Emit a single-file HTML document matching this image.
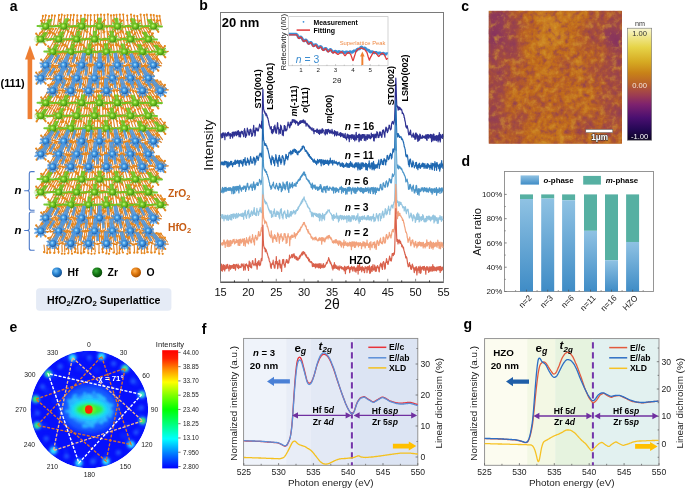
<!DOCTYPE html>
<html><head><meta charset="utf-8"><style>
html,body{margin:0;padding:0;background:#fff;width:685px;height:488px;overflow:hidden}
svg{display:block;font-family:"Liberation Sans", sans-serif;will-change:transform}
</style></head><body>
<svg width="685" height="488" viewBox="0 0 685 488">
<text x="9.80" y="10.60" font-size="14.00" font-weight="bold">a</text>
<defs>
<radialGradient id="gG" cx="0.4" cy="0.4" r="0.6"><stop offset="0" stop-color="#d8ff9a"/><stop offset="0.35" stop-color="#7fd12a"/><stop offset="1" stop-color="#3f8f10"/></radialGradient>
<radialGradient id="gB" cx="0.4" cy="0.4" r="0.6"><stop offset="0" stop-color="#c8f0ff"/><stop offset="0.35" stop-color="#4aa3ea"/><stop offset="1" stop-color="#1d5fae"/></radialGradient>
<radialGradient id="gO" cx="0.4" cy="0.4" r="0.6"><stop offset="0" stop-color="#ffc070"/><stop offset="0.5" stop-color="#e88a20"/><stop offset="1" stop-color="#b85c08"/></radialGradient>
<radialGradient id="gLB" cx="0.38" cy="0.35" r="0.65"><stop offset="0" stop-color="#7cc4f5"/><stop offset="0.5" stop-color="#2a86d4"/><stop offset="1" stop-color="#15508f"/></radialGradient>
<radialGradient id="gLG" cx="0.38" cy="0.35" r="0.65"><stop offset="0" stop-color="#3cae3c"/><stop offset="0.5" stop-color="#167a16"/><stop offset="1" stop-color="#0a4a0a"/></radialGradient>
<radialGradient id="gLO" cx="0.38" cy="0.35" r="0.65"><stop offset="0" stop-color="#ffb050"/><stop offset="0.5" stop-color="#e07a10"/><stop offset="1" stop-color="#a85000"/></radialGradient>
</defs>
<rect x="27.6" y="58.5" width="4.6" height="60.6" fill="#ee7e33"/>
<polygon points="25,59.5 30,45.3 35.1,59.5" fill="#ee7e33"/>
<text x="0.50" y="87.40" font-size="10.90" font-weight="bold">(111)</text>
<path d="M41.3 24.8l1.6 -8.9M44.2 24.8l1.6 -9.5M47.7 24.8l1.4 -8.8M50.6 24.8l1.4 -9.4M53.6 24.8l1.3 -9.1M57.7 24.8l1.2 -9.7M60.6 24.8l1.2 -10.1M63.6 24.8l1.0 -9.3M66.6 24.8l1.0 -9.7M69.9 24.8l0.9 -9.7M73.0 24.8l0.8 -9.9M76.6 24.8l0.7 -9.5M80.4 24.8l0.5 -9.2M84.4 24.8l0.5 -10.0M87.4 24.8l0.4 -9.5M90.4 24.8l0.3 -9.6M94.3 24.8l0.2 -9.7M97.5 24.8l0.1 -9.9M101.0 24.8l-0.0 -10.2M104.4 24.8l-0.1 -9.9M108.1 24.8l-0.3 -10.4M111.3 24.8l-0.3 -9.4M114.2 24.8l-0.4 -9.6M117.0 24.8l-0.5 -10.0M120.4 24.8l-0.6 -10.2M124.0 24.8l-0.7 -10.2M128.0 24.8l-0.8 -9.2M132.0 24.8l-1.0 -10.3M135.1 24.8l-1.0 -9.1M138.3 24.8l-1.0 -8.8M141.9 24.8l-1.3 -10.2M145.4 24.8l-1.3 -9.7M148.3 24.8l-1.5 -10.1M152.3 24.8l-1.6 -9.9M155.3 24.8l-1.6 -9.7M158.4 24.8l-1.6 -8.9M161.2 24.8l-1.6 -8.9M37.1 37.7l6.6 -8.8M39.8 37.7l6.1 -8.7M43.2 37.7l5.9 -9.1M45.6 37.7l5.6 -9.1M48.1 37.7l5.1 -8.7M51.0 37.7l4.9 -9.1M53.8 37.7l5.3 -10.6M56.9 37.7l4.5 -9.6M60.1 37.7l4.4 -10.3M62.7 37.7l3.9 -9.9M66.1 37.7l3.9 -11.1M69.3 37.7l3.5 -11.1M72.0 37.7l2.9 -9.9M74.6 37.7l2.9 -11.2M77.4 37.7l2.7 -11.7M80.7 37.7l2.1 -10.8M83.2 37.7l1.8 -10.5M86.5 37.7l1.6 -11.8M89.7 37.7l1.1 -10.4M93.0 37.7l0.8 -11.8M95.8 37.7l0.4 -10.7M98.5 37.7l0.2 -11.8M101.2 37.7l-0.1 -11.1M104.3 37.7l-0.5 -10.7M107.6 37.7l-0.9 -11.8M111.0 37.7l-1.3 -11.5M113.4 37.7l-1.4 -10.3M116.5 37.7l-1.8 -11.1M119.2 37.7l-2.3 -11.7M121.8 37.7l-2.3 -10.5M124.7 37.7l-2.6 -10.4M128.0 37.7l-3.0 -10.5M131.3 37.7l-3.4 -10.5M134.2 37.7l-3.8 -10.5M136.9 37.7l-3.8 -9.8M139.4 37.7l-4.3 -10.2M142.3 37.7l-4.5 -9.8M145.5 37.7l-4.6 -9.2M148.1 37.7l-5.4 -10.2M151.3 37.7l-5.8 -10.2M154.1 37.7l-5.7 -9.3M48.6 50.3l5.3 -9.2M51.7 50.3l5.3 -10.0M54.3 50.3l4.8 -9.7M57.5 50.3l4.2 -9.2M59.9 50.3l4.1 -9.5M63.0 50.3l4.2 -10.7M66.0 50.3l3.4 -9.6M69.4 50.3l3.1 -9.9M72.1 50.3l3.0 -10.4M75.4 50.3l2.5 -10.0M78.0 50.3l2.3 -10.1M80.4 50.3l2.1 -10.8M83.0 50.3l1.9 -11.0M86.4 50.3l1.5 -11.4M88.8 50.3l1.2 -10.5M91.4 50.3l0.9 -10.3M94.6 50.3l0.6 -10.5M97.5 50.3l0.3 -11.3M100.6 50.3l-0.1 -10.8M103.6 50.3l-0.4 -11.5M106.0 50.3l-0.7 -11.6M108.9 50.3l-1.0 -11.7M111.8 50.3l-1.2 -10.4M114.1 50.3l-1.5 -10.3M117.3 50.3l-1.8 -10.4M119.9 50.3l-2.0 -9.9M123.0 50.3l-2.5 -10.7M126.4 50.3l-2.7 -9.8M129.1 50.3l-3.1 -10.4M131.9 50.3l-3.4 -10.3M135.3 50.3l-3.7 -9.9M138.3 50.3l-4.2 -10.2M140.7 50.3l-4.0 -9.3M143.3 50.3l-4.3 -9.2M146.5 50.3l-5.0 -9.8M149.2 50.3l-5.1 -9.3M151.7 50.3l-5.8 -9.9M154.7 50.3l-5.4 -8.7M157.3 50.3l-5.7 -8.6M160.1 50.3l-6.1 -8.6M162.4 50.3l-6.0 -8.1M164.8 50.3l-6.0 -7.6M41.6 63.7l6.7 -9.8M43.9 63.7l6.6 -10.2M46.5 63.7l5.6 -9.2M48.8 63.7l5.3 -9.2M51.3 63.7l5.6 -10.3M53.7 63.7l4.9 -9.7M56.2 63.7l5.2 -11.0M58.4 63.7l5.0 -11.3M60.7 63.7l4.3 -10.2M62.8 63.7l4.0 -10.1M65.0 63.7l4.1 -11.2M67.3 63.7l3.8 -11.0M69.7 63.7l3.5 -11.1M71.4 63.7l3.4 -11.7M73.3 63.7l3.2 -11.7M75.9 63.7l2.8 -11.4M78.2 63.7l2.6 -12.0M80.5 63.7l2.1 -10.7M82.9 63.7l1.9 -11.2M84.6 63.7l1.7 -11.2M87.0 63.7l1.6 -12.0M89.1 63.7l1.3 -11.6M91.0 63.7l1.1 -12.7M92.7 63.7l0.9 -11.7M95.3 63.7l0.6 -11.7M97.8 63.7l0.2 -11.2M100.0 63.7l0.0 -12.7M102.1 63.7l-0.3 -12.5M104.0 63.7l-0.5 -12.6M105.7 63.7l-0.7 -11.8M107.6 63.7l-0.9 -11.5M109.3 63.7l-1.1 -12.2M111.1 63.7l-1.4 -12.5M113.6 63.7l-1.5 -11.3M116.2 63.7l-1.9 -11.8M118.1 63.7l-2.0 -10.7M120.1 63.7l-2.5 -12.3M122.3 63.7l-2.5 -10.9M124.8 63.7l-3.0 -11.9M127.3 63.7l-3.4 -12.1M129.0 63.7l-3.5 -11.6M131.3 63.7l-3.5 -10.7M133.1 63.7l-3.8 -11.0M135.5 63.7l-4.4 -11.8M137.4 63.7l-4.3 -10.9M139.3 63.7l-4.3 -10.2M141.4 63.7l-4.5 -10.1M144.0 63.7l-4.9 -10.3M145.8 63.7l-5.0 -10.0M147.8 63.7l-5.4 -10.3M150.1 63.7l-5.5 -9.9M152.2 63.7l-5.6 -9.6M154.7 63.7l-5.7 -9.1M157.2 63.7l-6.0 -9.1M159.3 63.7l-6.4 -9.3M161.7 63.7l-7.1 -9.7M37.1 76.6l6.5 -8.6M39.2 76.6l6.8 -9.4M41.7 76.6l6.6 -9.7M43.5 76.6l6.0 -9.2M46.1 76.6l5.9 -9.7M48.4 76.6l5.4 -9.4M50.8 76.6l5.0 -9.2M53.1 76.6l4.9 -9.5M55.4 76.6l5.0 -10.3M57.6 76.6l4.7 -10.2M59.8 76.6l4.0 -9.4M62.4 76.6l4.2 -10.6M64.5 76.6l3.7 -10.0M66.8 76.6l3.5 -10.2M69.1 76.6l3.4 -10.5M71.7 76.6l3.0 -10.3M73.8 76.6l3.0 -11.1M76.1 76.6l2.7 -10.9M78.1 76.6l2.6 -11.5M80.5 76.6l2.1 -10.6M82.6 76.6l1.8 -10.5M84.9 76.6l1.8 -11.9M86.8 76.6l1.6 -12.0M88.6 76.6l1.3 -11.0M91.1 76.6l1.0 -11.7M93.6 76.6l0.7 -10.9M96.0 76.6l0.4 -10.4M98.0 76.6l0.2 -11.0M99.7 76.6l0.0 -10.9M101.5 76.6l-0.2 -12.1M104.0 76.6l-0.5 -11.9M106.1 76.6l-0.7 -11.0M108.0 76.6l-0.9 -11.0M109.7 76.6l-1.1 -11.1M112.1 76.6l-1.3 -10.3M114.6 76.6l-1.6 -10.7M117.1 76.6l-1.9 -10.8M119.4 76.6l-2.1 -10.6M121.4 76.6l-2.3 -10.6M123.9 76.6l-2.7 -11.1M125.6 76.6l-2.7 -10.4M128.2 76.6l-3.1 -10.5M130.3 76.6l-3.6 -11.4M132.7 76.6l-3.8 -11.1M134.9 76.6l-3.7 -10.2M137.3 76.6l-3.8 -9.6M139.3 76.6l-4.0 -9.5M141.2 76.6l-4.8 -10.9M143.8 76.6l-4.5 -9.6M146.0 76.6l-5.1 -10.2M148.1 76.6l-5.2 -9.9M150.4 76.6l-5.7 -10.1M152.2 76.6l-5.9 -10.0M154.3 76.6l-6.0 -9.7M48.0 89.2l5.7 -9.8M50.1 89.2l5.6 -10.1M52.5 89.2l5.1 -9.7M54.3 89.2l4.8 -9.6M56.8 89.2l4.9 -10.4M58.6 89.2l4.1 -9.3M60.8 89.2l4.4 -10.7M62.9 89.2l3.8 -9.7M65.5 89.2l3.4 -9.5M67.3 89.2l3.4 -10.0M69.3 89.2l3.3 -10.5M71.2 89.2l2.8 -9.6M73.0 89.2l2.8 -10.2M75.2 89.2l2.5 -9.8M77.4 89.2l2.5 -10.9M79.7 89.2l2.2 -10.5M82.3 89.2l1.9 -10.4M84.4 89.2l1.8 -11.5M86.4 89.2l1.4 -10.3M88.3 89.2l1.2 -10.0M90.4 89.2l1.1 -11.5M92.5 89.2l0.8 -10.3M94.8 89.2l0.6 -11.7M96.8 89.2l0.4 -11.0M99.0 89.2l0.1 -11.7M101.4 89.2l-0.2 -11.8M103.9 89.2l-0.5 -11.8M106.5 89.2l-0.7 -10.7M108.7 89.2l-1.0 -11.5M110.6 89.2l-1.1 -10.7M113.1 89.2l-1.3 -10.3M115.2 89.2l-1.6 -10.6M117.6 89.2l-2.0 -11.5M120.0 89.2l-2.0 -9.9M121.8 89.2l-2.4 -10.8M123.8 89.2l-2.5 -10.5M126.0 89.2l-2.8 -10.4M128.3 89.2l-3.0 -10.4M130.7 89.2l-3.3 -10.3M132.5 89.2l-3.3 -9.6M134.6 89.2l-3.7 -10.2M136.4 89.2l-4.0 -10.5M138.5 89.2l-3.8 -9.3M141.1 89.2l-4.1 -9.3M143.7 89.2l-4.8 -10.1M145.6 89.2l-5.1 -10.4M148.1 89.2l-4.7 -8.9M150.6 89.2l-4.9 -8.6M152.5 89.2l-5.8 -9.8M154.3 89.2l-5.6 -9.1M156.2 89.2l-5.5 -8.6M157.9 89.2l-5.6 -8.3M160.2 89.2l-6.5 -9.2M162.0 89.2l-6.3 -8.5M164.1 89.2l-6.8 -8.8M166.5 89.2l-6.2 -7.6M41.4 101.4l6.0 -8.8M44.3 101.4l5.4 -8.4M47.1 101.4l5.0 -8.3M49.5 101.4l5.3 -9.4M52.8 101.4l4.8 -9.3M55.5 101.4l4.1 -8.5M58.5 101.4l4.2 -9.4M60.9 101.4l3.8 -9.2M63.2 101.4l3.4 -8.9M65.9 101.4l3.3 -9.4M68.5 101.4l3.3 -10.1M71.8 101.4l2.8 -9.6M74.8 101.4l2.8 -10.8M77.5 101.4l2.2 -9.8M80.5 101.4l2.0 -10.1M83.2 101.4l1.9 -11.1M85.8 101.4l1.6 -11.1M88.6 101.4l1.1 -10.0M90.9 101.4l1.0 -10.6M93.3 101.4l0.7 -10.0M96.2 101.4l0.4 -10.8M98.7 101.4l0.1 -10.2M102.0 101.4l-0.2 -11.0M104.3 101.4l-0.5 -11.1M107.1 101.4l-0.8 -10.9M109.5 101.4l-1.0 -10.0M112.6 101.4l-1.4 -10.8M115.7 101.4l-1.6 -10.0M118.9 101.4l-2.0 -10.4M122.2 101.4l-2.2 -9.8M124.5 101.4l-2.4 -9.8M127.9 101.4l-3.0 -10.5M130.5 101.4l-3.0 -9.5M133.5 101.4l-3.6 -10.2M136.9 101.4l-3.8 -9.6M140.0 101.4l-4.3 -10.1M142.9 101.4l-4.2 -9.1M145.3 101.4l-4.9 -9.9M147.7 101.4l-5.1 -9.8M150.0 101.4l-4.6 -8.3M153.0 101.4l-5.4 -9.1M155.4 101.4l-5.5 -8.8M158.6 101.4l-6.1 -9.0M161.9 101.4l-6.4 -8.8M35.9 114.3l7.0 -9.1M38.8 114.3l6.7 -9.3M41.5 114.3l5.7 -8.4M44.0 114.3l5.7 -8.9M46.6 114.3l5.5 -9.0M49.3 114.3l5.2 -9.3M52.1 114.3l5.4 -10.3M54.5 114.3l4.8 -9.7M57.1 114.3l4.8 -10.4M60.4 114.3l4.0 -9.5M62.9 114.3l3.7 -9.5M66.3 114.3l3.4 -9.7M69.4 114.3l3.2 -10.1M72.7 114.3l2.9 -10.3M75.3 114.3l2.6 -10.4M78.1 114.3l2.3 -10.3M80.5 114.3l2.3 -11.5M83.7 114.3l1.9 -11.3M86.4 114.3l1.6 -11.9M88.7 114.3l1.2 -10.7M91.6 114.3l0.9 -11.0M94.1 114.3l0.7 -11.2M97.3 114.3l0.3 -11.5M99.7 114.3l0.0 -11.9M102.9 114.3l-0.3 -10.7M105.8 114.3l-0.6 -10.6M108.3 114.3l-0.9 -10.7M111.6 114.3l-1.2 -10.6M114.2 114.3l-1.6 -11.2M116.7 114.3l-2.0 -12.0M119.2 114.3l-2.3 -11.9M122.5 114.3l-2.6 -11.5M125.3 114.3l-2.7 -10.3M127.7 114.3l-2.9 -10.2M130.5 114.3l-3.5 -11.2M133.3 114.3l-3.7 -10.8M136.3 114.3l-3.9 -10.2M139.6 114.3l-4.3 -10.1M142.4 114.3l-4.4 -9.6M145.6 114.3l-5.1 -10.3M148.9 114.3l-5.4 -10.0M151.7 114.3l-5.3 -9.2M154.1 114.3l-5.6 -9.2M48.7 126.9l5.1 -8.9M51.7 126.9l4.9 -9.3M55.1 126.9l4.5 -9.1M58.2 126.9l4.3 -9.6M60.5 126.9l4.2 -10.0M63.9 126.9l3.9 -10.1M66.8 126.9l3.7 -10.6M70.0 126.9l3.2 -10.4M72.5 126.9l3.0 -10.8M75.0 126.9l2.9 -11.4M77.6 126.9l2.4 -10.5M80.3 126.9l2.2 -11.1M82.9 126.9l1.9 -11.2M85.7 126.9l1.5 -10.3M88.5 126.9l1.2 -10.4M91.7 126.9l0.9 -11.2M94.2 126.9l0.7 -11.8M97.4 126.9l0.3 -11.5M100.3 126.9l-0.0 -10.3M103.0 126.9l-0.3 -11.6M105.6 126.9l-0.6 -10.8M108.7 126.9l-0.9 -10.5M111.5 126.9l-1.2 -10.8M114.5 126.9l-1.5 -10.6M117.8 126.9l-1.8 -10.0M121.1 126.9l-2.4 -11.2M124.1 126.9l-2.4 -9.7M127.1 126.9l-2.8 -10.1M129.6 126.9l-3.3 -10.9M132.9 126.9l-3.7 -10.7M135.9 126.9l-4.0 -10.6M139.2 126.9l-4.3 -10.4M141.7 126.9l-4.5 -10.1M144.5 126.9l-5.0 -10.3M147.1 126.9l-4.6 -9.0M149.9 126.9l-4.9 -8.8M152.8 126.9l-5.8 -9.7M155.6 126.9l-5.7 -9.1M158.8 126.9l-5.9 -8.6M161.2 126.9l-6.3 -8.7M163.5 126.9l-6.5 -8.5M166.8 126.9l-6.4 -7.9M41.5 139.7l6.5 -9.5M43.8 139.7l5.7 -8.8M45.8 139.7l5.6 -9.2M47.7 139.7l5.4 -9.3M50.2 139.7l5.1 -9.2M52.2 139.7l5.1 -9.7M54.8 139.7l4.9 -10.1M56.8 139.7l4.5 -9.6M59.1 139.7l4.6 -10.5M61.6 139.7l4.2 -10.3M63.3 139.7l3.8 -9.7M65.5 139.7l3.8 -10.6M68.0 139.7l3.5 -10.7M70.3 139.7l3.3 -10.9M72.2 139.7l3.1 -10.9M74.0 139.7l2.7 -10.2M76.5 139.7l2.6 -11.1M78.9 139.7l2.3 -11.0M81.0 139.7l2.0 -10.6M83.5 139.7l1.7 -10.2M85.3 139.7l1.7 -11.6M87.4 139.7l1.3 -10.2M90.0 139.7l1.2 -12.0M91.8 139.7l0.9 -11.4M93.5 139.7l0.7 -10.2M95.3 139.7l0.6 -12.0M97.1 139.7l0.3 -10.3M99.0 139.7l0.1 -11.6M101.4 139.7l-0.2 -11.6M103.8 139.7l-0.4 -10.4M106.1 139.7l-0.7 -11.1M108.1 139.7l-1.0 -12.0M109.8 139.7l-1.0 -10.2M112.2 139.7l-1.3 -10.3M114.0 139.7l-1.6 -11.7M116.1 139.7l-1.8 -11.1M117.9 139.7l-2.1 -11.5M120.2 139.7l-2.2 -10.8M122.7 139.7l-2.6 -11.3M124.5 139.7l-2.9 -11.6M126.9 139.7l-2.9 -10.4M129.5 139.7l-3.4 -11.2M131.5 139.7l-3.4 -10.4M133.5 139.7l-3.8 -10.7M136.0 139.7l-4.1 -10.8M138.0 139.7l-4.0 -10.1M140.5 139.7l-4.0 -9.3M142.9 139.7l-4.9 -10.5M145.4 139.7l-5.1 -10.3M147.9 139.7l-5.0 -9.4M150.3 139.7l-5.0 -9.0M152.8 139.7l-5.3 -8.9M155.1 139.7l-5.7 -9.1M157.5 139.7l-6.3 -9.4M160.0 139.7l-6.5 -9.2M162.5 139.7l-6.8 -9.2M36.1 152.6l6.3 -8.1M38.1 152.6l6.5 -8.8M39.9 152.6l5.8 -8.2M42.0 152.6l5.7 -8.5M44.4 152.6l5.5 -8.7M46.6 152.6l5.2 -8.6M49.0 152.6l5.4 -9.5M51.4 152.6l5.1 -9.6M53.8 152.6l5.2 -10.4M55.8 152.6l4.4 -9.2M57.5 152.6l4.3 -9.3M59.6 152.6l4.7 -10.9M61.4 152.6l4.3 -10.4M64.0 152.6l3.8 -10.0M66.5 152.6l3.8 -10.8M68.4 152.6l3.7 -11.4M70.3 152.6l3.0 -9.9M72.8 152.6l3.2 -11.5M74.5 152.6l3.0 -11.3M76.8 152.6l2.8 -11.8M79.2 152.6l2.5 -11.8M81.2 152.6l2.1 -11.2M83.0 152.6l1.8 -10.8M85.1 152.6l1.6 -10.5M87.4 152.6l1.3 -10.3M89.3 152.6l1.1 -10.3M91.2 152.6l1.1 -12.0M93.7 152.6l0.7 -10.6M96.2 152.6l0.4 -11.9M98.3 152.6l0.2 -11.0M100.4 152.6l-0.1 -11.5M102.2 152.6l-0.3 -11.7M104.7 152.6l-0.5 -10.8M106.6 152.6l-0.8 -11.9M108.8 152.6l-1.0 -10.9M110.6 152.6l-1.3 -12.1M112.9 152.6l-1.4 -10.6M114.8 152.6l-1.6 -10.6M117.4 152.6l-2.1 -11.8M119.9 152.6l-2.1 -10.2M121.9 152.6l-2.6 -11.8M123.9 152.6l-2.5 -10.2M126.0 152.6l-2.7 -10.3M127.9 152.6l-3.1 -10.9M130.3 152.6l-3.5 -11.0M132.1 152.6l-3.6 -10.8M134.0 152.6l-3.8 -10.7M136.4 152.6l-4.0 -10.5M138.8 152.6l-4.2 -10.1M140.5 152.6l-4.6 -10.7M143.0 152.6l-4.6 -10.0M145.1 152.6l-5.2 -10.5M147.6 152.6l-5.0 -9.5M149.8 152.6l-4.9 -8.8M152.0 152.6l-5.2 -8.9M154.4 152.6l-6.1 -9.9M48.9 165.2l4.9 -8.6M51.5 165.2l5.0 -9.4M53.7 165.2l4.5 -8.8M55.6 165.2l4.4 -9.2M58.0 165.2l4.1 -9.1M59.9 165.2l3.9 -9.1M62.1 165.2l4.2 -10.4M64.4 165.2l3.5 -9.4M66.5 165.2l3.4 -9.9M68.4 165.2l3.4 -10.5M70.2 165.2l3.2 -10.5M72.1 165.2l3.2 -11.0M74.1 165.2l2.8 -10.4M76.3 165.2l2.5 -10.4M78.7 165.2l2.2 -10.4M80.8 165.2l2.2 -11.6M83.3 165.2l1.9 -11.3M85.0 165.2l1.6 -10.9M87.6 165.2l1.3 -10.4M89.6 165.2l1.1 -11.0M91.8 165.2l0.8 -10.1M94.2 165.2l0.7 -11.7M96.6 165.2l0.4 -11.7M98.3 165.2l0.2 -11.2M100.3 165.2l-0.0 -11.0M102.5 165.2l-0.3 -10.5M105.1 165.2l-0.5 -10.6M106.9 165.2l-0.8 -11.1M109.0 165.2l-0.9 -10.5M110.9 165.2l-1.1 -10.2M112.9 165.2l-1.4 -10.5M115.1 165.2l-1.7 -11.4M117.4 165.2l-1.9 -11.0M119.5 165.2l-2.1 -10.8M121.6 165.2l-2.3 -10.3M123.8 165.2l-2.5 -10.4M125.8 165.2l-2.9 -11.2M127.9 165.2l-2.9 -10.1M129.9 165.2l-3.3 -10.8M132.4 165.2l-3.4 -10.2M134.5 165.2l-3.8 -10.6M137.0 165.2l-4.1 -10.5M139.0 165.2l-4.2 -10.3M141.5 165.2l-4.6 -10.4M143.9 165.2l-4.8 -10.1M146.2 165.2l-5.2 -10.2M147.9 165.2l-5.2 -9.9M150.5 165.2l-5.3 -9.4M153.0 165.2l-5.6 -9.3M155.1 165.2l-5.9 -9.3M157.3 165.2l-5.7 -8.7M159.7 165.2l-6.1 -8.7M161.7 165.2l-5.9 -8.0M163.5 165.2l-6.8 -9.0M165.9 165.2l-7.1 -8.8M40.8 177.8l5.6 -8.1M44.1 177.8l6.0 -9.3M47.0 177.8l5.5 -9.2M49.7 177.8l5.1 -9.1M53.1 177.8l5.0 -9.8M55.8 177.8l4.6 -9.5M59.0 177.8l4.6 -10.6M62.0 177.8l4.4 -10.8M65.2 177.8l3.5 -9.6M68.4 177.8l3.4 -10.3M71.5 177.8l3.2 -11.0M74.8 177.8l2.7 -10.4M77.6 177.8l2.4 -10.6M80.6 177.8l2.1 -10.9M83.6 177.8l1.6 -10.0M86.3 177.8l1.5 -11.2M89.5 177.8l1.2 -11.1M92.0 177.8l0.9 -10.9M95.0 177.8l0.5 -11.0M98.0 177.8l0.2 -10.8M101.1 177.8l-0.1 -10.3M104.0 177.8l-0.5 -11.5M107.2 177.8l-0.7 -10.2M109.8 177.8l-1.1 -11.3M112.4 177.8l-1.3 -10.2M115.3 177.8l-1.6 -10.5M117.7 177.8l-2.0 -11.5M120.5 177.8l-2.3 -10.9M123.8 177.8l-2.7 -11.2M127.0 177.8l-2.8 -10.1M130.4 177.8l-3.2 -10.4M132.9 177.8l-3.5 -10.1M135.5 177.8l-3.7 -9.8M138.3 177.8l-4.3 -10.5M141.0 177.8l-4.1 -9.4M143.6 177.8l-4.6 -9.8M146.3 177.8l-4.8 -9.4M149.6 177.8l-5.0 -9.1M152.2 177.8l-5.2 -8.8M154.8 177.8l-5.3 -8.5M157.2 177.8l-5.6 -8.5M159.7 177.8l-6.0 -8.6M36.0 190.7l6.4 -8.4M38.8 190.7l6.8 -9.5M41.6 190.7l5.8 -8.6M44.7 190.7l5.6 -8.9M47.6 190.7l5.4 -9.2M50.2 190.7l5.6 -10.2M53.1 190.7l4.8 -9.4M55.8 190.7l4.9 -10.2M58.5 190.7l4.2 -9.4M61.2 190.7l4.3 -10.5M63.9 190.7l3.9 -10.4M66.5 190.7l3.5 -10.0M69.1 190.7l3.3 -10.5M72.3 190.7l3.3 -11.4M74.7 190.7l2.7 -10.4M77.7 190.7l2.4 -10.7M80.8 190.7l2.0 -10.6M83.5 190.7l1.9 -11.3M86.8 190.7l1.5 -11.6M89.2 190.7l1.1 -10.4M91.8 190.7l0.9 -11.0M94.8 190.7l0.6 -10.7M97.7 190.7l0.3 -11.7M100.8 190.7l-0.1 -11.0M103.9 190.7l-0.4 -10.9M106.9 190.7l-0.7 -10.4M110.1 190.7l-1.1 -10.7M113.2 190.7l-1.4 -10.4M115.9 190.7l-1.8 -11.6M118.5 190.7l-1.9 -10.3M121.3 190.7l-2.5 -11.7M124.4 190.7l-2.9 -11.5M127.2 190.7l-2.8 -10.0M130.0 190.7l-3.3 -10.7M132.4 190.7l-3.7 -11.0M135.6 190.7l-3.7 -10.0M138.6 190.7l-4.2 -10.3M141.3 190.7l-4.4 -10.0M143.7 190.7l-4.9 -10.3M146.3 190.7l-4.8 -9.4M149.6 190.7l-5.2 -9.4M152.1 190.7l-5.6 -9.6M48.9 203.3l5.0 -8.8M51.9 203.3l5.0 -9.4M55.1 203.3l4.4 -9.0M57.6 203.3l4.1 -9.1M60.7 203.3l4.1 -9.9M63.5 203.3l3.8 -9.9M65.8 203.3l3.9 -11.0M68.2 203.3l3.5 -10.7M71.2 203.3l2.9 -9.7M73.7 203.3l2.9 -10.6M76.7 203.3l2.6 -10.8M79.7 203.3l2.1 -10.3M82.0 203.3l2.0 -11.2M84.6 203.3l1.6 -10.3M87.9 203.3l1.4 -11.6M91.1 203.3l1.0 -11.4M94.3 203.3l0.6 -10.6M97.0 203.3l0.3 -11.6M99.9 203.3l0.0 -11.2M103.0 203.3l-0.3 -11.7M105.8 203.3l-0.6 -10.9M108.8 203.3l-0.9 -10.2M111.3 203.3l-1.2 -10.8M113.7 203.3l-1.4 -10.0M116.8 203.3l-1.7 -9.9M120.0 203.3l-2.3 -11.2M123.0 203.3l-2.5 -10.6M125.8 203.3l-2.9 -10.8M129.1 203.3l-2.9 -9.8M132.0 203.3l-3.3 -10.0M134.7 203.3l-3.7 -10.1M138.0 203.3l-4.3 -10.6M141.3 203.3l-4.4 -10.0M143.7 203.3l-4.7 -10.0M146.3 203.3l-4.9 -9.7M149.2 203.3l-5.2 -9.6M152.4 203.3l-5.0 -8.5M155.2 203.3l-5.3 -8.4M157.9 203.3l-6.0 -8.9M160.9 203.3l-6.0 -8.4M164.1 203.3l-6.5 -8.4M166.7 203.3l-6.2 -7.6M41.6 216.5l6.0 -8.8M43.8 216.5l6.2 -9.6M45.6 216.5l5.8 -9.5M47.8 216.5l5.9 -10.1M49.6 216.5l6.0 -10.6M51.3 216.5l5.6 -10.5M53.9 216.5l5.1 -10.2M55.7 216.5l5.1 -10.7M57.8 216.5l4.3 -9.5M59.7 216.5l4.6 -10.8M62.0 216.5l4.5 -11.2M64.5 216.5l3.8 -10.1M66.5 216.5l3.9 -11.3M68.9 216.5l3.3 -10.2M71.5 216.5l3.4 -11.4M73.3 216.5l3.1 -11.2M75.1 216.5l3.0 -11.9M77.0 216.5l2.5 -10.7M79.2 216.5l2.2 -10.6M81.7 216.5l2.0 -10.8M84.0 216.5l1.8 -11.2M86.2 216.5l1.6 -11.8M88.7 216.5l1.2 -10.6M90.9 216.5l1.1 -12.2M92.6 216.5l0.8 -11.0M94.9 216.5l0.6 -11.4M97.4 216.5l0.3 -11.4M99.6 216.5l0.0 -10.8M102.1 216.5l-0.2 -11.8M104.1 216.5l-0.5 -11.5M106.2 216.5l-0.7 -10.6M107.9 216.5l-0.9 -11.5M109.6 216.5l-1.0 -10.9M111.6 216.5l-1.3 -11.1M113.8 216.5l-1.6 -11.5M116.4 216.5l-1.7 -10.5M118.9 216.5l-2.3 -11.9M121.1 216.5l-2.4 -11.0M123.6 216.5l-2.9 -12.0M125.6 216.5l-3.0 -11.6M127.7 216.5l-3.2 -11.3M129.8 216.5l-3.1 -10.2M132.4 216.5l-3.6 -10.8M134.3 216.5l-3.8 -10.5M136.8 216.5l-4.1 -10.6M138.8 216.5l-4.1 -10.0M140.7 216.5l-4.7 -10.8M142.8 216.5l-5.1 -11.0M144.6 216.5l-5.0 -10.3M146.6 216.5l-5.4 -10.5M148.4 216.5l-5.3 -9.9M150.3 216.5l-5.3 -9.5M152.3 216.5l-5.9 -10.0M154.2 216.5l-6.0 -9.7M156.4 216.5l-5.8 -8.9M159.0 216.5l-6.4 -9.4M161.5 216.5l-6.4 -8.8M37.1 229.4l6.7 -8.9M39.0 229.4l6.2 -8.6M41.3 229.4l6.0 -8.8M43.3 229.4l5.5 -8.5M45.6 229.4l5.6 -9.0M47.5 229.4l5.5 -9.4M49.7 229.4l5.8 -10.3M52.0 229.4l5.0 -9.5M53.9 229.4l5.2 -10.3M56.0 229.4l4.8 -10.0M58.2 229.4l4.6 -10.3M60.2 229.4l4.5 -10.6M62.6 229.4l4.0 -10.0M65.2 229.4l3.8 -10.4M67.7 229.4l3.3 -9.9M70.0 229.4l3.5 -11.1M71.9 229.4l3.2 -11.2M73.7 229.4l2.7 -10.0M75.6 229.4l2.9 -11.7M77.4 229.4l2.6 -11.4M79.3 229.4l2.1 -10.1M81.2 229.4l2.3 -11.9M83.2 229.4l2.0 -11.6M85.7 229.4l1.5 -10.4M87.5 229.4l1.4 -11.4M89.2 229.4l1.2 -11.3M91.8 229.4l0.9 -11.5M93.7 229.4l0.7 -11.1M96.1 229.4l0.4 -11.5M98.0 229.4l0.2 -11.4M100.5 229.4l-0.1 -10.9M102.9 229.4l-0.3 -10.9M105.4 229.4l-0.6 -10.6M107.7 229.4l-0.9 -11.2M109.6 229.4l-1.1 -11.9M112.0 229.4l-1.3 -10.6M114.6 229.4l-1.6 -10.8M117.2 229.4l-1.8 -10.2M119.0 229.4l-2.2 -11.5M121.4 229.4l-2.2 -10.2M123.7 229.4l-2.8 -11.6M125.4 229.4l-2.7 -10.4M127.8 229.4l-2.8 -9.9M129.8 229.4l-3.1 -10.0M131.8 229.4l-3.7 -11.2M133.6 229.4l-3.6 -10.4M135.5 229.4l-4.0 -10.8M137.5 229.4l-4.1 -10.3M139.5 229.4l-4.1 -9.7M142.0 229.4l-4.7 -10.5M143.9 229.4l-4.4 -9.3M146.0 229.4l-5.0 -9.9M148.3 229.4l-5.3 -10.0M150.7 229.4l-5.8 -10.3M153.0 229.4l-5.5 -9.2M48.4 242.0l5.2 -9.1M51.0 242.0l4.7 -8.6M53.5 242.0l4.7 -9.2M55.6 242.0l4.5 -9.3M58.0 242.0l4.6 -10.3M59.8 242.0l4.4 -10.2M61.9 242.0l3.9 -9.7M63.7 242.0l4.0 -10.5M65.8 242.0l3.7 -10.4M67.7 242.0l3.5 -10.5M69.8 242.0l3.4 -10.7M72.0 242.0l3.1 -10.8M74.2 242.0l2.7 -10.0M76.1 242.0l2.7 -11.3M78.3 242.0l2.3 -10.6M80.8 242.0l2.1 -10.8M83.3 242.0l1.7 -10.3M85.4 242.0l1.6 -11.1M87.9 242.0l1.4 -11.5M90.3 242.0l1.1 -11.5M92.3 242.0l0.8 -10.2M94.4 242.0l0.6 -10.9M97.0 242.0l0.3 -11.3M99.5 242.0l0.1 -11.4M101.5 242.0l-0.2 -11.0M103.5 242.0l-0.4 -10.7M105.7 242.0l-0.6 -10.2M107.7 242.0l-0.8 -10.6M109.4 242.0l-1.1 -11.2M111.3 242.0l-1.2 -10.7M113.6 242.0l-1.4 -10.6M115.6 242.0l-1.8 -11.2M117.9 242.0l-2.0 -11.3M120.1 242.0l-2.3 -11.4M122.4 242.0l-2.4 -10.4M124.4 242.0l-2.4 -9.8M126.5 242.0l-2.9 -10.5M128.9 242.0l-2.9 -9.6M131.0 242.0l-3.5 -10.9M133.5 242.0l-3.5 -10.1M135.9 242.0l-3.9 -10.4M138.0 242.0l-3.7 -9.3M140.2 242.0l-4.4 -10.3M142.0 242.0l-4.2 -9.4M143.8 242.0l-4.3 -9.1M146.0 242.0l-4.5 -8.9M148.3 242.0l-5.0 -9.4M150.4 242.0l-5.3 -9.4M152.8 242.0l-5.8 -9.7M155.0 242.0l-5.2 -8.3M157.0 242.0l-5.6 -8.5M159.4 242.0l-6.1 -8.8M161.2 242.0l-6.0 -8.3M163.6 242.0l-6.8 -8.9M165.3 242.0l-6.6 -8.3M167.5 242.0l-6.7 -8.3M44.0 245.0l0.8 7.6M47.1 245.0l0.1 7.3M50.3 245.0l-0.5 8.1M54.2 245.0l0.6 7.7M58.6 245.0l-0.1 8.3M61.9 245.0l0.3 6.6M64.6 245.0l0.2 6.9M68.2 245.0l0.6 7.5M72.0 245.0l-0.4 6.9M74.8 245.0l0.8 6.9M77.5 245.0l0.6 8.4M81.3 245.0l-0.5 8.3M84.2 245.0l-0.9 7.9M88.3 245.0l-0.4 7.0M91.5 245.0l0.1 6.8M94.6 245.0l0.7 6.8M99.1 245.0l-0.2 6.6M102.9 245.0l-0.6 7.6M106.3 245.0l0.5 7.4M109.0 245.0l0.7 6.7M113.5 245.0l0.9 7.6M116.7 245.0l0.5 7.5M119.4 245.0l-0.0 8.2M123.0 245.0l-0.8 6.8M127.3 245.0l0.7 7.0M129.8 245.0l0.2 8.4M134.2 245.0l0.3 6.6M137.6 245.0l-0.5 8.0M141.7 245.0l-0.4 6.6M144.4 245.0l0.1 8.1M147.8 245.0l-0.9 7.5M151.6 245.0l-0.7 7.7M154.8 245.0l0.3 6.8M159.2 245.0l-0.3 8.2M162.7 245.0l-0.7 6.7" stroke="#e0852a" stroke-width="1.15" fill="none" stroke-linecap="round"/>
<path d="M45.8 26.3l-4.6 -5.5M45.8 26.3l4.4 -5.8M45.8 26.3l-4.2 5.6M45.8 26.3l4.8 5.5M63.8 26.3l-4.6 -5.5M63.8 26.3l4.4 -5.8M63.8 26.3l-4.2 5.6M63.8 26.3l4.8 5.5M81.7 26.3l-4.6 -5.5M81.7 26.3l4.4 -5.8M81.7 26.3l-4.2 5.6M81.7 26.3l4.8 5.5M99.6 26.3l-4.6 -5.5M99.6 26.3l4.4 -5.8M99.6 26.3l-4.2 5.6M99.6 26.3l4.8 5.5M117.6 26.3l-4.6 -5.5M117.6 26.3l4.4 -5.8M117.6 26.3l-4.2 5.6M117.6 26.3l4.8 5.5M135.6 26.3l-4.6 -5.5M135.6 26.3l4.4 -5.8M135.6 26.3l-4.2 5.6M135.6 26.3l4.8 5.5M153.5 26.3l-4.6 -5.5M153.5 26.3l4.4 -5.8M153.5 26.3l-4.2 5.6M153.5 26.3l4.8 5.5M40.8 39.2l-4.6 -5.5M40.8 39.2l4.4 -5.8M40.8 39.2l-4.2 5.6M40.8 39.2l4.8 5.5M58.8 39.2l-4.6 -5.5M58.8 39.2l4.4 -5.8M58.8 39.2l-4.2 5.6M58.8 39.2l4.8 5.5M76.7 39.2l-4.6 -5.5M76.7 39.2l4.4 -5.8M76.7 39.2l-4.2 5.6M76.7 39.2l4.8 5.5M94.6 39.2l-4.6 -5.5M94.6 39.2l4.4 -5.8M94.6 39.2l-4.2 5.6M94.6 39.2l4.8 5.5M112.6 39.2l-4.6 -5.5M112.6 39.2l4.4 -5.8M112.6 39.2l-4.2 5.6M112.6 39.2l4.8 5.5M130.6 39.2l-4.6 -5.5M130.6 39.2l4.4 -5.8M130.6 39.2l-4.2 5.6M130.6 39.2l4.8 5.5M148.5 39.2l-4.6 -5.5M148.5 39.2l4.4 -5.8M148.5 39.2l-4.2 5.6M148.5 39.2l4.8 5.5M52.8 51.8l-4.6 -5.5M52.8 51.8l4.4 -5.8M52.8 51.8l-4.2 5.6M52.8 51.8l4.8 5.5M70.8 51.8l-4.6 -5.5M70.8 51.8l4.4 -5.8M70.8 51.8l-4.2 5.6M70.8 51.8l4.8 5.5M88.7 51.8l-4.6 -5.5M88.7 51.8l4.4 -5.8M88.7 51.8l-4.2 5.6M88.7 51.8l4.8 5.5M106.6 51.8l-4.6 -5.5M106.6 51.8l4.4 -5.8M106.6 51.8l-4.2 5.6M106.6 51.8l4.8 5.5M124.6 51.8l-4.6 -5.5M124.6 51.8l4.4 -5.8M124.6 51.8l-4.2 5.6M124.6 51.8l4.8 5.5M142.6 51.8l-4.6 -5.5M142.6 51.8l4.4 -5.8M142.6 51.8l-4.2 5.6M142.6 51.8l4.8 5.5M160.5 51.8l-4.6 -5.5M160.5 51.8l4.4 -5.8M160.5 51.8l-4.2 5.6M160.5 51.8l4.8 5.5M45.8 65.2l-4.6 -5.5M45.8 65.2l4.4 -5.8M45.8 65.2l-4.2 5.6M45.8 65.2l4.8 5.5M63.8 65.2l-4.6 -5.5M63.8 65.2l4.4 -5.8M63.8 65.2l-4.2 5.6M63.8 65.2l4.8 5.5M81.7 65.2l-4.6 -5.5M81.7 65.2l4.4 -5.8M81.7 65.2l-4.2 5.6M81.7 65.2l4.8 5.5M99.6 65.2l-4.6 -5.5M99.6 65.2l4.4 -5.8M99.6 65.2l-4.2 5.6M99.6 65.2l4.8 5.5M117.6 65.2l-4.6 -5.5M117.6 65.2l4.4 -5.8M117.6 65.2l-4.2 5.6M117.6 65.2l4.8 5.5M135.6 65.2l-4.6 -5.5M135.6 65.2l4.4 -5.8M135.6 65.2l-4.2 5.6M135.6 65.2l4.8 5.5M153.5 65.2l-4.6 -5.5M153.5 65.2l4.4 -5.8M153.5 65.2l-4.2 5.6M153.5 65.2l4.8 5.5M40.8 78.1l-4.6 -5.5M40.8 78.1l4.4 -5.8M40.8 78.1l-4.2 5.6M40.8 78.1l4.8 5.5M58.8 78.1l-4.6 -5.5M58.8 78.1l4.4 -5.8M58.8 78.1l-4.2 5.6M58.8 78.1l4.8 5.5M76.7 78.1l-4.6 -5.5M76.7 78.1l4.4 -5.8M76.7 78.1l-4.2 5.6M76.7 78.1l4.8 5.5M94.6 78.1l-4.6 -5.5M94.6 78.1l4.4 -5.8M94.6 78.1l-4.2 5.6M94.6 78.1l4.8 5.5M112.6 78.1l-4.6 -5.5M112.6 78.1l4.4 -5.8M112.6 78.1l-4.2 5.6M112.6 78.1l4.8 5.5M130.6 78.1l-4.6 -5.5M130.6 78.1l4.4 -5.8M130.6 78.1l-4.2 5.6M130.6 78.1l4.8 5.5M148.5 78.1l-4.6 -5.5M148.5 78.1l4.4 -5.8M148.5 78.1l-4.2 5.6M148.5 78.1l4.8 5.5M52.8 90.7l-4.6 -5.5M52.8 90.7l4.4 -5.8M52.8 90.7l-4.2 5.6M52.8 90.7l4.8 5.5M70.8 90.7l-4.6 -5.5M70.8 90.7l4.4 -5.8M70.8 90.7l-4.2 5.6M70.8 90.7l4.8 5.5M88.7 90.7l-4.6 -5.5M88.7 90.7l4.4 -5.8M88.7 90.7l-4.2 5.6M88.7 90.7l4.8 5.5M106.6 90.7l-4.6 -5.5M106.6 90.7l4.4 -5.8M106.6 90.7l-4.2 5.6M106.6 90.7l4.8 5.5M124.6 90.7l-4.6 -5.5M124.6 90.7l4.4 -5.8M124.6 90.7l-4.2 5.6M124.6 90.7l4.8 5.5M142.6 90.7l-4.6 -5.5M142.6 90.7l4.4 -5.8M142.6 90.7l-4.2 5.6M142.6 90.7l4.8 5.5M160.5 90.7l-4.6 -5.5M160.5 90.7l4.4 -5.8M160.5 90.7l-4.2 5.6M160.5 90.7l4.8 5.5M45.8 102.9l-4.6 -5.5M45.8 102.9l4.4 -5.8M45.8 102.9l-4.2 5.6M45.8 102.9l4.8 5.5M63.8 102.9l-4.6 -5.5M63.8 102.9l4.4 -5.8M63.8 102.9l-4.2 5.6M63.8 102.9l4.8 5.5M81.7 102.9l-4.6 -5.5M81.7 102.9l4.4 -5.8M81.7 102.9l-4.2 5.6M81.7 102.9l4.8 5.5M99.6 102.9l-4.6 -5.5M99.6 102.9l4.4 -5.8M99.6 102.9l-4.2 5.6M99.6 102.9l4.8 5.5M117.6 102.9l-4.6 -5.5M117.6 102.9l4.4 -5.8M117.6 102.9l-4.2 5.6M117.6 102.9l4.8 5.5M135.6 102.9l-4.6 -5.5M135.6 102.9l4.4 -5.8M135.6 102.9l-4.2 5.6M135.6 102.9l4.8 5.5M153.5 102.9l-4.6 -5.5M153.5 102.9l4.4 -5.8M153.5 102.9l-4.2 5.6M153.5 102.9l4.8 5.5M40.8 115.8l-4.6 -5.5M40.8 115.8l4.4 -5.8M40.8 115.8l-4.2 5.6M40.8 115.8l4.8 5.5M58.8 115.8l-4.6 -5.5M58.8 115.8l4.4 -5.8M58.8 115.8l-4.2 5.6M58.8 115.8l4.8 5.5M76.7 115.8l-4.6 -5.5M76.7 115.8l4.4 -5.8M76.7 115.8l-4.2 5.6M76.7 115.8l4.8 5.5M94.6 115.8l-4.6 -5.5M94.6 115.8l4.4 -5.8M94.6 115.8l-4.2 5.6M94.6 115.8l4.8 5.5M112.6 115.8l-4.6 -5.5M112.6 115.8l4.4 -5.8M112.6 115.8l-4.2 5.6M112.6 115.8l4.8 5.5M130.6 115.8l-4.6 -5.5M130.6 115.8l4.4 -5.8M130.6 115.8l-4.2 5.6M130.6 115.8l4.8 5.5M148.5 115.8l-4.6 -5.5M148.5 115.8l4.4 -5.8M148.5 115.8l-4.2 5.6M148.5 115.8l4.8 5.5M52.8 128.4l-4.6 -5.5M52.8 128.4l4.4 -5.8M52.8 128.4l-4.2 5.6M52.8 128.4l4.8 5.5M70.8 128.4l-4.6 -5.5M70.8 128.4l4.4 -5.8M70.8 128.4l-4.2 5.6M70.8 128.4l4.8 5.5M88.7 128.4l-4.6 -5.5M88.7 128.4l4.4 -5.8M88.7 128.4l-4.2 5.6M88.7 128.4l4.8 5.5M106.6 128.4l-4.6 -5.5M106.6 128.4l4.4 -5.8M106.6 128.4l-4.2 5.6M106.6 128.4l4.8 5.5M124.6 128.4l-4.6 -5.5M124.6 128.4l4.4 -5.8M124.6 128.4l-4.2 5.6M124.6 128.4l4.8 5.5M142.6 128.4l-4.6 -5.5M142.6 128.4l4.4 -5.8M142.6 128.4l-4.2 5.6M142.6 128.4l4.8 5.5M160.5 128.4l-4.6 -5.5M160.5 128.4l4.4 -5.8M160.5 128.4l-4.2 5.6M160.5 128.4l4.8 5.5M45.8 141.2l-4.6 -5.5M45.8 141.2l4.4 -5.8M45.8 141.2l-4.2 5.6M45.8 141.2l4.8 5.5M63.8 141.2l-4.6 -5.5M63.8 141.2l4.4 -5.8M63.8 141.2l-4.2 5.6M63.8 141.2l4.8 5.5M81.7 141.2l-4.6 -5.5M81.7 141.2l4.4 -5.8M81.7 141.2l-4.2 5.6M81.7 141.2l4.8 5.5M99.6 141.2l-4.6 -5.5M99.6 141.2l4.4 -5.8M99.6 141.2l-4.2 5.6M99.6 141.2l4.8 5.5M117.6 141.2l-4.6 -5.5M117.6 141.2l4.4 -5.8M117.6 141.2l-4.2 5.6M117.6 141.2l4.8 5.5M135.6 141.2l-4.6 -5.5M135.6 141.2l4.4 -5.8M135.6 141.2l-4.2 5.6M135.6 141.2l4.8 5.5M153.5 141.2l-4.6 -5.5M153.5 141.2l4.4 -5.8M153.5 141.2l-4.2 5.6M153.5 141.2l4.8 5.5M40.8 154.1l-4.6 -5.5M40.8 154.1l4.4 -5.8M40.8 154.1l-4.2 5.6M40.8 154.1l4.8 5.5M58.8 154.1l-4.6 -5.5M58.8 154.1l4.4 -5.8M58.8 154.1l-4.2 5.6M58.8 154.1l4.8 5.5M76.7 154.1l-4.6 -5.5M76.7 154.1l4.4 -5.8M76.7 154.1l-4.2 5.6M76.7 154.1l4.8 5.5M94.6 154.1l-4.6 -5.5M94.6 154.1l4.4 -5.8M94.6 154.1l-4.2 5.6M94.6 154.1l4.8 5.5M112.6 154.1l-4.6 -5.5M112.6 154.1l4.4 -5.8M112.6 154.1l-4.2 5.6M112.6 154.1l4.8 5.5M130.6 154.1l-4.6 -5.5M130.6 154.1l4.4 -5.8M130.6 154.1l-4.2 5.6M130.6 154.1l4.8 5.5M148.5 154.1l-4.6 -5.5M148.5 154.1l4.4 -5.8M148.5 154.1l-4.2 5.6M148.5 154.1l4.8 5.5M52.8 166.7l-4.6 -5.5M52.8 166.7l4.4 -5.8M52.8 166.7l-4.2 5.6M52.8 166.7l4.8 5.5M70.8 166.7l-4.6 -5.5M70.8 166.7l4.4 -5.8M70.8 166.7l-4.2 5.6M70.8 166.7l4.8 5.5M88.7 166.7l-4.6 -5.5M88.7 166.7l4.4 -5.8M88.7 166.7l-4.2 5.6M88.7 166.7l4.8 5.5M106.6 166.7l-4.6 -5.5M106.6 166.7l4.4 -5.8M106.6 166.7l-4.2 5.6M106.6 166.7l4.8 5.5M124.6 166.7l-4.6 -5.5M124.6 166.7l4.4 -5.8M124.6 166.7l-4.2 5.6M124.6 166.7l4.8 5.5M142.6 166.7l-4.6 -5.5M142.6 166.7l4.4 -5.8M142.6 166.7l-4.2 5.6M142.6 166.7l4.8 5.5M160.5 166.7l-4.6 -5.5M160.5 166.7l4.4 -5.8M160.5 166.7l-4.2 5.6M160.5 166.7l4.8 5.5M45.8 179.3l-4.6 -5.5M45.8 179.3l4.4 -5.8M45.8 179.3l-4.2 5.6M45.8 179.3l4.8 5.5M63.8 179.3l-4.6 -5.5M63.8 179.3l4.4 -5.8M63.8 179.3l-4.2 5.6M63.8 179.3l4.8 5.5M81.7 179.3l-4.6 -5.5M81.7 179.3l4.4 -5.8M81.7 179.3l-4.2 5.6M81.7 179.3l4.8 5.5M99.6 179.3l-4.6 -5.5M99.6 179.3l4.4 -5.8M99.6 179.3l-4.2 5.6M99.6 179.3l4.8 5.5M117.6 179.3l-4.6 -5.5M117.6 179.3l4.4 -5.8M117.6 179.3l-4.2 5.6M117.6 179.3l4.8 5.5M135.6 179.3l-4.6 -5.5M135.6 179.3l4.4 -5.8M135.6 179.3l-4.2 5.6M135.6 179.3l4.8 5.5M153.5 179.3l-4.6 -5.5M153.5 179.3l4.4 -5.8M153.5 179.3l-4.2 5.6M153.5 179.3l4.8 5.5M40.8 192.2l-4.6 -5.5M40.8 192.2l4.4 -5.8M40.8 192.2l-4.2 5.6M40.8 192.2l4.8 5.5M58.8 192.2l-4.6 -5.5M58.8 192.2l4.4 -5.8M58.8 192.2l-4.2 5.6M58.8 192.2l4.8 5.5M76.7 192.2l-4.6 -5.5M76.7 192.2l4.4 -5.8M76.7 192.2l-4.2 5.6M76.7 192.2l4.8 5.5M94.6 192.2l-4.6 -5.5M94.6 192.2l4.4 -5.8M94.6 192.2l-4.2 5.6M94.6 192.2l4.8 5.5M112.6 192.2l-4.6 -5.5M112.6 192.2l4.4 -5.8M112.6 192.2l-4.2 5.6M112.6 192.2l4.8 5.5M130.6 192.2l-4.6 -5.5M130.6 192.2l4.4 -5.8M130.6 192.2l-4.2 5.6M130.6 192.2l4.8 5.5M148.5 192.2l-4.6 -5.5M148.5 192.2l4.4 -5.8M148.5 192.2l-4.2 5.6M148.5 192.2l4.8 5.5M52.8 204.8l-4.6 -5.5M52.8 204.8l4.4 -5.8M52.8 204.8l-4.2 5.6M52.8 204.8l4.8 5.5M70.8 204.8l-4.6 -5.5M70.8 204.8l4.4 -5.8M70.8 204.8l-4.2 5.6M70.8 204.8l4.8 5.5M88.7 204.8l-4.6 -5.5M88.7 204.8l4.4 -5.8M88.7 204.8l-4.2 5.6M88.7 204.8l4.8 5.5M106.6 204.8l-4.6 -5.5M106.6 204.8l4.4 -5.8M106.6 204.8l-4.2 5.6M106.6 204.8l4.8 5.5M124.6 204.8l-4.6 -5.5M124.6 204.8l4.4 -5.8M124.6 204.8l-4.2 5.6M124.6 204.8l4.8 5.5M142.6 204.8l-4.6 -5.5M142.6 204.8l4.4 -5.8M142.6 204.8l-4.2 5.6M142.6 204.8l4.8 5.5M160.5 204.8l-4.6 -5.5M160.5 204.8l4.4 -5.8M160.5 204.8l-4.2 5.6M160.5 204.8l4.8 5.5M45.8 218.0l-4.6 -5.5M45.8 218.0l4.4 -5.8M45.8 218.0l-4.2 5.6M45.8 218.0l4.8 5.5M63.8 218.0l-4.6 -5.5M63.8 218.0l4.4 -5.8M63.8 218.0l-4.2 5.6M63.8 218.0l4.8 5.5M81.7 218.0l-4.6 -5.5M81.7 218.0l4.4 -5.8M81.7 218.0l-4.2 5.6M81.7 218.0l4.8 5.5M99.6 218.0l-4.6 -5.5M99.6 218.0l4.4 -5.8M99.6 218.0l-4.2 5.6M99.6 218.0l4.8 5.5M117.6 218.0l-4.6 -5.5M117.6 218.0l4.4 -5.8M117.6 218.0l-4.2 5.6M117.6 218.0l4.8 5.5M135.6 218.0l-4.6 -5.5M135.6 218.0l4.4 -5.8M135.6 218.0l-4.2 5.6M135.6 218.0l4.8 5.5M153.5 218.0l-4.6 -5.5M153.5 218.0l4.4 -5.8M153.5 218.0l-4.2 5.6M153.5 218.0l4.8 5.5M40.8 230.9l-4.6 -5.5M40.8 230.9l4.4 -5.8M40.8 230.9l-4.2 5.6M40.8 230.9l4.8 5.5M58.8 230.9l-4.6 -5.5M58.8 230.9l4.4 -5.8M58.8 230.9l-4.2 5.6M58.8 230.9l4.8 5.5M76.7 230.9l-4.6 -5.5M76.7 230.9l4.4 -5.8M76.7 230.9l-4.2 5.6M76.7 230.9l4.8 5.5M94.6 230.9l-4.6 -5.5M94.6 230.9l4.4 -5.8M94.6 230.9l-4.2 5.6M94.6 230.9l4.8 5.5M112.6 230.9l-4.6 -5.5M112.6 230.9l4.4 -5.8M112.6 230.9l-4.2 5.6M112.6 230.9l4.8 5.5M130.6 230.9l-4.6 -5.5M130.6 230.9l4.4 -5.8M130.6 230.9l-4.2 5.6M130.6 230.9l4.8 5.5M148.5 230.9l-4.6 -5.5M148.5 230.9l4.4 -5.8M148.5 230.9l-4.2 5.6M148.5 230.9l4.8 5.5M52.8 243.5l-4.6 -5.5M52.8 243.5l4.4 -5.8M52.8 243.5l-4.2 5.6M52.8 243.5l4.8 5.5M70.8 243.5l-4.6 -5.5M70.8 243.5l4.4 -5.8M70.8 243.5l-4.2 5.6M70.8 243.5l4.8 5.5M88.7 243.5l-4.6 -5.5M88.7 243.5l4.4 -5.8M88.7 243.5l-4.2 5.6M88.7 243.5l4.8 5.5M106.6 243.5l-4.6 -5.5M106.6 243.5l4.4 -5.8M106.6 243.5l-4.2 5.6M106.6 243.5l4.8 5.5M124.6 243.5l-4.6 -5.5M124.6 243.5l4.4 -5.8M124.6 243.5l-4.2 5.6M124.6 243.5l4.8 5.5M142.6 243.5l-4.6 -5.5M142.6 243.5l4.4 -5.8M142.6 243.5l-4.2 5.6M142.6 243.5l4.8 5.5M160.5 243.5l-4.6 -5.5M160.5 243.5l4.4 -5.8M160.5 243.5l-4.2 5.6M160.5 243.5l4.8 5.5M42.8 26.3l3.2 0.1M46.0 25.4l3.2 0.8M49.2 25.5l3.2 0.9M52.4 26.3l3.2 -0.3M55.6 25.6l3.2 0.5M58.8 25.6l3.2 -0.2M62.0 25.7l3.2 1.5M65.2 26.3l3.2 0.9M68.4 25.1l3.2 2.2M71.6 26.3l3.2 0.7M74.8 26.5l3.2 0.3M78.0 25.7l3.2 1.2M81.2 25.5l3.2 0.3M84.4 25.2l3.2 0.9M87.6 26.3l3.2 -0.5M90.8 27.2l3.2 -1.9M94.0 26.5l3.2 -0.8M97.2 26.5l3.2 0.5M100.4 26.8l3.2 -1.6M103.6 25.7l3.2 0.8M106.8 27.5l3.2 -2.3M110.0 26.6l3.2 0.2M113.2 27.1l3.2 -1.1M116.4 27.0l3.2 -0.8M119.6 27.3l3.2 -2.2M122.8 27.4l3.2 -1.3M126.0 26.1l3.2 -0.8M129.2 25.7l3.2 1.2M132.4 26.7l3.2 -1.3M135.6 25.9l3.2 -0.5M138.8 25.6l3.2 0.1M142.0 25.9l3.2 1.5M145.2 27.5l3.2 -0.5M148.4 26.3l3.2 0.0M151.6 27.0l3.2 0.3M154.8 26.9l3.2 -0.3M158.0 25.6l3.2 1.0M37.8 40.0l3.2 -0.1M41.0 38.2l3.2 1.5M44.2 38.8l3.2 -0.4M47.4 40.3l3.2 -0.7M50.6 39.8l3.2 -1.5M53.8 40.0l3.2 0.3M57.0 40.2l3.2 -0.4M60.2 40.0l3.2 -0.1M63.4 39.4l3.2 -0.4M66.6 40.0l3.2 -0.1M69.8 40.1l3.2 -1.4M73.0 40.3l3.2 -1.0M76.2 40.3l3.2 -2.0M79.4 40.3l3.2 -0.4M82.6 38.6l3.2 1.4M85.8 38.6l3.2 -0.1M89.0 39.1l3.2 -0.5M92.2 39.2l3.2 1.0M95.4 39.6l3.2 0.1M98.6 38.9l3.2 0.9M101.8 39.9l3.2 -0.3M105.0 40.3l3.2 -0.3M108.2 39.0l3.2 -0.8M111.4 39.6l3.2 0.4M114.6 38.8l3.2 0.6M117.8 40.0l3.2 -0.1M121.0 38.0l3.2 1.2M124.2 38.0l3.2 0.2M127.4 39.9l3.2 -0.9M130.6 39.5l3.2 -0.4M133.8 38.8l3.2 -0.3M137.0 38.8l3.2 1.2M140.2 39.5l3.2 -0.8M143.4 38.2l3.2 0.4M146.6 39.7l3.2 -0.6M149.8 39.6l3.2 0.4M49.8 50.9l3.2 1.3M53.0 50.7l3.2 1.9M56.2 51.0l3.2 0.2M59.4 52.9l3.2 -1.4M62.6 51.1l3.2 1.6M65.8 52.1l3.2 0.7M69.0 51.5l3.2 0.3M72.2 52.9l3.2 -1.1M75.4 53.0l3.2 -1.9M78.6 52.6l3.2 -1.6M81.8 51.9l3.2 -1.3M85.0 51.0l3.2 1.8M88.2 51.7l3.2 0.9M91.4 51.2l3.2 0.2M94.6 50.8l3.2 1.1M97.8 52.7l3.2 -0.8M101.0 51.5l3.2 1.3M104.2 52.7l3.2 -0.5M107.4 50.8l3.2 1.3M110.6 51.7l3.2 1.2M113.8 51.5l3.2 0.7M117.0 52.1l3.2 -0.6M120.2 51.9l3.2 0.4M123.4 52.8l3.2 -1.0M126.6 51.5l3.2 1.5M129.8 50.7l3.2 1.9M133.0 52.2l3.2 -0.3M136.2 51.7l3.2 0.7M139.4 52.7l3.2 -0.4M142.6 52.4l3.2 -1.7M145.8 51.4l3.2 -0.5M149.0 52.9l3.2 -0.1M152.2 50.9l3.2 1.1M155.4 52.0l3.2 -1.3M158.6 51.5l3.2 0.9M161.8 52.1l3.2 -0.9M165.0 52.4l3.2 -1.1M42.8 65.3l3.2 -0.3M46.0 66.3l3.2 -0.8M49.2 65.9l3.2 -0.3M52.4 64.9l3.2 1.4M55.6 65.7l3.2 -0.0M58.8 64.7l3.2 -0.3M62.0 65.4l3.2 0.6M65.2 65.9l3.2 -1.1M68.4 64.3l3.2 0.9M71.6 66.1l3.2 -1.7M74.8 65.8l3.2 -1.4M78.0 64.7l3.2 -0.6M81.2 64.7l3.2 0.2M84.4 66.3l3.2 -0.0M87.6 64.4l3.2 0.3M90.8 66.3l3.2 -1.8M94.0 64.8l3.2 0.3M97.2 64.3l3.2 0.4M100.4 64.9l3.2 -0.0M103.6 66.3l3.2 -1.7M106.8 64.5l3.2 1.7M110.0 65.1l3.2 0.9M113.2 65.5l3.2 0.3M116.4 64.8l3.2 -0.4M119.6 65.8l3.2 -0.7M122.8 65.3l3.2 0.3M126.0 65.8l3.2 -1.1M129.2 64.9l3.2 1.3M132.4 65.3l3.2 -0.6M135.6 65.5l3.2 -0.9M138.8 65.9l3.2 -1.8M142.0 66.0l3.2 -0.6M145.2 64.8l3.2 1.4M148.4 64.6l3.2 -0.1M151.6 64.2l3.2 1.1M154.8 65.8l3.2 -0.2M158.0 65.0l3.2 0.9M37.8 77.2l3.2 0.5M41.0 78.4l3.2 0.8M44.2 78.4l3.2 0.1M47.4 78.8l3.2 -0.9M50.6 79.2l3.2 -0.5M53.8 77.7l3.2 0.1M57.0 78.8l3.2 -1.1M60.2 77.3l3.2 1.6M63.4 78.2l3.2 -0.0M66.6 78.5l3.2 0.6M69.8 77.2l3.2 0.5M73.0 77.1l3.2 0.8M76.2 78.1l3.2 0.8M79.4 78.5l3.2 -0.2M82.6 77.9l3.2 0.4M85.8 77.6l3.2 1.4M89.0 78.8l3.2 0.1M92.2 77.3l3.2 1.2M95.4 78.7l3.2 -0.6M98.6 79.1l3.2 0.0M101.8 78.7l3.2 0.2M105.0 78.5l3.2 0.6M108.2 77.2l3.2 1.4M111.4 78.6l3.2 -0.2M114.6 77.6l3.2 -0.5M117.8 78.3l3.2 0.5M121.0 77.6l3.2 -0.1M124.2 77.4l3.2 -0.3M127.4 78.5l3.2 0.7M130.6 78.8l3.2 -1.1M133.8 78.6l3.2 -1.5M137.0 78.9l3.2 -1.2M140.2 76.9l3.2 1.5M143.4 77.2l3.2 0.3M146.6 77.0l3.2 0.9M149.8 78.2l3.2 0.6M49.8 89.6l3.2 1.9M53.0 89.8l3.2 0.3M56.2 91.0l3.2 -0.7M59.4 90.3l3.2 0.6M62.6 90.0l3.2 1.4M65.8 90.0l3.2 1.5M69.0 91.4l3.2 -0.7M72.2 89.6l3.2 1.8M75.4 89.6l3.2 1.1M78.6 90.5l3.2 -0.9M81.8 91.0l3.2 0.2M85.0 90.9l3.2 -0.4M88.2 90.7l3.2 0.2M91.4 90.0l3.2 1.5M94.6 91.9l3.2 -0.5M97.8 91.8l3.2 -1.5M101.0 91.9l3.2 -2.2M104.2 90.6l3.2 -0.8M107.4 90.6l3.2 0.5M110.6 91.2l3.2 -0.6M113.8 90.3l3.2 -0.4M117.0 90.5l3.2 -0.3M120.2 90.0l3.2 1.3M123.4 90.7l3.2 -0.2M126.6 90.0l3.2 1.2M129.8 90.0l3.2 0.2M133.0 90.8l3.2 0.3M136.2 91.8l3.2 -0.5M139.4 91.8l3.2 -0.1M142.6 91.2l3.2 -0.0M145.8 89.7l3.2 0.3M149.0 89.5l3.2 2.0M152.2 91.2l3.2 -0.2M155.4 90.1l3.2 0.2M158.6 89.9l3.2 1.1M161.8 91.9l3.2 -1.6M165.0 89.6l3.2 0.3M42.8 102.6l3.2 1.3M46.0 103.6l3.2 -0.8M49.2 101.9l3.2 0.0M52.4 102.1l3.2 1.5M55.6 102.8l3.2 1.2M58.8 103.9l3.2 -0.3M62.0 102.8l3.2 0.8M65.2 102.0l3.2 -0.0M68.4 103.1l3.2 -0.1M71.6 102.2l3.2 0.1M74.8 101.8l3.2 2.1M78.0 103.4l3.2 0.6M81.2 104.1l3.2 -1.3M84.4 103.5l3.2 -0.8M87.6 103.6l3.2 0.1M90.8 102.0l3.2 -0.3M94.0 102.2l3.2 0.9M97.2 102.6l3.2 -0.9M100.4 103.7l3.2 -0.1M103.6 102.8l3.2 -1.0M106.8 103.8l3.2 -0.9M110.0 101.9l3.2 0.6M113.2 103.2l3.2 0.6M116.4 102.9l3.2 0.4M119.6 102.2l3.2 0.1M122.8 103.9l3.2 -1.3M126.0 101.9l3.2 1.2M129.2 102.0l3.2 0.2M132.4 102.8l3.2 0.3M135.6 103.2l3.2 0.2M138.8 102.8l3.2 -0.9M142.0 103.4l3.2 -1.6M145.2 102.8l3.2 -0.2M148.4 103.3l3.2 0.1M151.6 102.3l3.2 1.0M154.8 103.4l3.2 -0.5M158.0 102.0l3.2 1.8M37.8 116.0l3.2 -1.3M41.0 115.2l3.2 1.8M44.2 115.1l3.2 0.4M47.4 116.5l3.2 0.1M50.6 116.1l3.2 0.3M53.8 114.7l3.2 0.1M57.0 116.9l3.2 -0.4M60.2 114.7l3.2 0.0M63.4 115.2l3.2 1.7M66.6 115.1l3.2 1.1M69.8 116.8l3.2 -0.7M73.0 116.8l3.2 -1.6M76.2 115.0l3.2 -0.3M79.4 116.4l3.2 -1.6M82.6 116.9l3.2 -0.6M85.8 115.0l3.2 1.5M89.0 115.0l3.2 0.8M92.2 114.9l3.2 1.6M95.4 116.7l3.2 0.1M98.6 114.6l3.2 2.0M101.8 115.9l3.2 0.6M105.0 115.8l3.2 0.3M108.2 116.0l3.2 0.5M111.4 114.8l3.2 -0.1M114.6 115.9l3.2 -0.6M117.8 115.6l3.2 -0.9M121.0 116.4l3.2 -1.7M124.2 116.6l3.2 -0.0M127.4 115.7l3.2 -0.8M130.6 116.2l3.2 -1.1M133.8 115.6l3.2 -0.8M137.0 116.9l3.2 -1.0M140.2 115.4l3.2 -0.6M143.4 116.4l3.2 0.3M146.6 116.6l3.2 -1.8M149.8 115.5l3.2 -0.2M49.8 129.0l3.2 -1.5M53.0 128.7l3.2 0.9M56.2 129.0l3.2 -1.8M59.4 127.4l3.2 0.1M62.6 128.9l3.2 -0.2M65.8 128.4l3.2 -0.2M69.0 128.2l3.2 0.5M72.2 128.8l3.2 0.6M75.4 129.0l3.2 0.2M78.6 129.4l3.2 -0.2M81.8 128.9l3.2 -1.6M85.0 128.8l3.2 0.4M88.2 128.2l3.2 1.1M91.4 127.6l3.2 1.8M94.6 128.3l3.2 0.6M97.8 127.8l3.2 0.1M101.0 128.0l3.2 -0.1M104.2 127.4l3.2 0.8M107.4 129.6l3.2 -0.8M110.6 129.4l3.2 -0.4M113.8 129.2l3.2 0.4M117.0 129.0l3.2 -1.1M120.2 127.8l3.2 0.4M123.4 127.3l3.2 0.5M126.6 129.3l3.2 0.1M129.8 128.0l3.2 1.1M133.0 129.1l3.2 0.3M136.2 129.1l3.2 -0.6M139.4 127.5l3.2 1.7M142.6 128.0l3.2 0.8M145.8 128.1l3.2 0.4M149.0 129.5l3.2 -1.9M152.2 128.5l3.2 0.3M155.4 128.5l3.2 1.0M158.6 128.2l3.2 1.2M161.8 128.9l3.2 0.7M165.0 127.4l3.2 0.3M42.8 140.7l3.2 1.5M46.0 140.0l3.2 0.6M49.2 141.7l3.2 0.7M52.4 140.4l3.2 0.6M55.6 141.6l3.2 0.0M58.8 141.8l3.2 0.0M62.0 140.6l3.2 0.0M65.2 140.1l3.2 1.6M68.4 140.5l3.2 0.1M71.6 142.3l3.2 -0.8M74.8 141.4l3.2 0.2M78.0 141.4l3.2 0.2M81.2 140.7l3.2 -0.6M84.4 140.2l3.2 -0.1M87.6 140.9l3.2 -0.5M90.8 140.3l3.2 0.9M94.0 142.3l3.2 -0.7M97.2 140.7l3.2 1.2M100.4 140.4l3.2 -0.2M103.6 140.7l3.2 0.3M106.8 141.7l3.2 -0.6M110.0 141.7l3.2 -1.5M113.2 142.2l3.2 -1.4M116.4 142.0l3.2 -1.9M119.6 142.0l3.2 -1.4M122.8 142.1l3.2 -0.1M126.0 141.6l3.2 -0.9M129.2 140.0l3.2 0.4M132.4 142.2l3.2 -1.8M135.6 141.6l3.2 -0.2M138.8 141.6l3.2 -1.2M142.0 140.3l3.2 -0.1M145.2 142.4l3.2 -1.4M148.4 141.6l3.2 -0.2M151.6 140.5l3.2 -0.4M154.8 140.0l3.2 2.0M158.0 140.3l3.2 2.0M37.8 153.8l3.2 0.9M41.0 153.2l3.2 1.6M44.2 153.5l3.2 0.3M47.4 154.2l3.2 -1.0M50.6 153.5l3.2 1.3M53.8 153.6l3.2 0.2M57.0 154.7l3.2 -1.3M60.2 153.4l3.2 0.1M63.4 153.8l3.2 -0.0M66.6 154.4l3.2 -0.4M69.8 155.0l3.2 -2.0M73.0 154.5l3.2 0.4M76.2 153.5l3.2 -0.5M79.4 154.0l3.2 -0.8M82.6 154.0l3.2 0.6M85.8 153.1l3.2 0.1M89.0 154.1l3.2 -0.7M92.2 153.5l3.2 0.5M95.4 153.2l3.2 -0.1M98.6 153.8l3.2 0.3M101.8 155.1l3.2 -0.9M105.0 153.1l3.2 0.4M108.2 154.7l3.2 -0.4M111.4 155.0l3.2 0.2M114.6 155.0l3.2 -1.8M117.8 155.2l3.2 -1.0M121.0 153.5l3.2 -0.2M124.2 155.0l3.2 -1.6M127.4 153.1l3.2 0.4M130.6 155.1l3.2 -1.1M133.8 154.7l3.2 -1.6M137.0 154.0l3.2 -0.3M140.2 153.4l3.2 1.1M143.4 153.8l3.2 -0.6M146.6 155.3l3.2 -1.2M149.8 153.3l3.2 -0.4M49.8 167.1l3.2 -0.3M53.0 165.6l3.2 1.1M56.2 167.3l3.2 -0.5M59.4 166.1l3.2 0.6M62.6 167.0l3.2 0.1M65.8 165.8l3.2 1.6M69.0 167.8l3.2 -0.5M72.2 167.6l3.2 -1.2M75.4 167.7l3.2 -1.7M78.6 166.0l3.2 0.9M81.8 167.7l3.2 -2.0M85.0 166.0l3.2 -0.4M88.2 166.6l3.2 -0.7M91.4 166.0l3.2 1.3M94.6 166.9l3.2 0.9M97.8 166.5l3.2 0.7M101.0 165.5l3.2 2.2M104.2 166.1l3.2 0.6M107.4 166.7l3.2 1.0M110.6 166.7l3.2 1.2M113.8 167.0l3.2 -1.0M117.0 167.5l3.2 -1.5M120.2 167.9l3.2 -1.3M123.4 166.0l3.2 1.8M126.6 166.3l3.2 0.2M129.8 166.3l3.2 0.8M133.0 165.6l3.2 0.8M136.2 165.9l3.2 1.6M139.4 165.5l3.2 1.5M142.6 166.1l3.2 0.5M145.8 166.8l3.2 0.4M149.0 165.8l3.2 0.2M152.2 165.8l3.2 2.0M155.4 165.9l3.2 -0.0M158.6 166.8l3.2 0.1M161.8 167.6l3.2 -2.0M165.0 166.1l3.2 -0.2M42.8 179.5l3.2 -0.3M46.0 179.1l3.2 1.2M49.2 179.7l3.2 0.5M52.4 180.4l3.2 -1.7M55.6 180.4l3.2 -1.3M58.8 178.2l3.2 2.1M62.0 178.3l3.2 -0.2M65.2 178.8l3.2 -0.0M68.4 180.4l3.2 -0.2M71.6 179.1l3.2 0.3M74.8 180.1l3.2 -0.1M78.0 179.7l3.2 -0.3M81.2 178.4l3.2 0.3M84.4 179.7l3.2 -0.2M87.6 180.0l3.2 0.2M90.8 180.4l3.2 -1.8M94.0 178.3l3.2 2.0M97.2 179.5l3.2 -0.9M100.4 179.8l3.2 -1.0M103.6 178.7l3.2 0.3M106.8 179.4l3.2 0.4M110.0 178.3l3.2 1.6M113.2 179.6l3.2 -0.4M116.4 179.7l3.2 0.3M119.6 178.1l3.2 1.1M122.8 179.7l3.2 0.1M126.0 179.7l3.2 -1.1M129.2 180.4l3.2 -0.4M132.4 178.7l3.2 0.5M135.6 180.4l3.2 -1.8M138.8 179.1l3.2 1.3M142.0 180.3l3.2 -1.6M145.2 179.9l3.2 -0.9M148.4 179.7l3.2 0.2M151.6 178.4l3.2 0.2M154.8 178.6l3.2 0.1M158.0 178.2l3.2 0.2M37.8 192.0l3.2 0.0M41.0 191.2l3.2 1.2M44.2 193.3l3.2 -0.9M47.4 191.9l3.2 0.8M50.6 192.0l3.2 -0.6M53.8 192.2l3.2 -1.1M57.0 192.6l3.2 -1.2M60.2 191.9l3.2 1.4M63.4 192.8l3.2 0.2M66.6 192.5l3.2 -0.0M69.8 192.7l3.2 0.6M73.0 191.5l3.2 1.4M76.2 191.7l3.2 -0.1M79.4 193.0l3.2 -0.5M82.6 193.0l3.2 0.1M85.8 192.4l3.2 -0.9M89.0 191.0l3.2 1.2M92.2 192.7l3.2 -1.1M95.4 191.2l3.2 -0.2M98.6 191.4l3.2 1.3M101.8 191.0l3.2 0.5M105.0 191.6l3.2 1.1M108.2 193.4l3.2 -2.3M111.4 191.3l3.2 2.0M114.6 193.3l3.2 -2.0M117.8 191.8l3.2 0.4M121.0 191.8l3.2 0.2M124.2 192.1l3.2 -0.5M127.4 191.1l3.2 0.1M130.6 191.4l3.2 -0.2M133.8 192.5l3.2 0.2M137.0 191.6l3.2 1.3M140.2 192.7l3.2 -0.9M143.4 192.2l3.2 -0.7M146.6 193.2l3.2 -0.9M149.8 191.1l3.2 0.2M49.8 205.3l3.2 -0.7M53.0 205.3l3.2 -1.2M56.2 205.5l3.2 0.0M59.4 203.8l3.2 1.2M62.6 204.1l3.2 1.2M65.8 205.5l3.2 -0.0M69.0 204.2l3.2 -0.3M72.2 205.2l3.2 -0.2M75.4 203.9l3.2 0.1M78.6 205.0l3.2 -1.1M81.8 205.1l3.2 -0.9M85.0 204.2l3.2 0.4M88.2 204.9l3.2 0.5M91.4 203.7l3.2 1.7M94.6 204.1l3.2 0.2M97.8 205.1l3.2 0.1M101.0 205.1l3.2 0.7M104.2 204.1l3.2 0.3M107.4 205.2l3.2 -1.0M110.6 204.0l3.2 0.2M113.8 205.5l3.2 0.1M117.0 205.3l3.2 0.6M120.2 205.5l3.2 -1.2M123.4 204.4l3.2 1.0M126.6 203.7l3.2 1.3M129.8 203.8l3.2 -0.1M133.0 204.8l3.2 -0.9M136.2 205.8l3.2 -0.1M139.4 204.7l3.2 -0.6M142.6 203.9l3.2 0.9M145.8 204.9l3.2 -0.4M149.0 205.3l3.2 -0.4M152.2 205.5l3.2 -1.6M155.4 203.8l3.2 0.8M158.6 204.8l3.2 -0.6M161.8 205.2l3.2 -1.1M165.0 204.4l3.2 0.4M42.8 218.5l3.2 0.1M46.0 217.7l3.2 0.2M49.2 219.0l3.2 0.0M52.4 218.3l3.2 -1.2M55.6 217.9l3.2 0.4M58.8 217.5l3.2 -0.6M62.0 219.2l3.2 -0.2M65.2 217.1l3.2 0.8M68.4 218.3l3.2 -0.8M71.6 217.0l3.2 1.6M74.8 218.6l3.2 -0.8M78.0 217.0l3.2 0.7M81.2 217.0l3.2 2.1M84.4 216.9l3.2 0.6M87.6 218.6l3.2 -1.5M90.8 217.1l3.2 -0.1M94.0 217.2l3.2 0.9M97.2 218.8l3.2 -1.6M100.4 217.2l3.2 1.4M103.6 217.8l3.2 -0.2M106.8 217.1l3.2 0.3M110.0 219.1l3.2 -2.1M113.2 217.4l3.2 1.2M116.4 218.9l3.2 0.0M119.6 217.9l3.2 1.2M122.8 218.2l3.2 -0.8M126.0 217.9l3.2 0.6M129.2 218.6l3.2 -1.5M132.4 217.3l3.2 1.8M135.6 217.1l3.2 1.7M138.8 217.6l3.2 -0.2M142.0 217.4l3.2 0.5M145.2 219.2l3.2 -2.0M148.4 218.9l3.2 -1.3M151.6 217.2l3.2 1.4M154.8 217.6l3.2 -0.4M158.0 217.8l3.2 1.0M37.8 231.8l3.2 -0.7M41.0 229.7l3.2 1.8M44.2 231.2l3.2 0.7M47.4 232.0l3.2 -1.5M50.6 231.7l3.2 -0.1M53.8 230.3l3.2 0.2M57.0 230.6l3.2 -0.1M60.2 230.6l3.2 -0.6M63.4 230.2l3.2 1.6M66.6 230.7l3.2 0.5M69.8 231.8l3.2 -0.3M73.0 230.3l3.2 1.6M76.2 231.6l3.2 0.4M79.4 231.4l3.2 0.1M82.6 231.7l3.2 -1.3M85.8 231.3l3.2 -0.7M89.0 231.7l3.2 -1.7M92.2 231.0l3.2 -0.5M95.4 231.7l3.2 -1.1M98.6 231.7l3.2 0.0M101.8 231.8l3.2 -1.8M105.0 232.0l3.2 -0.5M108.2 231.3l3.2 -0.1M111.4 229.8l3.2 2.0M114.6 231.0l3.2 -0.2M117.8 230.5l3.2 1.1M121.0 231.6l3.2 0.2M124.2 230.2l3.2 0.3M127.4 230.3l3.2 -0.4M130.6 230.5l3.2 -0.7M133.8 231.6l3.2 -1.4M137.0 229.9l3.2 -0.0M140.2 231.5l3.2 -1.3M143.4 230.8l3.2 -0.1M146.6 231.6l3.2 0.4M149.8 230.4l3.2 0.8M49.8 244.4l3.2 -1.0M53.0 244.5l3.2 -0.4M56.2 243.0l3.2 1.3M59.4 243.7l3.2 -1.1M62.6 243.7l3.2 0.6M65.8 243.5l3.2 -0.1M69.0 243.3l3.2 1.1M72.2 243.9l3.2 -1.1M75.4 243.2l3.2 0.0M78.6 244.6l3.2 -0.6M81.8 242.6l3.2 1.9M85.0 242.4l3.2 1.3M88.2 243.3l3.2 0.7M91.4 243.3l3.2 -0.8M94.6 243.6l3.2 0.7M97.8 244.2l3.2 -1.0M101.0 242.8l3.2 1.3M104.2 244.2l3.2 -1.4M107.4 244.4l3.2 0.3M110.6 243.3l3.2 -0.1M113.8 244.0l3.2 0.5M117.0 242.8l3.2 0.2M120.2 243.1l3.2 1.0M123.4 242.7l3.2 0.9M126.6 243.5l3.2 0.4M129.8 242.6l3.2 2.0M133.0 244.7l3.2 -1.1M136.2 244.2l3.2 -1.5M139.4 244.5l3.2 -0.9M142.6 244.1l3.2 0.3M145.8 243.2l3.2 1.3M149.0 242.8l3.2 -0.4M152.2 243.5l3.2 1.0M155.4 244.5l3.2 0.1M158.6 243.5l3.2 1.0M161.8 243.6l3.2 -1.0M165.0 243.8l3.2 0.4" stroke="#d87a1e" stroke-width="1.3" fill="none" stroke-linecap="round"/>
<path d="M42.9 15.9h0M45.8 15.3h0M44.1 20.0h0M49.1 16.0h0M47.5 20.4h0M52.0 15.4h0M54.9 15.7h0M59.0 15.1h0M59.3 20.0h0M61.8 14.7h0M60.5 19.7h0M64.6 15.5h0M67.6 15.1h0M70.8 15.1h0M69.5 20.0h0M73.8 14.9h0M73.0 19.9h0M77.3 15.3h0M77.6 20.0h0M81.0 15.6h0M80.7 20.2h0M84.9 14.8h0M85.6 19.8h0M87.8 15.3h0M90.7 15.2h0M90.9 20.0h0M94.5 15.1h0M97.6 14.9h0M97.7 19.8h0M100.9 14.6h0M104.3 14.9h0M104.8 19.9h0M107.9 14.4h0M111.0 15.4h0M113.8 15.2h0M113.2 20.0h0M116.5 14.8h0M116.3 19.8h0M119.8 14.6h0M120.0 19.7h0M123.2 14.6h0M127.2 15.6h0M127.3 20.2h0M131.0 14.5h0M130.9 19.7h0M134.2 15.7h0M134.8 20.2h0M137.3 16.0h0M137.5 20.4h0M140.6 14.6h0M144.1 15.1h0M146.8 14.7h0M150.8 14.9h0M151.3 19.8h0M153.7 15.1h0M153.6 20.0h0M156.8 15.9h0M156.7 20.3h0M159.5 15.9h0M160.1 20.4h0M43.7 28.9h0M39.9 33.3h0M45.9 29.0h0M43.6 33.4h0M49.1 28.6h0M45.3 33.2h0M51.2 28.6h0M49.1 33.2h0M53.2 29.0h0M55.9 28.6h0M52.5 33.1h0M59.2 27.1h0M61.4 28.1h0M58.5 32.9h0M64.4 27.4h0M66.6 27.8h0M70.0 26.6h0M72.8 26.6h0M71.1 32.2h0M74.8 27.8h0M73.0 32.7h0M77.5 26.5h0M80.1 26.0h0M82.8 26.9h0M81.2 32.3h0M85.0 27.2h0M88.1 25.9h0M87.6 31.8h0M90.8 27.3h0M93.8 25.9h0M96.3 27.0h0M98.7 25.9h0M101.1 26.6h0M103.9 27.0h0M103.4 32.4h0M106.7 25.9h0M107.8 31.8h0M109.7 26.2h0M110.5 32.0h0M112.1 27.4h0M114.6 26.6h0M117.0 26.0h0M119.4 27.2h0M120.1 32.4h0M122.1 27.3h0M122.7 32.5h0M125.0 27.2h0M126.7 32.5h0M127.9 27.2h0M130.4 27.2h0M131.3 32.4h0M133.1 27.9h0M135.6 32.8h0M135.2 27.5h0M137.9 27.9h0M140.2 32.8h0M140.9 28.5h0M142.7 33.1h0M142.7 27.5h0M145.6 32.6h0M145.4 27.5h0M148.6 32.6h0M148.4 28.4h0M53.9 41.1h0M57.0 40.3h0M59.1 40.6h0M61.7 41.1h0M59.5 45.7h0M63.9 40.8h0M62.2 45.6h0M67.2 39.6h0M65.5 44.9h0M69.5 40.7h0M72.5 40.4h0M75.1 39.9h0M77.9 40.3h0M76.7 45.3h0M80.3 40.2h0M79.6 45.2h0M82.5 39.5h0M80.5 44.9h0M84.9 39.3h0M83.1 44.8h0M88.0 38.9h0M90.0 39.8h0M90.0 45.1h0M92.3 40.0h0M92.7 45.2h0M95.2 39.8h0M95.7 45.0h0M97.8 39.0h0M96.8 44.6h0M100.5 39.5h0M101.5 44.9h0M103.2 38.8h0M104.1 44.5h0M105.3 38.7h0M105.3 44.5h0M107.8 38.6h0M107.6 44.5h0M110.5 39.9h0M110.5 45.1h0M112.7 40.0h0M113.0 45.1h0M115.4 39.9h0M115.7 45.1h0M118.0 40.4h0M118.0 45.4h0M120.5 39.6h0M121.7 44.9h0M123.7 40.5h0M126.0 39.9h0M128.5 40.0h0M131.6 40.4h0M134.2 40.1h0M136.0 45.2h0M136.7 41.0h0M139.2 45.7h0M139.0 41.1h0M141.8 45.7h0M141.5 40.5h0M143.5 45.4h0M144.1 41.0h0M146.5 45.6h0M146.0 40.4h0M149.3 41.6h0M151.6 41.7h0M154.2 46.0h0M154.0 41.7h0M157.1 46.0h0M156.4 42.2h0M159.2 46.2h0M158.8 42.7h0M161.2 46.5h0M48.2 53.9h0M50.5 53.5h0M46.9 58.6h0M52.1 54.5h0M54.1 54.5h0M56.9 53.4h0M58.6 54.0h0M56.2 58.9h0M61.4 52.7h0M63.4 52.4h0M65.0 53.5h0M62.1 58.6h0M66.7 53.6h0M69.1 52.5h0M71.0 52.7h0M69.7 58.2h0M73.1 52.6h0M71.7 58.1h0M74.8 52.0h0M72.3 57.9h0M76.5 52.0h0M75.4 57.8h0M78.7 52.3h0M77.3 58.0h0M80.9 51.7h0M82.6 53.0h0M81.1 58.3h0M84.8 52.5h0M82.9 58.1h0M86.4 52.5h0M88.5 51.7h0M87.8 57.7h0M90.4 52.1h0M90.5 57.9h0M92.1 51.0h0M93.5 52.0h0M95.8 52.0h0M94.9 57.9h0M98.0 52.5h0M97.2 58.1h0M100.0 51.0h0M100.6 57.4h0M101.9 51.2h0M103.5 51.1h0M102.8 57.4h0M105.1 51.9h0M105.0 57.8h0M106.7 52.2h0M107.8 58.0h0M108.1 51.5h0M109.7 51.2h0M112.1 52.4h0M112.6 58.1h0M114.3 51.9h0M115.1 57.8h0M116.2 53.0h0M117.8 58.3h0M117.6 51.4h0M118.4 57.5h0M119.8 52.8h0M121.9 58.3h0M121.7 51.8h0M123.9 51.6h0M126.0 57.7h0M125.5 52.1h0M127.8 57.9h0M127.8 53.0h0M130.4 58.3h0M129.3 52.7h0M130.8 58.2h0M131.1 51.9h0M133.6 57.8h0M133.1 52.8h0M134.6 58.2h0M135.0 53.5h0M137.0 53.6h0M139.1 53.4h0M141.0 58.5h0M140.8 53.7h0M142.8 58.7h0M142.3 53.4h0M144.6 53.8h0M147.4 58.8h0M146.5 54.1h0M148.9 58.9h0M149.1 54.6h0M152.2 59.1h0M151.2 54.6h0M153.7 59.2h0M152.9 54.4h0M154.6 54.0h0M157.2 58.8h0M43.6 68.0h0M39.4 72.3h0M46.0 67.2h0M48.2 66.9h0M44.2 71.7h0M49.5 67.4h0M52.0 66.9h0M53.9 67.2h0M50.2 71.9h0M55.9 67.4h0M58.0 67.1h0M55.1 71.9h0M60.4 66.3h0M57.0 71.5h0M62.2 66.4h0M59.3 71.5h0M63.8 67.2h0M61.7 71.9h0M66.6 66.0h0M68.2 66.6h0M67.3 71.6h0M70.4 66.4h0M68.6 71.5h0M72.5 66.1h0M71.2 71.4h0M74.7 66.3h0M72.8 71.5h0M76.7 65.5h0M75.8 71.0h0M78.8 65.7h0M78.4 71.2h0M80.7 65.1h0M78.8 70.8h0M82.6 66.0h0M84.5 66.1h0M83.4 71.3h0M86.7 64.7h0M85.6 70.6h0M88.4 64.6h0M86.7 70.6h0M89.8 65.6h0M92.1 64.9h0M94.3 65.7h0M94.8 71.1h0M96.4 66.2h0M98.2 65.6h0M97.5 71.1h0M99.8 65.7h0M100.6 71.2h0M101.3 64.5h0M101.2 70.5h0M103.5 64.7h0M102.8 70.7h0M105.4 65.6h0M107.1 65.6h0M108.6 65.5h0M110.8 66.3h0M110.6 71.4h0M113.1 65.9h0M115.3 65.8h0M117.1 71.2h0M117.3 66.0h0M119.1 66.0h0M120.7 71.3h0M121.2 65.5h0M122.9 66.2h0M125.2 71.4h0M125.1 66.1h0M126.5 71.3h0M126.7 65.2h0M129.1 70.9h0M128.9 65.5h0M131.2 66.4h0M132.8 71.5h0M133.5 67.0h0M135.9 71.8h0M135.3 67.1h0M137.4 71.8h0M136.4 65.7h0M139.3 67.0h0M140.8 71.8h0M140.9 66.4h0M142.9 71.5h0M142.8 66.7h0M144.8 66.5h0M146.4 66.6h0M149.5 71.6h0M148.3 66.9h0M150.8 71.8h0M53.7 79.4h0M50.5 84.3h0M55.7 79.1h0M52.3 84.2h0M57.6 79.5h0M59.1 79.6h0M61.6 78.8h0M58.8 84.0h0M62.7 79.9h0M65.2 78.5h0M63.7 83.9h0M66.7 79.5h0M68.9 79.7h0M67.4 84.4h0M70.8 79.2h0M68.5 84.2h0M72.6 78.7h0M74.0 79.6h0M72.9 84.4h0M75.8 79.0h0M75.0 84.1h0M77.7 79.4h0M76.2 84.3h0M79.9 78.3h0M78.0 83.8h0M81.9 78.7h0M80.4 83.9h0M84.2 78.8h0M82.9 84.0h0M86.2 77.7h0M87.8 78.9h0M89.5 79.2h0M91.5 77.7h0M91.7 83.5h0M93.3 78.9h0M93.0 84.0h0M95.4 77.5h0M95.3 83.4h0M97.1 78.2h0M96.5 83.7h0M99.1 77.5h0M99.0 83.3h0M101.2 77.4h0M100.6 83.3h0M103.5 77.4h0M102.8 83.3h0M105.8 78.5h0M107.7 77.7h0M108.8 83.4h0M109.5 78.5h0M111.7 78.9h0M112.2 84.1h0M113.6 78.6h0M113.9 83.9h0M115.6 77.7h0M116.7 83.5h0M118.0 79.3h0M119.4 78.4h0M120.8 83.8h0M121.2 78.7h0M122.3 84.0h0M123.3 78.8h0M123.7 84.0h0M125.3 78.8h0M127.3 84.0h0M127.4 78.9h0M129.0 84.1h0M129.2 79.6h0M130.1 84.4h0M130.9 79.0h0M133.0 84.1h0M132.4 78.7h0M134.8 79.9h0M136.4 84.6h0M137.0 79.9h0M138.9 79.1h0M140.4 78.8h0M143.9 84.0h0M143.4 80.3h0M145.8 80.6h0M148.7 84.9h0M146.7 79.4h0M150.2 84.3h0M148.7 80.1h0M150.7 80.6h0M153.1 84.9h0M152.3 80.9h0M156.0 85.0h0M153.7 80.0h0M157.5 84.6h0M155.7 80.7h0M157.2 80.4h0M160.8 84.8h0M160.4 81.6h0M47.4 92.6h0M45.4 97.0h0M49.7 93.0h0M52.1 93.1h0M54.8 92.0h0M52.4 96.7h0M57.6 92.1h0M59.6 92.9h0M56.9 97.1h0M62.6 92.0h0M61.3 96.7h0M64.7 92.2h0M66.7 92.5h0M64.2 96.9h0M69.3 92.0h0M67.8 96.7h0M71.8 91.3h0M69.4 96.3h0M74.6 91.8h0M72.4 96.6h0M77.6 90.6h0M79.8 91.6h0M78.9 96.5h0M82.4 91.3h0M85.1 90.3h0M87.4 90.3h0M86.7 95.8h0M89.7 91.4h0M89.7 96.4h0M91.8 90.8h0M94.0 91.4h0M96.6 90.6h0M98.8 91.2h0M97.8 96.3h0M101.7 90.4h0M103.8 90.3h0M106.3 90.5h0M106.1 95.9h0M108.5 91.4h0M108.7 96.4h0M111.3 90.6h0M114.1 91.4h0M114.8 96.4h0M116.9 91.0h0M118.2 96.2h0M120.0 91.6h0M122.1 91.6h0M123.8 96.5h0M124.9 90.9h0M127.1 96.2h0M127.5 91.9h0M130.0 91.2h0M133.2 91.8h0M135.7 91.3h0M138.3 96.3h0M138.7 92.3h0M141.1 96.9h0M140.4 91.5h0M141.9 96.5h0M142.6 91.6h0M144.4 96.5h0M145.4 93.1h0M147.6 92.3h0M149.9 92.6h0M153.3 97.0h0M152.5 92.4h0M156.3 96.9h0M155.5 92.6h0M158.1 97.0h0M42.8 105.2h0M45.5 105.0h0M47.2 105.9h0M44.8 110.1h0M49.7 105.4h0M45.9 109.8h0M52.0 105.3h0M54.5 105.0h0M57.6 104.0h0M59.3 104.6h0M57.4 109.4h0M61.9 103.9h0M59.0 109.1h0M64.4 104.8h0M66.6 104.8h0M65.3 109.6h0M69.7 104.6h0M67.9 109.5h0M72.6 104.2h0M70.7 109.3h0M75.6 104.0h0M77.9 103.9h0M80.4 104.0h0M82.8 102.8h0M85.5 103.0h0M84.4 108.6h0M88.0 102.4h0M88.0 108.4h0M89.9 103.6h0M90.1 109.0h0M92.5 103.3h0M94.8 103.1h0M95.0 108.7h0M97.6 102.8h0M97.1 108.5h0M99.8 102.4h0M102.5 103.6h0M103.2 109.0h0M105.2 103.7h0M106.3 109.0h0M107.5 103.6h0M108.3 109.0h0M110.4 103.7h0M110.5 109.0h0M112.6 103.1h0M113.1 108.7h0M114.7 102.3h0M116.9 102.4h0M117.8 108.4h0M119.9 102.8h0M122.7 104.0h0M124.8 104.1h0M125.3 109.2h0M127.0 103.1h0M129.6 103.5h0M130.7 108.9h0M132.4 104.1h0M135.3 104.2h0M138.0 109.2h0M138.0 104.7h0M140.5 104.0h0M143.5 104.3h0M146.3 105.1h0M148.4 105.1h0M53.8 118.0h0M51.2 122.5h0M56.7 117.6h0M59.5 117.8h0M62.5 117.3h0M61.3 122.1h0M64.7 116.9h0M63.2 121.9h0M67.7 116.8h0M66.0 121.8h0M70.5 116.3h0M68.9 121.6h0M73.2 116.5h0M72.5 121.7h0M75.6 116.1h0M74.6 121.5h0M77.9 115.5h0M75.5 121.2h0M79.9 116.4h0M78.6 121.7h0M82.5 115.8h0M81.0 121.4h0M84.8 115.7h0M87.2 116.6h0M89.7 116.5h0M89.6 121.7h0M92.6 115.7h0M92.3 121.3h0M94.9 115.1h0M94.8 121.0h0M97.7 115.4h0M97.2 121.1h0M100.3 116.6h0M102.7 115.3h0M102.6 121.1h0M105.0 116.1h0M104.3 121.5h0M107.8 116.4h0M107.8 121.6h0M110.3 116.1h0M113.0 116.3h0M116.0 116.9h0M118.7 115.7h0M120.5 121.3h0M121.7 117.2h0M123.8 122.0h0M124.3 116.8h0M125.0 121.9h0M126.3 116.0h0M127.3 121.5h0M129.3 116.2h0M131.9 121.5h0M131.9 116.3h0M134.9 116.5h0M137.2 116.8h0M139.9 121.8h0M139.5 116.6h0M141.5 121.8h0M142.4 117.9h0M143.9 122.4h0M145.0 118.1h0M147.4 122.5h0M147.0 117.2h0M150.6 122.0h0M149.8 117.8h0M152.9 118.3h0M156.8 122.6h0M154.9 118.2h0M157.0 118.4h0M160.4 119.0h0M48.0 130.2h0M45.2 134.9h0M49.5 130.9h0M51.5 130.5h0M49.2 135.1h0M53.1 130.4h0M50.5 135.1h0M55.2 130.5h0M57.3 130.0h0M54.8 134.9h0M59.7 129.6h0M61.3 130.1h0M59.2 134.9h0M63.7 129.2h0M61.8 134.4h0M65.7 129.4h0M63.2 134.6h0M67.0 130.0h0M69.4 129.1h0M71.6 129.0h0M73.6 128.8h0M72.3 134.2h0M75.3 128.8h0M74.3 134.2h0M76.7 129.5h0M75.9 134.6h0M79.2 128.6h0M78.5 134.2h0M81.3 128.7h0M79.7 134.2h0M83.0 129.1h0M82.3 134.4h0M85.2 129.5h0M83.5 134.6h0M87.0 128.1h0M87.0 133.9h0M88.7 129.5h0M88.3 134.6h0M91.2 127.7h0M90.4 133.7h0M92.7 128.3h0M91.5 134.0h0M94.2 129.5h0M95.9 127.7h0M96.3 133.7h0M97.4 129.4h0M99.1 128.1h0M98.2 133.9h0M101.3 128.1h0M103.4 129.3h0M105.4 128.6h0M107.1 127.7h0M108.8 129.5h0M110.9 129.4h0M112.0 134.5h0M112.4 128.0h0M112.3 133.9h0M114.3 128.6h0M115.5 134.1h0M115.8 128.2h0M117.2 134.0h0M118.0 128.9h0M119.7 134.3h0M120.1 128.4h0M121.0 134.0h0M121.6 128.1h0M124.1 129.3h0M126.1 128.5h0M128.1 129.3h0M129.8 129.0h0M131.9 128.9h0M133.0 134.3h0M133.9 129.6h0M136.6 134.7h0M136.4 130.4h0M138.0 129.2h0M140.0 134.4h0M140.3 129.4h0M142.9 130.3h0M145.5 135.0h0M145.3 130.7h0M147.5 130.8h0M149.4 130.6h0M151.8 135.1h0M151.3 130.3h0M153.6 135.0h0M153.5 130.5h0M156.9 135.1h0M155.6 130.5h0M159.0 135.1h0M42.3 144.5h0M39.6 148.5h0M44.6 143.8h0M41.4 148.2h0M45.7 144.4h0M47.7 144.1h0M49.9 143.9h0M46.8 148.3h0M51.8 144.0h0M50.1 148.3h0M54.4 143.1h0M51.3 147.8h0M56.6 143.0h0M59.0 142.2h0M60.2 143.4h0M57.3 148.0h0M61.8 143.3h0M60.4 147.9h0M64.3 141.7h0M65.7 142.2h0M62.8 147.4h0M67.7 142.6h0M66.1 147.6h0M70.3 141.8h0M68.3 147.2h0M72.1 141.2h0M73.3 142.7h0M71.5 147.7h0M76.0 141.1h0M77.5 141.3h0M79.6 140.8h0M77.5 146.7h0M81.7 140.8h0M83.3 141.4h0M84.8 141.8h0M83.1 147.2h0M86.7 142.1h0M85.2 147.3h0M88.7 142.3h0M90.4 142.3h0M92.2 140.6h0M94.3 142.0h0M93.2 147.3h0M96.7 140.7h0M98.5 141.6h0M100.4 141.1h0M99.9 146.8h0M101.9 140.9h0M101.4 146.8h0M104.2 141.8h0M103.7 147.2h0M105.8 140.7h0M105.6 146.7h0M107.8 141.7h0M109.3 140.5h0M110.7 146.6h0M111.5 142.0h0M111.8 147.3h0M113.2 142.0h0M115.0 147.3h0M115.3 140.8h0M115.9 146.7h0M117.8 142.4h0M119.2 140.8h0M121.2 146.7h0M121.4 142.4h0M123.3 147.5h0M123.3 142.3h0M125.5 147.5h0M124.8 141.7h0M125.7 147.2h0M126.9 141.6h0M127.8 147.1h0M128.5 141.8h0M129.9 147.2h0M130.2 141.9h0M132.4 142.1h0M133.5 147.3h0M134.6 142.5h0M135.9 141.9h0M138.9 147.3h0M138.4 142.6h0M141.5 147.6h0M140.0 142.1h0M141.9 147.3h0M142.6 143.1h0M144.8 147.8h0M144.9 143.8h0M147.3 148.2h0M146.8 143.7h0M148.3 142.7h0M151.8 147.7h0M53.8 156.6h0M56.5 155.8h0M54.1 160.5h0M58.1 156.4h0M60.0 156.0h0M57.3 160.6h0M62.1 156.1h0M60.4 160.7h0M63.8 156.1h0M62.0 160.6h0M66.2 154.8h0M64.9 160.0h0M67.9 155.8h0M66.1 160.5h0M70.0 155.3h0M68.1 160.3h0M71.8 154.7h0M73.4 154.7h0M75.2 154.2h0M76.9 154.8h0M78.8 154.8h0M80.9 154.8h0M79.5 160.0h0M83.0 153.6h0M85.2 153.9h0M86.7 154.3h0M88.9 154.8h0M88.5 160.0h0M90.7 154.2h0M90.0 159.7h0M92.6 155.1h0M93.1 160.2h0M94.8 153.5h0M97.0 153.5h0M98.5 154.0h0M98.8 159.6h0M100.2 154.2h0M102.3 154.7h0M102.3 159.9h0M104.5 154.6h0M105.1 159.9h0M106.1 154.1h0M108.1 154.7h0M108.6 159.9h0M109.8 155.0h0M109.9 160.1h0M111.6 154.7h0M111.4 160.0h0M113.4 153.8h0M115.4 154.2h0M116.8 159.7h0M117.3 154.4h0M119.3 154.9h0M119.9 160.0h0M121.2 154.8h0M121.5 160.0h0M122.8 154.0h0M124.4 159.6h0M125.0 155.1h0M126.5 154.4h0M127.3 159.8h0M128.9 155.0h0M130.4 160.1h0M130.6 154.6h0M132.0 159.9h0M132.9 154.7h0M134.7 160.0h0M134.8 154.9h0M136.9 154.8h0M139.7 160.0h0M139.1 155.1h0M142.0 160.1h0M141.1 155.0h0M144.4 160.1h0M142.7 155.3h0M145.3 160.3h0M145.2 155.8h0M148.4 160.5h0M147.4 155.9h0M150.1 160.5h0M149.2 155.9h0M151.9 160.5h0M151.5 156.5h0M155.0 160.9h0M153.7 156.5h0M156.1 160.9h0M155.9 157.2h0M158.9 161.2h0M156.7 156.2h0M160.8 160.7h0M158.9 156.4h0M162.3 160.8h0M46.4 169.7h0M43.6 173.8h0M50.1 168.5h0M48.1 173.1h0M52.5 168.6h0M54.8 168.7h0M52.0 173.2h0M58.1 168.0h0M54.8 172.9h0M60.3 168.3h0M58.2 173.0h0M63.7 167.2h0M61.3 172.5h0M66.4 167.0h0M64.3 172.4h0M68.7 168.2h0M67.9 173.0h0M71.8 167.5h0M70.9 172.6h0M74.7 166.8h0M77.5 167.4h0M75.7 172.6h0M80.1 167.2h0M78.2 172.5h0M82.8 166.9h0M82.7 172.3h0M85.3 167.8h0M85.0 172.8h0M87.8 166.6h0M86.6 172.2h0M90.7 166.7h0M92.9 166.9h0M92.0 172.3h0M95.6 166.8h0M98.2 167.0h0M97.4 172.4h0M101.0 167.5h0M100.4 172.7h0M103.5 166.3h0M106.4 167.6h0M107.3 172.7h0M108.7 166.5h0M108.6 172.2h0M111.1 167.6h0M113.7 167.3h0M114.3 172.5h0M115.7 166.3h0M117.6 172.1h0M118.2 166.9h0M118.4 172.3h0M121.1 166.6h0M123.2 172.2h0M124.2 167.7h0M127.1 167.4h0M129.5 167.7h0M131.8 168.0h0M134.1 167.3h0M135.5 172.6h0M136.9 168.4h0M139.0 168.0h0M141.4 172.9h0M141.6 168.4h0M143.2 173.1h0M144.5 168.7h0M146.4 173.2h0M147.0 169.0h0M149.9 173.4h0M149.5 169.3h0M151.6 169.3h0M153.7 169.2h0M42.5 182.3h0M45.6 181.2h0M43.1 186.0h0M47.4 182.1h0M43.8 186.4h0M50.3 181.8h0M53.1 181.5h0M50.6 186.1h0M55.8 180.5h0M53.0 185.6h0M57.9 181.3h0M60.7 180.5h0M57.9 185.6h0M62.7 181.3h0M61.3 186.0h0M65.5 180.2h0M63.5 185.4h0M67.8 180.3h0M65.0 185.5h0M70.0 180.7h0M68.7 185.7h0M72.5 180.2h0M75.5 179.3h0M77.4 180.3h0M76.4 185.5h0M80.2 180.0h0M79.3 185.4h0M82.9 180.1h0M85.4 179.4h0M83.7 185.0h0M88.3 179.1h0M90.3 180.3h0M89.1 185.5h0M92.7 179.7h0M91.9 185.2h0M95.3 180.0h0M98.0 179.0h0M97.7 184.9h0M100.7 179.7h0M101.4 185.2h0M103.5 179.8h0M104.4 185.3h0M106.2 180.3h0M105.8 185.5h0M109.0 180.0h0M111.8 180.3h0M114.1 179.1h0M116.6 180.4h0M118.8 179.0h0M121.6 179.2h0M124.4 180.7h0M126.7 180.0h0M128.7 179.7h0M131.0 185.2h0M131.9 180.7h0M134.7 185.7h0M134.4 180.4h0M135.6 185.5h0M136.9 180.7h0M138.7 185.7h0M138.9 180.4h0M141.5 181.3h0M143.8 186.0h0M144.5 181.3h0M147.8 186.0h0M146.5 181.1h0M149.9 185.9h0M53.9 194.5h0M56.9 193.9h0M59.5 194.3h0M57.0 198.8h0M61.8 194.2h0M59.1 198.8h0M64.8 193.4h0M62.4 198.4h0M67.3 193.4h0M64.6 198.4h0M69.8 192.3h0M71.7 192.6h0M74.0 193.6h0M72.5 198.4h0M76.5 192.7h0M75.9 198.0h0M79.2 192.5h0M81.8 193.0h0M80.0 198.2h0M84.1 192.1h0M86.2 193.0h0M89.3 191.7h0M89.1 197.5h0M92.1 191.9h0M91.0 197.6h0M94.9 192.7h0M94.7 198.0h0M97.3 191.7h0M96.3 197.5h0M99.9 192.1h0M102.7 191.6h0M105.2 192.4h0M105.1 197.8h0M107.9 193.1h0M110.0 192.5h0M112.3 193.3h0M112.4 198.3h0M115.1 193.4h0M117.7 192.1h0M118.4 197.7h0M120.5 192.7h0M121.5 198.0h0M123.0 192.5h0M126.2 193.5h0M127.5 198.4h0M128.7 193.3h0M129.5 198.3h0M131.0 193.2h0M133.7 192.7h0M136.9 193.3h0M139.0 193.3h0M141.4 193.6h0M143.9 193.7h0M146.2 198.5h0M147.4 194.8h0M150.3 199.1h0M150.0 194.9h0M152.0 194.4h0M155.0 198.8h0M154.8 194.9h0M157.2 199.1h0M157.7 194.9h0M161.6 199.1h0M160.5 195.7h0M163.1 199.5h0M47.6 207.7h0M43.9 212.1h0M50.0 206.9h0M46.7 211.7h0M51.4 207.0h0M53.7 206.4h0M55.5 205.9h0M57.0 206.0h0M53.5 211.3h0M59.1 206.3h0M60.9 205.8h0M57.8 211.2h0M62.1 207.0h0M59.4 211.7h0M64.4 205.7h0M62.8 211.1h0M66.5 205.3h0M65.1 210.9h0M68.3 206.4h0M70.4 205.2h0M72.2 206.3h0M71.1 211.4h0M74.8 205.1h0M73.4 210.8h0M76.3 205.3h0M78.1 204.6h0M79.5 205.8h0M78.9 211.2h0M81.5 205.9h0M79.6 211.2h0M83.6 205.7h0M82.2 211.1h0M85.8 205.3h0M85.6 210.9h0M87.8 204.7h0M89.9 205.9h0M88.6 211.2h0M92.0 204.3h0M93.4 205.5h0M95.5 205.1h0M94.5 210.8h0M97.7 205.1h0M99.7 205.7h0M99.1 211.1h0M101.9 204.7h0M101.3 210.6h0M103.7 205.0h0M103.7 210.7h0M105.5 205.9h0M105.5 211.2h0M107.0 205.0h0M108.6 205.6h0M110.3 205.4h0M110.5 211.0h0M112.2 205.0h0M114.6 206.0h0M116.0 211.2h0M116.6 204.6h0M118.8 205.5h0M120.5 211.0h0M120.7 204.5h0M122.6 204.9h0M124.5 205.2h0M126.2 210.9h0M126.7 206.3h0M127.9 211.4h0M128.8 205.7h0M130.1 211.1h0M130.5 206.0h0M131.4 211.2h0M132.7 205.9h0M134.9 211.2h0M134.7 206.5h0M136.3 211.5h0M136.0 205.7h0M139.3 211.1h0M137.7 205.5h0M139.4 211.0h0M139.6 206.2h0M141.3 206.0h0M144.7 211.2h0M143.1 206.6h0M145.1 207.0h0M147.0 211.8h0M146.4 206.5h0M149.1 211.5h0M148.2 206.8h0M150.7 207.6h0M152.6 207.1h0M156.4 211.8h0M155.1 207.7h0M157.7 212.1h0M43.8 220.5h0M45.2 220.8h0M47.3 220.6h0M48.8 220.9h0M45.1 225.2h0M51.1 220.4h0M48.5 224.9h0M53.0 220.0h0M51.1 224.7h0M55.5 219.1h0M52.8 224.2h0M57.0 219.9h0M53.9 224.7h0M59.0 219.1h0M57.1 224.3h0M60.7 219.4h0M58.5 224.4h0M62.8 219.1h0M61.0 224.3h0M64.7 218.8h0M66.5 219.4h0M68.9 219.0h0M67.1 224.2h0M71.0 219.5h0M69.3 224.4h0M73.4 218.3h0M72.7 223.8h0M75.1 218.2h0M72.6 223.8h0M76.4 219.4h0M75.2 224.4h0M78.5 217.7h0M76.3 223.6h0M80.0 218.0h0M81.4 219.3h0M83.5 217.5h0M82.6 223.4h0M85.2 217.8h0M83.8 223.6h0M87.2 219.0h0M88.9 218.0h0M88.9 223.7h0M90.5 218.1h0M90.7 223.7h0M92.7 217.9h0M91.8 223.7h0M94.4 218.3h0M93.5 223.8h0M96.6 217.9h0M97.3 223.6h0M98.2 218.0h0M98.8 223.7h0M100.4 218.5h0M102.6 218.5h0M102.7 224.0h0M104.9 218.8h0M106.8 218.2h0M108.0 223.8h0M108.4 217.5h0M109.6 223.4h0M110.8 218.8h0M113.1 218.6h0M113.1 224.0h0M115.4 219.2h0M116.8 217.9h0M117.3 223.7h0M119.1 219.2h0M121.1 224.3h0M120.9 217.8h0M122.7 219.0h0M124.9 219.5h0M125.8 224.4h0M126.8 219.4h0M129.3 224.4h0M128.1 218.2h0M129.9 223.8h0M130.0 219.0h0M132.2 224.2h0M131.4 218.6h0M132.7 224.0h0M133.4 219.1h0M135.4 219.7h0M137.3 218.9h0M139.0 224.2h0M139.5 220.1h0M141.8 224.8h0M141.0 219.5h0M142.5 224.4h0M143.0 219.4h0M145.8 224.4h0M144.8 219.1h0M147.5 220.2h0M150.1 224.8h0M53.6 232.9h0M50.3 237.5h0M55.7 233.4h0M58.2 232.8h0M60.0 232.7h0M57.0 237.4h0M62.6 231.7h0M64.1 231.8h0M62.2 236.9h0M65.9 232.3h0M67.7 231.5h0M69.5 231.6h0M71.2 231.5h0M73.1 231.3h0M71.5 236.6h0M75.1 231.2h0M73.8 236.6h0M76.9 232.0h0M78.9 230.7h0M78.0 236.3h0M80.6 231.4h0M78.8 236.7h0M82.9 231.2h0M81.9 236.6h0M85.0 231.7h0M84.8 236.8h0M87.0 230.9h0M89.3 230.5h0M88.4 236.2h0M91.5 230.5h0M90.2 236.3h0M93.1 231.8h0M93.3 236.9h0M95.0 231.1h0M94.5 236.6h0M97.4 230.7h0M97.2 236.3h0M99.5 230.6h0M99.8 236.3h0M101.3 231.0h0M101.1 236.5h0M103.1 231.3h0M102.7 236.6h0M105.1 231.8h0M105.9 236.9h0M106.8 231.4h0M107.9 236.7h0M108.4 230.8h0M110.1 231.3h0M112.1 231.4h0M112.7 236.7h0M113.8 230.8h0M114.5 236.4h0M115.8 230.7h0M116.6 236.3h0M117.8 230.6h0M119.9 236.3h0M120.1 231.6h0M122.0 232.2h0M123.6 231.5h0M125.9 236.7h0M126.0 232.4h0M127.4 237.2h0M127.5 231.1h0M129.2 236.5h0M129.9 231.9h0M131.7 236.9h0M132.0 231.6h0M134.3 232.7h0M135.8 231.7h0M137.8 232.6h0M140.5 237.3h0M139.5 232.9h0M141.5 233.1h0M143.3 232.6h0M146.2 237.3h0M145.1 232.6h0M147.1 232.3h0M149.6 237.1h0M149.8 233.7h0M151.4 233.5h0M153.7 237.7h0M153.3 233.2h0M156.2 237.6h0M155.2 233.7h0M156.8 233.1h0M159.6 237.6h0M158.8 233.7h0M162.0 237.9h0M160.8 233.7h0M164.7 237.9h0M44.0 252.1h0M47.1 253.1h0M50.3 252.6h0M54.2 252.9h0M58.6 252.1h0M61.9 253.7h0M64.6 253.8h0M68.2 253.3h0M72.0 253.7h0M74.8 252.2h0M77.5 252.8h0M81.3 253.4h0M84.2 252.1h0M88.3 253.2h0M91.5 253.8h0M94.6 253.6h0M99.1 252.8h0M102.9 252.2h0M106.3 253.4h0M109.0 253.8h0M113.5 252.6h0M116.7 253.9h0M119.4 253.2h0M123.0 252.5h0M127.3 253.8h0M129.8 252.7h0M134.2 252.7h0M137.6 252.4h0M141.7 253.1h0M144.4 253.2h0M147.8 252.2h0M151.6 252.7h0M154.8 252.3h0M159.2 253.7h0M162.7 253.8h0M41.2 20.8h0M50.2 20.5h0M41.6 31.9h0M50.6 31.8h0M59.1 20.8h0M68.2 20.5h0M59.5 31.9h0M68.5 31.8h0M77.1 20.8h0M86.1 20.5h0M77.5 31.9h0M86.5 31.8h0M95.0 20.8h0M104.0 20.5h0M95.4 31.9h0M104.4 31.8h0M113.0 20.8h0M122.0 20.5h0M113.4 31.9h0M122.4 31.8h0M131.0 20.8h0M140.0 20.5h0M131.4 31.9h0M140.4 31.8h0M148.9 20.8h0M157.9 20.5h0M149.3 31.9h0M158.3 31.8h0M36.2 33.7h0M45.2 33.4h0M36.6 44.8h0M45.6 44.7h0M54.1 33.7h0M63.1 33.4h0M54.5 44.8h0M63.5 44.7h0M72.1 33.7h0M81.1 33.4h0M72.5 44.8h0M81.5 44.7h0M90.0 33.7h0M99.0 33.4h0M90.4 44.8h0M99.4 44.7h0M108.0 33.7h0M117.0 33.4h0M108.4 44.8h0M117.4 44.7h0M126.0 33.7h0M135.0 33.4h0M126.4 44.8h0M135.4 44.7h0M143.9 33.7h0M152.9 33.4h0M144.3 44.8h0M153.3 44.7h0M48.2 46.3h0M57.2 46.0h0M48.6 57.4h0M57.6 57.3h0M66.2 46.3h0M75.2 46.0h0M66.5 57.4h0M75.5 57.3h0M84.1 46.3h0M93.1 46.0h0M84.5 57.4h0M93.5 57.3h0M102.0 46.3h0M111.0 46.0h0M102.4 57.4h0M111.4 57.3h0M120.0 46.3h0M129.0 46.0h0M120.4 57.4h0M129.4 57.3h0M138.0 46.3h0M147.0 46.0h0M138.4 57.4h0M147.4 57.3h0M155.9 46.3h0M164.9 46.0h0M156.3 57.4h0M165.3 57.3h0M41.2 59.7h0M50.2 59.4h0M41.6 70.8h0M50.6 70.7h0M59.1 59.7h0M68.2 59.4h0M59.5 70.8h0M68.5 70.7h0M77.1 59.7h0M86.1 59.4h0M77.5 70.8h0M86.5 70.7h0M95.0 59.7h0M104.0 59.4h0M95.4 70.8h0M104.4 70.7h0M113.0 59.7h0M122.0 59.4h0M113.4 70.8h0M122.4 70.7h0M131.0 59.7h0M140.0 59.4h0M131.4 70.8h0M140.4 70.7h0M148.9 59.7h0M157.9 59.4h0M149.3 70.8h0M158.3 70.7h0M36.2 72.6h0M45.2 72.3h0M36.6 83.7h0M45.6 83.6h0M54.1 72.6h0M63.1 72.3h0M54.5 83.7h0M63.5 83.6h0M72.1 72.6h0M81.1 72.3h0M72.5 83.7h0M81.5 83.6h0M90.0 72.6h0M99.0 72.3h0M90.4 83.7h0M99.4 83.6h0M108.0 72.6h0M117.0 72.3h0M108.4 83.7h0M117.4 83.6h0M126.0 72.6h0M135.0 72.3h0M126.4 83.7h0M135.4 83.6h0M143.9 72.6h0M152.9 72.3h0M144.3 83.7h0M153.3 83.6h0M48.2 85.2h0M57.2 84.9h0M48.6 96.3h0M57.6 96.2h0M66.2 85.2h0M75.2 84.9h0M66.5 96.3h0M75.5 96.2h0M84.1 85.2h0M93.1 84.9h0M84.5 96.3h0M93.5 96.2h0M102.0 85.2h0M111.0 84.9h0M102.4 96.3h0M111.4 96.2h0M120.0 85.2h0M129.0 84.9h0M120.4 96.3h0M129.4 96.2h0M138.0 85.2h0M147.0 84.9h0M138.4 96.3h0M147.4 96.2h0M155.9 85.2h0M164.9 84.9h0M156.3 96.3h0M165.3 96.2h0M41.2 97.4h0M50.2 97.1h0M41.6 108.5h0M50.6 108.4h0M59.1 97.4h0M68.2 97.1h0M59.5 108.5h0M68.5 108.4h0M77.1 97.4h0M86.1 97.1h0M77.5 108.5h0M86.5 108.4h0M95.0 97.4h0M104.0 97.1h0M95.4 108.5h0M104.4 108.4h0M113.0 97.4h0M122.0 97.1h0M113.4 108.5h0M122.4 108.4h0M131.0 97.4h0M140.0 97.1h0M131.4 108.5h0M140.4 108.4h0M148.9 97.4h0M157.9 97.1h0M149.3 108.5h0M158.3 108.4h0M36.2 110.3h0M45.2 110.0h0M36.6 121.4h0M45.6 121.3h0M54.1 110.3h0M63.1 110.0h0M54.5 121.4h0M63.5 121.3h0M72.1 110.3h0M81.1 110.0h0M72.5 121.4h0M81.5 121.3h0M90.0 110.3h0M99.0 110.0h0M90.4 121.4h0M99.4 121.3h0M108.0 110.3h0M117.0 110.0h0M108.4 121.4h0M117.4 121.3h0M126.0 110.3h0M135.0 110.0h0M126.4 121.4h0M135.4 121.3h0M143.9 110.3h0M152.9 110.0h0M144.3 121.4h0M153.3 121.3h0M48.2 122.9h0M57.2 122.6h0M48.6 134.0h0M57.6 133.9h0M66.2 122.9h0M75.2 122.6h0M66.5 134.0h0M75.5 133.9h0M84.1 122.9h0M93.1 122.6h0M84.5 134.0h0M93.5 133.9h0M102.0 122.9h0M111.0 122.6h0M102.4 134.0h0M111.4 133.9h0M120.0 122.9h0M129.0 122.6h0M120.4 134.0h0M129.4 133.9h0M138.0 122.9h0M147.0 122.6h0M138.4 134.0h0M147.4 133.9h0M155.9 122.9h0M164.9 122.6h0M156.3 134.0h0M165.3 133.9h0M41.2 135.7h0M50.2 135.4h0M41.6 146.8h0M50.6 146.7h0M59.1 135.7h0M68.2 135.4h0M59.5 146.8h0M68.5 146.7h0M77.1 135.7h0M86.1 135.4h0M77.5 146.8h0M86.5 146.7h0M95.0 135.7h0M104.0 135.4h0M95.4 146.8h0M104.4 146.7h0M113.0 135.7h0M122.0 135.4h0M113.4 146.8h0M122.4 146.7h0M131.0 135.7h0M140.0 135.4h0M131.4 146.8h0M140.4 146.7h0M148.9 135.7h0M157.9 135.4h0M149.3 146.8h0M158.3 146.7h0M36.2 148.6h0M45.2 148.3h0M36.6 159.7h0M45.6 159.6h0M54.1 148.6h0M63.1 148.3h0M54.5 159.7h0M63.5 159.6h0M72.1 148.6h0M81.1 148.3h0M72.5 159.7h0M81.5 159.6h0M90.0 148.6h0M99.0 148.3h0M90.4 159.7h0M99.4 159.6h0M108.0 148.6h0M117.0 148.3h0M108.4 159.7h0M117.4 159.6h0M126.0 148.6h0M135.0 148.3h0M126.4 159.7h0M135.4 159.6h0M143.9 148.6h0M152.9 148.3h0M144.3 159.7h0M153.3 159.6h0M48.2 161.2h0M57.2 160.9h0M48.6 172.3h0M57.6 172.2h0M66.2 161.2h0M75.2 160.9h0M66.5 172.3h0M75.5 172.2h0M84.1 161.2h0M93.1 160.9h0M84.5 172.3h0M93.5 172.2h0M102.0 161.2h0M111.0 160.9h0M102.4 172.3h0M111.4 172.2h0M120.0 161.2h0M129.0 160.9h0M120.4 172.3h0M129.4 172.2h0M138.0 161.2h0M147.0 160.9h0M138.4 172.3h0M147.4 172.2h0M155.9 161.2h0M164.9 160.9h0M156.3 172.3h0M165.3 172.2h0M41.2 173.8h0M50.2 173.5h0M41.6 184.9h0M50.6 184.8h0M59.1 173.8h0M68.2 173.5h0M59.5 184.9h0M68.5 184.8h0M77.1 173.8h0M86.1 173.5h0M77.5 184.9h0M86.5 184.8h0M95.0 173.8h0M104.0 173.5h0M95.4 184.9h0M104.4 184.8h0M113.0 173.8h0M122.0 173.5h0M113.4 184.9h0M122.4 184.8h0M131.0 173.8h0M140.0 173.5h0M131.4 184.9h0M140.4 184.8h0M148.9 173.8h0M157.9 173.5h0M149.3 184.9h0M158.3 184.8h0M36.2 186.7h0M45.2 186.4h0M36.6 197.8h0M45.6 197.7h0M54.1 186.7h0M63.1 186.4h0M54.5 197.8h0M63.5 197.7h0M72.1 186.7h0M81.1 186.4h0M72.5 197.8h0M81.5 197.7h0M90.0 186.7h0M99.0 186.4h0M90.4 197.8h0M99.4 197.7h0M108.0 186.7h0M117.0 186.4h0M108.4 197.8h0M117.4 197.7h0M126.0 186.7h0M135.0 186.4h0M126.4 197.8h0M135.4 197.7h0M143.9 186.7h0M152.9 186.4h0M144.3 197.8h0M153.3 197.7h0M48.2 199.3h0M57.2 199.0h0M48.6 210.4h0M57.6 210.3h0M66.2 199.3h0M75.2 199.0h0M66.5 210.4h0M75.5 210.3h0M84.1 199.3h0M93.1 199.0h0M84.5 210.4h0M93.5 210.3h0M102.0 199.3h0M111.0 199.0h0M102.4 210.4h0M111.4 210.3h0M120.0 199.3h0M129.0 199.0h0M120.4 210.4h0M129.4 210.3h0M138.0 199.3h0M147.0 199.0h0M138.4 210.4h0M147.4 210.3h0M155.9 199.3h0M164.9 199.0h0M156.3 210.4h0M165.3 210.3h0M41.2 212.5h0M50.2 212.2h0M41.6 223.6h0M50.6 223.5h0M59.1 212.5h0M68.2 212.2h0M59.5 223.6h0M68.5 223.5h0M77.1 212.5h0M86.1 212.2h0M77.5 223.6h0M86.5 223.5h0M95.0 212.5h0M104.0 212.2h0M95.4 223.6h0M104.4 223.5h0M113.0 212.5h0M122.0 212.2h0M113.4 223.6h0M122.4 223.5h0M131.0 212.5h0M140.0 212.2h0M131.4 223.6h0M140.4 223.5h0M148.9 212.5h0M157.9 212.2h0M149.3 223.6h0M158.3 223.5h0M36.2 225.4h0M45.2 225.1h0M36.6 236.5h0M45.6 236.4h0M54.1 225.4h0M63.1 225.1h0M54.5 236.5h0M63.5 236.4h0M72.1 225.4h0M81.1 225.1h0M72.5 236.5h0M81.5 236.4h0M90.0 225.4h0M99.0 225.1h0M90.4 236.5h0M99.4 236.4h0M108.0 225.4h0M117.0 225.1h0M108.4 236.5h0M117.4 236.4h0M126.0 225.4h0M135.0 225.1h0M126.4 236.5h0M135.4 236.4h0M143.9 225.4h0M152.9 225.1h0M144.3 236.5h0M153.3 236.4h0M48.2 238.0h0M57.2 237.7h0M48.6 249.1h0M57.6 249.0h0M66.2 238.0h0M75.2 237.7h0M66.5 249.1h0M75.5 249.0h0M84.1 238.0h0M93.1 237.7h0M84.5 249.1h0M93.5 249.0h0M102.0 238.0h0M111.0 237.7h0M102.4 249.1h0M111.4 249.0h0M120.0 238.0h0M129.0 237.7h0M120.4 249.1h0M129.4 249.0h0M138.0 238.0h0M147.0 237.7h0M138.4 249.1h0M147.4 249.0h0M155.9 238.0h0M164.9 237.7h0M156.3 249.1h0M165.3 249.0h0M42.8 26.3h0M46.0 25.4h0M49.2 25.5h0M52.4 26.3h0M55.6 25.6h0M58.8 25.6h0M62.0 25.7h0M65.2 26.3h0M68.4 25.1h0M71.6 26.3h0M74.8 26.5h0M78.0 25.7h0M81.2 25.5h0M84.4 25.2h0M87.6 26.3h0M90.8 27.2h0M94.0 26.5h0M97.2 26.5h0M100.4 26.8h0M103.6 25.7h0M106.8 27.5h0M110.0 26.6h0M113.2 27.1h0M116.4 27.0h0M119.6 27.3h0M122.8 27.4h0M126.0 26.1h0M129.2 25.7h0M132.4 26.7h0M135.6 25.9h0M138.8 25.6h0M142.0 25.9h0M145.2 27.5h0M148.4 26.3h0M151.6 27.0h0M154.8 26.9h0M158.0 25.6h0M37.8 40.0h0M41.0 38.2h0M44.2 38.8h0M47.4 40.3h0M50.6 39.8h0M53.8 40.0h0M57.0 40.2h0M60.2 40.0h0M63.4 39.4h0M66.6 40.0h0M69.8 40.1h0M73.0 40.3h0M76.2 40.3h0M79.4 40.3h0M82.6 38.6h0M85.8 38.6h0M89.0 39.1h0M92.2 39.2h0M95.4 39.6h0M98.6 38.9h0M101.8 39.9h0M105.0 40.3h0M108.2 39.0h0M111.4 39.6h0M114.6 38.8h0M117.8 40.0h0M121.0 38.0h0M124.2 38.0h0M127.4 39.9h0M130.6 39.5h0M133.8 38.8h0M137.0 38.8h0M140.2 39.5h0M143.4 38.2h0M146.6 39.7h0M149.8 39.6h0M49.8 50.9h0M53.0 50.7h0M56.2 51.0h0M59.4 52.9h0M62.6 51.1h0M65.8 52.1h0M69.0 51.5h0M72.2 52.9h0M75.4 53.0h0M78.6 52.6h0M81.8 51.9h0M85.0 51.0h0M88.2 51.7h0M91.4 51.2h0M94.6 50.8h0M97.8 52.7h0M101.0 51.5h0M104.2 52.7h0M107.4 50.8h0M110.6 51.7h0M113.8 51.5h0M117.0 52.1h0M120.2 51.9h0M123.4 52.8h0M126.6 51.5h0M129.8 50.7h0M133.0 52.2h0M136.2 51.7h0M139.4 52.7h0M142.6 52.4h0M145.8 51.4h0M149.0 52.9h0M152.2 50.9h0M155.4 52.0h0M158.6 51.5h0M161.8 52.1h0M165.0 52.4h0M42.8 65.3h0M46.0 66.3h0M49.2 65.9h0M52.4 64.9h0M55.6 65.7h0M58.8 64.7h0M62.0 65.4h0M65.2 65.9h0M68.4 64.3h0M71.6 66.1h0M74.8 65.8h0M78.0 64.7h0M81.2 64.7h0M84.4 66.3h0M87.6 64.4h0M90.8 66.3h0M94.0 64.8h0M97.2 64.3h0M100.4 64.9h0M103.6 66.3h0M106.8 64.5h0M110.0 65.1h0M113.2 65.5h0M116.4 64.8h0M119.6 65.8h0M122.8 65.3h0M126.0 65.8h0M129.2 64.9h0M132.4 65.3h0M135.6 65.5h0M138.8 65.9h0M142.0 66.0h0M145.2 64.8h0M148.4 64.6h0M151.6 64.2h0M154.8 65.8h0M158.0 65.0h0M37.8 77.2h0M41.0 78.4h0M44.2 78.4h0M47.4 78.8h0M50.6 79.2h0M53.8 77.7h0M57.0 78.8h0M60.2 77.3h0M63.4 78.2h0M66.6 78.5h0M69.8 77.2h0M73.0 77.1h0M76.2 78.1h0M79.4 78.5h0M82.6 77.9h0M85.8 77.6h0M89.0 78.8h0M92.2 77.3h0M95.4 78.7h0M98.6 79.1h0M101.8 78.7h0M105.0 78.5h0M108.2 77.2h0M111.4 78.6h0M114.6 77.6h0M117.8 78.3h0M121.0 77.6h0M124.2 77.4h0M127.4 78.5h0M130.6 78.8h0M133.8 78.6h0M137.0 78.9h0M140.2 76.9h0M143.4 77.2h0M146.6 77.0h0M149.8 78.2h0M49.8 89.6h0M53.0 89.8h0M56.2 91.0h0M59.4 90.3h0M62.6 90.0h0M65.8 90.0h0M69.0 91.4h0M72.2 89.6h0M75.4 89.6h0M78.6 90.5h0M81.8 91.0h0M85.0 90.9h0M88.2 90.7h0M91.4 90.0h0M94.6 91.9h0M97.8 91.8h0M101.0 91.9h0M104.2 90.6h0M107.4 90.6h0M110.6 91.2h0M113.8 90.3h0M117.0 90.5h0M120.2 90.0h0M123.4 90.7h0M126.6 90.0h0M129.8 90.0h0M133.0 90.8h0M136.2 91.8h0M139.4 91.8h0M142.6 91.2h0M145.8 89.7h0M149.0 89.5h0M152.2 91.2h0M155.4 90.1h0M158.6 89.9h0M161.8 91.9h0M165.0 89.6h0M42.8 102.6h0M46.0 103.6h0M49.2 101.9h0M52.4 102.1h0M55.6 102.8h0M58.8 103.9h0M62.0 102.8h0M65.2 102.0h0M68.4 103.1h0M71.6 102.2h0M74.8 101.8h0M78.0 103.4h0M81.2 104.1h0M84.4 103.5h0M87.6 103.6h0M90.8 102.0h0M94.0 102.2h0M97.2 102.6h0M100.4 103.7h0M103.6 102.8h0M106.8 103.8h0M110.0 101.9h0M113.2 103.2h0M116.4 102.9h0M119.6 102.2h0M122.8 103.9h0M126.0 101.9h0M129.2 102.0h0M132.4 102.8h0M135.6 103.2h0M138.8 102.8h0M142.0 103.4h0M145.2 102.8h0M148.4 103.3h0M151.6 102.3h0M154.8 103.4h0M158.0 102.0h0M37.8 116.0h0M41.0 115.2h0M44.2 115.1h0M47.4 116.5h0M50.6 116.1h0M53.8 114.7h0M57.0 116.9h0M60.2 114.7h0M63.4 115.2h0M66.6 115.1h0M69.8 116.8h0M73.0 116.8h0M76.2 115.0h0M79.4 116.4h0M82.6 116.9h0M85.8 115.0h0M89.0 115.0h0M92.2 114.9h0M95.4 116.7h0M98.6 114.6h0M101.8 115.9h0M105.0 115.8h0M108.2 116.0h0M111.4 114.8h0M114.6 115.9h0M117.8 115.6h0M121.0 116.4h0M124.2 116.6h0M127.4 115.7h0M130.6 116.2h0M133.8 115.6h0M137.0 116.9h0M140.2 115.4h0M143.4 116.4h0M146.6 116.6h0M149.8 115.5h0M49.8 129.0h0M53.0 128.7h0M56.2 129.0h0M59.4 127.4h0M62.6 128.9h0M65.8 128.4h0M69.0 128.2h0M72.2 128.8h0M75.4 129.0h0M78.6 129.4h0M81.8 128.9h0M85.0 128.8h0M88.2 128.2h0M91.4 127.6h0M94.6 128.3h0M97.8 127.8h0M101.0 128.0h0M104.2 127.4h0M107.4 129.6h0M110.6 129.4h0M113.8 129.2h0M117.0 129.0h0M120.2 127.8h0M123.4 127.3h0M126.6 129.3h0M129.8 128.0h0M133.0 129.1h0M136.2 129.1h0M139.4 127.5h0M142.6 128.0h0M145.8 128.1h0M149.0 129.5h0M152.2 128.5h0M155.4 128.5h0M158.6 128.2h0M161.8 128.9h0M165.0 127.4h0M42.8 140.7h0M46.0 140.0h0M49.2 141.7h0M52.4 140.4h0M55.6 141.6h0M58.8 141.8h0M62.0 140.6h0M65.2 140.1h0M68.4 140.5h0M71.6 142.3h0M74.8 141.4h0M78.0 141.4h0M81.2 140.7h0M84.4 140.2h0M87.6 140.9h0M90.8 140.3h0M94.0 142.3h0M97.2 140.7h0M100.4 140.4h0M103.6 140.7h0M106.8 141.7h0M110.0 141.7h0M113.2 142.2h0M116.4 142.0h0M119.6 142.0h0M122.8 142.1h0M126.0 141.6h0M129.2 140.0h0M132.4 142.2h0M135.6 141.6h0M138.8 141.6h0M142.0 140.3h0M145.2 142.4h0M148.4 141.6h0M151.6 140.5h0M154.8 140.0h0M158.0 140.3h0M37.8 153.8h0M41.0 153.2h0M44.2 153.5h0M47.4 154.2h0M50.6 153.5h0M53.8 153.6h0M57.0 154.7h0M60.2 153.4h0M63.4 153.8h0M66.6 154.4h0M69.8 155.0h0M73.0 154.5h0M76.2 153.5h0M79.4 154.0h0M82.6 154.0h0M85.8 153.1h0M89.0 154.1h0M92.2 153.5h0M95.4 153.2h0M98.6 153.8h0M101.8 155.1h0M105.0 153.1h0M108.2 154.7h0M111.4 155.0h0M114.6 155.0h0M117.8 155.2h0M121.0 153.5h0M124.2 155.0h0M127.4 153.1h0M130.6 155.1h0M133.8 154.7h0M137.0 154.0h0M140.2 153.4h0M143.4 153.8h0M146.6 155.3h0M149.8 153.3h0M49.8 167.1h0M53.0 165.6h0M56.2 167.3h0M59.4 166.1h0M62.6 167.0h0M65.8 165.8h0M69.0 167.8h0M72.2 167.6h0M75.4 167.7h0M78.6 166.0h0M81.8 167.7h0M85.0 166.0h0M88.2 166.6h0M91.4 166.0h0M94.6 166.9h0M97.8 166.5h0M101.0 165.5h0M104.2 166.1h0M107.4 166.7h0M110.6 166.7h0M113.8 167.0h0M117.0 167.5h0M120.2 167.9h0M123.4 166.0h0M126.6 166.3h0M129.8 166.3h0M133.0 165.6h0M136.2 165.9h0M139.4 165.5h0M142.6 166.1h0M145.8 166.8h0M149.0 165.8h0M152.2 165.8h0M155.4 165.9h0M158.6 166.8h0M161.8 167.6h0M165.0 166.1h0M42.8 179.5h0M46.0 179.1h0M49.2 179.7h0M52.4 180.4h0M55.6 180.4h0M58.8 178.2h0M62.0 178.3h0M65.2 178.8h0M68.4 180.4h0M71.6 179.1h0M74.8 180.1h0M78.0 179.7h0M81.2 178.4h0M84.4 179.7h0M87.6 180.0h0M90.8 180.4h0M94.0 178.3h0M97.2 179.5h0M100.4 179.8h0M103.6 178.7h0M106.8 179.4h0M110.0 178.3h0M113.2 179.6h0M116.4 179.7h0M119.6 178.1h0M122.8 179.7h0M126.0 179.7h0M129.2 180.4h0M132.4 178.7h0M135.6 180.4h0M138.8 179.1h0M142.0 180.3h0M145.2 179.9h0M148.4 179.7h0M151.6 178.4h0M154.8 178.6h0M158.0 178.2h0M37.8 192.0h0M41.0 191.2h0M44.2 193.3h0M47.4 191.9h0M50.6 192.0h0M53.8 192.2h0M57.0 192.6h0M60.2 191.9h0M63.4 192.8h0M66.6 192.5h0M69.8 192.7h0M73.0 191.5h0M76.2 191.7h0M79.4 193.0h0M82.6 193.0h0M85.8 192.4h0M89.0 191.0h0M92.2 192.7h0M95.4 191.2h0M98.6 191.4h0M101.8 191.0h0M105.0 191.6h0M108.2 193.4h0M111.4 191.3h0M114.6 193.3h0M117.8 191.8h0M121.0 191.8h0M124.2 192.1h0M127.4 191.1h0M130.6 191.4h0M133.8 192.5h0M137.0 191.6h0M140.2 192.7h0M143.4 192.2h0M146.6 193.2h0M149.8 191.1h0M49.8 205.3h0M53.0 205.3h0M56.2 205.5h0M59.4 203.8h0M62.6 204.1h0M65.8 205.5h0M69.0 204.2h0M72.2 205.2h0M75.4 203.9h0M78.6 205.0h0M81.8 205.1h0M85.0 204.2h0M88.2 204.9h0M91.4 203.7h0M94.6 204.1h0M97.8 205.1h0M101.0 205.1h0M104.2 204.1h0M107.4 205.2h0M110.6 204.0h0M113.8 205.5h0M117.0 205.3h0M120.2 205.5h0M123.4 204.4h0M126.6 203.7h0M129.8 203.8h0M133.0 204.8h0M136.2 205.8h0M139.4 204.7h0M142.6 203.9h0M145.8 204.9h0M149.0 205.3h0M152.2 205.5h0M155.4 203.8h0M158.6 204.8h0M161.8 205.2h0M165.0 204.4h0M42.8 218.5h0M46.0 217.7h0M49.2 219.0h0M52.4 218.3h0M55.6 217.9h0M58.8 217.5h0M62.0 219.2h0M65.2 217.1h0M68.4 218.3h0M71.6 217.0h0M74.8 218.6h0M78.0 217.0h0M81.2 217.0h0M84.4 216.9h0M87.6 218.6h0M90.8 217.1h0M94.0 217.2h0M97.2 218.8h0M100.4 217.2h0M103.6 217.8h0M106.8 217.1h0M110.0 219.1h0M113.2 217.4h0M116.4 218.9h0M119.6 217.9h0M122.8 218.2h0M126.0 217.9h0M129.2 218.6h0M132.4 217.3h0M135.6 217.1h0M138.8 217.6h0M142.0 217.4h0M145.2 219.2h0M148.4 218.9h0M151.6 217.2h0M154.8 217.6h0M158.0 217.8h0M37.8 231.8h0M41.0 229.7h0M44.2 231.2h0M47.4 232.0h0M50.6 231.7h0M53.8 230.3h0M57.0 230.6h0M60.2 230.6h0M63.4 230.2h0M66.6 230.7h0M69.8 231.8h0M73.0 230.3h0M76.2 231.6h0M79.4 231.4h0M82.6 231.7h0M85.8 231.3h0M89.0 231.7h0M92.2 231.0h0M95.4 231.7h0M98.6 231.7h0M101.8 231.8h0M105.0 232.0h0M108.2 231.3h0M111.4 229.8h0M114.6 231.0h0M117.8 230.5h0M121.0 231.6h0M124.2 230.2h0M127.4 230.3h0M130.6 230.5h0M133.8 231.6h0M137.0 229.9h0M140.2 231.5h0M143.4 230.8h0M146.6 231.6h0M149.8 230.4h0M49.8 244.4h0M53.0 244.5h0M56.2 243.0h0M59.4 243.7h0M62.6 243.7h0M65.8 243.5h0M69.0 243.3h0M72.2 243.9h0M75.4 243.2h0M78.6 244.6h0M81.8 242.6h0M85.0 242.4h0M88.2 243.3h0M91.4 243.3h0M94.6 243.6h0M97.8 244.2h0M101.0 242.8h0M104.2 244.2h0M107.4 244.4h0M110.6 243.3h0M113.8 244.0h0M117.0 242.8h0M120.2 243.1h0M123.4 242.7h0M126.6 243.5h0M129.8 242.6h0M133.0 244.7h0M136.2 244.2h0M139.4 244.5h0M142.6 244.1h0M145.8 243.2h0M149.0 242.8h0M152.2 243.5h0M155.4 244.5h0M158.6 243.5h0M161.8 243.6h0M165.0 243.8h0" stroke="#e8881c" stroke-width="2.2" stroke-linecap="round" fill="none"/>
<path d="M37.5 26.1l16.8 0.4M55.2 26.1l17.0 0.4M73.2 26.1l17.0 0.4M91.1 26.1l17.0 0.4M109.1 26.1l17.0 0.4M127.1 26.1l17.0 0.4M145.0 26.1l17.0 0.4" stroke="#66c520" stroke-width="2.0" fill="none" opacity="0.9" stroke-linecap="round"/>
<path d="M45.8 26.3l4.2 -2.9M45.8 26.3l-4.4 -3.1M45.8 26.3l4.0 2.8M45.8 26.3l-4.0 2.8M45.2 26.3l3.6 -6.6M45.8 26.3l4.5 -6.6M46.4 26.3l5.4 -6.6M63.8 26.3l4.2 -2.9M63.8 26.3l-4.3 -3.0M63.8 26.3l4.3 3.0M63.8 26.3l-3.8 2.7M63.1 26.3l2.2 -7.4M63.8 26.3l3.1 -7.4M64.3 26.3l4.0 -7.4M81.7 26.3l3.7 -2.6M81.7 26.3l-4.1 -2.9M81.7 26.3l4.6 3.2M81.7 26.3l-4.6 3.2M81.1 26.3l0.7 -7.8M81.7 26.3l1.6 -7.8M82.3 26.3l2.5 -7.8M99.6 26.3l4.0 -2.8M99.6 26.3l-4.0 -2.8M99.6 26.3l4.3 3.0M99.6 26.3l-3.9 2.7M99.0 26.3l-0.9 -8.0M99.6 26.3l0.0 -8.0M100.2 26.3l0.9 -8.0M117.6 26.3l4.4 -3.1M117.6 26.3l-4.8 -3.4M117.6 26.3l3.9 2.8M117.6 26.3l-4.4 3.1M117.0 26.3l-2.4 -7.8M117.6 26.3l-1.5 -7.8M118.2 26.3l-0.6 -7.8M135.6 26.3l4.6 -3.2M135.6 26.3l-4.6 -3.2M135.6 26.3l4.6 3.2M135.6 26.3l-4.6 3.2M135.0 26.3l-4.0 -7.4M135.6 26.3l-3.1 -7.4M136.2 26.3l-2.2 -7.4M153.5 26.3l4.0 -2.8M153.5 26.3l-4.7 -3.3M153.5 26.3l4.8 3.4M153.5 26.3l-3.8 2.6M152.9 26.3l-5.4 -6.6M153.5 26.3l-4.5 -6.6M154.1 26.3l-3.6 -6.6" stroke="#66c520" stroke-width="1.5" fill="none" opacity="0.85" stroke-linecap="round"/>
<g fill="#70c830" opacity="0.22"><ellipse cx="45.8" cy="26.3" rx="7" ry="4.5"/><ellipse cx="63.8" cy="26.3" rx="7" ry="4.5"/><ellipse cx="81.7" cy="26.3" rx="7" ry="4.5"/><ellipse cx="99.6" cy="26.3" rx="7" ry="4.5"/><ellipse cx="117.6" cy="26.3" rx="7" ry="4.5"/><ellipse cx="135.6" cy="26.3" rx="7" ry="4.5"/><ellipse cx="153.5" cy="26.3" rx="7" ry="4.5"/></g>
<g fill="url(#gG)"><circle cx="45.8" cy="26.3" r="3.4"/><circle cx="63.8" cy="26.3" r="3.4"/><circle cx="81.7" cy="26.3" r="3.4"/><circle cx="99.6" cy="26.3" r="3.4"/><circle cx="117.6" cy="26.3" r="3.4"/><circle cx="135.6" cy="26.3" r="3.4"/><circle cx="153.5" cy="26.3" r="3.4"/></g>
<path d="M37.5 39.0l11.8 0.4M50.2 39.0l17.0 0.4M68.2 39.0l17.0 0.4M86.1 39.0l17.0 0.4M104.1 39.0l17.0 0.4M122.1 39.0l17.0 0.4M140.0 39.0l17.0 0.4" stroke="#66c520" stroke-width="2.0" fill="none" opacity="0.9" stroke-linecap="round"/>
<path d="M40.8 39.2l4.8 -3.4M40.8 39.2l-4.2 -3.0M40.8 39.2l3.8 2.7M40.8 39.2l-3.8 2.6M40.2 39.2l4.0 -6.3M40.8 39.2l4.9 -6.3M41.4 39.2l5.8 -6.3M58.8 39.2l4.7 -3.3M58.8 39.2l-4.5 -3.2M58.8 39.2l3.9 2.7M58.8 39.2l-4.3 3.0M58.1 39.2l2.6 -7.2M58.8 39.2l3.5 -7.2M59.4 39.2l4.4 -7.2M76.7 39.2l4.5 -3.1M76.7 39.2l-4.9 -3.4M76.7 39.2l4.1 2.9M76.7 39.2l-4.6 3.2M76.1 39.2l1.1 -7.7M76.7 39.2l2.0 -7.7M77.3 39.2l2.9 -7.7M94.6 39.2l4.0 -2.8M94.6 39.2l-3.9 -2.8M94.6 39.2l3.9 2.7M94.6 39.2l-4.2 2.9M94.0 39.2l-0.4 -8.0M94.6 39.2l0.5 -8.0M95.2 39.2l1.4 -8.0M112.6 39.2l4.4 -3.1M112.6 39.2l-4.1 -2.8M112.6 39.2l3.9 2.7M112.6 39.2l-4.0 2.8M112.0 39.2l-2.0 -7.9M112.6 39.2l-1.1 -7.9M113.2 39.2l-0.2 -7.9M130.6 39.2l3.8 -2.7M130.6 39.2l-3.9 -2.7M130.6 39.2l4.1 2.9M130.6 39.2l-4.3 3.0M130.0 39.2l-3.6 -7.5M130.6 39.2l-2.7 -7.5M131.2 39.2l-1.8 -7.5M148.5 39.2l3.9 -2.7M148.5 39.2l-4.3 -3.0M148.5 39.2l4.2 3.0M148.5 39.2l-4.9 3.4M147.9 39.2l-5.0 -6.9M148.5 39.2l-4.1 -6.9M149.1 39.2l-3.2 -6.9" stroke="#66c520" stroke-width="1.5" fill="none" opacity="0.85" stroke-linecap="round"/>
<g fill="#70c830" opacity="0.22"><ellipse cx="40.8" cy="39.2" rx="7" ry="4.5"/><ellipse cx="58.8" cy="39.2" rx="7" ry="4.5"/><ellipse cx="76.7" cy="39.2" rx="7" ry="4.5"/><ellipse cx="94.6" cy="39.2" rx="7" ry="4.5"/><ellipse cx="112.6" cy="39.2" rx="7" ry="4.5"/><ellipse cx="130.6" cy="39.2" rx="7" ry="4.5"/><ellipse cx="148.5" cy="39.2" rx="7" ry="4.5"/></g>
<g fill="url(#gG)"><circle cx="40.8" cy="39.2" r="3.4"/><circle cx="58.8" cy="39.2" r="3.4"/><circle cx="76.7" cy="39.2" r="3.4"/><circle cx="94.6" cy="39.2" r="3.4"/><circle cx="112.6" cy="39.2" r="3.4"/><circle cx="130.6" cy="39.2" r="3.4"/><circle cx="148.5" cy="39.2" r="3.4"/></g>
<path d="M44.3 51.6l17.0 0.4M62.2 51.6l17.0 0.4M80.2 51.6l17.0 0.4M98.1 51.6l17.0 0.4M116.1 51.6l17.0 0.4M134.1 51.6l17.0 0.4M152.0 51.6l13.5 0.4" stroke="#66c520" stroke-width="2.0" fill="none" opacity="0.9" stroke-linecap="round"/>
<path d="M52.8 51.8l4.3 -3.0M52.8 51.8l-4.8 -3.4M52.8 51.8l4.3 3.0M52.8 51.8l-3.9 2.8M52.2 51.8l3.1 -6.9M52.8 51.8l4.0 -6.9M53.4 51.8l4.9 -6.9M70.8 51.8l4.4 -3.1M70.8 51.8l-3.9 -2.7M70.8 51.8l3.9 2.7M70.8 51.8l-3.8 2.6M70.2 51.8l1.6 -7.6M70.8 51.8l2.5 -7.6M71.3 51.8l3.4 -7.6M88.7 51.8l4.5 -3.2M88.7 51.8l-4.9 -3.4M88.7 51.8l4.2 2.9M88.7 51.8l-4.1 2.9M88.1 51.8l0.1 -7.9M88.7 51.8l1.0 -7.9M89.3 51.8l1.9 -7.9M106.6 51.8l4.2 -2.9M106.6 51.8l-4.1 -2.9M106.6 51.8l4.5 3.2M106.6 51.8l-4.2 2.9M106.0 51.8l-1.5 -8.0M106.6 51.8l-0.6 -8.0M107.2 51.8l0.3 -8.0M124.6 51.8l3.9 -2.7M124.6 51.8l-4.7 -3.3M124.6 51.8l4.4 3.1M124.6 51.8l-3.7 2.6M124.0 51.8l-3.0 -7.7M124.6 51.8l-2.1 -7.7M125.2 51.8l-1.2 -7.7M142.6 51.8l4.7 -3.3M142.6 51.8l-4.6 -3.2M142.6 51.8l4.1 2.9M142.6 51.8l-4.5 3.1M142.0 51.8l-4.5 -7.1M142.6 51.8l-3.6 -7.1M143.2 51.8l-2.7 -7.1M160.5 51.8l4.8 -3.4M160.5 51.8l-4.2 -2.9M160.5 51.8l4.2 3.0M160.5 51.8l-4.1 2.8M159.9 51.8l-5.9 -6.3M160.5 51.8l-5.0 -6.3M161.1 51.8l-4.1 -6.3" stroke="#66c520" stroke-width="1.5" fill="none" opacity="0.85" stroke-linecap="round"/>
<g fill="#70c830" opacity="0.22"><ellipse cx="52.8" cy="51.8" rx="7" ry="4.5"/><ellipse cx="70.8" cy="51.8" rx="7" ry="4.5"/><ellipse cx="88.7" cy="51.8" rx="7" ry="4.5"/><ellipse cx="106.6" cy="51.8" rx="7" ry="4.5"/><ellipse cx="124.6" cy="51.8" rx="7" ry="4.5"/><ellipse cx="142.6" cy="51.8" rx="7" ry="4.5"/><ellipse cx="160.5" cy="51.8" rx="7" ry="4.5"/></g>
<g fill="url(#gG)"><circle cx="52.8" cy="51.8" r="3.4"/><circle cx="70.8" cy="51.8" r="3.4"/><circle cx="88.7" cy="51.8" r="3.4"/><circle cx="106.6" cy="51.8" r="3.4"/><circle cx="124.6" cy="51.8" r="3.4"/><circle cx="142.6" cy="51.8" r="3.4"/><circle cx="160.5" cy="51.8" r="3.4"/></g>
<path d="M47.9 66.7L54.3 55.9L51.4 53.9L43.7 63.7zM55.8 63.3L60.2 55.4L57.9 54.2L53.6 62.1zM66.1 66.2L70.3 54.4L67.0 53.0L61.4 64.2zM73.9 63.1L76.6 54.5L74.1 53.7L71.4 62.3zM84.2 65.7L86.0 53.3L82.4 52.6L79.2 64.7zM91.9 62.8L92.8 53.9L90.2 53.6L89.3 62.6zM102.2 65.2L101.5 52.7L97.9 52.7L97.1 65.2zM109.8 62.6L109.0 53.6L106.4 53.9L107.3 62.8zM120.2 64.7L116.9 52.6L113.4 53.3L115.0 65.7zM127.7 62.3L125.1 53.7L122.7 54.5L125.3 63.1zM138.0 64.2L132.4 53.0L129.1 54.3L133.1 66.2zM145.6 62.1L141.3 54.2L139.1 55.4L143.3 63.3zM155.7 63.8L148.0 53.8L145.0 55.8L151.3 66.6z" fill="#4a98e4" opacity="0.85"/>
<path d="M45.8 65.2l5.3 -1.9M45.8 65.2l-5.5 -2.0M45.8 65.2l3.0 5.2M45.8 65.2l-3.2 5.5M45.8 65.2l4.5 1.6M45.8 65.2l-4.9 1.8M45.8 65.2l0.0 6.2M45.8 65.2l-5.7 -2.1M63.8 65.2l5.3 -1.9M63.8 65.2l-5.5 -2.0M63.8 65.2l2.6 4.5M63.8 65.2l-3.2 5.5M63.8 65.2l5.3 1.9M63.8 65.2l-5.0 1.8M63.8 65.2l0.0 4.9M63.8 65.2l-4.4 -1.6M81.7 65.2l5.9 -2.2M81.7 65.2l-5.7 -2.1M81.7 65.2l2.3 3.9M81.7 65.2l-2.6 4.5M81.7 65.2l5.1 1.9M81.7 65.2l-5.2 1.9M81.7 65.2l0.0 5.2M81.7 65.2l-5.9 -2.2M99.6 65.2l4.9 -1.8M99.6 65.2l-5.2 -1.9M99.6 65.2l3.2 5.5M99.6 65.2l-2.9 5.0M99.6 65.2l5.1 1.9M99.6 65.2l-4.9 1.8M99.6 65.2l0.0 5.3M99.6 65.2l-5.4 -2.0M117.6 65.2l5.7 -2.1M117.6 65.2l-4.7 -1.7M117.6 65.2l2.6 4.5M117.6 65.2l-2.6 4.6M117.6 65.2l4.9 1.8M117.6 65.2l-5.9 2.2M117.6 65.2l0.0 5.6M117.6 65.2l-4.7 -1.7M135.6 65.2l4.9 -1.8M135.6 65.2l-5.8 -2.1M135.6 65.2l2.4 4.2M135.6 65.2l-2.9 5.1M135.6 65.2l4.3 1.6M135.6 65.2l-4.6 1.7M135.6 65.2l0.0 4.6M135.6 65.2l-5.7 -2.1M153.5 65.2l4.5 -1.6M153.5 65.2l-4.7 -1.7M153.5 65.2l2.3 4.0M153.5 65.2l-2.5 4.4M153.5 65.2l5.6 2.0M153.5 65.2l-5.6 2.0M153.5 65.2l0.0 6.3M153.5 65.2l-6.0 -2.2" stroke="#3d8fe2" stroke-width="1.5" fill="none" opacity="0.85" stroke-linecap="round"/>
<g fill="#4a9ae8" opacity="0.45"><circle cx="45.8" cy="65.2" r="5.6"/><circle cx="63.8" cy="65.2" r="5.6"/><circle cx="81.7" cy="65.2" r="5.6"/><circle cx="99.6" cy="65.2" r="5.6"/><circle cx="117.6" cy="65.2" r="5.6"/><circle cx="135.6" cy="65.2" r="5.6"/><circle cx="153.5" cy="65.2" r="5.6"/></g>
<g fill="url(#gB)"><circle cx="45.8" cy="65.2" r="3.4"/><circle cx="63.8" cy="65.2" r="3.4"/><circle cx="81.7" cy="65.2" r="3.4"/><circle cx="99.6" cy="65.2" r="3.4"/><circle cx="117.6" cy="65.2" r="3.4"/><circle cx="135.6" cy="65.2" r="3.4"/><circle cx="153.5" cy="65.2" r="3.4"/></g>
<path d="M42.9 79.7L49.8 69.3L47.0 67.1L38.7 76.5zM50.8 76.3L55.6 68.6L53.3 67.3L48.6 74.9zM61.1 79.2L65.9 67.7L62.6 66.1L56.4 77.0zM68.9 76.1L72.0 67.6L69.6 66.7L66.4 75.1zM79.2 78.8L81.6 66.5L78.1 65.6L74.2 77.4zM86.9 75.8L88.3 66.9L85.7 66.5L84.3 75.4zM97.2 78.3L97.2 65.7L93.6 65.5L92.1 77.9zM104.8 75.5L104.5 66.6L101.9 66.7L102.3 75.7zM115.2 77.7L112.6 65.5L109.1 66.0L110.0 78.5zM122.8 75.3L120.6 66.5L118.1 67.2L120.2 75.9zM133.0 77.2L128.1 65.7L124.7 66.9L128.1 79.0zM140.6 75.1L136.8 66.9L134.5 68.0L138.3 76.1zM150.7 76.8L143.7 66.4L140.6 68.3L146.3 79.4z" fill="#4a98e4" opacity="0.85"/>
<path d="M40.8 78.1l5.3 -1.9M40.8 78.1l-6.0 -2.2M40.8 78.1l2.3 4.1M40.8 78.1l-3.2 5.5M40.8 78.1l5.0 1.8M40.8 78.1l-4.6 1.7M40.8 78.1l0.0 6.0M40.8 78.1l-5.8 -2.1M58.8 78.1l5.0 -1.8M58.8 78.1l-4.4 -1.6M58.8 78.1l3.1 5.4M58.8 78.1l-3.0 5.2M58.8 78.1l5.4 1.9M58.8 78.1l-6.1 2.2M58.8 78.1l0.0 4.6M58.8 78.1l-4.3 -1.6M76.7 78.1l4.5 -1.6M76.7 78.1l-4.3 -1.6M76.7 78.1l3.0 5.1M76.7 78.1l-2.9 5.0M76.7 78.1l4.4 1.6M76.7 78.1l-4.5 1.6M76.7 78.1l0.0 4.9M76.7 78.1l-5.4 -2.0M94.6 78.1l5.5 -2.0M94.6 78.1l-6.1 -2.2M94.6 78.1l2.6 4.5M94.6 78.1l-3.2 5.6M94.6 78.1l5.0 1.8M94.6 78.1l-5.0 1.8M94.6 78.1l0.0 5.0M94.6 78.1l-4.7 -1.7M112.6 78.1l6.1 -2.2M112.6 78.1l-6.1 -2.2M112.6 78.1l3.0 5.1M112.6 78.1l-2.4 4.2M112.6 78.1l4.6 1.7M112.6 78.1l-4.5 1.6M112.6 78.1l0.0 5.2M112.6 78.1l-5.6 -2.0M130.6 78.1l4.3 -1.6M130.6 78.1l-5.2 -1.9M130.6 78.1l2.9 5.1M130.6 78.1l-2.3 4.0M130.6 78.1l5.1 1.8M130.6 78.1l-5.7 2.1M130.6 78.1l0.0 5.7M130.6 78.1l-5.1 -1.8M148.5 78.1l5.9 -2.1M148.5 78.1l-5.4 -2.0M148.5 78.1l2.6 4.5M148.5 78.1l-2.6 4.6M148.5 78.1l6.0 2.2M148.5 78.1l-5.8 2.1M148.5 78.1l0.0 6.3M148.5 78.1l-5.3 -1.9" stroke="#3d8fe2" stroke-width="1.5" fill="none" opacity="0.85" stroke-linecap="round"/>
<g fill="#4a9ae8" opacity="0.45"><circle cx="40.8" cy="78.1" r="5.6"/><circle cx="58.8" cy="78.1" r="5.6"/><circle cx="76.7" cy="78.1" r="5.6"/><circle cx="94.6" cy="78.1" r="5.6"/><circle cx="112.6" cy="78.1" r="5.6"/><circle cx="130.6" cy="78.1" r="5.6"/><circle cx="148.5" cy="78.1" r="5.6"/></g>
<g fill="url(#gB)"><circle cx="40.8" cy="78.1" r="3.4"/><circle cx="58.8" cy="78.1" r="3.4"/><circle cx="76.7" cy="78.1" r="3.4"/><circle cx="94.6" cy="78.1" r="3.4"/><circle cx="112.6" cy="78.1" r="3.4"/><circle cx="130.6" cy="78.1" r="3.4"/><circle cx="148.5" cy="78.1" r="3.4"/></g>
<path d="M55.1 92.0L60.6 80.8L57.5 79.0L50.5 89.4zM62.9 88.7L66.6 80.5L64.2 79.5L60.5 87.7zM73.2 91.5L76.4 79.4L73.0 78.3L68.3 89.9zM80.9 88.5L82.9 79.7L80.4 79.1L78.4 87.9zM91.3 91.0L92.0 78.5L88.5 78.1L86.1 90.4zM98.9 88.2L99.1 79.2L96.5 79.2L96.3 88.2zM109.2 90.5L107.5 78.1L103.9 78.4L104.1 90.9zM116.8 88.0L115.3 79.1L112.7 79.6L114.3 88.4zM127.1 90.0L123.0 78.2L119.5 79.1L122.1 91.4zM134.7 87.7L131.5 79.3L129.0 80.3L132.3 88.7zM144.9 89.5L138.5 78.7L135.3 80.4L140.2 91.9zM152.5 87.5L147.7 79.9L145.5 81.3L150.4 88.9zM162.5 89.1L154.2 79.8L151.3 82.0L158.5 92.3z" fill="#4a98e4" opacity="0.85"/>
<path d="M52.8 90.7l4.5 -1.6M52.8 90.7l-4.6 -1.7M52.8 90.7l2.6 4.6M52.8 90.7l-2.9 5.1M52.8 90.7l4.2 1.5M52.8 90.7l-5.7 2.1M52.8 90.7l0.0 6.1M52.8 90.7l-5.2 -1.9M70.8 90.7l4.2 -1.5M70.8 90.7l-5.7 -2.1M70.8 90.7l2.7 4.6M70.8 90.7l-2.9 5.1M70.8 90.7l5.3 1.9M70.8 90.7l-5.6 2.0M70.8 90.7l0.0 5.3M70.8 90.7l-6.0 -2.2M88.7 90.7l6.0 -2.2M88.7 90.7l-6.0 -2.2M88.7 90.7l2.9 5.0M88.7 90.7l-2.6 4.4M88.7 90.7l4.9 1.8M88.7 90.7l-4.7 1.7M88.7 90.7l0.0 6.3M88.7 90.7l-5.7 -2.1M106.6 90.7l5.7 -2.1M106.6 90.7l-5.8 -2.1M106.6 90.7l3.2 5.6M106.6 90.7l-2.9 5.1M106.6 90.7l4.8 1.8M106.6 90.7l-5.7 2.1M106.6 90.7l0.0 5.0M106.6 90.7l-5.4 -2.0M124.6 90.7l4.5 -1.6M124.6 90.7l-5.8 -2.1M124.6 90.7l2.7 4.7M124.6 90.7l-2.5 4.4M124.6 90.7l6.0 2.2M124.6 90.7l-4.4 1.6M124.6 90.7l0.0 6.4M124.6 90.7l-5.7 -2.1M142.6 90.7l4.5 -1.6M142.6 90.7l-5.7 -2.1M142.6 90.7l2.8 4.9M142.6 90.7l-3.2 5.5M142.6 90.7l5.3 1.9M142.6 90.7l-5.0 1.8M142.6 90.7l0.0 6.4M142.6 90.7l-4.4 -1.6M160.5 90.7l5.7 -2.1M160.5 90.7l-4.4 -1.6M160.5 90.7l2.5 4.4M160.5 90.7l-2.4 4.1M160.5 90.7l5.9 2.1M160.5 90.7l-5.1 1.8M160.5 90.7l0.0 6.0M160.5 90.7l-4.7 -1.7" stroke="#3d8fe2" stroke-width="1.5" fill="none" opacity="0.85" stroke-linecap="round"/>
<g fill="#4a9ae8" opacity="0.45"><circle cx="52.8" cy="90.7" r="5.6"/><circle cx="70.8" cy="90.7" r="5.6"/><circle cx="88.7" cy="90.7" r="5.6"/><circle cx="106.6" cy="90.7" r="5.6"/><circle cx="124.6" cy="90.7" r="5.6"/><circle cx="142.6" cy="90.7" r="5.6"/><circle cx="160.5" cy="90.7" r="5.6"/></g>
<g fill="url(#gB)"><circle cx="52.8" cy="90.7" r="3.4"/><circle cx="70.8" cy="90.7" r="3.4"/><circle cx="88.7" cy="90.7" r="3.4"/><circle cx="106.6" cy="90.7" r="3.4"/><circle cx="124.6" cy="90.7" r="3.4"/><circle cx="142.6" cy="90.7" r="3.4"/><circle cx="160.5" cy="90.7" r="3.4"/></g>
<path d="M37.5 102.7l16.8 0.4M55.2 102.7l17.0 0.4M73.2 102.7l17.0 0.4M91.1 102.7l17.0 0.4M109.1 102.7l17.0 0.4M127.1 102.7l17.0 0.4M145.0 102.7l17.0 0.4" stroke="#66c520" stroke-width="2.0" fill="none" opacity="0.9" stroke-linecap="round"/>
<path d="M45.8 102.9l4.6 -3.2M45.8 102.9l-4.5 -3.1M45.8 102.9l3.8 2.7M45.8 102.9l-4.3 3.0M45.2 102.9l3.6 -6.6M45.8 102.9l4.5 -6.6M46.4 102.9l5.4 -6.6M63.8 102.9l4.6 -3.2M63.8 102.9l-3.9 -2.8M63.8 102.9l4.5 3.1M63.8 102.9l-4.0 2.8M63.1 102.9l2.2 -7.4M63.8 102.9l3.1 -7.4M64.3 102.9l4.0 -7.4M81.7 102.9l4.1 -2.9M81.7 102.9l-4.8 -3.4M81.7 102.9l4.8 3.4M81.7 102.9l-4.9 3.4M81.1 102.9l0.7 -7.8M81.7 102.9l1.6 -7.8M82.3 102.9l2.5 -7.8M99.6 102.9l4.2 -2.9M99.6 102.9l-4.4 -3.1M99.6 102.9l4.7 3.3M99.6 102.9l-4.6 3.2M99.0 102.9l-0.9 -8.0M99.6 102.9l0.0 -8.0M100.2 102.9l0.9 -8.0M117.6 102.9l4.2 -3.0M117.6 102.9l-4.7 -3.3M117.6 102.9l4.2 2.9M117.6 102.9l-4.9 3.4M117.0 102.9l-2.4 -7.8M117.6 102.9l-1.5 -7.8M118.2 102.9l-0.6 -7.8M135.6 102.9l4.3 -3.0M135.6 102.9l-3.8 -2.7M135.6 102.9l4.6 3.2M135.6 102.9l-3.9 2.7M135.0 102.9l-4.0 -7.4M135.6 102.9l-3.1 -7.4M136.2 102.9l-2.2 -7.4M153.5 102.9l4.5 -3.2M153.5 102.9l-3.8 -2.6M153.5 102.9l4.9 3.4M153.5 102.9l-4.4 3.0M152.9 102.9l-5.4 -6.6M153.5 102.9l-4.5 -6.6M154.1 102.9l-3.6 -6.6" stroke="#66c520" stroke-width="1.5" fill="none" opacity="0.85" stroke-linecap="round"/>
<g fill="#70c830" opacity="0.22"><ellipse cx="45.8" cy="102.9" rx="7" ry="4.5"/><ellipse cx="63.8" cy="102.9" rx="7" ry="4.5"/><ellipse cx="81.7" cy="102.9" rx="7" ry="4.5"/><ellipse cx="99.6" cy="102.9" rx="7" ry="4.5"/><ellipse cx="117.6" cy="102.9" rx="7" ry="4.5"/><ellipse cx="135.6" cy="102.9" rx="7" ry="4.5"/><ellipse cx="153.5" cy="102.9" rx="7" ry="4.5"/></g>
<g fill="url(#gG)"><circle cx="45.8" cy="102.9" r="3.4"/><circle cx="63.8" cy="102.9" r="3.4"/><circle cx="81.7" cy="102.9" r="3.4"/><circle cx="99.6" cy="102.9" r="3.4"/><circle cx="117.6" cy="102.9" r="3.4"/><circle cx="135.6" cy="102.9" r="3.4"/><circle cx="153.5" cy="102.9" r="3.4"/></g>
<path d="M37.5 115.6l11.8 0.4M50.2 115.6l17.0 0.4M68.2 115.6l17.0 0.4M86.1 115.6l17.0 0.4M104.1 115.6l17.0 0.4M122.1 115.6l17.0 0.4M140.0 115.6l17.0 0.4" stroke="#66c520" stroke-width="2.0" fill="none" opacity="0.9" stroke-linecap="round"/>
<path d="M40.8 115.8l4.6 -3.2M40.8 115.8l-3.8 -2.7M40.8 115.8l4.5 3.1M40.8 115.8l-4.1 2.9M40.2 115.8l4.0 -6.3M40.8 115.8l4.9 -6.3M41.4 115.8l5.8 -6.3M58.8 115.8l4.0 -2.8M58.8 115.8l-4.7 -3.3M58.8 115.8l3.7 2.6M58.8 115.8l-4.3 3.0M58.1 115.8l2.6 -7.2M58.8 115.8l3.5 -7.2M59.4 115.8l4.4 -7.2M76.7 115.8l3.8 -2.7M76.7 115.8l-4.7 -3.3M76.7 115.8l4.8 3.3M76.7 115.8l-3.7 2.6M76.1 115.8l1.1 -7.7M76.7 115.8l2.0 -7.7M77.3 115.8l2.9 -7.7M94.6 115.8l4.3 -3.0M94.6 115.8l-4.3 -3.0M94.6 115.8l4.6 3.2M94.6 115.8l-4.6 3.2M94.0 115.8l-0.4 -8.0M94.6 115.8l0.5 -8.0M95.2 115.8l1.4 -8.0M112.6 115.8l4.1 -2.9M112.6 115.8l-4.8 -3.4M112.6 115.8l3.9 2.7M112.6 115.8l-3.9 2.7M112.0 115.8l-2.0 -7.9M112.6 115.8l-1.1 -7.9M113.2 115.8l-0.2 -7.9M130.6 115.8l4.7 -3.3M130.6 115.8l-3.8 -2.7M130.6 115.8l3.9 2.7M130.6 115.8l-4.3 3.0M130.0 115.8l-3.6 -7.5M130.6 115.8l-2.7 -7.5M131.2 115.8l-1.8 -7.5M148.5 115.8l4.1 -2.9M148.5 115.8l-3.9 -2.7M148.5 115.8l4.8 3.4M148.5 115.8l-4.3 3.0M147.9 115.8l-5.0 -6.9M148.5 115.8l-4.1 -6.9M149.1 115.8l-3.2 -6.9" stroke="#66c520" stroke-width="1.5" fill="none" opacity="0.85" stroke-linecap="round"/>
<g fill="#70c830" opacity="0.22"><ellipse cx="40.8" cy="115.8" rx="7" ry="4.5"/><ellipse cx="58.8" cy="115.8" rx="7" ry="4.5"/><ellipse cx="76.7" cy="115.8" rx="7" ry="4.5"/><ellipse cx="94.6" cy="115.8" rx="7" ry="4.5"/><ellipse cx="112.6" cy="115.8" rx="7" ry="4.5"/><ellipse cx="130.6" cy="115.8" rx="7" ry="4.5"/><ellipse cx="148.5" cy="115.8" rx="7" ry="4.5"/></g>
<g fill="url(#gG)"><circle cx="40.8" cy="115.8" r="3.4"/><circle cx="58.8" cy="115.8" r="3.4"/><circle cx="76.7" cy="115.8" r="3.4"/><circle cx="94.6" cy="115.8" r="3.4"/><circle cx="112.6" cy="115.8" r="3.4"/><circle cx="130.6" cy="115.8" r="3.4"/><circle cx="148.5" cy="115.8" r="3.4"/></g>
<path d="M44.3 128.2l17.0 0.4M62.2 128.2l17.0 0.4M80.2 128.2l17.0 0.4M98.1 128.2l17.0 0.4M116.1 128.2l17.0 0.4M134.1 128.2l17.0 0.4M152.0 128.2l13.5 0.4" stroke="#66c520" stroke-width="2.0" fill="none" opacity="0.9" stroke-linecap="round"/>
<path d="M52.8 128.4l4.7 -3.3M52.8 128.4l-4.0 -2.8M52.8 128.4l4.8 3.4M52.8 128.4l-4.0 2.8M52.2 128.4l3.1 -6.9M52.8 128.4l4.0 -6.9M53.4 128.4l4.9 -6.9M70.8 128.4l4.8 -3.4M70.8 128.4l-4.4 -3.1M70.8 128.4l4.9 3.4M70.8 128.4l-4.6 3.2M70.2 128.4l1.6 -7.6M70.8 128.4l2.5 -7.6M71.3 128.4l3.4 -7.6M88.7 128.4l4.5 -3.1M88.7 128.4l-4.3 -3.0M88.7 128.4l4.7 3.3M88.7 128.4l-4.2 3.0M88.1 128.4l0.1 -7.9M88.7 128.4l1.0 -7.9M89.3 128.4l1.9 -7.9M106.6 128.4l3.8 -2.7M106.6 128.4l-4.8 -3.4M106.6 128.4l4.7 3.3M106.6 128.4l-4.5 3.2M106.0 128.4l-1.5 -8.0M106.6 128.4l-0.6 -8.0M107.2 128.4l0.3 -8.0M124.6 128.4l4.6 -3.2M124.6 128.4l-4.0 -2.8M124.6 128.4l4.3 3.0M124.6 128.4l-4.7 3.3M124.0 128.4l-3.0 -7.7M124.6 128.4l-2.1 -7.7M125.2 128.4l-1.2 -7.7M142.6 128.4l4.9 -3.4M142.6 128.4l-4.8 -3.4M142.6 128.4l3.9 2.7M142.6 128.4l-4.5 3.2M142.0 128.4l-4.5 -7.1M142.6 128.4l-3.6 -7.1M143.2 128.4l-2.7 -7.1M160.5 128.4l4.4 -3.1M160.5 128.4l-4.2 -2.9M160.5 128.4l3.9 2.7M160.5 128.4l-3.9 2.7M159.9 128.4l-5.9 -6.3M160.5 128.4l-5.0 -6.3M161.1 128.4l-4.1 -6.3" stroke="#66c520" stroke-width="1.5" fill="none" opacity="0.85" stroke-linecap="round"/>
<g fill="#70c830" opacity="0.22"><ellipse cx="52.8" cy="128.4" rx="7" ry="4.5"/><ellipse cx="70.8" cy="128.4" rx="7" ry="4.5"/><ellipse cx="88.7" cy="128.4" rx="7" ry="4.5"/><ellipse cx="106.6" cy="128.4" rx="7" ry="4.5"/><ellipse cx="124.6" cy="128.4" rx="7" ry="4.5"/><ellipse cx="142.6" cy="128.4" rx="7" ry="4.5"/><ellipse cx="160.5" cy="128.4" rx="7" ry="4.5"/></g>
<g fill="url(#gG)"><circle cx="52.8" cy="128.4" r="3.4"/><circle cx="70.8" cy="128.4" r="3.4"/><circle cx="88.7" cy="128.4" r="3.4"/><circle cx="106.6" cy="128.4" r="3.4"/><circle cx="124.6" cy="128.4" r="3.4"/><circle cx="142.6" cy="128.4" r="3.4"/><circle cx="160.5" cy="128.4" r="3.4"/></g>
<path d="M47.9 142.7L54.3 131.9L51.4 129.9L43.7 139.7zM55.8 139.3L60.2 131.4L57.9 130.2L53.6 138.1zM66.1 142.2L70.3 130.4L67.0 129.0L61.4 140.2zM73.9 139.1L76.6 130.5L74.1 129.7L71.4 138.3zM84.2 141.7L86.0 129.3L82.4 128.6L79.2 140.7zM91.9 138.8L92.8 129.9L90.2 129.6L89.3 138.6zM102.2 141.2L101.5 128.7L97.9 128.7L97.1 141.2zM109.8 138.6L109.0 129.6L106.4 129.9L107.3 138.8zM120.2 140.7L116.9 128.6L113.4 129.3L115.0 141.7zM127.7 138.3L125.1 129.7L122.7 130.5L125.3 139.1zM138.0 140.2L132.4 129.0L129.1 130.3L133.1 142.2zM145.6 138.1L141.3 130.2L139.1 131.4L143.3 139.3zM155.7 139.8L148.0 129.8L145.0 131.8L151.3 142.6z" fill="#4a98e4" opacity="0.85"/>
<path d="M45.8 141.2l5.1 -1.9M45.8 141.2l-5.2 -1.9M45.8 141.2l2.5 4.4M45.8 141.2l-2.6 4.5M45.8 141.2l5.3 1.9M45.8 141.2l-5.7 2.1M45.8 141.2l0.0 5.7M45.8 141.2l-4.5 -1.6M63.8 141.2l5.9 -2.1M63.8 141.2l-4.9 -1.8M63.8 141.2l3.2 5.6M63.8 141.2l-3.2 5.6M63.8 141.2l4.5 1.6M63.8 141.2l-5.3 1.9M63.8 141.2l0.0 6.4M63.8 141.2l-5.0 -1.8M81.7 141.2l5.3 -1.9M81.7 141.2l-4.8 -1.8M81.7 141.2l2.3 3.9M81.7 141.2l-2.5 4.3M81.7 141.2l4.5 1.6M81.7 141.2l-4.8 1.7M81.7 141.2l0.0 5.8M81.7 141.2l-5.3 -1.9M99.6 141.2l6.0 -2.2M99.6 141.2l-5.5 -2.0M99.6 141.2l2.6 4.5M99.6 141.2l-3.2 5.5M99.6 141.2l5.4 2.0M99.6 141.2l-5.2 1.9M99.6 141.2l0.0 6.2M99.6 141.2l-5.5 -2.0M117.6 141.2l4.9 -1.8M117.6 141.2l-5.4 -2.0M117.6 141.2l2.6 4.4M117.6 141.2l-3.2 5.6M117.6 141.2l4.7 1.7M117.6 141.2l-6.1 2.2M117.6 141.2l0.0 4.6M117.6 141.2l-4.2 -1.5M135.6 141.2l5.3 -1.9M135.6 141.2l-4.6 -1.7M135.6 141.2l2.8 4.8M135.6 141.2l-2.4 4.1M135.6 141.2l5.8 2.1M135.6 141.2l-5.5 2.0M135.6 141.2l0.0 5.9M135.6 141.2l-6.0 -2.2M153.5 141.2l6.1 -2.2M153.5 141.2l-5.5 -2.0M153.5 141.2l3.0 5.1M153.5 141.2l-2.3 3.9M153.5 141.2l4.3 1.6M153.5 141.2l-5.0 1.8M153.5 141.2l0.0 6.4M153.5 141.2l-4.8 -1.8" stroke="#3d8fe2" stroke-width="1.5" fill="none" opacity="0.85" stroke-linecap="round"/>
<g fill="#4a9ae8" opacity="0.45"><circle cx="45.8" cy="141.2" r="5.6"/><circle cx="63.8" cy="141.2" r="5.6"/><circle cx="81.7" cy="141.2" r="5.6"/><circle cx="99.6" cy="141.2" r="5.6"/><circle cx="117.6" cy="141.2" r="5.6"/><circle cx="135.6" cy="141.2" r="5.6"/><circle cx="153.5" cy="141.2" r="5.6"/></g>
<g fill="url(#gB)"><circle cx="45.8" cy="141.2" r="3.4"/><circle cx="63.8" cy="141.2" r="3.4"/><circle cx="81.7" cy="141.2" r="3.4"/><circle cx="99.6" cy="141.2" r="3.4"/><circle cx="117.6" cy="141.2" r="3.4"/><circle cx="135.6" cy="141.2" r="3.4"/><circle cx="153.5" cy="141.2" r="3.4"/></g>
<path d="M42.9 155.7L49.8 145.3L47.0 143.1L38.7 152.5zM50.8 152.3L55.6 144.6L53.3 143.3L48.6 150.9zM61.1 155.2L65.9 143.7L62.6 142.1L56.4 153.0zM68.9 152.1L72.0 143.6L69.6 142.7L66.4 151.1zM79.2 154.8L81.6 142.5L78.1 141.6L74.2 153.4zM86.9 151.8L88.3 142.9L85.7 142.5L84.3 151.4zM97.2 154.3L97.2 141.7L93.6 141.5L92.1 153.9zM104.8 151.5L104.5 142.6L101.9 142.7L102.3 151.7zM115.2 153.7L112.6 141.5L109.1 142.0L110.0 154.5zM122.8 151.3L120.6 142.5L118.1 143.2L120.2 151.9zM133.0 153.2L128.1 141.7L124.7 142.9L128.1 155.0zM140.6 151.1L136.8 142.9L134.5 144.0L138.3 152.1zM150.7 152.8L143.7 142.4L140.6 144.3L146.3 155.4z" fill="#4a98e4" opacity="0.85"/>
<path d="M40.8 154.1l5.3 -1.9M40.8 154.1l-4.2 -1.5M40.8 154.1l2.7 4.6M40.8 154.1l-3.2 5.5M40.8 154.1l5.3 1.9M40.8 154.1l-5.8 2.1M40.8 154.1l0.0 4.5M40.8 154.1l-4.6 -1.7M58.8 154.1l4.6 -1.7M58.8 154.1l-5.8 -2.1M58.8 154.1l2.4 4.1M58.8 154.1l-3.2 5.5M58.8 154.1l4.7 1.7M58.8 154.1l-5.9 2.1M58.8 154.1l0.0 5.5M58.8 154.1l-4.8 -1.8M76.7 154.1l6.0 -2.2M76.7 154.1l-5.0 -1.8M76.7 154.1l2.9 5.1M76.7 154.1l-2.3 4.0M76.7 154.1l5.8 2.1M76.7 154.1l-6.1 2.2M76.7 154.1l0.0 4.7M76.7 154.1l-5.6 -2.0M94.6 154.1l4.7 -1.7M94.6 154.1l-4.5 -1.6M94.6 154.1l2.6 4.5M94.6 154.1l-2.9 5.0M94.6 154.1l6.0 2.2M94.6 154.1l-6.1 2.2M94.6 154.1l0.0 6.5M94.6 154.1l-5.4 -2.0M112.6 154.1l5.5 -2.0M112.6 154.1l-4.5 -1.6M112.6 154.1l3.0 5.2M112.6 154.1l-2.8 4.9M112.6 154.1l4.9 1.8M112.6 154.1l-5.9 2.2M112.6 154.1l0.0 5.0M112.6 154.1l-4.5 -1.6M130.6 154.1l4.5 -1.6M130.6 154.1l-4.5 -1.6M130.6 154.1l2.8 4.9M130.6 154.1l-3.1 5.3M130.6 154.1l4.5 1.6M130.6 154.1l-5.2 1.9M130.6 154.1l0.0 5.6M130.6 154.1l-5.3 -1.9M148.5 154.1l5.0 -1.8M148.5 154.1l-5.3 -1.9M148.5 154.1l2.3 3.9M148.5 154.1l-2.3 4.0M148.5 154.1l5.0 1.8M148.5 154.1l-4.7 1.7M148.5 154.1l0.0 6.0M148.5 154.1l-4.7 -1.7" stroke="#3d8fe2" stroke-width="1.5" fill="none" opacity="0.85" stroke-linecap="round"/>
<g fill="#4a9ae8" opacity="0.45"><circle cx="40.8" cy="154.1" r="5.6"/><circle cx="58.8" cy="154.1" r="5.6"/><circle cx="76.7" cy="154.1" r="5.6"/><circle cx="94.6" cy="154.1" r="5.6"/><circle cx="112.6" cy="154.1" r="5.6"/><circle cx="130.6" cy="154.1" r="5.6"/><circle cx="148.5" cy="154.1" r="5.6"/></g>
<g fill="url(#gB)"><circle cx="40.8" cy="154.1" r="3.4"/><circle cx="58.8" cy="154.1" r="3.4"/><circle cx="76.7" cy="154.1" r="3.4"/><circle cx="94.6" cy="154.1" r="3.4"/><circle cx="112.6" cy="154.1" r="3.4"/><circle cx="130.6" cy="154.1" r="3.4"/><circle cx="148.5" cy="154.1" r="3.4"/></g>
<path d="M55.1 168.0L60.6 156.8L57.5 155.0L50.5 165.4zM62.9 164.7L66.6 156.5L64.2 155.5L60.5 163.7zM73.2 167.5L76.4 155.4L73.0 154.3L68.3 165.9zM80.9 164.5L82.9 155.7L80.4 155.1L78.4 163.9zM91.3 167.0L92.0 154.5L88.5 154.1L86.1 166.4zM98.9 164.2L99.1 155.2L96.5 155.2L96.3 164.2zM109.2 166.5L107.5 154.1L103.9 154.4L104.1 166.9zM116.8 164.0L115.3 155.1L112.7 155.6L114.3 164.4zM127.1 166.0L123.0 154.2L119.5 155.1L122.1 167.4zM134.7 163.7L131.5 155.3L129.0 156.3L132.3 164.7zM144.9 165.5L138.5 154.7L135.3 156.4L140.2 167.9zM152.5 163.5L147.7 155.9L145.5 157.3L150.4 164.9zM162.5 165.1L154.2 155.8L151.3 158.0L158.5 168.3z" fill="#4a98e4" opacity="0.85"/>
<path d="M52.8 166.7l5.8 -2.1M52.8 166.7l-4.7 -1.7M52.8 166.7l2.3 4.1M52.8 166.7l-2.7 4.7M52.8 166.7l5.0 1.8M52.8 166.7l-4.9 1.8M52.8 166.7l0.0 6.0M52.8 166.7l-4.6 -1.7M70.8 166.7l5.5 -2.0M70.8 166.7l-5.8 -2.1M70.8 166.7l2.7 4.7M70.8 166.7l-2.8 4.8M70.8 166.7l6.0 2.2M70.8 166.7l-5.4 2.0M70.8 166.7l0.0 4.9M70.8 166.7l-4.4 -1.6M88.7 166.7l4.4 -1.6M88.7 166.7l-4.9 -1.8M88.7 166.7l2.3 4.1M88.7 166.7l-2.9 5.0M88.7 166.7l5.0 1.8M88.7 166.7l-4.8 1.8M88.7 166.7l0.0 5.5M88.7 166.7l-6.0 -2.2M106.6 166.7l4.7 -1.7M106.6 166.7l-4.5 -1.6M106.6 166.7l2.6 4.4M106.6 166.7l-2.6 4.5M106.6 166.7l5.9 2.2M106.6 166.7l-5.6 2.0M106.6 166.7l0.0 5.4M106.6 166.7l-4.5 -1.7M124.6 166.7l4.3 -1.6M124.6 166.7l-4.5 -1.6M124.6 166.7l3.1 5.4M124.6 166.7l-2.9 5.0M124.6 166.7l4.5 1.6M124.6 166.7l-5.4 2.0M124.6 166.7l0.0 4.6M124.6 166.7l-5.2 -1.9M142.6 166.7l4.9 -1.8M142.6 166.7l-4.4 -1.6M142.6 166.7l3.0 5.2M142.6 166.7l-3.0 5.1M142.6 166.7l5.2 1.9M142.6 166.7l-4.5 1.7M142.6 166.7l0.0 5.8M142.6 166.7l-5.0 -1.8M160.5 166.7l5.5 -2.0M160.5 166.7l-4.4 -1.6M160.5 166.7l3.2 5.5M160.5 166.7l-2.3 3.9M160.5 166.7l4.6 1.7M160.5 166.7l-5.0 1.8M160.5 166.7l0.0 4.9M160.5 166.7l-4.4 -1.6" stroke="#3d8fe2" stroke-width="1.5" fill="none" opacity="0.85" stroke-linecap="round"/>
<g fill="#4a9ae8" opacity="0.45"><circle cx="52.8" cy="166.7" r="5.6"/><circle cx="70.8" cy="166.7" r="5.6"/><circle cx="88.7" cy="166.7" r="5.6"/><circle cx="106.6" cy="166.7" r="5.6"/><circle cx="124.6" cy="166.7" r="5.6"/><circle cx="142.6" cy="166.7" r="5.6"/><circle cx="160.5" cy="166.7" r="5.6"/></g>
<g fill="url(#gB)"><circle cx="52.8" cy="166.7" r="3.4"/><circle cx="70.8" cy="166.7" r="3.4"/><circle cx="88.7" cy="166.7" r="3.4"/><circle cx="106.6" cy="166.7" r="3.4"/><circle cx="124.6" cy="166.7" r="3.4"/><circle cx="142.6" cy="166.7" r="3.4"/><circle cx="160.5" cy="166.7" r="3.4"/></g>
<path d="M37.5 179.1l16.8 0.4M55.2 179.1l17.0 0.4M73.2 179.1l17.0 0.4M91.1 179.1l17.0 0.4M109.1 179.1l17.0 0.4M127.1 179.1l17.0 0.4M145.0 179.1l17.0 0.4" stroke="#66c520" stroke-width="2.0" fill="none" opacity="0.9" stroke-linecap="round"/>
<path d="M45.8 179.3l4.5 -3.2M45.8 179.3l-4.9 -3.4M45.8 179.3l4.1 2.9M45.8 179.3l-4.0 2.8M45.2 179.3l3.6 -6.6M45.8 179.3l4.5 -6.6M46.4 179.3l5.4 -6.6M63.8 179.3l4.5 -3.2M63.8 179.3l-4.0 -2.8M63.8 179.3l4.2 2.9M63.8 179.3l-4.5 3.2M63.1 179.3l2.2 -7.4M63.8 179.3l3.1 -7.4M64.3 179.3l4.0 -7.4M81.7 179.3l4.2 -3.0M81.7 179.3l-3.9 -2.7M81.7 179.3l3.8 2.6M81.7 179.3l-4.4 3.0M81.1 179.3l0.7 -7.8M81.7 179.3l1.6 -7.8M82.3 179.3l2.5 -7.8M99.6 179.3l4.9 -3.4M99.6 179.3l-4.8 -3.4M99.6 179.3l3.8 2.7M99.6 179.3l-4.3 3.0M99.0 179.3l-0.9 -8.0M99.6 179.3l0.0 -8.0M100.2 179.3l0.9 -8.0M117.6 179.3l4.3 -3.0M117.6 179.3l-3.9 -2.7M117.6 179.3l4.5 3.2M117.6 179.3l-4.3 3.0M117.0 179.3l-2.4 -7.8M117.6 179.3l-1.5 -7.8M118.2 179.3l-0.6 -7.8M135.6 179.3l4.7 -3.3M135.6 179.3l-4.0 -2.8M135.6 179.3l4.8 3.4M135.6 179.3l-4.7 3.3M135.0 179.3l-4.0 -7.4M135.6 179.3l-3.1 -7.4M136.2 179.3l-2.2 -7.4M153.5 179.3l4.3 -3.0M153.5 179.3l-3.9 -2.7M153.5 179.3l4.3 3.0M153.5 179.3l-3.8 2.7M152.9 179.3l-5.4 -6.6M153.5 179.3l-4.5 -6.6M154.1 179.3l-3.6 -6.6" stroke="#66c520" stroke-width="1.5" fill="none" opacity="0.85" stroke-linecap="round"/>
<g fill="#70c830" opacity="0.22"><ellipse cx="45.8" cy="179.3" rx="7" ry="4.5"/><ellipse cx="63.8" cy="179.3" rx="7" ry="4.5"/><ellipse cx="81.7" cy="179.3" rx="7" ry="4.5"/><ellipse cx="99.6" cy="179.3" rx="7" ry="4.5"/><ellipse cx="117.6" cy="179.3" rx="7" ry="4.5"/><ellipse cx="135.6" cy="179.3" rx="7" ry="4.5"/><ellipse cx="153.5" cy="179.3" rx="7" ry="4.5"/></g>
<g fill="url(#gG)"><circle cx="45.8" cy="179.3" r="3.4"/><circle cx="63.8" cy="179.3" r="3.4"/><circle cx="81.7" cy="179.3" r="3.4"/><circle cx="99.6" cy="179.3" r="3.4"/><circle cx="117.6" cy="179.3" r="3.4"/><circle cx="135.6" cy="179.3" r="3.4"/><circle cx="153.5" cy="179.3" r="3.4"/></g>
<path d="M37.5 192.0l11.8 0.4M50.2 192.0l17.0 0.4M68.2 192.0l17.0 0.4M86.1 192.0l17.0 0.4M104.1 192.0l17.0 0.4M122.1 192.0l17.0 0.4M140.0 192.0l17.0 0.4" stroke="#66c520" stroke-width="2.0" fill="none" opacity="0.9" stroke-linecap="round"/>
<path d="M40.8 192.2l4.5 -3.2M40.8 192.2l-4.5 -3.2M40.8 192.2l4.4 3.1M40.8 192.2l-4.9 3.4M40.2 192.2l4.0 -6.3M40.8 192.2l4.9 -6.3M41.4 192.2l5.8 -6.3M58.8 192.2l3.7 -2.6M58.8 192.2l-4.6 -3.2M58.8 192.2l4.7 3.3M58.8 192.2l-3.8 2.7M58.1 192.2l2.6 -7.2M58.8 192.2l3.5 -7.2M59.4 192.2l4.4 -7.2M76.7 192.2l4.1 -2.9M76.7 192.2l-3.8 -2.6M76.7 192.2l4.4 3.1M76.7 192.2l-4.6 3.2M76.1 192.2l1.1 -7.7M76.7 192.2l2.0 -7.7M77.3 192.2l2.9 -7.7M94.6 192.2l4.1 -2.9M94.6 192.2l-4.5 -3.2M94.6 192.2l4.1 2.9M94.6 192.2l-4.6 3.2M94.0 192.2l-0.4 -8.0M94.6 192.2l0.5 -8.0M95.2 192.2l1.4 -8.0M112.6 192.2l4.0 -2.8M112.6 192.2l-4.9 -3.4M112.6 192.2l4.2 3.0M112.6 192.2l-3.7 2.6M112.0 192.2l-2.0 -7.9M112.6 192.2l-1.1 -7.9M113.2 192.2l-0.2 -7.9M130.6 192.2l3.8 -2.7M130.6 192.2l-4.6 -3.2M130.6 192.2l4.7 3.3M130.6 192.2l-4.5 3.1M130.0 192.2l-3.6 -7.5M130.6 192.2l-2.7 -7.5M131.2 192.2l-1.8 -7.5M148.5 192.2l3.9 -2.7M148.5 192.2l-4.8 -3.3M148.5 192.2l4.6 3.2M148.5 192.2l-3.8 2.7M147.9 192.2l-5.0 -6.9M148.5 192.2l-4.1 -6.9M149.1 192.2l-3.2 -6.9" stroke="#66c520" stroke-width="1.5" fill="none" opacity="0.85" stroke-linecap="round"/>
<g fill="#70c830" opacity="0.22"><ellipse cx="40.8" cy="192.2" rx="7" ry="4.5"/><ellipse cx="58.8" cy="192.2" rx="7" ry="4.5"/><ellipse cx="76.7" cy="192.2" rx="7" ry="4.5"/><ellipse cx="94.6" cy="192.2" rx="7" ry="4.5"/><ellipse cx="112.6" cy="192.2" rx="7" ry="4.5"/><ellipse cx="130.6" cy="192.2" rx="7" ry="4.5"/><ellipse cx="148.5" cy="192.2" rx="7" ry="4.5"/></g>
<g fill="url(#gG)"><circle cx="40.8" cy="192.2" r="3.4"/><circle cx="58.8" cy="192.2" r="3.4"/><circle cx="76.7" cy="192.2" r="3.4"/><circle cx="94.6" cy="192.2" r="3.4"/><circle cx="112.6" cy="192.2" r="3.4"/><circle cx="130.6" cy="192.2" r="3.4"/><circle cx="148.5" cy="192.2" r="3.4"/></g>
<path d="M44.3 204.6l17.0 0.4M62.2 204.6l17.0 0.4M80.2 204.6l17.0 0.4M98.1 204.6l17.0 0.4M116.1 204.6l17.0 0.4M134.1 204.6l17.0 0.4M152.0 204.6l13.5 0.4" stroke="#66c520" stroke-width="2.0" fill="none" opacity="0.9" stroke-linecap="round"/>
<path d="M52.8 204.8l4.2 -2.9M52.8 204.8l-4.5 -3.2M52.8 204.8l3.7 2.6M52.8 204.8l-3.7 2.6M52.2 204.8l3.1 -6.9M52.8 204.8l4.0 -6.9M53.4 204.8l4.9 -6.9M70.8 204.8l4.1 -2.9M70.8 204.8l-4.8 -3.3M70.8 204.8l4.9 3.4M70.8 204.8l-4.1 2.9M70.2 204.8l1.6 -7.6M70.8 204.8l2.5 -7.6M71.3 204.8l3.4 -7.6M88.7 204.8l4.8 -3.4M88.7 204.8l-4.7 -3.3M88.7 204.8l4.7 3.3M88.7 204.8l-4.4 3.1M88.1 204.8l0.1 -7.9M88.7 204.8l1.0 -7.9M89.3 204.8l1.9 -7.9M106.6 204.8l4.9 -3.4M106.6 204.8l-4.5 -3.1M106.6 204.8l4.9 3.4M106.6 204.8l-4.4 3.1M106.0 204.8l-1.5 -8.0M106.6 204.8l-0.6 -8.0M107.2 204.8l0.3 -8.0M124.6 204.8l3.9 -2.8M124.6 204.8l-4.3 -3.0M124.6 204.8l4.3 3.0M124.6 204.8l-4.1 2.9M124.0 204.8l-3.0 -7.7M124.6 204.8l-2.1 -7.7M125.2 204.8l-1.2 -7.7M142.6 204.8l4.1 -2.9M142.6 204.8l-4.3 -3.0M142.6 204.8l4.4 3.1M142.6 204.8l-4.0 2.8M142.0 204.8l-4.5 -7.1M142.6 204.8l-3.6 -7.1M143.2 204.8l-2.7 -7.1M160.5 204.8l4.0 -2.8M160.5 204.8l-4.3 -3.0M160.5 204.8l4.3 3.0M160.5 204.8l-4.2 2.9M159.9 204.8l-5.9 -6.3M160.5 204.8l-5.0 -6.3M161.1 204.8l-4.1 -6.3" stroke="#66c520" stroke-width="1.5" fill="none" opacity="0.85" stroke-linecap="round"/>
<g fill="#70c830" opacity="0.22"><ellipse cx="52.8" cy="204.8" rx="7" ry="4.5"/><ellipse cx="70.8" cy="204.8" rx="7" ry="4.5"/><ellipse cx="88.7" cy="204.8" rx="7" ry="4.5"/><ellipse cx="106.6" cy="204.8" rx="7" ry="4.5"/><ellipse cx="124.6" cy="204.8" rx="7" ry="4.5"/><ellipse cx="142.6" cy="204.8" rx="7" ry="4.5"/><ellipse cx="160.5" cy="204.8" rx="7" ry="4.5"/></g>
<g fill="url(#gG)"><circle cx="52.8" cy="204.8" r="3.4"/><circle cx="70.8" cy="204.8" r="3.4"/><circle cx="88.7" cy="204.8" r="3.4"/><circle cx="106.6" cy="204.8" r="3.4"/><circle cx="124.6" cy="204.8" r="3.4"/><circle cx="142.6" cy="204.8" r="3.4"/><circle cx="160.5" cy="204.8" r="3.4"/></g>
<path d="M47.9 219.5L54.3 208.7L51.4 206.7L43.7 216.5zM55.8 216.1L60.2 208.2L57.9 207.0L53.6 214.9zM66.1 219.0L70.3 207.2L67.0 205.8L61.4 217.0zM73.9 215.9L76.6 207.3L74.1 206.5L71.4 215.1zM84.2 218.5L86.0 206.1L82.4 205.4L79.2 217.5zM91.9 215.6L92.8 206.7L90.2 206.4L89.3 215.4zM102.2 218.0L101.5 205.5L97.9 205.5L97.1 218.0zM109.8 215.4L109.0 206.4L106.4 206.7L107.3 215.6zM120.2 217.5L116.9 205.4L113.4 206.1L115.0 218.5zM127.7 215.1L125.1 206.5L122.7 207.3L125.3 215.9zM138.0 217.0L132.4 205.8L129.1 207.1L133.1 219.0zM145.6 214.9L141.3 207.0L139.1 208.2L143.3 216.1zM155.7 216.6L148.0 206.6L145.0 208.6L151.3 219.4z" fill="#4a98e4" opacity="0.85"/>
<path d="M45.8 218.0l5.5 -2.0M45.8 218.0l-4.6 -1.7M45.8 218.0l2.8 4.8M45.8 218.0l-2.5 4.4M45.8 218.0l5.7 2.1M45.8 218.0l-5.6 2.0M45.8 218.0l0.0 6.1M45.8 218.0l-5.2 -1.9M63.8 218.0l4.7 -1.7M63.8 218.0l-6.0 -2.2M63.8 218.0l2.8 4.8M63.8 218.0l-2.6 4.5M63.8 218.0l4.8 1.7M63.8 218.0l-5.0 1.8M63.8 218.0l0.0 5.9M63.8 218.0l-5.8 -2.1M81.7 218.0l5.1 -1.9M81.7 218.0l-5.6 -2.0M81.7 218.0l2.5 4.3M81.7 218.0l-2.7 4.7M81.7 218.0l4.9 1.8M81.7 218.0l-4.8 1.7M81.7 218.0l0.0 5.2M81.7 218.0l-5.6 -2.1M99.6 218.0l5.6 -2.0M99.6 218.0l-4.6 -1.7M99.6 218.0l2.5 4.3M99.6 218.0l-3.0 5.3M99.6 218.0l5.5 2.0M99.6 218.0l-5.5 2.0M99.6 218.0l0.0 5.8M99.6 218.0l-5.5 -2.0M117.6 218.0l4.7 -1.7M117.6 218.0l-4.3 -1.6M117.6 218.0l2.6 4.5M117.6 218.0l-2.3 4.0M117.6 218.0l6.0 2.2M117.6 218.0l-5.2 1.9M117.6 218.0l0.0 5.8M117.6 218.0l-6.0 -2.2M135.6 218.0l5.7 -2.1M135.6 218.0l-4.7 -1.7M135.6 218.0l2.6 4.5M135.6 218.0l-2.4 4.1M135.6 218.0l5.7 2.1M135.6 218.0l-5.6 2.0M135.6 218.0l0.0 5.5M135.6 218.0l-4.9 -1.8M153.5 218.0l4.7 -1.7M153.5 218.0l-5.1 -1.9M153.5 218.0l3.0 5.1M153.5 218.0l-3.1 5.4M153.5 218.0l5.8 2.1M153.5 218.0l-5.9 2.1M153.5 218.0l0.0 5.4M153.5 218.0l-5.0 -1.8" stroke="#3d8fe2" stroke-width="1.5" fill="none" opacity="0.85" stroke-linecap="round"/>
<g fill="#4a9ae8" opacity="0.45"><circle cx="45.8" cy="218.0" r="5.6"/><circle cx="63.8" cy="218.0" r="5.6"/><circle cx="81.7" cy="218.0" r="5.6"/><circle cx="99.6" cy="218.0" r="5.6"/><circle cx="117.6" cy="218.0" r="5.6"/><circle cx="135.6" cy="218.0" r="5.6"/><circle cx="153.5" cy="218.0" r="5.6"/></g>
<g fill="url(#gB)"><circle cx="45.8" cy="218.0" r="3.4"/><circle cx="63.8" cy="218.0" r="3.4"/><circle cx="81.7" cy="218.0" r="3.4"/><circle cx="99.6" cy="218.0" r="3.4"/><circle cx="117.6" cy="218.0" r="3.4"/><circle cx="135.6" cy="218.0" r="3.4"/><circle cx="153.5" cy="218.0" r="3.4"/></g>
<path d="M42.9 232.5L49.8 222.1L47.0 219.9L38.7 229.3zM50.8 229.1L55.6 221.4L53.3 220.1L48.6 227.7zM61.1 232.0L65.9 220.5L62.6 218.9L56.4 229.8zM68.9 228.9L72.0 220.4L69.6 219.5L66.4 227.9zM79.2 231.6L81.6 219.3L78.1 218.4L74.2 230.2zM86.9 228.6L88.3 219.7L85.7 219.3L84.3 228.2zM97.2 231.1L97.2 218.5L93.6 218.3L92.1 230.7zM104.8 228.3L104.5 219.4L101.9 219.5L102.3 228.5zM115.2 230.5L112.6 218.3L109.1 218.8L110.0 231.3zM122.8 228.1L120.6 219.3L118.1 220.0L120.2 228.7zM133.0 230.0L128.1 218.5L124.7 219.7L128.1 231.8zM140.6 227.9L136.8 219.7L134.5 220.8L138.3 228.9zM150.7 229.6L143.7 219.2L140.6 221.1L146.3 232.2z" fill="#4a98e4" opacity="0.85"/>
<path d="M40.8 230.9l4.8 -1.8M40.8 230.9l-6.1 -2.2M40.8 230.9l2.4 4.2M40.8 230.9l-2.4 4.2M40.8 230.9l4.8 1.7M40.8 230.9l-6.0 2.2M40.8 230.9l0.0 6.2M40.8 230.9l-4.9 -1.8M58.8 230.9l5.8 -2.1M58.8 230.9l-5.9 -2.1M58.8 230.9l2.7 4.6M58.8 230.9l-2.4 4.2M58.8 230.9l5.7 2.1M58.8 230.9l-4.9 1.8M58.8 230.9l0.0 4.7M58.8 230.9l-5.9 -2.2M76.7 230.9l5.1 -1.8M76.7 230.9l-5.0 -1.8M76.7 230.9l2.8 4.9M76.7 230.9l-2.5 4.3M76.7 230.9l4.3 1.6M76.7 230.9l-5.0 1.8M76.7 230.9l0.0 5.3M76.7 230.9l-4.2 -1.5M94.6 230.9l4.9 -1.8M94.6 230.9l-5.7 -2.1M94.6 230.9l2.6 4.5M94.6 230.9l-2.9 5.1M94.6 230.9l5.4 2.0M94.6 230.9l-4.6 1.7M94.6 230.9l0.0 4.5M94.6 230.9l-5.5 -2.0M112.6 230.9l5.4 -2.0M112.6 230.9l-4.8 -1.7M112.6 230.9l2.5 4.2M112.6 230.9l-3.1 5.4M112.6 230.9l5.9 2.2M112.6 230.9l-4.7 1.7M112.6 230.9l0.0 5.7M112.6 230.9l-5.3 -1.9M130.6 230.9l4.8 -1.8M130.6 230.9l-4.3 -1.6M130.6 230.9l2.6 4.5M130.6 230.9l-2.9 5.0M130.6 230.9l5.4 2.0M130.6 230.9l-5.2 1.9M130.6 230.9l0.0 4.7M130.6 230.9l-4.6 -1.7M148.5 230.9l4.8 -1.8M148.5 230.9l-5.0 -1.8M148.5 230.9l2.6 4.5M148.5 230.9l-3.2 5.5M148.5 230.9l4.4 1.6M148.5 230.9l-6.1 2.2M148.5 230.9l0.0 5.0M148.5 230.9l-5.8 -2.1" stroke="#3d8fe2" stroke-width="1.5" fill="none" opacity="0.85" stroke-linecap="round"/>
<g fill="#4a9ae8" opacity="0.45"><circle cx="40.8" cy="230.9" r="5.6"/><circle cx="58.8" cy="230.9" r="5.6"/><circle cx="76.7" cy="230.9" r="5.6"/><circle cx="94.6" cy="230.9" r="5.6"/><circle cx="112.6" cy="230.9" r="5.6"/><circle cx="130.6" cy="230.9" r="5.6"/><circle cx="148.5" cy="230.9" r="5.6"/></g>
<g fill="url(#gB)"><circle cx="40.8" cy="230.9" r="3.4"/><circle cx="58.8" cy="230.9" r="3.4"/><circle cx="76.7" cy="230.9" r="3.4"/><circle cx="94.6" cy="230.9" r="3.4"/><circle cx="112.6" cy="230.9" r="3.4"/><circle cx="130.6" cy="230.9" r="3.4"/><circle cx="148.5" cy="230.9" r="3.4"/></g>
<path d="M55.1 244.8L60.6 233.6L57.5 231.8L50.5 242.2zM62.9 241.5L66.6 233.3L64.2 232.3L60.5 240.5zM73.2 244.3L76.4 232.2L73.0 231.1L68.3 242.7zM80.9 241.3L82.9 232.5L80.4 231.9L78.4 240.7zM91.3 243.8L92.0 231.3L88.5 230.9L86.1 243.2zM98.9 241.0L99.1 232.0L96.5 232.0L96.3 241.0zM109.2 243.3L107.5 230.9L103.9 231.2L104.1 243.7zM116.8 240.8L115.3 231.9L112.7 232.4L114.3 241.2zM127.1 242.8L123.0 231.0L119.5 231.9L122.1 244.2zM134.7 240.5L131.5 232.1L129.0 233.1L132.3 241.5zM144.9 242.3L138.5 231.5L135.3 233.2L140.2 244.7zM152.5 240.3L147.7 232.7L145.5 234.1L150.4 241.7zM162.5 241.9L154.2 232.6L151.3 234.8L158.5 245.1z" fill="#4a98e4" opacity="0.85"/>
<path d="M52.8 243.5l4.7 -1.7M52.8 243.5l-5.3 -1.9M52.8 243.5l2.6 4.6M52.8 243.5l-2.3 4.0M52.8 243.5l5.7 2.1M52.8 243.5l-5.8 2.1M52.8 243.5l0.0 5.0M52.8 243.5l-5.7 -2.1M70.8 243.5l5.1 -1.9M70.8 243.5l-6.1 -2.2M70.8 243.5l2.3 4.0M70.8 243.5l-2.6 4.6M70.8 243.5l4.7 1.7M70.8 243.5l-5.4 2.0M70.8 243.5l0.0 6.1M70.8 243.5l-5.8 -2.1M88.7 243.5l5.3 -1.9M88.7 243.5l-5.0 -1.8M88.7 243.5l3.0 5.3M88.7 243.5l-2.4 4.1M88.7 243.5l4.7 1.7M88.7 243.5l-5.6 2.1M88.7 243.5l0.0 5.4M88.7 243.5l-6.1 -2.2M106.6 243.5l4.4 -1.6M106.6 243.5l-5.1 -1.9M106.6 243.5l2.5 4.3M106.6 243.5l-2.3 3.9M106.6 243.5l4.4 1.6M106.6 243.5l-4.4 1.6M106.6 243.5l0.0 5.2M106.6 243.5l-5.0 -1.8M124.6 243.5l5.2 -1.9M124.6 243.5l-4.8 -1.7M124.6 243.5l3.0 5.1M124.6 243.5l-2.8 4.8M124.6 243.5l6.1 2.2M124.6 243.5l-4.5 1.7M124.6 243.5l0.0 5.5M124.6 243.5l-5.2 -1.9M142.6 243.5l4.9 -1.8M142.6 243.5l-5.8 -2.1M142.6 243.5l2.5 4.3M142.6 243.5l-3.1 5.4M142.6 243.5l4.9 1.8M142.6 243.5l-4.9 1.8M142.6 243.5l0.0 5.7M142.6 243.5l-5.3 -1.9M160.5 243.5l4.8 -1.7M160.5 243.5l-4.4 -1.6M160.5 243.5l3.2 5.6M160.5 243.5l-2.6 4.5M160.5 243.5l4.4 1.6M160.5 243.5l-5.5 2.0M160.5 243.5l0.0 5.6M160.5 243.5l-4.8 -1.8" stroke="#3d8fe2" stroke-width="1.5" fill="none" opacity="0.85" stroke-linecap="round"/>
<g fill="#4a9ae8" opacity="0.45"><circle cx="52.8" cy="243.5" r="5.6"/><circle cx="70.8" cy="243.5" r="5.6"/><circle cx="88.7" cy="243.5" r="5.6"/><circle cx="106.6" cy="243.5" r="5.6"/><circle cx="124.6" cy="243.5" r="5.6"/><circle cx="142.6" cy="243.5" r="5.6"/><circle cx="160.5" cy="243.5" r="5.6"/></g>
<g fill="url(#gB)"><circle cx="52.8" cy="243.5" r="3.4"/><circle cx="70.8" cy="243.5" r="3.4"/><circle cx="88.7" cy="243.5" r="3.4"/><circle cx="106.6" cy="243.5" r="3.4"/><circle cx="124.6" cy="243.5" r="3.4"/><circle cx="142.6" cy="243.5" r="3.4"/><circle cx="160.5" cy="243.5" r="3.4"/></g>
<g fill="none" stroke="#4a78c8" stroke-width="1.1"><path d="M34.6,171.6 H31.2 Q29.3,171.6 29.3,173.5 V188.8 Q29.3,190.8 27.3,190.8 H24.2 M27.3,190.8 Q29.3,190.8 29.3,192.8 V208.2 Q29.3,210.2 31.2,210.2 H34.6"/><path d="M34.6,212 H31.2 Q29.3,212 29.3,214 V228.5 Q29.3,230.5 27.3,230.5 H24.2 M27.3,230.5 Q29.3,230.5 29.3,232.5 V248.2 Q29.3,250.2 31.2,250.2 H34.6"/></g>
<text x="14.60" y="194.30" font-size="11.50" font-weight="bold" font-style="italic">n</text>
<text x="14.60" y="233.70" font-size="11.50" font-weight="bold" font-style="italic">n</text>
<text x="168" y="197.3" font-size="10.3" font-weight="bold" fill="#c65b12">ZrO<tspan font-size="7.5" dy="2.4">2</tspan></text>
<text x="168" y="230.8" font-size="10.3" font-weight="bold" fill="#c65b12">HfO<tspan font-size="7.5" dy="2.4">2</tspan></text>
<circle cx="57" cy="272.4" r="5" fill="url(#gLB)"/>
<circle cx="97.2" cy="272.4" r="5" fill="url(#gLG)"/>
<circle cx="136" cy="272.4" r="5" fill="url(#gLO)"/>
<text x="67.40" y="276.40" font-size="10.40" font-weight="bold">Hf</text>
<text x="107.60" y="276.40" font-size="10.40" font-weight="bold">Zr</text>
<text x="146.40" y="276.40" font-size="10.40" font-weight="bold">O</text>
<rect x="36.1" y="288.2" width="135.3" height="22.6" rx="3.5" fill="#e5ebf6"/>
<text x="47" y="304" font-size="10.6" font-weight="bold">HfO<tspan font-size="7.8" dy="2.3">2</tspan><tspan dy="-2.3">/ZrO</tspan><tspan font-size="7.8" dy="2.3">2</tspan><tspan dy="-2.3"> Superlattice</tspan></text>
<text x="199.20" y="10.30" font-size="14.00" font-weight="bold">b</text>
<rect x="220.5" y="12.5" width="223.0" height="269.7" fill="none" stroke="#7a7a7a" stroke-width="1"/>
<line x1="220.50" y1="282.20" x2="443.50" y2="282.20" stroke="#3a3a3a" stroke-width="1"/>
<line x1="220.50" y1="282.20" x2="220.50" y2="278.80" stroke="#888" stroke-width="1"/>
<line x1="234.44" y1="282.20" x2="234.44" y2="280.40" stroke="#333" stroke-width="1"/>
<line x1="248.38" y1="282.20" x2="248.38" y2="278.80" stroke="#888" stroke-width="1"/>
<line x1="262.31" y1="282.20" x2="262.31" y2="280.40" stroke="#333" stroke-width="1"/>
<line x1="276.25" y1="282.20" x2="276.25" y2="278.80" stroke="#888" stroke-width="1"/>
<line x1="290.19" y1="282.20" x2="290.19" y2="280.40" stroke="#333" stroke-width="1"/>
<line x1="304.12" y1="282.20" x2="304.12" y2="278.80" stroke="#888" stroke-width="1"/>
<line x1="318.06" y1="282.20" x2="318.06" y2="280.40" stroke="#333" stroke-width="1"/>
<line x1="332.00" y1="282.20" x2="332.00" y2="278.80" stroke="#888" stroke-width="1"/>
<line x1="345.94" y1="282.20" x2="345.94" y2="280.40" stroke="#333" stroke-width="1"/>
<line x1="359.88" y1="282.20" x2="359.88" y2="278.80" stroke="#888" stroke-width="1"/>
<line x1="373.81" y1="282.20" x2="373.81" y2="280.40" stroke="#333" stroke-width="1"/>
<line x1="387.75" y1="282.20" x2="387.75" y2="278.80" stroke="#888" stroke-width="1"/>
<line x1="401.69" y1="282.20" x2="401.69" y2="280.40" stroke="#333" stroke-width="1"/>
<line x1="415.62" y1="282.20" x2="415.62" y2="278.80" stroke="#888" stroke-width="1"/>
<line x1="429.56" y1="282.20" x2="429.56" y2="280.40" stroke="#333" stroke-width="1"/>
<line x1="443.50" y1="282.20" x2="443.50" y2="278.80" stroke="#888" stroke-width="1"/>
<text x="220.50" y="295.60" font-size="11.00" text-anchor="middle" fill="#111">15</text>
<text x="248.38" y="295.60" font-size="11.00" text-anchor="middle" fill="#111">20</text>
<text x="276.25" y="295.60" font-size="11.00" text-anchor="middle" fill="#111">25</text>
<text x="304.12" y="295.60" font-size="11.00" text-anchor="middle" fill="#111">30</text>
<text x="332.00" y="295.60" font-size="11.00" text-anchor="middle" fill="#111">35</text>
<text x="359.88" y="295.60" font-size="11.00" text-anchor="middle" fill="#111">40</text>
<text x="387.75" y="295.60" font-size="11.00" text-anchor="middle" fill="#111">45</text>
<text x="415.62" y="295.60" font-size="11.00" text-anchor="middle" fill="#111">50</text>
<text x="443.50" y="295.60" font-size="11.00" text-anchor="middle" fill="#111">55</text>
<text x="332" y="309.3" font-size="14" text-anchor="middle" fill="#111">2θ</text>
<text transform="translate(212.60 145.20) rotate(-90)" font-size="13.70" text-anchor="middle" fill="#111">Intensity</text>
<polyline points="221.1,136.6 221.3,133.9 221.6,136.7 221.8,138.0 222.1,134.9 222.3,135.1 222.5,133.2 222.8,137.5 223.0,133.4 223.3,134.9 223.5,133.2 223.7,132.9 224.0,135.2 224.2,134.7 224.5,136.8 224.7,135.9 224.9,139.6 225.2,132.9 225.4,135.2 225.7,134.9 225.9,135.2 226.1,134.7 226.4,133.8 226.6,136.1 226.9,134.3 227.1,134.6 227.3,135.2 227.6,132.7 227.8,134.1 228.1,135.9 228.3,132.8 228.5,132.2 228.8,133.1 229.0,133.1 229.3,134.4 229.5,134.6 229.7,135.6 230.0,134.2 230.2,138.4 230.5,133.7 230.7,136.6 230.9,134.4 231.2,134.7 231.4,134.9 231.7,135.9 231.9,135.2 232.1,132.6 232.4,134.2 232.6,138.0 232.9,132.1 233.1,133.1 233.3,134.1 233.6,132.0 233.8,132.5 234.1,136.2 234.3,134.9 234.5,134.1 234.8,135.7 235.0,131.8 235.3,134.1 235.5,131.9 235.7,132.8 236.0,133.4 236.2,133.6 236.5,135.6 236.7,132.1 236.9,133.7 237.2,131.0 237.4,132.3 237.7,134.6 237.9,133.8 238.1,133.7 238.4,130.6 238.6,131.4 238.9,135.9 239.1,136.9 239.3,136.3 239.6,133.8 239.8,132.1 240.1,135.2 240.3,133.1 240.5,137.0 240.8,132.1 241.0,132.6 241.3,132.7 241.5,131.3 241.7,131.2 242.0,132.1 242.2,133.5 242.5,131.7 242.7,133.7 242.9,134.0 243.2,134.8 243.4,134.7 243.7,136.7 243.9,136.1 244.1,130.1 244.4,132.8 244.6,128.6 244.9,132.3 245.1,130.8 245.3,132.4 245.6,137.5 245.8,134.3 246.1,136.0 246.3,134.2 246.5,135.8 246.8,133.9 247.0,131.8 247.3,128.1 247.5,129.6 247.7,131.7 248.0,129.9 248.2,132.0 248.5,131.8 248.7,133.8 248.9,134.8 249.2,135.2 249.4,134.8 249.7,134.0 249.9,129.5 250.1,130.6 250.4,131.6 250.6,129.2 250.9,131.8 251.1,129.9 251.3,133.5 251.6,133.3 251.8,136.5 252.1,134.5 252.3,134.3 252.5,135.5 252.8,133.0 253.0,130.6 253.3,128.2 253.5,128.4 253.7,125.3 254.0,130.5 254.2,132.5 254.5,130.5 254.7,131.2 254.9,136.1 255.2,135.4 255.4,132.8 255.7,130.2 255.9,127.9 256.1,130.1 256.4,128.6 256.6,129.7 256.9,128.8 257.1,128.1 257.3,130.8 257.6,130.0 257.8,130.7 258.1,130.5 258.3,131.0 258.5,129.4 258.8,128.4 259.0,127.5 259.3,126.0 259.5,124.9 259.7,124.2 260.0,125.0 260.2,125.3 260.5,126.5 260.7,127.0 260.9,127.7 261.2,126.4 261.4,128.2 261.7,121.2 261.9,123.2 262.1,121.0 262.4,108.8 262.6,96.7 262.9,89.4 263.1,96.6 263.3,103.8 263.6,108.9 263.8,109.8 264.1,111.0 264.3,112.1 264.5,111.0 264.8,112.1 265.0,113.2 265.3,114.0 265.5,114.0 265.7,113.2 266.0,115.7 266.2,113.5 266.5,115.1 266.7,115.0 266.9,115.1 267.2,117.1 267.4,117.0 267.7,118.0 267.9,118.2 268.1,119.4 268.4,120.4 268.6,122.0 268.9,123.1 269.1,124.7 269.3,125.3 269.6,125.9 269.8,126.5 270.1,127.7 270.3,129.0 270.5,128.2 270.8,128.5 271.0,128.2 271.3,126.6 271.5,132.5 271.7,130.4 272.0,129.7 272.2,133.6 272.5,129.7 272.7,133.2 272.9,129.6 273.2,131.0 273.4,131.6 273.7,131.9 273.9,126.7 274.1,127.6 274.4,128.3 274.6,126.9 274.9,125.1 275.1,129.9 275.3,127.2 275.6,131.2 275.8,132.9 276.1,130.0 276.3,131.3 276.5,133.2 276.8,128.5 277.0,127.6 277.3,125.5 277.5,122.7 277.7,123.3 278.0,128.9 278.2,128.2 278.5,128.7 278.7,127.8 278.9,134.1 279.2,132.3 279.4,129.7 279.7,131.4 279.9,130.2 280.1,130.2 280.4,133.3 280.6,125.1 280.9,126.1 281.1,125.9 281.3,126.3 281.6,128.7 281.8,129.9 282.1,130.1 282.3,134.9 282.5,132.2 282.8,130.9 283.0,131.2 283.3,135.6 283.5,131.0 283.7,129.9 284.0,131.2 284.2,125.5 284.5,128.3 284.7,125.5 284.9,128.7 285.2,126.4 285.4,130.7 285.7,128.8 285.9,130.3 286.1,130.9 286.4,129.7 286.6,129.0 286.9,129.9 287.1,128.5 287.3,126.5 287.6,124.8 287.8,124.9 288.1,122.0 288.3,123.7 288.5,125.2 288.8,124.8 289.0,124.9 289.3,126.9 289.5,126.2 289.7,127.8 290.0,126.4 290.2,122.7 290.5,125.7 290.7,122.1 290.9,123.7 291.2,123.0 291.4,125.0 291.7,123.1 291.9,121.8 292.1,120.9 292.4,119.5 292.6,120.9 292.9,122.4 293.1,119.9 293.3,120.0 293.6,119.9 293.8,120.0 294.1,121.1 294.3,120.6 294.5,122.3 294.8,119.9 295.0,120.8 295.3,120.5 295.5,123.8 295.7,121.7 296.0,122.2 296.2,122.6 296.5,122.2 296.7,121.1 296.9,121.8 297.2,121.9 297.4,123.1 297.7,122.3 297.9,124.6 298.1,125.5 298.4,124.7 298.6,123.9 298.9,122.6 299.1,124.4 299.3,122.8 299.6,121.7 299.8,121.2 300.1,121.7 300.3,123.4 300.5,123.0 300.8,120.6 301.0,121.9 301.3,122.6 301.5,122.3 301.7,121.7 302.0,120.6 302.2,122.5 302.5,121.9 302.7,122.3 302.9,121.7 303.2,119.8 303.4,120.3 303.7,120.1 303.9,122.9 304.1,123.1 304.4,122.6 304.6,121.1 304.9,122.2 305.1,120.9 305.3,123.2 305.6,122.0 305.8,123.9 306.1,126.1 306.3,124.9 306.5,124.6 306.8,123.5 307.0,123.4 307.3,124.2 307.5,123.9 307.7,124.9 308.0,126.0 308.2,125.0 308.5,126.7 308.7,125.9 308.9,125.4 309.2,126.8 309.4,128.1 309.7,126.5 309.9,127.2 310.1,127.1 310.4,128.2 310.6,127.3 310.9,129.1 311.1,128.3 311.3,129.2 311.6,128.4 311.8,130.2 312.1,127.8 312.3,129.7 312.5,129.6 312.8,130.0 313.0,130.5 313.3,131.2 313.5,131.1 313.7,128.5 314.0,133.7 314.2,130.7 314.5,131.7 314.7,130.6 314.9,130.8 315.2,131.4 315.4,130.7 315.7,130.3 315.9,131.1 316.1,130.4 316.4,130.6 316.6,132.3 316.9,129.1 317.1,130.0 317.3,129.1 317.6,131.8 317.8,132.6 318.1,130.8 318.3,132.4 318.5,133.4 318.8,130.5 319.0,130.1 319.3,130.1 319.5,134.3 319.7,130.2 320.0,132.4 320.2,131.9 320.5,130.1 320.7,130.5 320.9,133.3 321.2,130.0 321.4,131.7 321.7,130.7 321.9,132.9 322.1,128.8 322.4,132.5 322.6,128.8 322.9,130.8 323.1,131.0 323.3,131.0 323.6,130.3 323.8,130.2 324.1,133.1 324.3,132.8 324.5,132.9 324.8,132.8 325.0,134.0 325.3,135.0 325.5,129.6 325.7,130.4 326.0,133.6 326.2,131.3 326.5,131.3 326.7,129.7 326.9,132.2 327.2,131.9 327.4,134.0 327.7,129.7 327.9,132.3 328.1,129.4 328.4,129.4 328.6,129.5 328.9,131.5 329.1,130.3 329.3,131.4 329.6,133.2 329.8,132.0 330.1,130.0 330.3,133.0 330.5,130.9 330.8,131.8 331.0,132.8 331.3,131.4 331.5,133.1 331.7,132.3 332.0,129.3 332.2,132.1 332.5,130.8 332.7,132.3 332.9,134.0 333.2,132.3 333.4,133.4 333.7,132.8 333.9,132.3 334.1,133.1 334.4,130.7 334.6,135.9 334.9,134.1 335.1,132.9 335.3,131.4 335.6,134.2 335.8,133.0 336.1,132.1 336.3,133.4 336.5,135.6 336.8,131.8 337.0,134.5 337.3,133.8 337.5,134.9 337.7,131.9 338.0,133.6 338.2,134.5 338.5,134.3 338.7,135.1 338.9,134.5 339.2,134.4 339.4,134.5 339.7,133.0 339.9,135.5 340.1,134.4 340.4,132.7 340.6,136.7 340.9,135.2 341.1,133.2 341.3,133.2 341.6,134.8 341.8,134.3 342.1,136.1 342.3,133.9 342.5,134.6 342.8,133.8 343.0,133.6 343.3,137.5 343.5,136.2 343.7,137.0 344.0,134.9 344.2,137.3 344.5,136.6 344.7,137.6 344.9,136.7 345.2,133.4 345.4,138.1 345.7,137.0 345.9,137.3 346.1,138.0 346.4,138.3 346.6,139.8 346.9,135.4 347.1,135.1 347.3,134.1 347.6,137.4 347.8,136.0 348.1,134.9 348.3,138.1 348.5,138.2 348.8,135.1 349.0,136.5 349.3,141.6 349.5,136.4 349.7,135.3 350.0,137.6 350.2,136.1 350.5,136.5 350.7,137.2 350.9,135.0 351.2,139.1 351.4,134.9 351.7,135.2 351.9,134.9 352.1,137.3 352.4,135.3 352.6,138.1 352.9,134.5 353.1,137.0 353.3,136.1 353.6,139.5 353.8,136.1 354.1,136.2 354.3,135.1 354.5,137.6 354.8,140.9 355.0,139.7 355.3,139.7 355.5,137.9 355.7,136.3 356.0,134.2 356.2,132.4 356.5,137.2 356.7,139.8 356.9,136.3 357.2,135.7 357.4,136.8 357.7,137.4 357.9,135.5 358.1,135.8 358.4,135.0 358.6,134.4 358.9,141.3 359.1,141.8 359.3,135.5 359.6,134.0 359.8,137.4 360.1,140.1 360.3,139.2 360.5,137.9 360.8,135.3 361.0,135.0 361.3,140.3 361.5,136.7 361.7,136.4 362.0,135.8 362.2,134.5 362.5,138.2 362.7,134.6 362.9,134.8 363.2,137.1 363.4,134.7 363.7,134.6 363.9,135.0 364.1,138.2 364.4,140.3 364.6,135.9 364.9,134.7 365.1,139.0 365.3,137.7 365.6,136.4 365.8,140.6 366.1,137.7 366.3,137.4 366.5,137.7 366.8,136.1 367.0,134.5 367.3,139.4 367.5,137.6 367.7,136.7 368.0,134.9 368.2,137.9 368.5,136.9 368.7,137.9 368.9,134.8 369.2,138.0 369.4,134.8 369.7,136.3 369.9,138.2 370.1,138.2 370.4,138.8 370.6,136.4 370.9,136.6 371.1,135.5 371.3,133.1 371.6,137.8 371.8,136.4 372.1,135.4 372.3,135.2 372.5,134.5 372.8,134.6 373.0,136.8 373.3,135.0 373.5,135.2 373.7,140.7 374.0,134.2 374.2,140.9 374.5,135.6 374.7,137.5 374.9,137.5 375.2,136.8 375.4,134.0 375.7,136.7 375.9,135.8 376.1,137.9 376.4,135.9 376.6,135.0 376.9,131.6 377.1,132.6 377.3,132.2 377.6,132.8 377.8,135.1 378.1,137.4 378.3,135.1 378.5,137.3 378.8,137.5 379.0,137.2 379.3,134.4 379.5,133.0 379.7,131.9 380.0,135.3 380.2,133.0 380.5,132.7 380.7,132.0 380.9,133.4 381.2,135.0 381.4,136.4 381.7,137.4 381.9,137.0 382.1,135.3 382.4,133.0 382.6,130.4 382.9,130.2 383.1,130.7 383.3,130.7 383.6,129.9 383.8,132.2 384.1,133.8 384.3,134.5 384.5,135.0 384.8,137.1 385.0,133.2 385.3,130.9 385.5,131.5 385.7,128.5 386.0,127.1 386.2,128.6 386.5,128.4 386.7,128.0 386.9,131.0 387.2,130.6 387.4,132.7 387.7,130.8 387.9,129.8 388.1,131.1 388.4,128.0 388.6,128.4 388.9,127.3 389.1,125.2 389.3,125.5 389.6,125.6 389.8,127.5 390.1,129.1 390.3,129.6 390.5,129.8 390.8,129.2 391.0,129.3 391.3,128.0 391.5,124.6 391.7,123.3 392.0,122.9 392.2,121.9 392.5,121.5 392.7,122.2 392.9,123.0 393.2,123.7 393.4,124.1 393.7,121.9 393.9,122.8 394.1,121.5 394.4,120.3 394.6,119.4 394.9,110.8 395.1,102.3 395.3,93.8 395.6,85.3 395.8,78.1 396.1,85.2 396.3,92.3 396.5,99.3 396.8,106.4 397.0,106.2 397.3,106.5 397.5,106.0 397.7,107.8 398.0,108.2 398.2,110.1 398.5,107.4 398.7,106.9 398.9,109.3 399.2,109.5 399.4,108.2 399.7,109.1 399.9,107.4 400.1,108.2 400.4,108.5 400.6,109.1 400.9,109.6 401.1,109.9 401.3,109.1 401.6,109.4 401.8,110.3 402.1,111.3 402.3,113.7 402.5,112.4 402.8,113.3 403.0,113.3 403.3,113.7 403.5,113.9 403.7,115.1 404.0,115.6 404.2,117.6 404.5,117.8 404.7,119.1 404.9,120.7 405.2,121.5 405.4,122.5 405.7,125.1 405.9,126.7 406.1,126.9 406.4,127.7 406.6,128.0 406.9,127.2 407.1,125.7 407.3,126.1 407.6,128.2 407.8,128.5 408.1,130.2 408.3,132.4 408.5,133.0 408.8,134.9 409.0,134.5 409.3,134.6 409.5,134.1 409.7,132.2 410.0,132.9 410.2,134.4 410.5,130.0 410.7,131.3 410.9,133.9 411.2,135.2 411.4,135.7 411.7,135.8 411.9,137.2 412.1,136.7 412.4,135.0 412.6,135.5 412.9,134.6 413.1,133.9 413.3,133.2 413.6,137.2 413.8,134.4 414.1,137.2 414.3,135.9 414.5,136.1 414.8,138.3 415.0,139.4 415.3,137.9 415.5,133.1 415.7,138.6 416.0,138.9 416.2,133.1 416.5,136.8 416.7,136.3 416.9,135.8 417.2,134.3 417.4,136.9 417.7,139.6 417.9,141.5 418.1,135.5 418.4,137.9 418.6,140.4 418.9,138.0 419.1,136.0 419.3,139.4 419.6,140.0 419.8,134.1 420.1,134.5 420.3,137.8 420.5,134.8 420.8,138.3 421.0,136.9 421.3,137.1 421.5,138.0 421.7,138.2 422.0,137.2 422.2,138.4 422.5,135.6 422.7,135.4 422.9,137.5 423.2,136.6 423.4,137.0 423.7,137.7 423.9,137.0 424.1,137.7 424.4,136.1 424.6,138.0 424.9,137.1 425.1,136.7 425.3,138.3 425.6,136.2 425.8,134.9 426.1,136.3 426.3,135.6 426.5,139.5 426.8,134.8 427.0,140.4 427.3,136.5 427.5,134.5 427.7,137.1 428.0,136.6 428.2,135.9 428.5,138.2 428.7,134.5 428.9,136.8 429.2,135.3 429.4,136.2 429.7,135.7 429.9,137.1 430.1,138.0 430.4,134.4 430.6,136.2 430.9,137.3 431.1,135.3 431.3,137.3 431.6,141.7 431.8,134.6 432.1,136.7 432.3,137.2 432.5,136.1 432.8,136.8 433.0,140.7 433.3,134.2 433.5,134.2 433.7,136.6 434.0,134.4 434.2,139.3 434.5,140.2 434.7,136.6 434.9,136.7 435.2,138.2 435.4,136.0 435.7,138.5 435.9,140.3 436.1,137.2 436.4,135.6 436.6,140.7 436.9,139.2 437.1,135.9 437.3,137.0 437.6,136.2 437.8,138.4 438.1,141.8 438.3,135.8 438.5,135.2 438.8,135.0 439.0,140.1 439.3,132.6 439.5,136.4 439.7,137.1 440.0,136.4 440.2,142.0 440.5,139.4 440.7,134.3 440.9,137.0 441.2,137.7 441.4,135.8 441.7,137.3 441.9,135.9 442.1,137.8 442.4,138.4 442.6,134.4 442.9,137.4" fill="none" stroke="#2e3192" stroke-width="1.2" stroke-linejoin="round"/>
<polyline points="221.1,165.2 221.3,162.4 221.6,162.5 221.8,162.0 222.1,161.8 222.3,163.9 222.5,164.4 222.8,164.6 223.0,164.8 223.3,162.5 223.5,162.0 223.7,165.0 224.0,165.0 224.2,164.6 224.5,162.2 224.7,161.2 224.9,161.6 225.2,164.7 225.4,161.3 225.7,162.4 225.9,161.9 226.1,162.5 226.4,161.6 226.6,163.0 226.9,166.6 227.1,162.0 227.3,163.5 227.6,165.4 227.8,167.6 228.1,161.8 228.3,163.9 228.5,162.8 228.8,164.6 229.0,166.2 229.3,165.7 229.5,163.4 229.7,162.6 230.0,164.3 230.2,164.9 230.5,161.8 230.7,161.3 230.9,164.5 231.2,164.7 231.4,163.7 231.7,161.4 231.9,164.6 232.1,164.9 232.4,163.7 232.6,166.6 232.9,164.4 233.1,163.3 233.3,163.6 233.6,162.3 233.8,164.5 234.1,164.5 234.3,162.3 234.5,164.0 234.8,160.7 235.0,160.9 235.3,160.0 235.5,164.3 235.7,162.4 236.0,162.1 236.2,161.0 236.5,162.7 236.7,163.3 236.9,163.3 237.2,163.0 237.4,160.4 237.7,161.7 237.9,160.4 238.1,162.4 238.4,163.4 238.6,162.0 238.9,161.0 239.1,166.6 239.3,165.3 239.6,160.7 239.8,161.5 240.1,160.7 240.3,160.8 240.5,162.8 240.8,162.4 241.0,160.2 241.3,163.3 241.5,161.6 241.7,163.8 242.0,161.8 242.2,163.9 242.5,163.1 242.7,166.2 242.9,165.5 243.2,159.9 243.4,159.7 243.7,163.0 243.9,161.4 244.1,159.4 244.4,160.3 244.6,161.0 244.9,160.6 245.1,157.5 245.3,164.4 245.6,163.0 245.8,161.2 246.1,165.4 246.3,162.6 246.5,162.5 246.8,162.3 247.0,162.1 247.3,161.9 247.5,158.2 247.7,159.5 248.0,162.6 248.2,160.4 248.5,160.2 248.7,161.8 248.9,162.6 249.2,164.9 249.4,163.2 249.7,163.5 249.9,161.5 250.1,160.2 250.4,158.6 250.6,156.6 250.9,160.7 251.1,158.7 251.3,161.6 251.6,161.9 251.8,163.2 252.1,161.9 252.3,162.3 252.5,162.7 252.8,163.2 253.0,159.5 253.3,158.5 253.5,160.1 253.7,157.2 254.0,157.7 254.2,157.9 254.5,158.5 254.7,162.0 254.9,165.0 255.2,163.0 255.4,161.8 255.7,159.8 255.9,161.9 256.1,158.7 256.4,157.7 256.6,156.4 256.9,156.3 257.1,156.0 257.3,158.4 257.6,157.3 257.8,159.2 258.1,160.5 258.3,160.2 258.5,158.6 258.8,157.7 259.0,156.3 259.3,155.1 259.5,154.5 259.7,155.1 260.0,153.2 260.2,153.2 260.5,154.0 260.7,154.8 260.9,155.0 261.2,156.8 261.4,156.9 261.7,153.1 261.9,152.8 262.1,150.3 262.4,136.4 262.6,122.4 262.9,114.4 263.1,123.8 263.3,133.3 263.6,139.9 263.8,140.8 264.1,141.6 264.3,142.3 264.5,143.8 264.8,145.4 265.0,145.4 265.3,144.7 265.5,144.6 265.7,143.7 266.0,145.7 266.2,145.9 266.5,145.5 266.7,145.8 266.9,146.5 267.2,148.7 267.4,148.2 267.7,148.3 267.9,150.0 268.1,150.3 268.4,151.6 268.6,152.9 268.9,153.9 269.1,154.8 269.3,156.1 269.6,158.2 269.8,157.7 270.1,158.4 270.3,159.0 270.5,161.1 270.8,163.0 271.0,160.4 271.3,164.7 271.5,161.4 271.7,159.8 272.0,155.9 272.2,156.7 272.5,159.3 272.7,157.6 272.9,159.3 273.2,157.5 273.4,161.1 273.7,163.1 273.9,163.0 274.1,161.6 274.4,160.3 274.6,165.7 274.9,161.9 275.1,160.8 275.3,158.2 275.6,159.8 275.8,154.7 276.1,155.8 276.3,158.2 276.5,158.0 276.8,161.9 277.0,162.8 277.3,160.3 277.5,163.4 277.7,162.7 278.0,166.5 278.2,160.9 278.5,158.5 278.7,157.4 278.9,161.0 279.2,155.3 279.4,155.3 279.7,158.0 279.9,160.3 280.1,157.8 280.4,162.3 280.6,159.4 280.9,164.2 281.1,161.1 281.3,160.1 281.6,162.3 281.8,160.9 282.1,156.2 282.3,157.1 282.5,155.5 282.8,156.6 283.0,157.1 283.3,157.8 283.5,158.2 283.7,158.9 284.0,162.5 284.2,165.0 284.5,160.8 284.7,163.6 284.9,160.3 285.2,161.0 285.4,158.7 285.7,156.0 285.9,154.4 286.1,155.4 286.4,154.8 286.6,158.3 286.9,156.3 287.1,158.9 287.3,158.9 287.6,157.9 287.8,159.8 288.1,156.3 288.3,157.3 288.5,156.0 288.8,154.3 289.0,152.5 289.3,153.1 289.5,152.4 289.7,152.9 290.0,153.2 290.2,153.1 290.5,150.9 290.7,153.1 290.9,154.8 291.2,152.8 291.4,151.9 291.7,153.6 291.9,152.3 292.1,151.2 292.4,153.7 292.6,150.0 292.9,153.3 293.1,150.0 293.3,150.7 293.6,151.6 293.8,151.0 294.1,149.0 294.3,151.1 294.5,151.0 294.8,149.4 295.0,149.6 295.3,152.4 295.5,149.7 295.7,152.0 296.0,150.4 296.2,152.0 296.5,153.0 296.7,150.8 296.9,151.5 297.2,154.3 297.4,152.1 297.7,154.1 297.9,154.8 298.1,153.5 298.4,151.5 298.6,151.3 298.9,151.6 299.1,151.1 299.3,152.3 299.6,151.5 299.8,151.6 300.1,150.8 300.3,150.2 300.5,151.2 300.8,149.0 301.0,150.5 301.3,148.9 301.5,149.9 301.7,149.3 302.0,149.4 302.2,146.4 302.5,148.6 302.7,148.2 302.9,147.7 303.2,145.9 303.4,146.9 303.7,146.7 303.9,146.6 304.1,147.0 304.4,147.2 304.6,149.2 304.9,149.6 305.1,149.6 305.3,151.4 305.6,150.4 305.8,150.3 306.1,150.3 306.3,151.3 306.5,150.8 306.8,151.6 307.0,153.1 307.3,153.2 307.5,153.6 307.7,152.3 308.0,154.6 308.2,153.2 308.5,155.9 308.7,154.2 308.9,155.8 309.2,156.1 309.4,154.6 309.7,156.8 309.9,157.1 310.1,157.8 310.4,156.6 310.6,157.8 310.9,158.4 311.1,157.3 311.3,157.7 311.6,159.4 311.8,158.4 312.1,158.7 312.3,158.9 312.5,159.4 312.8,161.2 313.0,160.3 313.3,161.1 313.5,162.0 313.7,162.2 314.0,160.0 314.2,159.2 314.5,160.6 314.7,160.5 314.9,162.4 315.2,162.5 315.4,162.1 315.7,163.4 315.9,160.8 316.1,162.3 316.4,162.1 316.6,164.7 316.9,161.7 317.1,161.4 317.3,162.9 317.6,159.4 317.8,163.0 318.1,163.2 318.3,162.8 318.5,161.3 318.8,160.3 319.0,161.9 319.3,161.2 319.5,159.5 319.7,160.6 320.0,160.1 320.2,162.1 320.5,163.1 320.7,162.5 320.9,159.5 321.2,165.8 321.4,159.7 321.7,162.7 321.9,160.9 322.1,161.3 322.4,161.0 322.6,163.1 322.9,159.9 323.1,159.8 323.3,164.8 323.6,161.8 323.8,160.8 324.1,163.9 324.3,160.4 324.5,164.4 324.8,161.2 325.0,162.8 325.3,160.6 325.5,163.3 325.7,160.1 326.0,163.5 326.2,161.9 326.5,162.0 326.7,161.2 326.9,163.5 327.2,161.8 327.4,160.2 327.7,163.8 327.9,162.5 328.1,161.1 328.4,164.6 328.6,165.1 328.9,162.6 329.1,160.7 329.3,163.6 329.6,163.0 329.8,163.4 330.1,161.4 330.3,158.2 330.5,161.8 330.8,160.5 331.0,160.9 331.3,163.1 331.5,160.9 331.7,161.8 332.0,162.6 332.2,162.5 332.5,160.3 332.7,165.0 332.9,163.4 333.2,162.5 333.4,162.7 333.7,161.9 333.9,163.0 334.1,160.3 334.4,161.9 334.6,161.8 334.9,163.1 335.1,163.3 335.3,162.3 335.6,162.4 335.8,162.9 336.1,161.3 336.3,162.1 336.5,163.7 336.8,162.3 337.0,163.7 337.3,163.0 337.5,164.9 337.7,165.0 338.0,164.5 338.2,162.6 338.5,163.7 338.7,162.7 338.9,162.6 339.2,162.1 339.4,163.2 339.7,163.5 339.9,165.3 340.1,165.0 340.4,166.4 340.6,163.8 340.9,166.0 341.1,163.1 341.3,165.5 341.6,165.0 341.8,164.8 342.1,165.0 342.3,166.5 342.5,162.8 342.8,165.4 343.0,164.3 343.3,167.3 343.5,163.6 343.7,164.1 344.0,167.1 344.2,166.3 344.5,165.5 344.7,166.2 344.9,166.0 345.2,165.1 345.4,166.4 345.7,164.0 345.9,164.6 346.1,164.3 346.4,162.8 346.6,166.2 346.9,165.1 347.1,167.2 347.3,166.5 347.6,163.5 347.8,164.0 348.1,167.2 348.3,166.7 348.5,166.6 348.8,167.3 349.0,164.2 349.3,163.4 349.5,167.3 349.7,164.2 350.0,165.3 350.2,165.9 350.5,161.6 350.7,163.6 350.9,166.2 351.2,164.7 351.4,166.3 351.7,165.7 351.9,162.9 352.1,166.2 352.4,166.5 352.6,164.3 352.9,167.1 353.1,166.8 353.3,166.6 353.6,166.3 353.8,165.7 354.1,167.1 354.3,164.1 354.5,166.7 354.8,167.8 355.0,163.9 355.3,166.0 355.5,162.9 355.7,166.4 356.0,163.7 356.2,164.9 356.5,163.2 356.7,162.8 356.9,166.8 357.2,164.5 357.4,167.8 357.7,164.9 357.9,169.9 358.1,162.5 358.4,163.9 358.6,165.4 358.9,166.6 359.1,168.2 359.3,166.4 359.6,164.1 359.8,169.7 360.1,163.2 360.3,169.7 360.5,164.7 360.8,164.8 361.0,165.4 361.3,168.6 361.5,166.2 361.7,162.9 362.0,168.5 362.2,163.6 362.5,162.8 362.7,163.3 362.9,166.0 363.2,165.1 363.4,163.2 363.7,166.9 363.9,165.9 364.1,164.3 364.4,165.1 364.6,164.3 364.9,164.8 365.1,166.7 365.3,165.7 365.6,163.2 365.8,169.7 366.1,166.7 366.3,169.5 366.5,163.5 366.8,168.7 367.0,166.7 367.3,170.1 367.5,166.4 367.7,164.6 368.0,167.2 368.2,165.0 368.5,165.6 368.7,163.3 368.9,166.4 369.2,160.8 369.4,167.1 369.7,163.1 369.9,164.0 370.1,168.6 370.4,166.3 370.6,166.2 370.9,167.0 371.1,165.5 371.3,165.8 371.6,162.8 371.8,167.1 372.1,169.7 372.3,162.8 372.5,167.2 372.8,167.3 373.0,164.5 373.3,168.7 373.5,161.3 373.7,164.3 374.0,163.6 374.2,169.9 374.5,164.6 374.7,166.8 374.9,165.5 375.2,168.4 375.4,164.8 375.7,165.2 375.9,165.1 376.1,164.8 376.4,167.7 376.6,166.1 376.9,166.6 377.1,164.6 377.3,167.9 377.6,164.0 377.8,164.9 378.1,162.8 378.3,164.3 378.5,162.6 378.8,159.9 379.0,163.5 379.3,168.4 379.5,165.1 379.7,165.8 380.0,164.5 380.2,164.1 380.5,164.1 380.7,161.2 380.9,159.3 381.2,161.0 381.4,159.4 381.7,161.5 381.9,160.8 382.1,163.4 382.4,164.5 382.6,163.9 382.9,164.2 383.1,162.7 383.3,160.6 383.6,164.7 383.8,160.7 384.1,158.5 384.3,159.8 384.5,161.0 384.8,159.4 385.0,160.8 385.3,160.1 385.5,163.5 385.7,165.0 386.0,160.3 386.2,161.1 386.5,161.7 386.7,161.2 386.9,157.7 387.2,155.4 387.4,155.7 387.7,155.7 387.9,156.5 388.1,157.9 388.4,159.6 388.6,158.3 388.9,158.1 389.1,159.0 389.3,158.6 389.6,155.6 389.8,154.8 390.1,155.5 390.3,154.0 390.5,153.4 390.8,154.2 391.0,155.0 391.3,157.9 391.5,158.8 391.7,157.9 392.0,157.6 392.2,154.4 392.5,153.4 392.7,151.8 392.9,149.1 393.2,148.9 393.4,149.2 393.7,152.0 393.9,150.0 394.1,149.3 394.4,149.7 394.6,148.2 394.9,138.4 395.1,128.6 395.3,118.8 395.6,109.0 395.8,100.7 396.1,109.1 396.3,117.5 396.5,125.9 396.8,134.3 397.0,134.6 397.3,133.6 397.5,137.0 397.7,136.3 398.0,133.7 398.2,134.2 398.5,133.9 398.7,136.2 398.9,135.4 399.2,135.4 399.4,137.5 399.7,136.8 399.9,137.3 400.1,137.1 400.4,136.8 400.6,136.9 400.9,136.5 401.1,137.6 401.3,138.2 401.6,139.3 401.8,138.0 402.1,139.6 402.3,139.0 402.5,139.4 402.8,140.3 403.0,140.7 403.3,142.0 403.5,142.1 403.7,143.4 404.0,144.7 404.2,146.5 404.5,147.4 404.7,147.4 404.9,148.4 405.2,149.5 405.4,151.1 405.7,154.6 405.9,155.9 406.1,156.4 406.4,156.8 406.6,155.7 406.9,154.8 407.1,154.8 407.3,155.3 407.6,156.2 407.8,158.5 408.1,160.3 408.3,161.9 408.5,164.7 408.8,164.4 409.0,163.0 409.3,166.7 409.5,161.0 409.7,160.2 410.0,159.3 410.2,159.0 410.5,159.5 410.7,161.6 410.9,163.9 411.2,162.9 411.4,164.2 411.7,166.9 411.9,164.4 412.1,164.4 412.4,166.6 412.6,163.5 412.9,160.8 413.1,163.4 413.3,162.0 413.6,163.1 413.8,164.9 414.1,165.8 414.3,167.8 414.5,167.2 414.8,165.9 415.0,166.1 415.3,166.2 415.5,165.5 415.7,162.5 416.0,162.7 416.2,164.7 416.5,162.4 416.7,168.2 416.9,166.0 417.2,165.0 417.4,167.8 417.7,165.5 417.9,169.6 418.1,166.8 418.4,165.5 418.6,164.1 418.9,167.5 419.1,166.2 419.3,163.7 419.6,163.2 419.8,165.3 420.1,168.2 420.3,167.3 420.5,168.3 420.8,165.7 421.0,166.0 421.3,166.9 421.5,166.4 421.7,164.2 422.0,166.3 422.2,166.3 422.5,163.2 422.7,166.6 422.9,166.6 423.2,163.3 423.4,163.6 423.7,164.6 423.9,164.5 424.1,168.5 424.4,166.8 424.6,163.9 424.9,163.7 425.1,165.7 425.3,166.5 425.6,166.3 425.8,168.1 426.1,166.3 426.3,165.5 426.5,165.3 426.8,168.1 427.0,164.5 427.3,163.7 427.5,168.2 427.7,163.8 428.0,166.3 428.2,164.0 428.5,165.6 428.7,164.6 428.9,167.2 429.2,166.7 429.4,166.4 429.7,165.6 429.9,169.3 430.1,167.2 430.4,167.8 430.6,165.4 430.9,166.0 431.1,163.2 431.3,166.6 431.6,167.7 431.8,168.8 432.1,165.1 432.3,169.6 432.5,163.4 432.8,165.3 433.0,163.6 433.3,165.3 433.5,163.8 433.7,164.2 434.0,166.8 434.2,164.1 434.5,170.3 434.7,166.2 434.9,161.5 435.2,164.9 435.4,165.7 435.7,164.7 435.9,167.3 436.1,167.4 436.4,162.9 436.6,170.3 436.9,166.5 437.1,162.5 437.3,164.0 437.6,166.1 437.8,165.8 438.1,165.9 438.3,165.0 438.5,166.4 438.8,168.7 439.0,166.9 439.3,166.6 439.5,164.0 439.7,171.1 440.0,167.2 440.2,169.1 440.5,166.6 440.7,165.5 440.9,163.2 441.2,166.9 441.4,167.1 441.7,160.6 441.9,165.2 442.1,165.0 442.4,163.8 442.6,165.2 442.9,168.8" fill="none" stroke="#1f68b1" stroke-width="1.2" stroke-linejoin="round"/>
<polyline points="221.1,192.4 221.3,190.9 221.6,192.3 221.8,190.6 222.1,188.5 222.3,190.7 222.5,187.4 222.8,191.2 223.0,193.0 223.3,190.1 223.5,188.6 223.7,191.3 224.0,188.2 224.2,191.9 224.5,188.4 224.7,189.9 224.9,187.4 225.2,187.7 225.4,191.2 225.7,190.7 225.9,188.6 226.1,187.4 226.4,191.2 226.6,190.3 226.9,189.8 227.1,190.6 227.3,188.4 227.6,189.6 227.8,188.5 228.1,189.2 228.3,189.8 228.5,190.4 228.8,187.5 229.0,187.6 229.3,188.6 229.5,190.3 229.7,188.0 230.0,189.9 230.2,188.7 230.5,190.0 230.7,187.5 230.9,190.7 231.2,189.9 231.4,188.5 231.7,190.2 231.9,193.6 232.1,190.5 232.4,190.2 232.6,188.9 232.9,186.9 233.1,190.3 233.3,186.6 233.6,193.6 233.8,189.0 234.1,188.8 234.3,186.8 234.5,188.4 234.8,192.9 235.0,187.1 235.3,187.0 235.5,189.3 235.7,186.5 236.0,187.1 236.2,188.9 236.5,190.9 236.7,190.0 236.9,186.4 237.2,186.4 237.4,187.7 237.7,189.5 237.9,186.6 238.1,190.1 238.4,186.4 238.6,189.4 238.9,193.0 239.1,189.0 239.3,187.1 239.6,187.1 239.8,185.0 240.1,186.5 240.3,188.9 240.5,186.9 240.8,189.8 241.0,188.4 241.3,189.2 241.5,191.1 241.7,188.7 242.0,187.7 242.2,188.9 242.5,187.3 242.7,188.8 242.9,188.0 243.2,187.2 243.4,189.4 243.7,188.4 243.9,185.8 244.1,188.2 244.4,187.0 244.6,186.8 244.9,186.3 245.1,188.1 245.3,186.2 245.6,191.5 245.8,189.3 246.1,188.9 246.3,189.6 246.5,187.8 246.8,186.0 247.0,185.8 247.3,183.4 247.5,185.0 247.7,183.4 248.0,187.1 248.2,186.5 248.5,187.5 248.7,188.0 248.9,189.8 249.2,188.0 249.4,188.3 249.7,186.7 249.9,187.4 250.1,185.8 250.4,186.0 250.6,185.0 250.9,185.1 251.1,184.1 251.3,187.1 251.6,187.8 251.8,187.7 252.1,187.1 252.3,190.4 252.5,188.2 252.8,185.8 253.0,183.9 253.3,187.5 253.5,183.3 253.7,181.9 254.0,185.5 254.2,184.0 254.5,185.5 254.7,189.4 254.9,189.8 255.2,187.2 255.4,188.3 255.7,185.4 255.9,184.0 256.1,184.1 256.4,184.0 256.6,184.4 256.9,183.4 257.1,182.4 257.3,185.3 257.6,183.2 257.8,184.6 258.1,185.7 258.3,184.7 258.5,183.6 258.8,183.3 259.0,182.7 259.3,181.9 259.5,179.3 259.7,180.2 260.0,180.4 260.2,180.7 260.5,181.3 260.7,182.1 260.9,184.6 261.2,182.8 261.4,182.1 261.7,181.0 261.9,179.8 262.1,177.3 262.4,163.8 262.6,150.2 262.9,142.3 263.1,151.3 263.3,160.4 263.6,166.7 263.8,167.6 264.1,169.0 264.3,169.3 264.5,170.3 264.8,169.3 265.0,169.3 265.3,171.3 265.5,170.3 265.7,172.2 266.0,171.7 266.2,172.7 266.5,171.5 266.7,173.3 266.9,174.6 267.2,174.8 267.4,174.5 267.7,176.7 267.9,176.4 268.1,177.2 268.4,178.7 268.6,179.6 268.9,180.4 269.1,182.1 269.3,182.5 269.6,183.1 269.8,185.8 270.1,185.5 270.3,185.8 270.5,187.4 270.8,186.3 271.0,189.4 271.3,188.3 271.5,187.8 271.7,188.4 272.0,185.4 272.2,185.8 272.5,184.3 272.7,185.0 272.9,184.5 273.2,184.6 273.4,182.0 273.7,185.3 273.9,186.7 274.1,186.8 274.4,187.9 274.6,187.9 274.9,187.7 275.1,187.7 275.3,189.0 275.6,186.3 275.8,185.3 276.1,184.8 276.3,185.8 276.5,183.3 276.8,186.2 277.0,185.3 277.3,186.8 277.5,188.4 277.7,188.9 278.0,187.0 278.2,186.8 278.5,190.1 278.7,189.1 278.9,188.4 279.2,186.6 279.4,183.4 279.7,187.5 279.9,183.4 280.1,185.6 280.4,184.3 280.6,187.3 280.9,185.6 281.1,186.3 281.3,191.7 281.6,190.8 281.8,187.2 282.1,188.4 282.3,190.2 282.5,188.1 282.8,187.8 283.0,182.0 283.3,185.2 283.5,183.9 283.7,184.1 284.0,183.9 284.2,188.5 284.5,184.7 284.7,188.1 284.9,187.1 285.2,190.0 285.4,189.0 285.7,188.6 285.9,184.5 286.1,186.7 286.4,182.2 286.6,184.1 286.9,182.3 287.1,183.4 287.3,181.7 287.6,185.1 287.8,189.3 288.1,189.5 288.3,190.2 288.5,190.5 288.8,192.5 289.0,187.6 289.3,184.5 289.5,183.8 289.7,182.9 290.0,187.0 290.2,188.2 290.5,186.5 290.7,184.8 290.9,187.2 291.2,184.8 291.4,184.2 291.7,186.3 291.9,186.2 292.1,185.5 292.4,182.4 292.6,187.8 292.9,185.0 293.1,186.0 293.3,185.4 293.6,185.6 293.8,185.6 294.1,185.9 294.3,183.5 294.5,185.2 294.8,185.3 295.0,185.5 295.3,184.9 295.5,183.8 295.7,184.5 296.0,186.5 296.2,182.2 296.5,183.2 296.7,183.6 296.9,182.5 297.2,183.4 297.4,183.0 297.7,181.2 297.9,181.5 298.1,180.3 298.4,179.9 298.6,181.0 298.9,180.3 299.1,179.1 299.3,180.3 299.6,179.3 299.8,178.7 300.1,177.6 300.3,179.7 300.5,177.5 300.8,176.3 301.0,177.6 301.3,176.9 301.5,176.4 301.7,175.1 302.0,175.7 302.2,174.6 302.5,175.8 302.7,174.8 302.9,173.2 303.2,173.1 303.4,173.1 303.7,172.2 303.9,174.7 304.1,171.9 304.4,172.6 304.6,172.5 304.9,175.4 305.1,174.6 305.3,174.4 305.6,174.6 305.8,176.6 306.1,176.8 306.3,178.1 306.5,179.1 306.8,178.3 307.0,178.9 307.3,179.5 307.5,179.6 307.7,180.2 308.0,180.5 308.2,181.1 308.5,180.1 308.7,181.8 308.9,181.8 309.2,180.8 309.4,182.9 309.7,182.8 309.9,183.6 310.1,182.9 310.4,184.4 310.6,184.7 310.9,185.0 311.1,186.6 311.3,187.5 311.6,185.2 311.8,184.2 312.1,188.0 312.3,183.0 312.5,189.1 312.8,187.8 313.0,185.4 313.3,185.6 313.5,185.7 313.7,185.5 314.0,185.0 314.2,187.6 314.5,186.4 314.7,188.0 314.9,187.3 315.2,185.2 315.4,188.5 315.7,189.4 315.9,187.8 316.1,187.1 316.4,187.8 316.6,188.0 316.9,186.8 317.1,187.0 317.3,189.0 317.6,190.4 317.8,187.4 318.1,187.4 318.3,188.4 318.5,187.7 318.8,190.0 319.0,188.2 319.3,186.6 319.5,188.2 319.7,187.8 320.0,189.0 320.2,184.7 320.5,187.9 320.7,187.5 320.9,184.8 321.2,188.5 321.4,186.7 321.7,191.6 321.9,190.7 322.1,189.7 322.4,189.1 322.6,191.4 322.9,192.4 323.1,188.0 323.3,188.5 323.6,186.9 323.8,188.6 324.1,189.6 324.3,187.2 324.5,189.6 324.8,186.7 325.0,190.1 325.3,189.5 325.5,191.8 325.7,187.8 326.0,192.6 326.2,186.4 326.5,187.6 326.7,188.5 326.9,186.3 327.2,187.3 327.4,186.0 327.7,188.6 327.9,190.2 328.1,188.9 328.4,188.4 328.6,188.3 328.9,189.0 329.1,190.3 329.3,189.0 329.6,187.6 329.8,186.9 330.1,187.6 330.3,188.5 330.5,188.5 330.8,188.3 331.0,188.7 331.3,188.2 331.5,190.0 331.7,189.4 332.0,190.1 332.2,190.2 332.5,189.0 332.7,187.0 332.9,189.0 333.2,187.1 333.4,190.8 333.7,193.1 333.9,187.5 334.1,189.3 334.4,189.8 334.6,190.1 334.9,189.3 335.1,188.3 335.3,188.7 335.6,192.6 335.8,191.7 336.1,187.5 336.3,188.5 336.5,188.5 336.8,190.2 337.0,191.5 337.3,188.5 337.5,190.0 337.7,189.7 338.0,190.4 338.2,189.7 338.5,190.2 338.7,192.3 338.9,190.2 339.2,188.9 339.4,188.6 339.7,189.0 339.9,187.4 340.1,189.3 340.4,189.2 340.6,188.1 340.9,189.1 341.1,189.4 341.3,186.3 341.6,193.2 341.8,187.9 342.1,190.5 342.3,187.6 342.5,190.7 342.8,191.2 343.0,190.1 343.3,188.4 343.5,192.2 343.7,188.3 344.0,189.0 344.2,188.9 344.5,190.3 344.7,189.1 344.9,188.5 345.2,190.4 345.4,188.4 345.7,194.2 345.9,188.9 346.1,189.1 346.4,189.9 346.6,191.5 346.9,191.5 347.1,194.0 347.3,187.7 347.6,188.5 347.8,191.1 348.1,189.0 348.3,189.0 348.5,187.4 348.8,190.9 349.0,191.2 349.3,187.1 349.5,189.2 349.7,191.0 350.0,189.9 350.2,188.6 350.5,187.6 350.7,189.7 350.9,189.7 351.2,189.2 351.4,193.9 351.7,191.7 351.9,188.7 352.1,189.5 352.4,190.3 352.6,189.2 352.9,187.4 353.1,189.4 353.3,188.5 353.6,190.1 353.8,192.1 354.1,188.9 354.3,190.9 354.5,188.2 354.8,192.2 355.0,193.3 355.3,187.8 355.5,189.9 355.7,189.8 356.0,193.2 356.2,189.0 356.5,188.7 356.7,190.0 356.9,191.5 357.2,190.5 357.4,187.7 357.7,187.2 357.9,190.1 358.1,189.9 358.4,189.2 358.6,188.8 358.9,188.0 359.1,188.8 359.3,190.0 359.6,190.3 359.8,190.8 360.1,188.0 360.3,188.1 360.5,191.6 360.8,189.0 361.0,187.5 361.3,188.1 361.5,187.9 361.7,191.4 362.0,191.1 362.2,189.0 362.5,192.7 362.7,192.4 362.9,188.3 363.2,189.3 363.4,193.2 363.7,190.5 363.9,192.5 364.1,188.4 364.4,191.5 364.6,191.5 364.9,189.7 365.1,189.3 365.3,191.5 365.6,187.6 365.8,188.7 366.1,190.7 366.3,189.8 366.5,191.3 366.8,188.4 367.0,188.8 367.3,189.8 367.5,190.7 367.7,190.7 368.0,187.4 368.2,188.5 368.5,192.8 368.7,190.2 368.9,191.0 369.2,189.4 369.4,189.1 369.7,189.4 369.9,187.8 370.1,192.7 370.4,193.4 370.6,188.8 370.9,191.3 371.1,188.4 371.3,187.7 371.6,189.2 371.8,188.1 372.1,187.7 372.3,188.0 372.5,191.1 372.8,188.5 373.0,193.7 373.3,187.4 373.5,193.4 373.7,188.3 374.0,189.1 374.2,188.5 374.5,192.0 374.7,187.8 374.9,187.8 375.2,188.9 375.4,194.2 375.7,187.5 375.9,189.0 376.1,191.4 376.4,192.5 376.6,189.5 376.9,189.3 377.1,188.6 377.3,188.0 377.6,188.1 377.8,190.3 378.1,188.5 378.3,189.5 378.5,190.6 378.8,190.0 379.0,190.7 379.3,190.6 379.5,188.0 379.7,188.9 380.0,187.6 380.2,185.1 380.5,184.5 380.7,187.1 380.9,184.3 381.2,186.8 381.4,189.0 381.7,188.5 381.9,189.9 382.1,188.4 382.4,188.9 382.6,189.6 382.9,185.4 383.1,183.1 383.3,183.8 383.6,182.8 383.8,185.0 384.1,184.9 384.3,186.2 384.5,186.0 384.8,185.8 385.0,187.5 385.3,187.1 385.5,185.0 385.7,183.8 386.0,181.6 386.2,181.8 386.5,180.8 386.7,182.5 386.9,182.0 387.2,183.5 387.4,186.8 387.7,185.5 387.9,185.9 388.1,185.2 388.4,183.7 388.6,182.1 388.9,181.2 389.1,180.6 389.3,178.5 389.6,179.8 389.8,179.2 390.1,179.6 390.3,180.7 390.5,182.7 390.8,182.6 391.0,180.1 391.3,182.9 391.5,182.5 391.7,179.2 392.0,178.2 392.2,176.7 392.5,173.9 392.7,174.7 392.9,176.1 393.2,176.0 393.4,176.3 393.7,175.0 393.9,175.2 394.1,174.9 394.4,174.3 394.6,172.7 394.9,163.0 395.1,153.3 395.3,143.6 395.6,133.9 395.8,125.8 396.1,135.7 396.3,145.5 396.5,155.3 396.8,165.2 397.0,165.4 397.3,165.0 397.5,167.9 397.7,165.6 398.0,165.1 398.2,166.6 398.5,169.0 398.7,167.1 398.9,167.7 399.2,166.1 399.4,167.2 399.7,167.9 399.9,166.5 400.1,167.2 400.4,168.3 400.6,167.7 400.9,167.8 401.1,168.1 401.3,169.5 401.6,168.8 401.8,168.9 402.1,170.2 402.3,170.8 402.5,170.8 402.8,171.7 403.0,172.5 403.3,172.3 403.5,173.1 403.7,173.0 404.0,174.4 404.2,174.2 404.5,175.6 404.7,175.5 404.9,175.8 405.2,177.0 405.4,177.2 405.7,179.9 405.9,181.9 406.1,181.5 406.4,180.7 406.6,180.8 406.9,180.6 407.1,179.1 407.3,180.5 407.6,182.0 407.8,182.3 408.1,185.0 408.3,186.3 408.5,189.3 408.8,188.2 409.0,188.7 409.3,189.0 409.5,188.2 409.7,184.6 410.0,184.8 410.2,184.3 410.5,185.1 410.7,186.2 410.9,188.2 411.2,189.1 411.4,188.2 411.7,187.8 411.9,190.7 412.1,191.3 412.4,187.2 412.6,186.7 412.9,187.0 413.1,186.6 413.3,185.1 413.6,188.5 413.8,189.9 414.1,191.2 414.3,192.9 414.5,190.2 414.8,193.0 415.0,189.7 415.3,190.0 415.5,191.1 415.7,189.1 416.0,186.6 416.2,185.4 416.5,185.5 416.7,186.8 416.9,192.3 417.2,190.1 417.4,191.8 417.7,194.4 417.9,192.9 418.1,188.9 418.4,189.5 418.6,190.3 418.9,188.5 419.1,195.2 419.3,189.9 419.6,191.7 419.8,189.0 420.1,191.3 420.3,191.5 420.5,190.9 420.8,190.6 421.0,191.1 421.3,187.8 421.5,189.0 421.7,188.9 422.0,190.2 422.2,188.1 422.5,188.1 422.7,187.7 422.9,189.8 423.2,190.1 423.4,191.8 423.7,189.3 423.9,190.5 424.1,187.9 424.4,187.6 424.6,190.7 424.9,187.9 425.1,191.2 425.3,188.3 425.6,189.4 425.8,188.5 426.1,190.3 426.3,188.0 426.5,191.8 426.8,188.4 427.0,188.1 427.3,191.6 427.5,189.4 427.7,191.5 428.0,189.0 428.2,191.6 428.5,192.2 428.7,189.0 428.9,190.0 429.2,188.2 429.4,190.0 429.7,187.7 429.9,190.8 430.1,189.2 430.4,189.5 430.6,190.2 430.9,192.2 431.1,192.3 431.3,188.5 431.6,190.3 431.8,189.3 432.1,194.2 432.3,191.7 432.5,188.8 432.8,192.9 433.0,190.8 433.3,188.8 433.5,189.9 433.7,190.9 434.0,189.8 434.2,190.1 434.5,192.4 434.7,188.3 434.9,192.4 435.2,192.2 435.4,191.1 435.7,191.6 435.9,189.5 436.1,188.8 436.4,187.5 436.6,195.2 436.9,189.5 437.1,190.9 437.3,189.2 437.6,189.3 437.8,192.7 438.1,190.1 438.3,192.5 438.5,191.7 438.8,189.8 439.0,188.5 439.3,187.8 439.5,191.4 439.7,190.1 440.0,193.4 440.2,188.9 440.5,190.6 440.7,190.3 440.9,189.1 441.2,188.2 441.4,189.4 441.7,192.6 441.9,187.9 442.1,187.9 442.4,191.1 442.6,190.4 442.9,188.3" fill="none" stroke="#4a94c8" stroke-width="1.2" stroke-linejoin="round"/>
<polyline points="221.1,215.9 221.3,217.2 221.6,216.5 221.8,214.7 222.1,218.7 222.3,218.5 222.5,216.6 222.8,214.6 223.0,218.2 223.3,218.1 223.5,216.2 223.7,217.4 224.0,220.8 224.2,219.0 224.5,218.1 224.7,217.9 224.9,215.0 225.2,215.9 225.4,218.3 225.7,215.6 225.9,218.5 226.1,218.9 226.4,216.2 226.6,217.6 226.9,220.2 227.1,218.9 227.3,215.3 227.6,217.7 227.8,215.0 228.1,216.2 228.3,220.4 228.5,218.0 228.8,218.0 229.0,219.4 229.3,217.6 229.5,215.4 229.7,216.2 230.0,215.9 230.2,216.4 230.5,219.2 230.7,219.7 230.9,214.4 231.2,217.2 231.4,214.7 231.7,220.0 231.9,216.6 232.1,214.5 232.4,214.4 232.6,214.8 232.9,215.4 233.1,217.3 233.3,213.9 233.6,218.4 233.8,216.2 234.1,215.9 234.3,216.5 234.5,214.2 234.8,216.6 235.0,214.0 235.3,216.3 235.5,214.5 235.7,218.4 236.0,215.6 236.2,216.7 236.5,213.4 236.7,217.0 236.9,215.3 237.2,217.7 237.4,215.5 237.7,216.8 237.9,214.2 238.1,216.9 238.4,213.4 238.6,214.5 238.9,216.2 239.1,214.6 239.3,215.1 239.6,215.5 239.8,214.4 240.1,215.7 240.3,215.0 240.5,214.1 240.8,215.1 241.0,216.1 241.3,213.5 241.5,215.7 241.7,215.2 242.0,216.4 242.2,216.5 242.5,215.9 242.7,213.1 242.9,216.3 243.2,213.4 243.4,216.3 243.7,219.3 243.9,214.2 244.1,213.8 244.4,215.4 244.6,212.0 244.9,213.2 245.1,210.6 245.3,210.4 245.6,214.8 245.8,216.0 246.1,217.3 246.3,216.7 246.5,218.4 246.8,215.3 247.0,214.4 247.3,214.8 247.5,212.1 247.7,211.0 248.0,211.0 248.2,213.3 248.5,210.8 248.7,209.9 248.9,214.0 249.2,218.0 249.4,217.2 249.7,215.7 249.9,214.0 250.1,216.0 250.4,216.2 250.6,216.4 250.9,212.7 251.1,211.8 251.3,212.1 251.6,210.9 251.8,213.4 252.1,213.8 252.3,214.3 252.5,215.4 252.8,213.7 253.0,211.9 253.3,214.2 253.5,212.5 253.7,209.9 254.0,211.8 254.2,207.5 254.5,211.5 254.7,214.5 254.9,212.5 255.2,212.9 255.4,214.4 255.7,215.3 255.9,215.4 256.1,214.3 256.4,215.7 256.6,211.0 256.9,208.4 257.1,211.1 257.3,210.8 257.6,211.6 257.8,211.8 258.1,212.7 258.3,215.4 258.5,215.0 258.8,214.1 259.0,211.1 259.3,211.6 259.5,210.2 259.7,209.9 260.0,209.3 260.2,207.6 260.5,211.2 260.7,210.7 260.9,211.7 261.2,212.6 261.4,212.7 261.7,211.5 261.9,208.9 262.1,206.8 262.4,195.2 262.6,183.7 262.9,176.9 263.1,184.4 263.3,192.0 263.6,197.3 263.8,198.2 264.1,199.4 264.3,199.2 264.5,201.2 264.8,200.7 265.0,202.8 265.3,201.0 265.5,203.0 265.7,203.9 266.0,202.4 266.2,202.9 266.5,202.3 266.7,203.3 266.9,203.9 267.2,204.8 267.4,205.3 267.7,206.0 267.9,206.9 268.1,208.0 268.4,207.8 268.6,209.6 268.9,209.0 269.1,210.0 269.3,211.1 269.6,210.4 269.8,211.9 270.1,212.6 270.3,213.2 270.5,211.1 270.8,210.8 271.0,211.8 271.3,210.9 271.5,217.3 271.7,215.8 272.0,216.8 272.2,216.2 272.5,216.4 272.7,214.3 272.9,216.7 273.2,211.4 273.4,213.8 273.7,213.5 273.9,212.4 274.1,212.0 274.4,208.9 274.6,211.6 274.9,213.0 275.1,216.3 275.3,215.1 275.6,214.3 275.8,215.9 276.1,216.4 276.3,212.9 276.5,214.4 276.8,211.0 277.0,211.4 277.3,211.6 277.5,212.5 277.7,214.4 278.0,213.2 278.2,213.4 278.5,212.0 278.7,213.3 278.9,216.5 279.2,217.5 279.4,214.2 279.7,218.8 279.9,214.2 280.1,212.4 280.4,210.1 280.6,209.3 280.9,210.9 281.1,212.9 281.3,208.7 281.6,213.1 281.8,215.5 282.1,214.0 282.3,217.5 282.5,214.7 282.8,214.9 283.0,218.9 283.3,214.6 283.5,213.0 283.7,212.0 284.0,212.3 284.2,211.7 284.5,213.2 284.7,210.9 284.9,212.9 285.2,213.1 285.4,214.8 285.7,215.4 285.9,217.4 286.1,214.9 286.4,218.4 286.6,214.3 286.9,214.5 287.1,216.7 287.3,215.3 287.6,210.1 287.8,210.3 288.1,213.1 288.3,216.7 288.5,215.3 288.8,217.0 289.0,216.4 289.3,217.0 289.5,214.4 289.7,216.0 290.0,213.1 290.2,213.8 290.5,211.7 290.7,215.8 290.9,214.0 291.2,216.1 291.4,214.5 291.7,211.4 291.9,214.4 292.1,213.5 292.4,213.3 292.6,212.8 292.9,213.7 293.1,212.8 293.3,211.5 293.6,210.4 293.8,212.2 294.1,211.9 294.3,212.5 294.5,212.4 294.8,211.3 295.0,214.1 295.3,210.8 295.5,211.8 295.7,213.5 296.0,210.6 296.2,211.7 296.5,209.8 296.7,210.1 296.9,210.5 297.2,209.4 297.4,210.5 297.7,209.5 297.9,207.6 298.1,209.5 298.4,206.8 298.6,208.5 298.9,206.5 299.1,206.0 299.3,206.5 299.6,205.7 299.8,205.5 300.1,204.1 300.3,205.1 300.5,204.4 300.8,203.5 301.0,202.3 301.3,201.7 301.5,203.6 301.7,201.7 302.0,200.4 302.2,201.8 302.5,199.4 302.7,201.8 302.9,199.2 303.2,200.0 303.4,198.4 303.7,198.2 303.9,197.6 304.1,196.8 304.4,198.9 304.6,199.6 304.9,200.6 305.1,200.5 305.3,201.4 305.6,201.7 305.8,201.3 306.1,202.7 306.3,203.4 306.5,203.7 306.8,203.7 307.0,204.8 307.3,204.9 307.5,206.8 307.7,205.7 308.0,206.4 308.2,207.4 308.5,207.7 308.7,208.1 308.9,208.1 309.2,208.8 309.4,208.0 309.7,208.8 309.9,209.2 310.1,211.6 310.4,211.6 310.6,211.2 310.9,211.9 311.1,212.1 311.3,213.8 311.6,215.5 311.8,216.6 312.1,212.3 312.3,212.8 312.5,215.4 312.8,213.7 313.0,213.6 313.3,216.8 313.5,213.1 313.7,214.6 314.0,214.6 314.2,214.3 314.5,213.4 314.7,213.5 314.9,213.1 315.2,213.8 315.4,215.2 315.7,215.7 315.9,215.7 316.1,215.6 316.4,213.6 316.6,216.4 316.9,213.8 317.1,215.7 317.3,214.0 317.6,216.3 317.8,216.9 318.1,214.3 318.3,217.2 318.5,214.0 318.8,217.4 319.0,213.9 319.3,213.6 319.5,220.8 319.7,215.1 320.0,220.2 320.2,218.5 320.5,214.0 320.7,216.6 320.9,216.9 321.2,215.5 321.4,215.8 321.7,215.7 321.9,220.8 322.1,217.3 322.4,215.2 322.6,213.4 322.9,218.3 323.1,218.7 323.3,217.9 323.6,216.8 323.8,215.6 324.1,214.6 324.3,214.9 324.5,220.0 324.8,214.4 325.0,215.3 325.3,214.8 325.5,214.3 325.7,214.4 326.0,212.5 326.2,213.0 326.5,211.9 326.7,213.7 326.9,212.4 327.2,211.5 327.4,211.6 327.7,212.1 327.9,209.9 328.1,210.2 328.4,210.5 328.6,210.7 328.9,210.3 329.1,210.4 329.3,209.8 329.6,211.7 329.8,212.1 330.1,212.6 330.3,212.9 330.5,212.9 330.8,213.8 331.0,214.0 331.3,213.9 331.5,215.1 331.7,215.6 332.0,216.0 332.2,218.9 332.5,215.4 332.7,215.8 332.9,215.7 333.2,220.5 333.4,215.1 333.7,214.7 333.9,217.4 334.1,214.8 334.4,216.9 334.6,218.3 334.9,216.4 335.1,218.1 335.3,217.4 335.6,217.1 335.8,217.0 336.1,216.1 336.3,215.0 336.5,213.2 336.8,217.1 337.0,218.6 337.3,217.4 337.5,217.1 337.7,216.5 338.0,215.8 338.2,217.3 338.5,222.0 338.7,218.4 338.9,219.4 339.2,220.6 339.4,216.1 339.7,217.2 339.9,218.6 340.1,215.6 340.4,215.6 340.6,215.3 340.9,218.0 341.1,215.7 341.3,216.8 341.6,219.7 341.8,217.7 342.1,218.0 342.3,215.6 342.5,218.5 342.8,217.1 343.0,217.0 343.3,218.9 343.5,219.6 343.7,216.4 344.0,218.7 344.2,215.7 344.5,217.6 344.7,219.0 344.9,218.4 345.2,216.7 345.4,217.3 345.7,218.9 345.9,218.5 346.1,217.5 346.4,216.1 346.6,215.8 346.9,222.3 347.1,216.2 347.3,218.8 347.6,218.3 347.8,218.2 348.1,217.3 348.3,215.7 348.5,221.0 348.8,217.0 349.0,218.1 349.3,218.7 349.5,215.9 349.7,219.1 350.0,221.6 350.2,216.9 350.5,218.4 350.7,217.3 350.9,218.8 351.2,221.1 351.4,217.8 351.7,219.0 351.9,215.5 352.1,215.7 352.4,218.2 352.6,217.6 352.9,216.2 353.1,217.3 353.3,219.8 353.6,217.9 353.8,215.8 354.1,215.6 354.3,216.0 354.5,218.6 354.8,216.5 355.0,218.4 355.3,219.2 355.5,218.8 355.7,220.3 356.0,219.4 356.2,219.6 356.5,216.1 356.7,219.4 356.9,216.1 357.2,215.5 357.4,218.1 357.7,217.2 357.9,213.7 358.1,217.0 358.4,221.0 358.6,219.7 358.9,218.0 359.1,223.2 359.3,218.4 359.6,218.2 359.8,216.7 360.1,217.8 360.3,221.5 360.5,219.6 360.8,219.6 361.0,218.5 361.3,216.5 361.5,217.3 361.7,218.3 362.0,219.3 362.2,216.6 362.5,219.6 362.7,216.2 362.9,218.1 363.2,217.6 363.4,218.3 363.7,216.8 363.9,218.9 364.1,219.3 364.4,215.7 364.6,217.4 364.9,218.8 365.1,217.3 365.3,217.6 365.6,219.2 365.8,218.9 366.1,218.4 366.3,219.8 366.5,218.4 366.8,217.0 367.0,219.6 367.3,215.7 367.5,217.4 367.7,217.5 368.0,217.0 368.2,219.2 368.5,215.7 368.7,217.3 368.9,219.6 369.2,220.2 369.4,217.7 369.7,217.7 369.9,219.5 370.1,216.7 370.4,216.9 370.6,217.7 370.9,216.8 371.1,219.7 371.3,221.0 371.6,217.2 371.8,218.6 372.1,219.1 372.3,216.3 372.5,218.4 372.8,216.6 373.0,217.2 373.3,215.9 373.5,214.1 373.7,218.7 374.0,221.7 374.2,220.0 374.5,219.5 374.7,217.5 374.9,219.8 375.2,220.8 375.4,219.9 375.7,218.9 375.9,218.0 376.1,216.7 376.4,213.5 376.6,213.7 376.9,216.8 377.1,215.2 377.3,216.1 377.6,217.5 377.8,219.0 378.1,219.1 378.3,221.0 378.5,216.1 378.8,215.0 379.0,214.8 379.3,213.8 379.5,214.0 379.7,213.6 380.0,213.5 380.2,216.9 380.5,220.7 380.7,216.7 380.9,218.6 381.2,216.3 381.4,217.8 381.7,218.0 381.9,214.1 382.1,212.8 382.4,214.6 382.6,211.2 382.9,211.6 383.1,215.3 383.3,214.3 383.6,216.2 383.8,217.6 384.1,215.6 384.3,214.0 384.5,213.1 384.8,213.7 385.0,210.3 385.3,208.7 385.5,209.4 385.7,209.4 386.0,209.9 386.2,214.8 386.5,211.8 386.7,214.1 386.9,213.2 387.2,213.9 387.4,213.2 387.7,210.4 387.9,209.7 388.1,208.7 388.4,207.7 388.6,206.2 388.9,208.9 389.1,210.4 389.3,210.1 389.6,209.6 389.8,214.4 390.1,209.5 390.3,209.7 390.5,210.4 390.8,208.1 391.0,206.9 391.3,205.7 391.5,205.7 391.7,205.2 392.0,204.9 392.2,206.6 392.5,207.7 392.7,207.2 392.9,208.1 393.2,205.3 393.4,204.6 393.7,204.0 393.9,202.4 394.1,201.8 394.4,202.2 394.6,200.8 394.9,190.4 395.1,180.1 395.3,169.8 395.6,159.5 395.8,151.0 396.1,163.3 396.3,175.5 396.5,187.7 396.8,200.0 397.0,200.9 397.3,202.5 397.5,202.0 397.7,201.0 398.0,201.8 398.2,202.0 398.5,205.9 398.7,203.3 398.9,202.1 399.2,205.5 399.4,205.9 399.7,201.8 399.9,202.8 400.1,204.5 400.4,203.1 400.6,202.4 400.9,202.4 401.1,202.6 401.3,204.7 401.6,204.8 401.8,204.7 402.1,204.9 402.3,206.1 402.5,206.3 402.8,207.8 403.0,206.5 403.3,206.9 403.5,207.6 403.7,206.9 404.0,207.5 404.2,210.9 404.5,207.9 404.7,207.0 404.9,209.9 405.2,209.1 405.4,206.5 405.7,208.3 405.9,212.0 406.1,210.3 406.4,213.6 406.6,211.5 406.9,211.0 407.1,210.0 407.3,209.3 407.6,210.4 407.8,209.3 408.1,209.4 408.3,211.7 408.5,212.4 408.8,214.1 409.0,215.8 409.3,217.8 409.5,217.8 409.7,217.6 410.0,216.8 410.2,216.4 410.5,215.2 410.7,214.4 410.9,213.0 411.2,213.7 411.4,214.2 411.7,217.3 411.9,218.1 412.1,218.0 412.4,219.0 412.6,220.9 412.9,218.8 413.1,215.7 413.3,214.8 413.6,216.2 413.8,215.1 414.1,215.9 414.3,218.2 414.5,217.6 414.8,216.8 415.0,217.0 415.3,222.5 415.5,220.7 415.7,221.3 416.0,220.1 416.2,218.5 416.5,216.6 416.7,214.2 416.9,214.9 417.2,219.5 417.4,217.8 417.7,212.9 417.9,218.5 418.1,219.3 418.4,219.0 418.6,218.9 418.9,214.2 419.1,221.9 419.3,216.0 419.6,218.6 419.8,221.2 420.1,218.4 420.3,219.5 420.5,217.0 420.8,218.4 421.0,218.8 421.3,216.6 421.5,220.7 421.7,219.5 422.0,217.1 422.2,217.4 422.5,219.4 422.7,214.6 422.9,217.0 423.2,218.0 423.4,215.9 423.7,218.7 423.9,221.1 424.1,221.6 424.4,221.7 424.6,219.0 424.9,220.5 425.1,221.8 425.3,218.6 425.6,218.8 425.8,219.0 426.1,221.6 426.3,218.2 426.5,216.3 426.8,219.4 427.0,220.7 427.3,217.5 427.5,218.1 427.7,216.9 428.0,216.3 428.2,218.8 428.5,216.1 428.7,218.4 428.9,219.7 429.2,219.6 429.4,216.1 429.7,218.0 429.9,217.9 430.1,216.9 430.4,220.4 430.6,221.0 430.9,217.5 431.1,220.0 431.3,219.6 431.6,217.0 431.8,219.2 432.1,217.9 432.3,219.2 432.5,215.8 432.8,219.1 433.0,219.1 433.3,215.0 433.5,217.6 433.7,217.2 434.0,222.9 434.2,221.3 434.5,215.8 434.7,221.6 434.9,220.5 435.2,216.1 435.4,217.4 435.7,217.4 435.9,217.4 436.1,220.1 436.4,220.7 436.6,218.1 436.9,218.1 437.1,217.7 437.3,223.3 437.6,219.0 437.8,219.0 438.1,219.5 438.3,223.1 438.5,219.9 438.8,217.9 439.0,217.7 439.3,218.8 439.5,218.1 439.7,219.2 440.0,215.7 440.2,219.7 440.5,218.5 440.7,217.2 440.9,218.5 441.2,217.1 441.4,221.3 441.7,217.0 441.9,216.5 442.1,218.9 442.4,220.0 442.6,219.6 442.9,218.7" fill="none" stroke="#94c5e0" stroke-width="1.2" stroke-linejoin="round"/>
<polyline points="221.1,243.5 221.3,243.2 221.6,243.3 221.8,244.9 222.1,244.6 222.3,244.0 222.5,242.5 222.8,245.2 223.0,244.0 223.3,243.5 223.5,243.1 223.7,240.2 224.0,244.0 224.2,240.1 224.5,244.2 224.7,241.3 224.9,243.2 225.2,247.4 225.4,242.7 225.7,243.6 225.9,242.7 226.1,242.3 226.4,243.0 226.6,242.1 226.9,240.5 227.1,246.3 227.3,239.9 227.6,241.3 227.8,244.6 228.1,241.8 228.3,246.6 228.5,241.0 228.8,242.3 229.0,240.5 229.3,242.6 229.5,242.6 229.7,246.5 230.0,243.8 230.2,243.7 230.5,240.3 230.7,244.2 230.9,245.7 231.2,242.3 231.4,242.3 231.7,243.6 231.9,240.9 232.1,242.3 232.4,243.3 232.6,241.6 232.9,240.3 233.1,239.5 233.3,241.5 233.6,241.8 233.8,239.8 234.1,239.3 234.3,241.0 234.5,244.0 234.8,242.9 235.0,242.4 235.3,243.2 235.5,241.7 235.7,242.6 236.0,242.7 236.2,239.4 236.5,240.0 236.7,241.0 236.9,242.3 237.2,240.8 237.4,240.5 237.7,240.8 237.9,240.2 238.1,245.2 238.4,239.8 238.6,242.3 238.9,240.5 239.1,245.3 239.3,239.5 239.6,242.0 239.8,245.5 240.1,242.0 240.3,239.2 240.5,239.4 240.8,242.6 241.0,242.0 241.3,243.1 241.5,240.5 241.7,241.7 242.0,240.8 242.2,239.0 242.5,241.5 242.7,239.0 242.9,239.3 243.2,242.7 243.4,239.5 243.7,245.4 243.9,241.5 244.1,238.8 244.4,238.6 244.6,243.4 244.9,241.9 245.1,243.4 245.3,246.2 245.6,243.3 245.8,240.3 246.1,242.6 246.3,239.9 246.5,237.7 246.8,241.9 247.0,239.1 247.3,240.8 247.5,240.8 247.7,243.0 248.0,243.1 248.2,241.8 248.5,243.8 248.7,240.6 248.9,238.9 249.2,237.5 249.4,238.6 249.7,240.3 249.9,236.2 250.1,241.3 250.4,239.8 250.6,240.9 250.9,242.3 251.1,243.0 251.3,242.5 251.6,242.6 251.8,238.4 252.1,238.9 252.3,239.0 252.5,234.6 252.8,237.1 253.0,237.7 253.3,239.5 253.5,240.7 253.7,241.9 254.0,241.7 254.2,242.8 254.5,244.9 254.7,238.9 254.9,237.7 255.2,237.1 255.4,236.0 255.7,235.3 255.9,238.1 256.1,237.1 256.4,237.5 256.6,239.7 256.9,240.0 257.1,239.6 257.3,239.0 257.6,238.6 257.8,236.9 258.1,234.7 258.3,234.1 258.5,231.8 258.8,231.6 259.0,232.4 259.3,236.1 259.5,234.5 259.7,234.3 260.0,235.5 260.2,235.6 260.5,235.2 260.7,233.4 260.9,230.7 261.2,229.3 261.4,227.7 261.7,231.1 261.9,230.7 262.1,228.3 262.4,215.4 262.6,202.5 262.9,194.9 263.1,203.3 263.3,211.8 263.6,217.7 263.8,218.6 264.1,219.1 264.3,220.8 264.5,221.4 264.8,223.6 265.0,221.4 265.3,220.9 265.5,222.5 265.7,222.5 266.0,221.9 266.2,222.9 266.5,222.3 266.7,224.0 266.9,224.4 267.2,226.6 267.4,226.0 267.7,226.9 267.9,227.7 268.1,228.5 268.4,229.6 268.6,230.8 268.9,231.8 269.1,232.7 269.3,234.1 269.6,235.5 269.8,236.1 270.1,235.5 270.3,236.6 270.5,235.7 270.8,237.7 271.0,234.5 271.3,230.8 271.5,234.0 271.7,234.5 272.0,235.5 272.2,238.5 272.5,240.1 272.7,242.1 272.9,242.3 273.2,238.9 273.4,237.2 273.7,238.6 273.9,236.1 274.1,237.2 274.4,236.0 274.6,234.6 274.9,238.4 275.1,238.7 275.3,235.7 275.6,239.1 275.8,237.5 276.1,239.5 276.3,241.1 276.5,237.9 276.8,241.4 277.0,237.0 277.3,237.2 277.5,234.6 277.7,232.8 278.0,235.2 278.2,235.0 278.5,235.6 278.7,234.3 278.9,239.4 279.2,241.2 279.4,243.1 279.7,236.7 279.9,239.4 280.1,237.4 280.4,237.0 280.6,234.8 280.9,234.6 281.1,233.5 281.3,236.0 281.6,236.1 281.8,237.5 282.1,238.3 282.3,236.8 282.5,241.2 282.8,238.9 283.0,239.7 283.3,239.2 283.5,238.2 283.7,239.7 284.0,235.4 284.2,233.5 284.5,234.5 284.7,234.5 284.9,233.5 285.2,234.3 285.4,237.4 285.7,236.4 285.9,237.1 286.1,243.4 286.4,239.4 286.6,240.8 286.9,242.4 287.1,242.6 287.3,237.0 287.6,235.7 287.8,235.8 288.1,233.6 288.3,235.9 288.5,236.2 288.8,237.1 289.0,237.8 289.3,238.1 289.5,239.9 289.7,245.7 290.0,239.7 290.2,236.3 290.5,237.7 290.7,238.6 290.9,239.1 291.2,235.8 291.4,237.2 291.7,235.2 291.9,235.5 292.1,237.1 292.4,235.2 292.6,237.4 292.9,237.4 293.1,237.3 293.3,235.8 293.6,236.3 293.8,235.5 294.1,236.1 294.3,232.6 294.5,236.4 294.8,235.8 295.0,235.8 295.3,238.1 295.5,234.9 295.7,233.8 296.0,234.9 296.2,235.8 296.5,233.6 296.7,234.1 296.9,233.3 297.2,234.6 297.4,233.3 297.7,232.1 297.9,231.9 298.1,231.2 298.4,232.7 298.6,232.0 298.9,230.9 299.1,231.2 299.3,230.2 299.6,229.2 299.8,231.2 300.1,230.4 300.3,229.2 300.5,229.8 300.8,227.1 301.0,227.4 301.3,227.4 301.5,227.6 301.7,226.5 302.0,226.7 302.2,225.6 302.5,224.7 302.7,225.2 302.9,224.9 303.2,224.6 303.4,222.7 303.7,222.9 303.9,223.8 304.1,222.9 304.4,222.4 304.6,224.0 304.9,224.9 305.1,225.2 305.3,225.9 305.6,226.6 305.8,225.7 306.1,226.4 306.3,227.3 306.5,228.8 306.8,229.4 307.0,229.7 307.3,229.6 307.5,230.6 307.7,231.4 308.0,229.6 308.2,233.0 308.5,232.2 308.7,231.5 308.9,232.8 309.2,233.3 309.4,233.8 309.7,233.6 309.9,234.3 310.1,233.9 310.4,234.9 310.6,234.7 310.9,236.4 311.1,237.1 311.3,238.1 311.6,237.2 311.8,236.7 312.1,238.0 312.3,237.6 312.5,238.9 312.8,238.1 313.0,239.9 313.3,238.0 313.5,238.9 313.7,238.5 314.0,238.4 314.2,238.4 314.5,238.6 314.7,237.7 314.9,239.9 315.2,239.8 315.4,237.3 315.7,238.0 315.9,237.0 316.1,238.8 316.4,239.5 316.6,238.5 316.9,240.2 317.1,240.0 317.3,239.7 317.6,240.4 317.8,241.0 318.1,240.9 318.3,240.2 318.5,240.2 318.8,238.4 319.0,240.3 319.3,237.7 319.5,239.6 319.7,239.4 320.0,240.2 320.2,238.0 320.5,238.5 320.7,239.6 320.9,239.9 321.2,240.9 321.4,237.7 321.7,244.1 321.9,241.0 322.1,239.2 322.4,238.2 322.6,237.6 322.9,237.6 323.1,241.0 323.3,240.1 323.6,239.7 323.8,239.5 324.1,238.2 324.3,240.0 324.5,241.4 324.8,241.9 325.0,241.0 325.3,239.8 325.5,238.6 325.7,238.1 326.0,237.5 326.2,238.8 326.5,237.8 326.7,237.6 326.9,236.5 327.2,236.2 327.4,237.3 327.7,237.9 327.9,236.4 328.1,238.9 328.4,235.6 328.6,237.4 328.9,236.7 329.1,236.8 329.3,235.3 329.6,237.4 329.8,236.4 330.1,237.2 330.3,238.6 330.5,238.3 330.8,239.0 331.0,237.7 331.3,239.3 331.5,238.8 331.7,239.4 332.0,240.5 332.2,241.1 332.5,242.5 332.7,241.8 332.9,241.9 333.2,240.9 333.4,243.2 333.7,241.2 333.9,241.0 334.1,242.6 334.4,241.0 334.6,241.0 334.9,242.6 335.1,240.2 335.3,239.7 335.6,242.9 335.8,240.6 336.1,242.9 336.3,239.7 336.5,241.8 336.8,241.3 337.0,242.5 337.3,242.7 337.5,242.6 337.7,243.8 338.0,240.6 338.2,242.6 338.5,245.3 338.7,243.3 338.9,242.7 339.2,241.7 339.4,243.6 339.7,240.9 339.9,241.4 340.1,243.0 340.4,245.1 340.6,241.3 340.9,245.5 341.1,242.1 341.3,247.1 341.6,245.6 341.8,243.1 342.1,244.9 342.3,244.8 342.5,244.5 342.8,244.2 343.0,242.5 343.3,244.2 343.5,247.8 343.7,243.0 344.0,240.1 344.2,244.6 344.5,244.0 344.7,245.5 344.9,243.0 345.2,243.4 345.4,242.0 345.7,241.8 345.9,242.4 346.1,245.3 346.4,244.1 346.6,244.5 346.9,243.5 347.1,244.4 347.3,245.9 347.6,246.2 347.8,242.6 348.1,245.5 348.3,245.9 348.5,243.7 348.8,243.5 349.0,244.1 349.3,245.1 349.5,242.7 349.7,242.1 350.0,242.6 350.2,246.2 350.5,244.3 350.7,242.7 350.9,243.3 351.2,244.5 351.4,249.7 351.7,245.8 351.9,241.8 352.1,246.5 352.4,243.4 352.6,241.8 352.9,245.2 353.1,244.2 353.3,246.0 353.6,242.5 353.8,241.9 354.1,242.6 354.3,241.9 354.5,247.4 354.8,244.6 355.0,242.7 355.3,243.1 355.5,247.2 355.7,245.2 356.0,245.4 356.2,241.8 356.5,243.6 356.7,242.4 356.9,244.1 357.2,245.0 357.4,243.0 357.7,243.4 357.9,243.1 358.1,244.2 358.4,246.8 358.6,246.1 358.9,242.6 359.1,244.9 359.3,245.4 359.6,243.5 359.8,243.1 360.1,244.6 360.3,245.5 360.5,242.7 360.8,243.9 361.0,245.1 361.3,243.8 361.5,248.7 361.7,247.1 362.0,243.7 362.2,245.8 362.5,243.5 362.7,245.8 362.9,241.9 363.2,245.7 363.4,244.3 363.7,241.8 363.9,246.0 364.1,245.3 364.4,242.3 364.6,243.7 364.9,244.9 365.1,248.0 365.3,247.6 365.6,245.4 365.8,242.8 366.1,244.3 366.3,244.6 366.5,243.7 366.8,245.5 367.0,240.0 367.3,243.7 367.5,244.5 367.7,245.2 368.0,245.0 368.2,244.0 368.5,246.4 368.7,247.5 368.9,244.6 369.2,243.7 369.4,247.2 369.7,242.5 369.9,245.9 370.1,249.7 370.4,243.6 370.6,245.3 370.9,241.6 371.1,245.7 371.3,245.5 371.6,246.0 371.8,247.2 372.1,247.7 372.3,244.5 372.5,244.8 372.8,244.9 373.0,242.7 373.3,242.8 373.5,244.5 373.7,242.3 374.0,244.3 374.2,242.4 374.5,247.8 374.7,241.9 374.9,243.5 375.2,244.4 375.4,244.3 375.7,246.2 375.9,247.9 376.1,249.5 376.4,248.2 376.6,244.5 376.9,241.2 377.1,243.2 377.3,240.3 377.6,242.4 377.8,241.4 378.1,242.7 378.3,244.7 378.5,245.5 378.8,243.5 379.0,245.1 379.3,243.2 379.5,240.7 379.7,242.5 380.0,239.5 380.2,242.5 380.5,238.2 380.7,240.4 380.9,240.8 381.2,243.0 381.4,243.3 381.7,242.5 381.9,243.2 382.1,243.8 382.4,243.9 382.6,241.5 382.9,240.9 383.1,237.4 383.3,237.2 383.6,241.1 383.8,237.4 384.1,238.9 384.3,242.9 384.5,242.1 384.8,242.5 385.0,243.1 385.3,241.8 385.5,242.0 385.7,238.0 386.0,236.8 386.2,235.1 386.5,234.5 386.7,234.6 386.9,235.5 387.2,238.1 387.4,237.2 387.7,239.2 387.9,237.8 388.1,238.0 388.4,236.7 388.6,237.5 388.9,236.3 389.1,235.2 389.3,232.3 389.6,233.7 389.8,234.9 390.1,235.7 390.3,236.1 390.5,235.1 390.8,238.0 391.0,238.0 391.3,235.5 391.5,235.5 391.7,233.4 392.0,231.3 392.2,231.5 392.5,229.5 392.7,230.1 392.9,230.5 393.2,229.7 393.4,231.9 393.7,229.6 393.9,229.2 394.1,229.4 394.4,228.4 394.6,227.5 394.9,218.4 395.1,209.5 395.3,200.7 395.6,191.8 395.8,184.3 396.1,191.6 396.3,198.9 396.5,206.1 396.8,213.4 397.0,213.8 397.3,212.7 397.5,218.6 397.7,214.2 398.0,213.2 398.2,211.3 398.5,215.8 398.7,213.6 398.9,213.0 399.2,214.2 399.4,215.4 399.7,213.3 399.9,213.4 400.1,215.4 400.4,215.8 400.6,215.7 400.9,216.0 401.1,216.5 401.3,216.9 401.6,217.4 401.8,217.5 402.1,218.3 402.3,218.9 402.5,220.5 402.8,219.2 403.0,219.7 403.3,220.3 403.5,221.3 403.7,222.9 404.0,222.9 404.2,224.5 404.5,226.1 404.7,226.8 404.9,227.5 405.2,229.1 405.4,230.2 405.7,231.6 405.9,232.4 406.1,231.9 406.4,232.5 406.6,233.5 406.9,234.0 407.1,236.2 407.3,237.6 407.6,238.7 407.8,240.3 408.1,242.3 408.3,240.8 408.5,240.9 408.8,239.8 409.0,238.9 409.3,238.8 409.5,239.0 409.7,237.1 410.0,239.9 410.2,241.2 410.5,243.3 410.7,245.4 410.9,245.8 411.2,244.1 411.4,243.4 411.7,241.9 411.9,240.4 412.1,241.5 412.4,239.9 412.6,241.8 412.9,240.2 413.1,243.9 413.3,242.3 413.6,243.6 413.8,243.8 414.1,246.1 414.3,247.2 414.5,244.8 414.8,245.3 415.0,242.1 415.3,244.1 415.5,241.6 415.7,241.4 416.0,245.6 416.2,244.0 416.5,245.3 416.7,244.1 416.9,248.0 417.2,245.9 417.4,245.6 417.7,246.3 417.9,242.3 418.1,245.5 418.4,245.3 418.6,245.5 418.9,242.4 419.1,244.4 419.3,245.2 419.6,241.9 419.8,244.6 420.1,242.3 420.3,242.7 420.5,245.7 420.8,242.5 421.0,246.1 421.3,243.2 421.5,245.6 421.7,243.5 422.0,242.3 422.2,243.2 422.5,245.6 422.7,243.6 422.9,245.4 423.2,247.9 423.4,242.4 423.7,244.8 423.9,244.7 424.1,246.3 424.4,244.6 424.6,244.6 424.9,245.6 425.1,248.0 425.3,243.3 425.6,244.6 425.8,246.6 426.1,243.5 426.3,245.9 426.5,243.6 426.8,239.9 427.0,242.4 427.3,244.3 427.5,245.8 427.7,242.5 428.0,242.4 428.2,244.2 428.5,242.7 428.7,244.5 428.9,242.8 429.2,245.6 429.4,248.4 429.7,245.5 429.9,242.2 430.1,244.2 430.4,241.0 430.6,246.1 430.9,244.7 431.1,244.1 431.3,248.1 431.6,242.1 431.8,247.4 432.1,243.5 432.3,243.5 432.5,245.8 432.8,243.2 433.0,249.2 433.3,245.3 433.5,242.3 433.7,247.5 434.0,243.0 434.2,244.3 434.5,246.5 434.7,244.2 434.9,243.4 435.2,244.8 435.4,244.3 435.7,246.2 435.9,242.4 436.1,242.3 436.4,243.0 436.6,245.6 436.9,246.5 437.1,247.3 437.3,243.3 437.6,244.8 437.8,240.1 438.1,245.1 438.3,244.3 438.5,243.8 438.8,242.4 439.0,248.2 439.3,245.5 439.5,242.4 439.7,246.3 440.0,246.8 440.2,248.8 440.5,244.3 440.7,248.3 440.9,242.2 441.2,246.6 441.4,245.9 441.7,243.6 441.9,243.3 442.1,242.6 442.4,245.5 442.6,243.8 442.9,248.0" fill="none" stroke="#f2a27c" stroke-width="1.2" stroke-linejoin="round"/>
<polyline points="221.1,265.7 221.3,270.5 221.6,264.2 221.8,267.2 222.1,265.2 222.3,271.2 222.5,266.8 222.8,266.7 223.0,270.0 223.3,267.9 223.5,264.6 223.7,266.7 224.0,269.2 224.2,268.9 224.5,265.4 224.7,271.0 224.9,266.5 225.2,267.8 225.4,266.6 225.7,268.9 225.9,266.3 226.1,264.8 226.4,266.3 226.6,268.3 226.9,266.7 227.1,264.8 227.3,266.5 227.6,264.4 227.8,266.2 228.1,268.3 228.3,267.7 228.5,267.9 228.8,267.1 229.0,270.9 229.3,266.8 229.5,265.1 229.7,267.0 230.0,266.8 230.2,265.8 230.5,269.1 230.7,267.2 230.9,265.5 231.2,267.8 231.4,266.9 231.7,268.2 231.9,265.6 232.1,266.3 232.4,266.6 232.6,265.3 232.9,266.0 233.1,268.3 233.3,266.2 233.6,264.4 233.8,268.5 234.1,266.3 234.3,265.8 234.5,268.2 234.8,264.5 235.0,265.8 235.3,268.8 235.5,270.1 235.7,267.5 236.0,264.9 236.2,264.5 236.5,264.4 236.7,265.5 236.9,266.0 237.2,266.4 237.4,267.7 237.7,267.3 237.9,267.5 238.1,264.1 238.4,266.0 238.6,268.6 238.9,267.9 239.1,265.6 239.3,267.2 239.6,267.1 239.8,266.7 240.1,267.5 240.3,267.4 240.5,266.6 240.8,267.1 241.0,267.6 241.3,264.0 241.5,264.8 241.7,266.1 242.0,263.9 242.2,265.6 242.5,264.6 242.7,265.9 242.9,266.3 243.2,266.4 243.4,267.2 243.7,270.3 243.9,263.8 244.1,265.9 244.4,266.8 244.6,267.7 244.9,267.7 245.1,266.2 245.3,270.0 245.6,264.3 245.8,266.0 246.1,264.5 246.3,264.9 246.5,263.8 246.8,265.7 247.0,265.8 247.3,265.7 247.5,266.1 247.7,267.8 248.0,265.1 248.2,267.5 248.5,270.4 248.7,265.9 248.9,266.2 249.2,261.2 249.4,262.9 249.7,262.3 249.9,266.4 250.1,262.3 250.4,265.7 250.6,267.3 250.9,266.9 251.1,267.7 251.3,267.3 251.6,268.0 251.8,263.6 252.1,264.0 252.3,261.9 252.5,260.7 252.8,260.6 253.0,262.3 253.3,264.2 253.5,264.5 253.7,264.4 254.0,265.7 254.2,264.7 254.5,264.0 254.7,264.5 254.9,263.9 255.2,261.9 255.4,258.6 255.7,262.3 255.9,265.7 256.1,264.6 256.4,265.7 256.6,263.7 256.9,266.8 257.1,269.1 257.3,266.9 257.6,262.2 257.8,262.0 258.1,264.9 258.3,262.2 258.5,264.7 258.8,260.6 259.0,260.6 259.3,264.6 259.5,262.9 259.7,265.7 260.0,265.5 260.2,264.8 260.5,264.6 260.7,262.6 260.9,261.7 261.2,258.8 261.4,258.5 261.7,260.7 261.9,260.6 262.1,258.3 262.4,245.5 262.6,232.8 262.9,225.1 263.1,232.5 263.3,240.0 263.6,245.3 263.8,246.2 264.1,246.8 264.3,248.4 264.5,248.6 264.8,247.9 265.0,248.3 265.3,251.8 265.5,251.3 265.7,249.2 266.0,250.4 266.2,249.9 266.5,251.2 266.7,251.6 266.9,252.3 267.2,253.5 267.4,253.5 267.7,254.9 267.9,255.7 268.1,256.1 268.4,257.8 268.6,257.8 268.9,258.2 269.1,259.7 269.3,260.9 269.6,261.7 269.8,261.7 270.1,262.7 270.3,263.4 270.5,266.4 270.8,267.4 271.0,268.0 271.3,268.3 271.5,265.5 271.7,263.8 272.0,264.4 272.2,264.5 272.5,262.9 272.7,263.2 272.9,262.9 273.2,260.2 273.4,264.2 273.7,264.8 273.9,264.8 274.1,266.3 274.4,268.0 274.6,268.2 274.9,268.1 275.1,266.4 275.3,261.7 275.6,263.4 275.8,263.7 276.1,263.6 276.3,256.6 276.5,261.0 276.8,263.9 277.0,261.5 277.3,261.6 277.5,265.4 277.7,268.6 278.0,267.0 278.2,264.0 278.5,263.3 278.7,263.5 278.9,264.7 279.2,260.0 279.4,264.8 279.7,260.2 279.9,262.8 280.1,266.8 280.4,268.0 280.6,264.3 280.9,266.7 281.1,265.2 281.3,267.3 281.6,271.4 281.8,266.4 282.1,263.7 282.3,264.3 282.5,260.8 282.8,259.5 283.0,259.8 283.3,263.1 283.5,259.9 283.7,259.5 284.0,263.9 284.2,265.2 284.5,264.5 284.7,265.5 284.9,267.3 285.2,266.5 285.4,263.8 285.7,262.7 285.9,261.6 286.1,261.4 286.4,259.6 286.6,260.9 286.9,262.3 287.1,259.9 287.3,261.7 287.6,261.8 287.8,262.6 288.1,263.5 288.3,261.0 288.5,261.9 288.8,262.4 289.0,258.6 289.3,260.1 289.5,255.2 289.7,256.8 290.0,257.1 290.2,257.6 290.5,257.3 290.7,258.1 290.9,257.5 291.2,257.3 291.4,256.0 291.7,254.6 291.9,256.7 292.1,256.6 292.4,256.6 292.6,257.6 292.9,254.7 293.1,254.1 293.3,255.3 293.6,256.2 293.8,254.4 294.1,253.8 294.3,255.8 294.5,258.1 294.8,256.1 295.0,255.9 295.3,257.5 295.5,256.8 295.7,258.2 296.0,256.6 296.2,259.5 296.5,258.2 296.7,256.9 296.9,258.4 297.2,260.1 297.4,258.2 297.7,258.0 297.9,259.4 298.1,260.1 298.4,258.8 298.6,258.2 298.9,258.1 299.1,258.4 299.3,256.6 299.6,258.7 299.8,255.7 300.1,256.1 300.3,255.0 300.5,256.8 300.8,254.8 301.0,254.9 301.3,255.2 301.5,253.4 301.7,255.0 302.0,253.1 302.2,252.2 302.5,255.0 302.7,252.9 302.9,253.3 303.2,251.7 303.4,253.3 303.7,251.8 303.9,254.0 304.1,252.3 304.4,252.9 304.6,252.5 304.9,253.3 305.1,254.5 305.3,255.0 305.6,255.8 305.8,255.6 306.1,254.7 306.3,256.9 306.5,255.6 306.8,257.5 307.0,257.1 307.3,257.5 307.5,258.4 307.7,258.6 308.0,257.4 308.2,257.9 308.5,260.0 308.7,261.0 308.9,259.8 309.2,260.8 309.4,259.0 309.7,261.1 309.9,262.0 310.1,261.4 310.4,261.6 310.6,261.6 310.9,262.7 311.1,261.7 311.3,261.6 311.6,262.1 311.8,263.0 312.1,262.6 312.3,266.0 312.5,266.6 312.8,264.0 313.0,265.8 313.3,266.4 313.5,263.6 313.7,263.8 314.0,265.6 314.2,266.0 314.5,266.3 314.7,264.8 314.9,264.2 315.2,264.4 315.4,268.0 315.7,263.8 315.9,267.0 316.1,266.8 316.4,265.5 316.6,264.0 316.9,264.9 317.1,267.2 317.3,265.2 317.6,264.0 317.8,266.4 318.1,267.0 318.3,264.1 318.5,267.8 318.8,264.5 319.0,263.8 319.3,263.7 319.5,263.8 319.7,267.6 320.0,267.9 320.2,265.4 320.5,268.3 320.7,266.9 320.9,263.5 321.2,267.6 321.4,266.9 321.7,265.7 321.9,267.2 322.1,265.1 322.4,265.5 322.6,267.2 322.9,266.9 323.1,267.8 323.3,263.7 323.6,263.8 323.8,267.0 324.1,265.6 324.3,267.3 324.5,265.8 324.8,266.4 325.0,266.8 325.3,265.8 325.5,264.9 325.7,264.8 326.0,264.2 326.2,263.7 326.5,262.4 326.7,263.6 326.9,263.5 327.2,262.9 327.4,261.7 327.7,261.2 327.9,260.5 328.1,260.1 328.4,259.8 328.6,257.6 328.9,258.5 329.1,259.3 329.3,259.8 329.6,261.7 329.8,260.5 330.1,262.5 330.3,263.3 330.5,261.9 330.8,262.5 331.0,263.6 331.3,264.9 331.5,264.4 331.7,265.9 332.0,266.2 332.2,268.2 332.5,267.6 332.7,266.6 332.9,269.9 333.2,265.4 333.4,268.0 333.7,265.2 333.9,267.6 334.1,268.5 334.4,262.7 334.6,265.2 334.9,268.0 335.1,267.9 335.3,264.8 335.6,267.0 335.8,266.4 336.1,265.6 336.3,268.4 336.5,266.5 336.8,268.3 337.0,268.0 337.3,267.4 337.5,267.5 337.7,269.2 338.0,266.0 338.2,266.3 338.5,269.0 338.7,267.5 338.9,268.5 339.2,270.2 339.4,268.2 339.7,267.6 339.9,265.8 340.1,266.6 340.4,268.0 340.6,267.0 340.9,267.6 341.1,267.5 341.3,268.3 341.6,266.6 341.8,268.5 342.1,269.2 342.3,268.1 342.5,268.3 342.8,267.6 343.0,268.0 343.3,268.9 343.5,269.5 343.7,268.2 344.0,269.6 344.2,270.8 344.5,266.4 344.7,268.8 344.9,266.3 345.2,269.1 345.4,273.6 345.7,268.8 345.9,267.9 346.1,267.3 346.4,268.4 346.6,269.6 346.9,267.8 347.1,266.6 347.3,268.6 347.6,267.2 347.8,267.4 348.1,266.3 348.3,268.7 348.5,266.2 348.8,267.9 349.0,267.5 349.3,268.0 349.5,270.0 349.7,272.6 350.0,270.4 350.2,267.7 350.5,267.7 350.7,268.9 350.9,269.3 351.2,268.3 351.4,266.3 351.7,268.0 351.9,267.2 352.1,267.1 352.4,270.1 352.6,268.4 352.9,271.2 353.1,270.1 353.3,266.8 353.6,268.6 353.8,268.5 354.1,267.1 354.3,268.4 354.5,266.9 354.8,271.2 355.0,269.6 355.3,270.0 355.5,268.0 355.7,268.9 356.0,272.2 356.2,268.6 356.5,268.2 356.7,270.3 356.9,267.0 357.2,270.3 357.4,269.6 357.7,266.6 357.9,265.2 358.1,274.1 358.4,266.2 358.6,268.3 358.9,266.1 359.1,266.9 359.3,270.5 359.6,264.1 359.8,268.8 360.1,267.8 360.3,269.8 360.5,267.4 360.8,267.3 361.0,269.1 361.3,268.9 361.5,269.7 361.7,271.8 362.0,266.8 362.2,266.4 362.5,267.3 362.7,270.0 362.9,267.9 363.2,267.7 363.4,270.4 363.7,268.1 363.9,269.4 364.1,269.6 364.4,272.6 364.6,272.5 364.9,269.6 365.1,266.7 365.3,267.5 365.6,268.6 365.8,268.0 366.1,267.2 366.3,267.4 366.5,268.1 366.8,269.4 367.0,272.6 367.3,270.5 367.5,266.5 367.7,268.1 368.0,269.4 368.2,269.0 368.5,268.7 368.7,266.7 368.9,269.0 369.2,270.6 369.4,265.6 369.7,273.2 369.9,269.0 370.1,273.3 370.4,268.9 370.6,272.3 370.9,267.0 371.1,269.1 371.3,269.3 371.6,266.3 371.8,271.1 372.1,271.4 372.3,267.6 372.5,267.4 372.8,265.7 373.0,264.7 373.3,269.0 373.5,270.1 373.7,269.2 374.0,268.4 374.2,268.3 374.5,269.9 374.7,265.2 374.9,269.4 375.2,270.2 375.4,271.3 375.7,268.0 375.9,266.9 376.1,269.6 376.4,271.1 376.6,268.0 376.9,267.9 377.1,267.1 377.3,266.2 377.6,265.5 377.8,267.1 378.1,267.6 378.3,268.2 378.5,267.1 378.8,269.7 379.0,271.5 379.3,271.8 379.5,268.7 379.7,268.0 380.0,264.8 380.2,264.4 380.5,264.6 380.7,263.2 380.9,265.5 381.2,266.3 381.4,266.3 381.7,264.1 381.9,267.9 382.1,266.2 382.4,269.5 382.6,266.5 382.9,263.0 383.1,262.4 383.3,262.3 383.6,261.5 383.8,262.7 384.1,262.8 384.3,266.6 384.5,265.0 384.8,269.2 385.0,266.4 385.3,268.1 385.5,263.7 385.7,262.9 386.0,262.0 386.2,261.6 386.5,258.6 386.7,259.3 386.9,262.5 387.2,261.2 387.4,262.0 387.7,263.9 387.9,262.9 388.1,264.4 388.4,262.5 388.6,261.5 388.9,260.6 389.1,259.0 389.3,258.5 389.6,256.1 389.8,258.7 390.1,258.9 390.3,258.1 390.5,260.7 390.8,260.2 391.0,260.6 391.3,261.0 391.5,259.6 391.7,258.7 392.0,255.9 392.2,253.6 392.5,254.3 392.7,253.5 392.9,253.8 393.2,255.5 393.4,255.6 393.7,253.9 393.9,252.9 394.1,254.5 394.4,253.5 394.6,251.4 394.9,242.7 395.1,233.8 395.3,225.0 395.6,216.1 395.8,208.7 396.1,216.6 396.3,224.5 396.5,232.4 396.8,240.3 397.0,241.5 397.3,239.4 397.5,239.7 397.7,240.2 398.0,244.0 398.2,241.4 398.5,240.0 398.7,241.1 398.9,242.4 399.2,240.1 399.4,241.8 399.7,240.0 399.9,241.0 400.1,243.7 400.4,242.7 400.6,241.6 400.9,243.5 401.1,243.5 401.3,243.8 401.6,244.2 401.8,246.7 402.1,245.8 402.3,245.4 402.5,246.6 402.8,246.6 403.0,247.9 403.3,247.0 403.5,247.3 403.7,249.1 404.0,250.5 404.2,250.8 404.5,252.3 404.7,252.7 404.9,254.2 405.2,254.1 405.4,255.2 405.7,257.5 405.9,258.0 406.1,256.4 406.4,257.9 406.6,257.1 406.9,258.3 407.1,259.8 407.3,261.3 407.6,263.6 407.8,263.9 408.1,266.1 408.3,266.7 408.5,266.5 408.8,266.7 409.0,265.5 409.3,263.7 409.5,262.6 409.7,265.3 410.0,265.2 410.2,266.1 410.5,265.2 410.7,269.0 410.9,267.1 411.2,268.3 411.4,269.5 411.7,266.5 411.9,267.5 412.1,265.0 412.4,264.1 412.6,265.6 412.9,265.5 413.1,266.6 413.3,268.8 413.6,268.3 413.8,268.0 414.1,271.6 414.3,272.6 414.5,271.9 414.8,269.4 415.0,267.6 415.3,267.9 415.5,268.1 415.7,270.1 416.0,267.3 416.2,266.5 416.5,267.8 416.7,273.0 416.9,274.9 417.2,271.4 417.4,268.8 417.7,270.2 417.9,269.0 418.1,269.4 418.4,266.8 418.6,270.2 418.9,267.1 419.1,272.8 419.3,268.9 419.6,269.4 419.8,269.7 420.1,266.2 420.3,267.0 420.5,273.3 420.8,268.6 421.0,272.8 421.3,269.8 421.5,267.4 421.7,269.5 422.0,267.4 422.2,268.7 422.5,268.7 422.7,266.7 422.9,266.8 423.2,269.6 423.4,267.8 423.7,266.5 423.9,270.4 424.1,267.3 424.4,266.4 424.6,268.9 424.9,268.1 425.1,267.5 425.3,268.8 425.6,271.4 425.8,274.2 426.1,268.0 426.3,270.0 426.5,267.0 426.8,266.6 427.0,269.7 427.3,268.5 427.5,269.9 427.7,267.1 428.0,267.0 428.2,270.2 428.5,269.2 428.7,272.5 428.9,271.5 429.2,269.9 429.4,267.7 429.7,271.1 429.9,266.7 430.1,269.4 430.4,267.3 430.6,270.9 430.9,268.4 431.1,268.9 431.3,266.8 431.6,269.9 431.8,267.0 432.1,271.5 432.3,270.2 432.5,268.4 432.8,264.7 433.0,270.3 433.3,269.3 433.5,266.5 433.7,267.0 434.0,270.8 434.2,267.4 434.5,268.9 434.7,267.1 434.9,268.9 435.2,270.3 435.4,269.4 435.7,269.4 435.9,268.5 436.1,267.4 436.4,270.9 436.6,267.8 436.9,269.2 437.1,266.8 437.3,267.8 437.6,269.8 437.8,267.4 438.1,269.7 438.3,269.2 438.5,269.0 438.8,266.7 439.0,270.0 439.3,269.8 439.5,266.6 439.7,270.4 440.0,269.7 440.2,272.5 440.5,266.4 440.7,267.4 440.9,266.9 441.2,267.7 441.4,270.7 441.7,270.5 441.9,270.2 442.1,268.6 442.4,267.0 442.6,269.3 442.9,268.6" fill="none" stroke="#d9614c" stroke-width="1.2" stroke-linejoin="round"/>
<text x="344.8" y="130.2" font-size="10.3" font-weight="bold"><tspan font-style="italic">n</tspan> = 16</text>
<text x="344.8" y="158.6" font-size="10.3" font-weight="bold"><tspan font-style="italic">n</tspan> = 11</text>
<text x="344.8" y="184.6" font-size="10.3" font-weight="bold"><tspan font-style="italic">n</tspan> = 6</text>
<text x="344.8" y="211.2" font-size="10.3" font-weight="bold"><tspan font-style="italic">n</tspan> = 3</text>
<text x="344.8" y="236.1" font-size="10.3" font-weight="bold"><tspan font-style="italic">n</tspan> = 2</text>
<text x="349.20" y="263.80" font-size="10.30" font-weight="bold">HZO</text>
<text transform="translate(261.20 108.50) rotate(-90)" font-size="9.00" font-weight="bold">STO(001)</text>
<text transform="translate(273.20 109.80) rotate(-90)" font-size="9.00" font-weight="bold">LSMO(001)</text>
<text transform="translate(394.30 105.30) rotate(-90)" font-size="9.00" font-weight="bold">STO(002)</text>
<text transform="translate(408.20 101.60) rotate(-90)" font-size="9.00" font-weight="bold">LSMO(002)</text>
<text transform="translate(296.5 116.5) rotate(-90)" font-size="9" font-weight="bold"><tspan font-style="italic">m</tspan>(-111)</text>
<text transform="translate(307.5 112.8) rotate(-90)" font-size="9" font-weight="bold"><tspan font-style="italic">o</tspan>(111)</text>
<text transform="translate(332.3 123.7) rotate(-90)" font-size="9" font-weight="bold"><tspan font-style="italic">m</tspan>(200)</text>
<text x="221.80" y="26.60" font-size="13.00" font-weight="bold">20 nm</text>
<rect x="288.6" y="16.6" width="99.4" height="49.1" fill="#fff" stroke="#c8c8c8" stroke-width="0.8"/>
<text x="301.00" y="72.20" font-size="6.20" text-anchor="middle" fill="#222">1</text>
<line x1="301.00" y1="65.70" x2="301.00" y2="64.20" stroke="#999" stroke-width="0.6"/>
<text x="318.30" y="72.20" font-size="6.20" text-anchor="middle" fill="#222">2</text>
<line x1="318.30" y1="65.70" x2="318.30" y2="64.20" stroke="#999" stroke-width="0.6"/>
<text x="335.60" y="72.20" font-size="6.20" text-anchor="middle" fill="#222">3</text>
<line x1="335.60" y1="65.70" x2="335.60" y2="64.20" stroke="#999" stroke-width="0.6"/>
<text x="352.90" y="72.20" font-size="6.20" text-anchor="middle" fill="#222">4</text>
<line x1="352.90" y1="65.70" x2="352.90" y2="64.20" stroke="#999" stroke-width="0.6"/>
<text x="370.20" y="72.20" font-size="6.20" text-anchor="middle" fill="#222">5</text>
<line x1="370.20" y1="65.70" x2="370.20" y2="64.20" stroke="#999" stroke-width="0.6"/>
<line x1="292.35" y1="65.70" x2="292.35" y2="64.70" stroke="#999" stroke-width="0.6"/>
<line x1="309.65" y1="65.70" x2="309.65" y2="64.70" stroke="#999" stroke-width="0.6"/>
<line x1="326.95" y1="65.70" x2="326.95" y2="64.70" stroke="#999" stroke-width="0.6"/>
<line x1="344.25" y1="65.70" x2="344.25" y2="64.70" stroke="#999" stroke-width="0.6"/>
<line x1="361.55" y1="65.70" x2="361.55" y2="64.70" stroke="#999" stroke-width="0.6"/>
<line x1="378.85" y1="65.70" x2="378.85" y2="64.70" stroke="#999" stroke-width="0.6"/>
<text x="337" y="82.6" font-size="8" text-anchor="middle" fill="#222">2θ</text>
<text transform="translate(285.9 42.2) rotate(-90)" font-size="7.9" text-anchor="middle" fill="#222">Reflectivity (I/I0)</text>
<polyline points="288.9,34.2 289.1,34.2 289.4,34.2 289.6,34.2 289.9,34.2 290.1,34.2 290.4,34.2 290.6,34.2 290.9,34.2 291.1,34.2 291.4,34.2 291.6,34.2 291.9,34.2 292.1,34.2 292.4,34.2 292.6,34.2 292.9,34.2 293.1,34.2 293.4,34.2 293.6,34.2 293.9,34.2 294.1,34.2 294.4,34.2 294.6,34.2 294.9,34.2 295.1,34.2 295.4,34.2 295.6,34.2 295.9,34.2 296.1,34.2 296.4,34.2 296.6,34.4 296.9,34.6 297.1,34.9 297.4,35.1 297.6,35.6 297.9,36.2 298.1,36.7 298.4,37.1 298.6,37.5 298.9,37.7 299.1,37.8 299.4,37.7 299.6,37.6 299.9,37.4 300.1,37.2 300.4,37.1 300.6,37.0 300.9,37.0 301.1,37.1 301.4,37.3 301.6,37.6 301.9,38.0 302.1,38.4 302.4,38.9 302.6,39.4 302.9,39.8 303.1,40.2 303.4,40.5 303.6,40.7 303.9,40.8 304.1,40.8 304.4,40.7 304.6,40.5 304.9,40.4 305.1,40.2 305.4,40.0 305.6,39.9 305.9,39.9 306.1,40.0 306.4,40.2 306.6,40.5 306.9,40.9 307.1,41.3 307.4,41.8 307.6,42.2 307.9,42.6 308.1,42.9 308.4,43.2 308.6,43.3 308.9,43.3 309.1,43.2 309.4,43.1 309.6,42.9 309.9,42.7 310.1,42.5 310.4,42.3 310.6,42.3 310.9,42.3 311.1,42.4 311.4,42.7 311.6,43.0 311.9,43.4 312.1,43.9 312.4,44.3 312.6,44.7 312.9,45.1 313.1,45.4 313.4,45.6 313.6,45.6 313.9,45.6 314.1,45.5 314.4,45.3 314.6,45.1 314.9,44.9 315.1,44.7 315.4,44.6 315.6,44.6 315.9,44.6 316.1,44.8 316.4,45.0 316.6,45.4 316.9,45.8 317.1,46.2 317.4,46.6 317.6,47.0 317.9,47.3 318.1,47.5 318.4,47.7 318.6,47.7 318.9,47.6 319.1,47.4 319.4,47.2 319.6,47.0 319.9,46.8 320.1,46.6 320.4,46.5 320.6,46.5 320.9,46.6 321.1,46.8 321.4,47.1 321.6,47.4 321.9,47.9 322.1,48.3 322.4,48.7 322.6,49.1 322.9,49.3 323.1,49.5 323.4,49.6 323.6,49.6 323.9,49.4 324.1,49.3 324.4,49.0 324.6,48.8 324.9,48.6 325.1,48.4 325.4,48.3 325.6,48.3 325.9,48.4 326.1,48.6 326.4,48.9 326.6,49.3 326.9,49.7 327.1,50.0 327.4,50.4 327.6,50.7 327.9,50.9 328.1,51.0 328.4,51.0 328.6,50.9 328.9,50.7 329.1,50.5 329.4,50.2 329.6,49.9 329.9,49.7 330.1,49.5 330.4,49.5 330.6,49.5 330.9,49.7 331.1,49.9 331.4,50.2 331.6,50.6 331.9,51.0 332.1,51.4 332.4,51.7 332.6,52.0 332.9,52.1 333.1,52.2 333.4,52.1 333.6,52.0 333.9,51.8 334.1,51.6 334.4,51.5 334.6,51.4 334.9,51.3 335.1,51.2 335.4,51.2 335.6,51.3 335.9,51.4 336.1,51.6 336.4,51.7 336.6,51.9 336.9,52.1 337.1,52.1 337.4,52.2 337.6,52.1 337.9,52.0 338.1,51.8 338.4,51.7 338.6,51.6 338.9,51.5 339.1,51.5 339.4,51.6 339.6,51.7 339.9,51.9 340.1,52.0 340.4,52.2 340.6,52.3 340.9,52.4 341.1,52.4 341.4,52.3 341.6,52.2 341.9,52.1 342.1,51.9 342.4,51.8 342.6,51.7 342.9,51.8 343.1,51.8 343.4,52.0 343.6,52.2 343.9,52.3 344.1,52.5 344.4,52.6 344.6,52.7 344.9,52.7 345.1,52.6 345.4,52.4 345.6,52.2 345.9,52.1 346.1,51.9 346.4,51.8 346.6,51.8 346.9,51.9 347.1,52.0 347.4,52.2 347.6,52.3 347.9,52.5 348.1,52.5 348.4,52.6 348.6,52.5 348.9,52.4 349.1,52.2 349.4,52.0 349.6,51.9 349.9,51.7 350.1,51.7 350.4,51.7 350.6,51.8 350.9,51.9 351.1,52.1 351.4,52.2 351.6,52.3 351.9,52.4 352.1,52.3 352.4,52.2 352.6,52.0 352.9,51.7 353.1,51.4 353.4,51.2 353.6,51.0 353.9,50.9 354.1,50.8 354.4,50.8 354.6,50.9 354.9,51.0 355.1,51.0 355.4,51.1 355.6,51.0 355.9,50.9 356.1,50.7 356.4,50.4 356.6,50.1 356.9,49.8 357.1,49.5 357.4,49.3 357.6,49.1 357.9,49.0 358.1,49.0 358.4,49.0 358.6,49.1 358.9,49.1 359.1,49.0 359.4,48.9 359.6,48.7 359.9,48.5 360.1,48.2 360.4,47.9 360.6,47.6 360.9,47.3 361.1,47.1 361.4,47.0 361.6,47.0 361.9,47.2 362.1,47.5 362.4,47.7 362.6,48.0 362.9,48.1 363.1,48.2 363.4,48.3 363.6,48.3 363.9,48.2 364.1,48.1 364.4,48.0 364.6,48.0 364.9,48.0 365.1,48.1 365.4,48.3 365.6,48.5 365.9,48.8 366.1,49.1 366.4,49.4 366.6,49.6 366.9,49.8 367.1,49.9 367.4,50.0 367.6,50.0 367.9,50.0 368.1,50.1 368.4,50.1 368.6,50.3 368.9,50.5 369.1,50.7 369.4,51.0 369.6,51.4 369.9,51.7 370.1,52.0 370.4,52.1 370.6,52.1 370.9,52.1 371.1,52.0 371.4,51.9 371.6,51.8 371.9,51.7 372.1,51.7 372.4,51.7 372.6,51.8 372.9,51.9 373.1,52.1 373.4,52.4 373.6,52.6 373.9,52.7 374.1,52.8 374.4,52.9 374.6,52.8 374.9,52.7 375.1,52.6 375.4,52.5 375.6,52.4 375.9,52.3 376.1,52.3 376.4,52.4 376.6,52.6 376.9,52.8 377.1,53.0 377.4,53.1 377.6,53.3 377.9,53.3 378.1,53.3 378.4,53.3 378.6,53.2 378.9,53.0 379.1,52.9 379.4,52.8 379.6,52.8 379.9,52.8 380.1,52.9 380.4,53.1 380.6,53.3 380.9,53.5 381.1,53.6 381.4,53.7 381.6,53.8 381.9,53.8 382.1,53.7 382.4,53.6 382.6,53.5 382.9,53.3 383.1,53.2 383.4,53.2 383.6,53.3 383.9,53.4 384.1,53.6 384.4,53.8 384.6,54.0 384.9,54.1 385.1,54.2 385.4,54.3 385.6,54.2 385.9,54.2 386.1,54.0 386.4,53.9 386.6,53.8 386.9,53.7 387.1,53.7 387.4,53.8 387.6,53.9" fill="none" stroke="#3a8fd6" stroke-width="2.8" stroke-linejoin="round"/>
<polyline points="288.9,34.8 289.1,34.8 289.4,34.8 289.6,34.8 289.9,34.8 290.1,34.8 290.4,34.8 290.6,34.8 290.9,34.8 291.1,34.8 291.4,34.8 291.6,34.8 291.9,34.8 292.1,34.8 292.4,34.8 292.6,34.9 292.9,34.9 293.1,34.9 293.4,34.9 293.6,34.9 293.9,34.9 294.1,34.9 294.4,34.9 294.6,34.9 294.9,34.9 295.1,34.9 295.4,34.9 295.6,34.9 295.9,34.9 296.1,34.9 296.4,34.9 296.6,35.0 296.9,35.3 297.1,35.5 297.4,35.7 297.6,36.2 297.9,36.8 298.1,37.4 298.4,37.8 298.6,38.2 298.9,38.4 299.1,38.4 299.4,38.3 299.6,38.1 299.9,37.9 300.1,37.6 300.4,37.4 300.6,37.2 300.9,37.2 301.1,37.3 301.4,37.5 301.6,37.8 301.9,38.3 302.1,38.8 302.4,39.4 302.6,39.9 302.9,40.4 303.1,40.9 303.4,41.2 303.6,41.4 303.9,41.5 304.1,41.5 304.4,41.3 304.6,41.1 304.9,40.9 305.1,40.6 305.4,40.4 305.6,40.2 305.9,40.2 306.1,40.3 306.4,40.5 306.6,40.9 306.9,41.3 307.1,41.8 307.4,42.4 307.6,42.9 307.9,43.4 308.1,43.7 308.4,44.0 308.6,44.1 308.9,44.1 309.1,44.0 309.4,43.8 309.6,43.5 309.9,43.2 310.1,42.9 310.4,42.7 310.6,42.6 310.9,42.7 311.1,42.8 311.4,43.1 311.6,43.5 311.9,44.0 312.1,44.5 312.4,45.0 312.6,45.5 312.9,46.0 313.1,46.3 313.4,46.5 313.6,46.6 313.9,46.5 314.1,46.4 314.4,46.1 314.6,45.8 314.9,45.5 315.1,45.3 315.4,45.1 315.6,45.0 315.9,45.0 316.1,45.2 316.4,45.5 316.6,45.9 316.9,46.4 317.1,46.9 317.4,47.4 317.6,47.8 317.9,48.2 318.1,48.5 318.4,48.6 318.6,48.6 318.9,48.4 319.1,48.2 319.4,47.9 319.6,47.6 319.9,47.3 320.1,47.1 320.4,46.9 320.6,46.9 320.9,47.0 321.1,47.2 321.4,47.5 321.6,48.0 321.9,48.5 322.1,49.0 322.4,49.4 322.6,49.9 322.9,50.2 323.1,50.4 323.4,50.5 323.6,50.4 323.9,50.2 324.1,50.0 324.4,49.7 324.6,49.3 324.9,49.1 325.1,48.8 325.4,48.7 325.6,48.7 325.9,48.8 326.1,49.0 326.4,49.4 326.6,49.8 326.9,50.3 327.1,50.7 327.4,51.2 327.6,51.5 327.9,51.8 328.1,51.9 328.4,51.9 328.6,51.7 328.9,51.5 329.1,51.1 329.4,50.8 329.6,50.4 329.9,50.2 330.1,49.9 330.4,49.9 330.6,49.9 330.9,50.1 331.1,50.3 331.4,50.7 331.6,51.2 331.9,51.7 332.1,52.1 332.4,52.5 332.6,52.8 332.9,53.0 333.1,53.1 333.4,53.0 333.6,52.8 333.9,52.5 334.1,52.2 334.4,51.7 334.6,51.9 334.9,52.1 335.1,52.3 335.4,52.5 335.6,52.7 335.9,52.9 336.1,53.1 336.4,53.3 336.6,53.5 336.9,53.7 337.1,53.9 337.4,54.1 337.6,54.2 337.9,54.4 338.1,54.4 338.4,54.2 338.6,54.0 338.9,53.8 339.1,53.6 339.4,53.4 339.6,53.2 339.9,52.9 340.1,52.7 340.4,52.5 340.6,52.3 340.9,52.1 341.1,51.9 341.4,51.7 341.6,51.7 341.9,52.0 342.1,52.2 342.4,52.5 342.6,52.7 342.9,53.0 343.1,53.2 343.4,53.5 343.6,53.8 343.9,54.2 344.1,54.6 344.4,55.0 344.6,55.4 344.9,55.7 345.1,55.7 345.4,55.4 345.6,55.1 345.9,54.8 346.1,54.4 346.4,54.1 346.6,53.8 346.9,53.5 347.1,53.3 347.4,53.2 347.6,53.0 347.9,52.8 348.1,52.6 348.4,52.4 348.6,52.3 348.9,52.6 349.1,52.8 349.4,53.1 349.6,53.3 349.9,53.6 350.1,53.8 350.4,54.1 350.6,54.3 350.9,54.8 351.1,55.5 351.4,56.2 351.6,56.9 351.9,57.6 352.1,58.4 352.4,59.1 352.6,59.8 352.9,60.6 353.1,60.5 353.4,59.7 353.6,59.0 353.9,58.2 354.1,57.4 354.4,56.6 354.6,55.8 354.9,55.0 355.1,54.2 355.4,53.4 355.6,52.6 355.9,51.8 356.1,51.3 356.4,51.1 356.6,50.8 356.9,50.5 357.1,50.3 357.4,50.0 357.6,49.7 357.9,49.4 358.1,49.2 358.4,48.9 358.6,48.8 358.9,48.7 359.1,48.6 359.4,48.6 359.6,48.5 359.9,48.4 360.1,48.4 360.4,48.3 360.6,48.2 360.9,48.2 361.1,48.1 361.4,48.0 361.6,48.1 361.9,48.2 362.1,48.3 362.4,48.4 362.6,48.5 362.9,48.6 363.1,48.7 363.4,48.8 363.6,48.9 363.9,49.0 364.1,49.1 364.4,49.2 364.6,49.4 364.9,49.7 365.1,50.1 365.4,50.4 365.6,50.7 365.9,51.0 366.1,51.4 366.4,51.7 366.6,52.0 366.9,52.4 367.1,53.0 367.4,53.9 367.6,54.7 367.9,55.6 368.1,56.5 368.4,57.3 368.6,58.1 368.9,58.8 369.1,59.5 369.4,60.2 369.6,59.5 369.9,58.8 370.1,58.1 370.4,57.6 370.6,57.2 370.9,56.7 371.1,56.3 371.4,55.8 371.6,55.3 371.9,54.9 372.1,54.4 372.4,54.0 372.6,53.5 372.9,53.1 373.1,52.6 373.4,52.1 373.6,51.7 373.9,51.8 374.1,52.0 374.4,52.1 374.6,52.3 374.9,52.5 375.1,52.7 375.4,52.9 375.6,53.1 375.9,53.3 376.1,53.5 376.4,53.7 376.6,54.0 376.9,54.3 377.1,54.6 377.4,54.9 377.6,55.3 377.9,55.6 378.1,55.9 378.4,56.2 378.6,56.5 378.9,56.4 379.1,56.1 379.4,55.8 379.6,55.5 379.9,55.2 380.1,54.9 380.4,54.6 380.6,54.4 380.9,54.2 381.1,54.0 381.4,53.8 381.6,53.5 381.9,53.3 382.1,53.1 382.4,53.1 382.6,53.3 382.9,53.5 383.1,53.8 383.4,54.0 383.6,54.2 383.9,54.5 384.1,54.7 384.4,54.9 384.6,55.3 384.9,55.9 385.1,56.4 385.4,56.9 385.6,57.5 385.9,58.0 386.1,58.5 386.4,59.1 386.6,59.4 386.9,59.1 387.1,58.7 387.4,58.4 387.6,58.0" fill="none" stroke="#e0393b" stroke-width="1.3" stroke-linejoin="round"/>
<circle cx="303.5" cy="21.8" r="0.9" fill="#3a8fd6"/>
<line x1="296.60" y1="30.10" x2="310.00" y2="30.10" stroke="#e0393b" stroke-width="1.5"/>
<text x="313.60" y="24.60" font-size="6.85" font-weight="bold">Measurement</text>
<text x="313.60" y="33.20" font-size="7.00" font-weight="bold">Fitting</text>
<text x="295.8" y="62.8" font-size="10.4" fill="#3d8dd0"><tspan font-style="italic">n</tspan> = 3</text>
<text x="339.70" y="45.00" font-size="5.85" fill="#ef8a45">Superlattice Peak</text>
<rect x="361.4" y="55" width="1.9" height="10" fill="#f08030"/>
<polygon points="360.1,56.5 362.35,51.4 364.6,56.5" fill="#f08030"/>
<text x="461.20" y="11.20" font-size="14.00" font-weight="bold">c</text>
<defs><clipPath id="afmclip"><rect x="488.6" y="10.7" width="133.4" height="133.1"/></clipPath><filter id="afmblur" x="-10%" y="-10%" width="120%" height="120%"><feGaussianBlur stdDeviation="2.2"/></filter><filter id="afmdark" x="0" y="0" width="100%" height="100%" color-interpolation-filters="sRGB"><feTurbulence type="fractalNoise" baseFrequency="0.17" numOctaves="3" seed="4"/><feGaussianBlur stdDeviation="0.7"/><feColorMatrix type="matrix" values="0 0 0 0 0.54  0 0 0 0 0.22  0 0 0 0 0.36  2.6 0 0 0 -1.36"/></filter><filter id="afmlight" x="0" y="0" width="100%" height="100%" color-interpolation-filters="sRGB"><feTurbulence type="fractalNoise" baseFrequency="0.17" numOctaves="3" seed="4"/><feGaussianBlur stdDeviation="0.7"/><feColorMatrix type="matrix" values="0 0 0 0 0.84  0 0 0 0 0.62  0 0 0 0 0.18  -2.6 0 0 0 1.3"/></filter></defs>
<g clip-path="url(#afmclip)"><rect x="488.6" y="10.7" width="133.4" height="133.1" fill="#b8601e"/><g filter="url(#afmblur)">
<path fill="#883560" d="M488.6 10.7h4.65v4.65h-4.65zM493.0 10.7h4.65v4.65h-4.65zM493.0 28.5h4.65v4.65h-4.65zM488.6 32.9h4.65v4.65h-4.65zM604.2 32.9h4.65v4.65h-4.65zM613.1 32.9h4.65v4.65h-4.65z"/>
<path fill="#863361" d="M497.5 10.7h4.65v4.65h-4.65zM493.0 32.9h4.65v4.65h-4.65zM608.7 32.9h4.65v4.65h-4.65zM488.6 37.4h4.65v4.65h-4.65zM493.0 37.4h4.65v4.65h-4.65zM613.1 37.4h4.65v4.65h-4.65zM617.6 37.4h4.65v4.65h-4.65zM613.1 41.8h4.65v4.65h-4.65z"/>
<path fill="#913b57" d="M501.9 10.7h4.65v4.65h-4.65zM493.0 15.1h4.65v4.65h-4.65zM493.0 19.6h4.65v4.65h-4.65zM493.0 24.0h4.65v4.65h-4.65zM617.6 28.5h4.65v4.65h-4.65zM497.5 32.9h4.65v4.65h-4.65zM501.9 32.9h4.65v4.65h-4.65zM497.5 37.4h4.65v4.65h-4.65zM501.9 37.4h4.65v4.65h-4.65zM488.6 41.8h4.65v4.65h-4.65zM608.7 41.8h4.65v4.65h-4.65zM488.6 46.3h4.65v4.65h-4.65zM613.1 59.6h4.65v4.65h-4.65zM497.5 68.5h4.65v4.65h-4.65z"/>
<path fill="#9b444b" d="M506.4 10.7h4.65v4.65h-4.65zM613.1 15.1h4.65v4.65h-4.65zM501.9 19.6h4.65v4.65h-4.65zM510.8 19.6h4.65v4.65h-4.65zM613.1 19.6h4.65v4.65h-4.65zM515.3 24.0h4.65v4.65h-4.65zM604.2 24.0h4.65v4.65h-4.65zM617.6 24.0h4.65v4.65h-4.65zM510.8 37.4h4.65v4.65h-4.65zM590.9 37.4h4.65v4.65h-4.65zM497.5 41.8h4.65v4.65h-4.65zM493.0 46.3h4.65v4.65h-4.65zM501.9 46.3h4.65v4.65h-4.65zM510.8 46.3h4.65v4.65h-4.65zM506.4 50.7h4.65v4.65h-4.65zM613.1 50.7h4.65v4.65h-4.65zM617.6 50.7h4.65v4.65h-4.65zM488.6 55.2h4.65v4.65h-4.65zM497.5 55.2h4.65v4.65h-4.65zM506.4 55.2h4.65v4.65h-4.65zM613.1 55.2h4.65v4.65h-4.65zM608.7 64.1h4.65v4.65h-4.65zM501.9 68.5h4.65v4.65h-4.65zM497.5 73.0h4.65v4.65h-4.65zM608.7 73.0h4.65v4.65h-4.65zM497.5 77.4h4.65v4.65h-4.65zM497.5 81.8h4.65v4.65h-4.65zM617.6 81.8h4.65v4.65h-4.65zM493.0 86.3h4.65v4.65h-4.65zM617.6 90.7h4.65v4.65h-4.65zM488.6 104.1h4.65v4.65h-4.65zM493.0 104.1h4.65v4.65h-4.65zM613.1 104.1h4.65v4.65h-4.65zM617.6 108.5h4.65v4.65h-4.65zM488.6 113.0h4.65v4.65h-4.65zM493.0 113.0h4.65v4.65h-4.65zM613.1 113.0h4.65v4.65h-4.65zM617.6 113.0h4.65v4.65h-4.65zM497.5 117.4h4.65v4.65h-4.65zM488.6 126.3h4.65v4.65h-4.65zM493.0 126.3h4.65v4.65h-4.65z"/>
<path fill="#af5632" d="M510.8 10.7h4.65v4.65h-4.65zM595.3 10.7h4.65v4.65h-4.65zM515.3 15.1h4.65v4.65h-4.65zM590.9 15.1h4.65v4.65h-4.65zM519.7 19.6h4.65v4.65h-4.65zM586.4 19.6h4.65v4.65h-4.65zM590.9 19.6h4.65v4.65h-4.65zM595.3 19.6h4.65v4.65h-4.65zM599.8 19.6h4.65v4.65h-4.65zM599.8 24.0h4.65v4.65h-4.65zM577.5 28.5h4.65v4.65h-4.65zM515.3 32.9h4.65v4.65h-4.65zM582.0 32.9h4.65v4.65h-4.65zM586.4 37.4h4.65v4.65h-4.65zM577.5 41.8h4.65v4.65h-4.65zM590.9 41.8h4.65v4.65h-4.65zM599.8 41.8h4.65v4.65h-4.65zM582.0 46.3h4.65v4.65h-4.65zM604.2 46.3h4.65v4.65h-4.65zM599.8 50.7h4.65v4.65h-4.65zM497.5 59.6h4.65v4.65h-4.65zM559.7 59.6h4.65v4.65h-4.65zM568.6 59.6h4.65v4.65h-4.65zM559.7 64.1h4.65v4.65h-4.65zM568.6 64.1h4.65v4.65h-4.65zM595.3 64.1h4.65v4.65h-4.65zM604.2 64.1h4.65v4.65h-4.65zM506.4 68.5h4.65v4.65h-4.65zM515.3 68.5h4.65v4.65h-4.65zM599.8 68.5h4.65v4.65h-4.65zM515.3 73.0h4.65v4.65h-4.65zM586.4 73.0h4.65v4.65h-4.65zM595.3 73.0h4.65v4.65h-4.65zM510.8 81.8h4.65v4.65h-4.65zM519.7 81.8h4.65v4.65h-4.65zM501.9 86.3h4.65v4.65h-4.65zM604.2 90.7h4.65v4.65h-4.65zM537.5 95.2h4.65v4.65h-4.65zM608.7 95.2h4.65v4.65h-4.65zM613.1 95.2h4.65v4.65h-4.65zM617.6 95.2h4.65v4.65h-4.65zM604.2 99.6h4.65v4.65h-4.65zM537.5 104.1h4.65v4.65h-4.65zM555.3 104.1h4.65v4.65h-4.65zM599.8 104.1h4.65v4.65h-4.65zM515.3 108.5h4.65v4.65h-4.65zM599.8 108.5h4.65v4.65h-4.65zM604.2 113.0h4.65v4.65h-4.65zM582.0 117.4h4.65v4.65h-4.65zM617.6 117.4h4.65v4.65h-4.65zM573.1 121.9h4.65v4.65h-4.65zM590.9 121.9h4.65v4.65h-4.65zM501.9 126.3h4.65v4.65h-4.65zM519.7 126.3h4.65v4.65h-4.65zM497.5 130.8h4.65v4.65h-4.65zM501.9 130.8h4.65v4.65h-4.65zM515.3 130.8h4.65v4.65h-4.65zM577.5 130.8h4.65v4.65h-4.65zM582.0 130.8h4.65v4.65h-4.65zM586.4 130.8h4.65v4.65h-4.65zM613.1 130.8h4.65v4.65h-4.65zM617.6 130.8h4.65v4.65h-4.65zM577.5 135.2h4.65v4.65h-4.65zM595.3 135.2h4.65v4.65h-4.65zM497.5 139.7h4.65v4.65h-4.65zM506.4 139.7h4.65v4.65h-4.65zM573.1 139.7h4.65v4.65h-4.65zM577.5 139.7h4.65v4.65h-4.65zM595.3 139.7h4.65v4.65h-4.65z"/>
<path fill="#b45b2c" d="M515.3 10.7h4.65v4.65h-4.65zM590.9 10.7h4.65v4.65h-4.65zM519.7 15.1h4.65v4.65h-4.65zM528.6 19.6h4.65v4.65h-4.65zM582.0 19.6h4.65v4.65h-4.65zM582.0 28.5h4.65v4.65h-4.65zM586.4 28.5h4.65v4.65h-4.65zM595.3 28.5h4.65v4.65h-4.65zM595.3 32.9h4.65v4.65h-4.65zM519.7 37.4h4.65v4.65h-4.65zM524.2 37.4h4.65v4.65h-4.65zM573.1 41.8h4.65v4.65h-4.65zM582.0 41.8h4.65v4.65h-4.65zM590.9 46.3h4.65v4.65h-4.65zM595.3 46.3h4.65v4.65h-4.65zM599.8 46.3h4.65v4.65h-4.65zM519.7 50.7h4.65v4.65h-4.65zM595.3 50.7h4.65v4.65h-4.65zM595.3 55.2h4.65v4.65h-4.65zM599.8 55.2h4.65v4.65h-4.65zM506.4 59.6h4.65v4.65h-4.65zM586.4 59.6h4.65v4.65h-4.65zM590.9 59.6h4.65v4.65h-4.65zM595.3 59.6h4.65v4.65h-4.65zM510.8 64.1h4.65v4.65h-4.65zM519.7 64.1h4.65v4.65h-4.65zM564.2 64.1h4.65v4.65h-4.65zM586.4 64.1h4.65v4.65h-4.65zM510.8 68.5h4.65v4.65h-4.65zM564.2 68.5h4.65v4.65h-4.65zM506.4 73.0h4.65v4.65h-4.65zM510.8 73.0h4.65v4.65h-4.65zM577.5 77.4h4.65v4.65h-4.65zM595.3 77.4h4.65v4.65h-4.65zM506.4 81.8h4.65v4.65h-4.65zM515.3 81.8h4.65v4.65h-4.65zM524.2 81.8h4.65v4.65h-4.65zM537.5 81.8h4.65v4.65h-4.65zM582.0 81.8h4.65v4.65h-4.65zM586.4 81.8h4.65v4.65h-4.65zM519.7 86.3h4.65v4.65h-4.65zM555.3 86.3h4.65v4.65h-4.65zM590.9 86.3h4.65v4.65h-4.65zM599.8 86.3h4.65v4.65h-4.65zM501.9 90.7h4.65v4.65h-4.65zM550.9 90.7h4.65v4.65h-4.65zM506.4 95.2h4.65v4.65h-4.65zM524.2 95.2h4.65v4.65h-4.65zM533.1 95.2h4.65v4.65h-4.65zM501.9 99.6h4.65v4.65h-4.65zM524.2 99.6h4.65v4.65h-4.65zM533.1 99.6h4.65v4.65h-4.65zM537.5 99.6h4.65v4.65h-4.65zM590.9 99.6h4.65v4.65h-4.65zM595.3 99.6h4.65v4.65h-4.65zM617.6 99.6h4.65v4.65h-4.65zM501.9 104.1h4.65v4.65h-4.65zM506.4 104.1h4.65v4.65h-4.65zM519.7 104.1h4.65v4.65h-4.65zM528.6 104.1h4.65v4.65h-4.65zM542.0 104.1h4.65v4.65h-4.65zM506.4 108.5h4.65v4.65h-4.65zM519.7 108.5h4.65v4.65h-4.65zM524.2 108.5h4.65v4.65h-4.65zM542.0 108.5h4.65v4.65h-4.65zM555.3 108.5h4.65v4.65h-4.65zM559.7 108.5h4.65v4.65h-4.65zM564.2 108.5h4.65v4.65h-4.65zM573.1 108.5h4.65v4.65h-4.65zM595.3 108.5h4.65v4.65h-4.65zM524.2 113.0h4.65v4.65h-4.65zM564.2 113.0h4.65v4.65h-4.65zM573.1 113.0h4.65v4.65h-4.65zM577.5 113.0h4.65v4.65h-4.65zM590.9 113.0h4.65v4.65h-4.65zM595.3 113.0h4.65v4.65h-4.65zM599.8 113.0h4.65v4.65h-4.65zM506.4 117.4h4.65v4.65h-4.65zM524.2 117.4h4.65v4.65h-4.65zM573.1 117.4h4.65v4.65h-4.65zM590.9 117.4h4.65v4.65h-4.65zM595.3 117.4h4.65v4.65h-4.65zM510.8 121.9h4.65v4.65h-4.65zM519.7 121.9h4.65v4.65h-4.65zM577.5 121.9h4.65v4.65h-4.65zM506.4 126.3h4.65v4.65h-4.65zM568.6 126.3h4.65v4.65h-4.65zM573.1 126.3h4.65v4.65h-4.65zM590.9 126.3h4.65v4.65h-4.65zM595.3 126.3h4.65v4.65h-4.65zM506.4 130.8h4.65v4.65h-4.65zM510.8 130.8h4.65v4.65h-4.65zM573.1 130.8h4.65v4.65h-4.65zM590.9 130.8h4.65v4.65h-4.65zM497.5 135.2h4.65v4.65h-4.65zM510.8 135.2h4.65v4.65h-4.65zM515.3 135.2h4.65v4.65h-4.65zM564.2 135.2h4.65v4.65h-4.65zM608.7 135.2h4.65v4.65h-4.65zM617.6 135.2h4.65v4.65h-4.65zM493.0 139.7h4.65v4.65h-4.65zM564.2 139.7h4.65v4.65h-4.65zM590.9 139.7h4.65v4.65h-4.65zM608.7 139.7h4.65v4.65h-4.65zM613.1 139.7h4.65v4.65h-4.65z"/>
<path fill="#be661f" d="M519.7 10.7h4.65v4.65h-4.65zM524.2 15.1h4.65v4.65h-4.65zM586.4 15.1h4.65v4.65h-4.65zM533.1 19.6h4.65v4.65h-4.65zM528.6 24.0h4.65v4.65h-4.65zM537.5 24.0h4.65v4.65h-4.65zM573.1 24.0h4.65v4.65h-4.65zM519.7 28.5h4.65v4.65h-4.65zM573.1 28.5h4.65v4.65h-4.65zM533.1 32.9h4.65v4.65h-4.65zM524.2 41.8h4.65v4.65h-4.65zM555.3 46.3h4.65v4.65h-4.65zM559.7 46.3h4.65v4.65h-4.65zM573.1 46.3h4.65v4.65h-4.65zM533.1 55.2h4.65v4.65h-4.65zM550.9 55.2h4.65v4.65h-4.65zM568.6 55.2h4.65v4.65h-4.65zM582.0 55.2h4.65v4.65h-4.65zM590.9 55.2h4.65v4.65h-4.65zM528.6 59.6h4.65v4.65h-4.65zM533.1 59.6h4.65v4.65h-4.65zM537.5 59.6h4.65v4.65h-4.65zM537.5 64.1h4.65v4.65h-4.65zM555.3 64.1h4.65v4.65h-4.65zM573.1 64.1h4.65v4.65h-4.65zM524.2 68.5h4.65v4.65h-4.65zM533.1 68.5h4.65v4.65h-4.65zM568.6 68.5h4.65v4.65h-4.65zM519.7 73.0h4.65v4.65h-4.65zM528.6 73.0h4.65v4.65h-4.65zM568.6 73.0h4.65v4.65h-4.65zM573.1 73.0h4.65v4.65h-4.65zM582.0 73.0h4.65v4.65h-4.65zM542.0 77.4h4.65v4.65h-4.65zM555.3 77.4h4.65v4.65h-4.65zM590.9 77.4h4.65v4.65h-4.65zM550.9 81.8h4.65v4.65h-4.65zM555.3 81.8h4.65v4.65h-4.65zM564.2 81.8h4.65v4.65h-4.65zM568.6 81.8h4.65v4.65h-4.65zM573.1 81.8h4.65v4.65h-4.65zM577.5 81.8h4.65v4.65h-4.65zM590.9 81.8h4.65v4.65h-4.65zM510.8 86.3h4.65v4.65h-4.65zM524.2 86.3h4.65v4.65h-4.65zM537.5 86.3h4.65v4.65h-4.65zM586.4 86.3h4.65v4.65h-4.65zM595.3 86.3h4.65v4.65h-4.65zM528.6 90.7h4.65v4.65h-4.65zM537.5 90.7h4.65v4.65h-4.65zM559.7 90.7h4.65v4.65h-4.65zM595.3 90.7h4.65v4.65h-4.65zM528.6 95.2h4.65v4.65h-4.65zM550.9 95.2h4.65v4.65h-4.65zM573.1 95.2h4.65v4.65h-4.65zM590.9 95.2h4.65v4.65h-4.65zM550.9 99.6h4.65v4.65h-4.65zM555.3 99.6h4.65v4.65h-4.65zM524.2 104.1h4.65v4.65h-4.65zM533.1 104.1h4.65v4.65h-4.65zM550.9 104.1h4.65v4.65h-4.65zM577.5 104.1h4.65v4.65h-4.65zM595.3 104.1h4.65v4.65h-4.65zM510.8 108.5h4.65v4.65h-4.65zM533.1 108.5h4.65v4.65h-4.65zM546.4 108.5h4.65v4.65h-4.65zM550.9 113.0h4.65v4.65h-4.65zM533.1 117.4h4.65v4.65h-4.65zM537.5 117.4h4.65v4.65h-4.65zM542.0 117.4h4.65v4.65h-4.65zM559.7 117.4h4.65v4.65h-4.65zM524.2 121.9h4.65v4.65h-4.65zM542.0 121.9h4.65v4.65h-4.65zM550.9 121.9h4.65v4.65h-4.65zM559.7 121.9h4.65v4.65h-4.65zM564.2 121.9h4.65v4.65h-4.65zM595.3 121.9h4.65v4.65h-4.65zM599.8 121.9h4.65v4.65h-4.65zM617.6 126.3h4.65v4.65h-4.65zM542.0 130.8h4.65v4.65h-4.65zM550.9 130.8h4.65v4.65h-4.65zM568.6 130.8h4.65v4.65h-4.65zM524.2 135.2h4.65v4.65h-4.65zM568.6 135.2h4.65v4.65h-4.65zM573.1 135.2h4.65v4.65h-4.65zM590.9 135.2h4.65v4.65h-4.65zM604.2 139.7h4.65v4.65h-4.65z"/>
<path fill="#c16b1e" d="M524.2 10.7h4.65v4.65h-4.65zM528.6 10.7h4.65v4.65h-4.65zM550.9 10.7h4.65v4.65h-4.65zM582.0 10.7h4.65v4.65h-4.65zM586.4 10.7h4.65v4.65h-4.65zM524.2 19.6h4.65v4.65h-4.65zM568.6 19.6h4.65v4.65h-4.65zM524.2 28.5h4.65v4.65h-4.65zM528.6 28.5h4.65v4.65h-4.65zM533.1 28.5h4.65v4.65h-4.65zM568.6 28.5h4.65v4.65h-4.65zM533.1 37.4h4.65v4.65h-4.65zM533.1 41.8h4.65v4.65h-4.65zM555.3 41.8h4.65v4.65h-4.65zM559.7 41.8h4.65v4.65h-4.65zM568.6 41.8h4.65v4.65h-4.65zM524.2 46.3h4.65v4.65h-4.65zM577.5 46.3h4.65v4.65h-4.65zM528.6 50.7h4.65v4.65h-4.65zM564.2 50.7h4.65v4.65h-4.65zM573.1 50.7h4.65v4.65h-4.65zM590.9 50.7h4.65v4.65h-4.65zM524.2 55.2h4.65v4.65h-4.65zM537.5 55.2h4.65v4.65h-4.65zM573.1 55.2h4.65v4.65h-4.65zM577.5 55.2h4.65v4.65h-4.65zM542.0 59.6h4.65v4.65h-4.65zM550.9 59.6h4.65v4.65h-4.65zM550.9 64.1h4.65v4.65h-4.65zM519.7 68.5h4.65v4.65h-4.65zM550.9 68.5h4.65v4.65h-4.65zM573.1 68.5h4.65v4.65h-4.65zM533.1 73.0h4.65v4.65h-4.65zM542.0 73.0h4.65v4.65h-4.65zM550.9 73.0h4.65v4.65h-4.65zM524.2 77.4h4.65v4.65h-4.65zM568.6 77.4h4.65v4.65h-4.65zM582.0 77.4h4.65v4.65h-4.65zM528.6 86.3h4.65v4.65h-4.65zM546.4 86.3h4.65v4.65h-4.65zM550.9 86.3h4.65v4.65h-4.65zM559.7 86.3h4.65v4.65h-4.65zM510.8 90.7h4.65v4.65h-4.65zM515.3 90.7h4.65v4.65h-4.65zM524.2 90.7h4.65v4.65h-4.65zM533.1 90.7h4.65v4.65h-4.65zM542.0 90.7h4.65v4.65h-4.65zM546.4 90.7h4.65v4.65h-4.65zM564.2 90.7h4.65v4.65h-4.65zM573.1 90.7h4.65v4.65h-4.65zM586.4 90.7h4.65v4.65h-4.65zM590.9 90.7h4.65v4.65h-4.65zM515.3 95.2h4.65v4.65h-4.65zM559.7 95.2h4.65v4.65h-4.65zM577.5 95.2h4.65v4.65h-4.65zM586.4 95.2h4.65v4.65h-4.65zM506.4 99.6h4.65v4.65h-4.65zM510.8 99.6h4.65v4.65h-4.65zM519.7 99.6h4.65v4.65h-4.65zM528.6 99.6h4.65v4.65h-4.65zM546.4 99.6h4.65v4.65h-4.65zM564.2 99.6h4.65v4.65h-4.65zM564.2 104.1h4.65v4.65h-4.65zM568.6 104.1h4.65v4.65h-4.65zM573.1 104.1h4.65v4.65h-4.65zM586.4 104.1h4.65v4.65h-4.65zM577.5 108.5h4.65v4.65h-4.65zM582.0 108.5h4.65v4.65h-4.65zM546.4 113.0h4.65v4.65h-4.65zM568.6 113.0h4.65v4.65h-4.65zM546.4 117.4h4.65v4.65h-4.65zM568.6 117.4h4.65v4.65h-4.65zM528.6 121.9h4.65v4.65h-4.65zM533.1 121.9h4.65v4.65h-4.65zM546.4 121.9h4.65v4.65h-4.65zM568.6 121.9h4.65v4.65h-4.65zM528.6 126.3h4.65v4.65h-4.65zM542.0 126.3h4.65v4.65h-4.65zM559.7 126.3h4.65v4.65h-4.65zM524.2 130.8h4.65v4.65h-4.65zM546.4 130.8h4.65v4.65h-4.65zM528.6 135.2h4.65v4.65h-4.65zM533.1 135.2h4.65v4.65h-4.65zM550.9 135.2h4.65v4.65h-4.65zM586.4 135.2h4.65v4.65h-4.65zM524.2 139.7h4.65v4.65h-4.65zM586.4 139.7h4.65v4.65h-4.65z"/>
<path fill="#c5741f" d="M533.1 10.7h4.65v4.65h-4.65zM564.2 10.7h4.65v4.65h-4.65zM577.5 10.7h4.65v4.65h-4.65zM533.1 15.1h4.65v4.65h-4.65zM546.4 15.1h4.65v4.65h-4.65zM559.7 15.1h4.65v4.65h-4.65zM573.1 19.6h4.65v4.65h-4.65zM577.5 19.6h4.65v4.65h-4.65zM555.3 24.0h4.65v4.65h-4.65zM542.0 28.5h4.65v4.65h-4.65zM559.7 28.5h4.65v4.65h-4.65zM542.0 32.9h4.65v4.65h-4.65zM546.4 32.9h4.65v4.65h-4.65zM528.6 37.4h4.65v4.65h-4.65zM546.4 37.4h4.65v4.65h-4.65zM533.1 46.3h4.65v4.65h-4.65zM546.4 46.3h4.65v4.65h-4.65zM524.2 50.7h4.65v4.65h-4.65zM533.1 50.7h4.65v4.65h-4.65zM542.0 50.7h4.65v4.65h-4.65zM546.4 55.2h4.65v4.65h-4.65zM577.5 59.6h4.65v4.65h-4.65zM537.5 68.5h4.65v4.65h-4.65zM542.0 68.5h4.65v4.65h-4.65zM533.1 77.4h4.65v4.65h-4.65zM573.1 86.3h4.65v4.65h-4.65zM577.5 90.7h4.65v4.65h-4.65zM510.8 95.2h4.65v4.65h-4.65zM519.7 95.2h4.65v4.65h-4.65zM564.2 95.2h4.65v4.65h-4.65zM568.6 95.2h4.65v4.65h-4.65zM568.6 99.6h4.65v4.65h-4.65zM533.1 126.3h4.65v4.65h-4.65zM528.6 130.8h4.65v4.65h-4.65zM537.5 130.8h4.65v4.65h-4.65zM555.3 130.8h4.65v4.65h-4.65zM559.7 130.8h4.65v4.65h-4.65zM555.3 135.2h4.65v4.65h-4.65zM537.5 139.7h4.65v4.65h-4.65z"/>
<path fill="#c77920" d="M537.5 10.7h4.65v4.65h-4.65zM559.7 10.7h4.65v4.65h-4.65zM550.9 15.1h4.65v4.65h-4.65zM564.2 15.1h4.65v4.65h-4.65zM568.6 15.1h4.65v4.65h-4.65zM546.4 19.6h4.65v4.65h-4.65zM559.7 19.6h4.65v4.65h-4.65zM542.0 24.0h4.65v4.65h-4.65zM546.4 24.0h4.65v4.65h-4.65zM537.5 28.5h4.65v4.65h-4.65zM546.4 28.5h4.65v4.65h-4.65zM559.7 32.9h4.65v4.65h-4.65zM537.5 37.4h4.65v4.65h-4.65zM559.7 37.4h4.65v4.65h-4.65zM546.4 41.8h4.65v4.65h-4.65zM550.9 41.8h4.65v4.65h-4.65zM568.6 50.7h4.65v4.65h-4.65zM528.6 55.2h4.65v4.65h-4.65zM546.4 59.6h4.65v4.65h-4.65zM577.5 64.1h4.65v4.65h-4.65zM546.4 68.5h4.65v4.65h-4.65zM577.5 68.5h4.65v4.65h-4.65zM537.5 73.0h4.65v4.65h-4.65zM550.9 126.3h4.65v4.65h-4.65zM533.1 130.8h4.65v4.65h-4.65zM542.0 135.2h4.65v4.65h-4.65zM559.7 135.2h4.65v4.65h-4.65zM559.7 139.7h4.65v4.65h-4.65z"/>
<path fill="#cc8222" d="M542.0 10.7h4.65v4.65h-4.65zM550.9 19.6h4.65v4.65h-4.65zM550.9 24.0h4.65v4.65h-4.65zM555.3 28.5h4.65v4.65h-4.65zM550.9 32.9h4.65v4.65h-4.65zM555.3 32.9h4.65v4.65h-4.65zM537.5 41.8h4.65v4.65h-4.65zM542.0 41.8h4.65v4.65h-4.65zM537.5 50.7h4.65v4.65h-4.65z"/>
<path fill="#c36f1f" d="M546.4 10.7h4.65v4.65h-4.65zM555.3 10.7h4.65v4.65h-4.65zM528.6 15.1h4.65v4.65h-4.65zM555.3 15.1h4.65v4.65h-4.65zM573.1 15.1h4.65v4.65h-4.65zM577.5 15.1h4.65v4.65h-4.65zM582.0 15.1h4.65v4.65h-4.65zM537.5 19.6h4.65v4.65h-4.65zM564.2 19.6h4.65v4.65h-4.65zM559.7 24.0h4.65v4.65h-4.65zM564.2 24.0h4.65v4.65h-4.65zM568.6 24.0h4.65v4.65h-4.65zM564.2 28.5h4.65v4.65h-4.65zM528.6 32.9h4.65v4.65h-4.65zM568.6 32.9h4.65v4.65h-4.65zM573.1 32.9h4.65v4.65h-4.65zM564.2 37.4h4.65v4.65h-4.65zM568.6 37.4h4.65v4.65h-4.65zM573.1 37.4h4.65v4.65h-4.65zM528.6 41.8h4.65v4.65h-4.65zM564.2 41.8h4.65v4.65h-4.65zM528.6 46.3h4.65v4.65h-4.65zM537.5 46.3h4.65v4.65h-4.65zM542.0 46.3h4.65v4.65h-4.65zM550.9 46.3h4.65v4.65h-4.65zM564.2 46.3h4.65v4.65h-4.65zM568.6 46.3h4.65v4.65h-4.65zM546.4 50.7h4.65v4.65h-4.65zM550.9 50.7h4.65v4.65h-4.65zM555.3 50.7h4.65v4.65h-4.65zM559.7 50.7h4.65v4.65h-4.65zM542.0 55.2h4.65v4.65h-4.65zM564.2 55.2h4.65v4.65h-4.65zM573.1 59.6h4.65v4.65h-4.65zM528.6 64.1h4.65v4.65h-4.65zM533.1 64.1h4.65v4.65h-4.65zM542.0 64.1h4.65v4.65h-4.65zM546.4 64.1h4.65v4.65h-4.65zM582.0 64.1h4.65v4.65h-4.65zM559.7 68.5h4.65v4.65h-4.65zM582.0 68.5h4.65v4.65h-4.65zM546.4 73.0h4.65v4.65h-4.65zM555.3 73.0h4.65v4.65h-4.65zM559.7 73.0h4.65v4.65h-4.65zM577.5 73.0h4.65v4.65h-4.65zM528.6 77.4h4.65v4.65h-4.65zM533.1 81.8h4.65v4.65h-4.65zM533.1 86.3h4.65v4.65h-4.65zM542.0 86.3h4.65v4.65h-4.65zM568.6 86.3h4.65v4.65h-4.65zM577.5 86.3h4.65v4.65h-4.65zM582.0 86.3h4.65v4.65h-4.65zM519.7 90.7h4.65v4.65h-4.65zM582.0 90.7h4.65v4.65h-4.65zM546.4 95.2h4.65v4.65h-4.65zM582.0 95.2h4.65v4.65h-4.65zM515.3 99.6h4.65v4.65h-4.65zM586.4 99.6h4.65v4.65h-4.65zM515.3 104.1h4.65v4.65h-4.65zM582.0 104.1h4.65v4.65h-4.65zM528.6 108.5h4.65v4.65h-4.65zM537.5 108.5h4.65v4.65h-4.65zM550.9 108.5h4.65v4.65h-4.65zM586.4 108.5h4.65v4.65h-4.65zM542.0 113.0h4.65v4.65h-4.65zM555.3 117.4h4.65v4.65h-4.65zM564.2 117.4h4.65v4.65h-4.65zM537.5 121.9h4.65v4.65h-4.65zM555.3 121.9h4.65v4.65h-4.65zM546.4 126.3h4.65v4.65h-4.65zM555.3 126.3h4.65v4.65h-4.65zM564.2 126.3h4.65v4.65h-4.65zM537.5 135.2h4.65v4.65h-4.65zM546.4 135.2h4.65v4.65h-4.65zM533.1 139.7h4.65v4.65h-4.65zM542.0 139.7h4.65v4.65h-4.65zM546.4 139.7h4.65v4.65h-4.65zM555.3 139.7h4.65v4.65h-4.65z"/>
<path fill="#ca7d21" d="M568.6 10.7h4.65v4.65h-4.65zM573.1 10.7h4.65v4.65h-4.65zM537.5 15.1h4.65v4.65h-4.65zM542.0 15.1h4.65v4.65h-4.65zM542.0 19.6h4.65v4.65h-4.65zM555.3 19.6h4.65v4.65h-4.65zM550.9 28.5h4.65v4.65h-4.65zM537.5 32.9h4.65v4.65h-4.65zM564.2 32.9h4.65v4.65h-4.65zM550.9 37.4h4.65v4.65h-4.65zM555.3 37.4h4.65v4.65h-4.65z"/>
<path fill="#a54c3f" d="M599.8 10.7h4.65v4.65h-4.65zM613.1 10.7h4.65v4.65h-4.65zM595.3 15.1h4.65v4.65h-4.65zM506.4 19.6h4.65v4.65h-4.65zM515.3 19.6h4.65v4.65h-4.65zM519.7 24.0h4.65v4.65h-4.65zM586.4 24.0h4.65v4.65h-4.65zM590.9 28.5h4.65v4.65h-4.65zM510.8 32.9h4.65v4.65h-4.65zM599.8 32.9h4.65v4.65h-4.65zM515.3 37.4h4.65v4.65h-4.65zM595.3 37.4h4.65v4.65h-4.65zM515.3 41.8h4.65v4.65h-4.65zM497.5 46.3h4.65v4.65h-4.65zM515.3 46.3h4.65v4.65h-4.65zM608.7 50.7h4.65v4.65h-4.65zM510.8 55.2h4.65v4.65h-4.65zM608.7 55.2h4.65v4.65h-4.65zM501.9 59.6h4.65v4.65h-4.65zM515.3 59.6h4.65v4.65h-4.65zM608.7 59.6h4.65v4.65h-4.65zM613.1 64.1h4.65v4.65h-4.65zM595.3 68.5h4.65v4.65h-4.65zM604.2 68.5h4.65v4.65h-4.65zM608.7 68.5h4.65v4.65h-4.65zM617.6 68.5h4.65v4.65h-4.65zM488.6 73.0h4.65v4.65h-4.65zM493.0 73.0h4.65v4.65h-4.65zM501.9 73.0h4.65v4.65h-4.65zM599.8 73.0h4.65v4.65h-4.65zM604.2 73.0h4.65v4.65h-4.65zM617.6 73.0h4.65v4.65h-4.65zM501.9 77.4h4.65v4.65h-4.65zM506.4 77.4h4.65v4.65h-4.65zM493.0 81.8h4.65v4.65h-4.65zM501.9 81.8h4.65v4.65h-4.65zM613.1 81.8h4.65v4.65h-4.65zM488.6 86.3h4.65v4.65h-4.65zM608.7 90.7h4.65v4.65h-4.65zM613.1 90.7h4.65v4.65h-4.65zM493.0 95.2h4.65v4.65h-4.65zM595.3 95.2h4.65v4.65h-4.65zM599.8 95.2h4.65v4.65h-4.65zM604.2 95.2h4.65v4.65h-4.65zM488.6 99.6h4.65v4.65h-4.65zM608.7 99.6h4.65v4.65h-4.65zM493.0 108.5h4.65v4.65h-4.65zM604.2 108.5h4.65v4.65h-4.65zM497.5 113.0h4.65v4.65h-4.65zM519.7 113.0h4.65v4.65h-4.65zM515.3 117.4h4.65v4.65h-4.65zM519.7 117.4h4.65v4.65h-4.65zM608.7 117.4h4.65v4.65h-4.65zM613.1 117.4h4.65v4.65h-4.65zM497.5 121.9h4.65v4.65h-4.65zM501.9 121.9h4.65v4.65h-4.65zM506.4 121.9h4.65v4.65h-4.65zM604.2 121.9h4.65v4.65h-4.65zM608.7 121.9h4.65v4.65h-4.65zM586.4 126.3h4.65v4.65h-4.65zM608.7 126.3h4.65v4.65h-4.65zM493.0 135.2h4.65v4.65h-4.65zM515.3 139.7h4.65v4.65h-4.65z"/>
<path fill="#aa5038" d="M604.2 10.7h4.65v4.65h-4.65zM608.7 10.7h4.65v4.65h-4.65zM510.8 15.1h4.65v4.65h-4.65zM599.8 15.1h4.65v4.65h-4.65zM608.7 15.1h4.65v4.65h-4.65zM617.6 15.1h4.65v4.65h-4.65zM604.2 19.6h4.65v4.65h-4.65zM524.2 24.0h4.65v4.65h-4.65zM595.3 24.0h4.65v4.65h-4.65zM515.3 28.5h4.65v4.65h-4.65zM586.4 32.9h4.65v4.65h-4.65zM599.8 37.4h4.65v4.65h-4.65zM519.7 41.8h4.65v4.65h-4.65zM586.4 41.8h4.65v4.65h-4.65zM595.3 41.8h4.65v4.65h-4.65zM604.2 50.7h4.65v4.65h-4.65zM501.9 55.2h4.65v4.65h-4.65zM519.7 55.2h4.65v4.65h-4.65zM617.6 55.2h4.65v4.65h-4.65zM519.7 59.6h4.65v4.65h-4.65zM564.2 59.6h4.65v4.65h-4.65zM599.8 59.6h4.65v4.65h-4.65zM501.9 64.1h4.65v4.65h-4.65zM590.9 64.1h4.65v4.65h-4.65zM599.8 64.1h4.65v4.65h-4.65zM586.4 68.5h4.65v4.65h-4.65zM590.9 68.5h4.65v4.65h-4.65zM613.1 68.5h4.65v4.65h-4.65zM488.6 77.4h4.65v4.65h-4.65zM510.8 77.4h4.65v4.65h-4.65zM515.3 77.4h4.65v4.65h-4.65zM586.4 77.4h4.65v4.65h-4.65zM599.8 77.4h4.65v4.65h-4.65zM604.2 77.4h4.65v4.65h-4.65zM613.1 77.4h4.65v4.65h-4.65zM604.2 81.8h4.65v4.65h-4.65zM608.7 81.8h4.65v4.65h-4.65zM604.2 86.3h4.65v4.65h-4.65zM613.1 86.3h4.65v4.65h-4.65zM617.6 86.3h4.65v4.65h-4.65zM599.8 90.7h4.65v4.65h-4.65zM497.5 95.2h4.65v4.65h-4.65zM501.9 95.2h4.65v4.65h-4.65zM599.8 99.6h4.65v4.65h-4.65zM608.7 104.1h4.65v4.65h-4.65zM617.6 104.1h4.65v4.65h-4.65zM497.5 108.5h4.65v4.65h-4.65zM568.6 108.5h4.65v4.65h-4.65zM608.7 108.5h4.65v4.65h-4.65zM515.3 113.0h4.65v4.65h-4.65zM501.9 117.4h4.65v4.65h-4.65zM510.8 117.4h4.65v4.65h-4.65zM577.5 117.4h4.65v4.65h-4.65zM582.0 121.9h4.65v4.65h-4.65zM613.1 121.9h4.65v4.65h-4.65zM617.6 121.9h4.65v4.65h-4.65zM515.3 126.3h4.65v4.65h-4.65zM577.5 126.3h4.65v4.65h-4.65zM582.0 126.3h4.65v4.65h-4.65zM599.8 126.3h4.65v4.65h-4.65zM613.1 126.3h4.65v4.65h-4.65zM488.6 130.8h4.65v4.65h-4.65zM493.0 130.8h4.65v4.65h-4.65zM604.2 130.8h4.65v4.65h-4.65zM608.7 130.8h4.65v4.65h-4.65zM488.6 135.2h4.65v4.65h-4.65zM599.8 135.2h4.65v4.65h-4.65zM501.9 139.7h4.65v4.65h-4.65z"/>
<path fill="#a04845" d="M617.6 10.7h4.65v4.65h-4.65zM506.4 15.1h4.65v4.65h-4.65zM608.7 19.6h4.65v4.65h-4.65zM617.6 19.6h4.65v4.65h-4.65zM506.4 24.0h4.65v4.65h-4.65zM510.8 24.0h4.65v4.65h-4.65zM590.9 24.0h4.65v4.65h-4.65zM613.1 24.0h4.65v4.65h-4.65zM501.9 28.5h4.65v4.65h-4.65zM506.4 28.5h4.65v4.65h-4.65zM599.8 28.5h4.65v4.65h-4.65zM590.9 32.9h4.65v4.65h-4.65zM506.4 37.4h4.65v4.65h-4.65zM506.4 41.8h4.65v4.65h-4.65zM604.2 41.8h4.65v4.65h-4.65zM506.4 46.3h4.65v4.65h-4.65zM608.7 46.3h4.65v4.65h-4.65zM488.6 50.7h4.65v4.65h-4.65zM493.0 50.7h4.65v4.65h-4.65zM497.5 50.7h4.65v4.65h-4.65zM501.9 50.7h4.65v4.65h-4.65zM515.3 50.7h4.65v4.65h-4.65zM493.0 55.2h4.65v4.65h-4.65zM515.3 55.2h4.65v4.65h-4.65zM604.2 55.2h4.65v4.65h-4.65zM488.6 59.6h4.65v4.65h-4.65zM604.2 59.6h4.65v4.65h-4.65zM488.6 64.1h4.65v4.65h-4.65zM493.0 64.1h4.65v4.65h-4.65zM497.5 64.1h4.65v4.65h-4.65zM488.6 68.5h4.65v4.65h-4.65zM493.0 68.5h4.65v4.65h-4.65zM493.0 77.4h4.65v4.65h-4.65zM608.7 77.4h4.65v4.65h-4.65zM497.5 86.3h4.65v4.65h-4.65zM608.7 86.3h4.65v4.65h-4.65zM488.6 90.7h4.65v4.65h-4.65zM493.0 90.7h4.65v4.65h-4.65zM497.5 90.7h4.65v4.65h-4.65zM493.0 99.6h4.65v4.65h-4.65zM497.5 104.1h4.65v4.65h-4.65zM604.2 104.1h4.65v4.65h-4.65zM613.1 108.5h4.65v4.65h-4.65zM501.9 113.0h4.65v4.65h-4.65zM608.7 113.0h4.65v4.65h-4.65zM586.4 117.4h4.65v4.65h-4.65zM488.6 121.9h4.65v4.65h-4.65zM493.0 121.9h4.65v4.65h-4.65zM515.3 121.9h4.65v4.65h-4.65zM586.4 121.9h4.65v4.65h-4.65zM497.5 126.3h4.65v4.65h-4.65zM510.8 126.3h4.65v4.65h-4.65zM604.2 126.3h4.65v4.65h-4.65zM488.6 139.7h4.65v4.65h-4.65z"/>
<path fill="#8c385d" d="M488.6 15.1h4.65v4.65h-4.65zM497.5 15.1h4.65v4.65h-4.65zM501.9 15.1h4.65v4.65h-4.65zM488.6 19.6h4.65v4.65h-4.65zM488.6 24.0h4.65v4.65h-4.65zM497.5 24.0h4.65v4.65h-4.65zM488.6 28.5h4.65v4.65h-4.65zM497.5 28.5h4.65v4.65h-4.65zM617.6 32.9h4.65v4.65h-4.65zM608.7 37.4h4.65v4.65h-4.65zM493.0 41.8h4.65v4.65h-4.65zM501.9 41.8h4.65v4.65h-4.65zM510.8 41.8h4.65v4.65h-4.65z"/>
<path fill="#b96026" d="M604.2 15.1h4.65v4.65h-4.65zM533.1 24.0h4.65v4.65h-4.65zM577.5 24.0h4.65v4.65h-4.65zM582.0 24.0h4.65v4.65h-4.65zM519.7 32.9h4.65v4.65h-4.65zM524.2 32.9h4.65v4.65h-4.65zM577.5 32.9h4.65v4.65h-4.65zM577.5 37.4h4.65v4.65h-4.65zM582.0 37.4h4.65v4.65h-4.65zM519.7 46.3h4.65v4.65h-4.65zM586.4 46.3h4.65v4.65h-4.65zM577.5 50.7h4.65v4.65h-4.65zM582.0 50.7h4.65v4.65h-4.65zM586.4 50.7h4.65v4.65h-4.65zM555.3 55.2h4.65v4.65h-4.65zM559.7 55.2h4.65v4.65h-4.65zM586.4 55.2h4.65v4.65h-4.65zM510.8 59.6h4.65v4.65h-4.65zM524.2 59.6h4.65v4.65h-4.65zM555.3 59.6h4.65v4.65h-4.65zM582.0 59.6h4.65v4.65h-4.65zM506.4 64.1h4.65v4.65h-4.65zM515.3 64.1h4.65v4.65h-4.65zM524.2 64.1h4.65v4.65h-4.65zM528.6 68.5h4.65v4.65h-4.65zM555.3 68.5h4.65v4.65h-4.65zM524.2 73.0h4.65v4.65h-4.65zM564.2 73.0h4.65v4.65h-4.65zM590.9 73.0h4.65v4.65h-4.65zM519.7 77.4h4.65v4.65h-4.65zM537.5 77.4h4.65v4.65h-4.65zM546.4 77.4h4.65v4.65h-4.65zM550.9 77.4h4.65v4.65h-4.65zM559.7 77.4h4.65v4.65h-4.65zM564.2 77.4h4.65v4.65h-4.65zM573.1 77.4h4.65v4.65h-4.65zM528.6 81.8h4.65v4.65h-4.65zM542.0 81.8h4.65v4.65h-4.65zM546.4 81.8h4.65v4.65h-4.65zM559.7 81.8h4.65v4.65h-4.65zM595.3 81.8h4.65v4.65h-4.65zM599.8 81.8h4.65v4.65h-4.65zM506.4 86.3h4.65v4.65h-4.65zM515.3 86.3h4.65v4.65h-4.65zM564.2 86.3h4.65v4.65h-4.65zM506.4 90.7h4.65v4.65h-4.65zM555.3 90.7h4.65v4.65h-4.65zM568.6 90.7h4.65v4.65h-4.65zM542.0 95.2h4.65v4.65h-4.65zM555.3 95.2h4.65v4.65h-4.65zM542.0 99.6h4.65v4.65h-4.65zM559.7 99.6h4.65v4.65h-4.65zM573.1 99.6h4.65v4.65h-4.65zM577.5 99.6h4.65v4.65h-4.65zM582.0 99.6h4.65v4.65h-4.65zM613.1 99.6h4.65v4.65h-4.65zM510.8 104.1h4.65v4.65h-4.65zM546.4 104.1h4.65v4.65h-4.65zM559.7 104.1h4.65v4.65h-4.65zM590.9 104.1h4.65v4.65h-4.65zM501.9 108.5h4.65v4.65h-4.65zM590.9 108.5h4.65v4.65h-4.65zM506.4 113.0h4.65v4.65h-4.65zM510.8 113.0h4.65v4.65h-4.65zM528.6 113.0h4.65v4.65h-4.65zM533.1 113.0h4.65v4.65h-4.65zM537.5 113.0h4.65v4.65h-4.65zM555.3 113.0h4.65v4.65h-4.65zM559.7 113.0h4.65v4.65h-4.65zM582.0 113.0h4.65v4.65h-4.65zM586.4 113.0h4.65v4.65h-4.65zM528.6 117.4h4.65v4.65h-4.65zM550.9 117.4h4.65v4.65h-4.65zM599.8 117.4h4.65v4.65h-4.65zM604.2 117.4h4.65v4.65h-4.65zM524.2 126.3h4.65v4.65h-4.65zM537.5 126.3h4.65v4.65h-4.65zM519.7 130.8h4.65v4.65h-4.65zM564.2 130.8h4.65v4.65h-4.65zM595.3 130.8h4.65v4.65h-4.65zM599.8 130.8h4.65v4.65h-4.65zM501.9 135.2h4.65v4.65h-4.65zM506.4 135.2h4.65v4.65h-4.65zM519.7 135.2h4.65v4.65h-4.65zM582.0 135.2h4.65v4.65h-4.65zM604.2 135.2h4.65v4.65h-4.65zM613.1 135.2h4.65v4.65h-4.65zM510.8 139.7h4.65v4.65h-4.65zM519.7 139.7h4.65v4.65h-4.65zM528.6 139.7h4.65v4.65h-4.65zM550.9 139.7h4.65v4.65h-4.65zM568.6 139.7h4.65v4.65h-4.65zM582.0 139.7h4.65v4.65h-4.65zM599.8 139.7h4.65v4.65h-4.65zM617.6 139.7h4.65v4.65h-4.65z"/>
<path fill="#964051" d="M497.5 19.6h4.65v4.65h-4.65zM501.9 24.0h4.65v4.65h-4.65zM608.7 24.0h4.65v4.65h-4.65zM510.8 28.5h4.65v4.65h-4.65zM604.2 28.5h4.65v4.65h-4.65zM608.7 28.5h4.65v4.65h-4.65zM613.1 28.5h4.65v4.65h-4.65zM506.4 32.9h4.65v4.65h-4.65zM604.2 37.4h4.65v4.65h-4.65zM613.1 46.3h4.65v4.65h-4.65zM617.6 46.3h4.65v4.65h-4.65zM510.8 50.7h4.65v4.65h-4.65zM493.0 59.6h4.65v4.65h-4.65zM617.6 59.6h4.65v4.65h-4.65zM617.6 64.1h4.65v4.65h-4.65zM613.1 73.0h4.65v4.65h-4.65zM617.6 77.4h4.65v4.65h-4.65zM488.6 81.8h4.65v4.65h-4.65zM488.6 95.2h4.65v4.65h-4.65zM497.5 99.6h4.65v4.65h-4.65zM488.6 108.5h4.65v4.65h-4.65zM488.6 117.4h4.65v4.65h-4.65zM493.0 117.4h4.65v4.65h-4.65z"/>
<path fill="#cd8623" d="M542.0 37.4h4.65v4.65h-4.65z"/>
<path fill="#833163" d="M617.6 41.8h4.65v4.65h-4.65z"/>
</g>
<rect x="488.6" y="10.7" width="133.4" height="133.1" filter="url(#afmdark)" opacity="0.8"/>
<rect x="488.6" y="10.7" width="133.4" height="133.1" filter="url(#afmlight)" opacity="0.7"/>
</g>
<rect x="585.8" y="129.4" width="27" height="3.2" fill="#fff" stroke="#555" stroke-width="0.5"/>
<text x="599.6" y="140.2" font-size="8.2" font-weight="bold" text-anchor="middle" fill="#fff" stroke="#333" stroke-width="1.0" paint-order="stroke" stroke-linejoin="round">1μm</text>
<defs><linearGradient id="afmcb" x1="0" y1="0" x2="0" y2="1">
<stop offset="0" stop-color="#f8f6d2"/><stop offset="0.08" stop-color="#efe68a"/><stop offset="0.17" stop-color="#e6d448"/>
<stop offset="0.3" stop-color="#d6aa22"/><stop offset="0.4" stop-color="#c88218"/><stop offset="0.5" stop-color="#b8602c"/>
<stop offset="0.6" stop-color="#9c3c52"/><stop offset="0.68" stop-color="#7e226e"/><stop offset="0.8" stop-color="#4a0f70"/>
<stop offset="0.9" stop-color="#260856"/><stop offset="1" stop-color="#0c0424"/></linearGradient></defs>
<rect x="627.4" y="28.2" width="24.3" height="112" fill="url(#afmcb)" stroke="#777" stroke-width="0.6"/>
<text x="640.00" y="26.00" font-size="7.20" text-anchor="middle" fill="#333">nm</text>
<text x="639.60" y="36.00" font-size="7.60" text-anchor="middle" fill="#333">1.00</text>
<text x="639.60" y="87.80" font-size="7.60" text-anchor="middle" fill="#f4e6dc">0.00</text>
<text x="639.60" y="139.00" font-size="7.60" text-anchor="middle" fill="#fff">-1.00</text>
<text x="461.40" y="166.00" font-size="14.00" font-weight="bold">d</text>
<defs><linearGradient id="obar" x1="0" y1="0" x2="0" y2="1">
<stop offset="0" stop-color="#8fc2e3"/><stop offset="1" stop-color="#3f8cc6"/></linearGradient></defs>
<rect x="504.5" y="171.5" width="149.0" height="120.0" fill="none" stroke="#8a8a8a" stroke-width="0.9"/>
<line x1="504.50" y1="291.50" x2="506.70" y2="291.50" stroke="#666" stroke-width="0.8"/>
<text x="502.40" y="294.30" font-size="8.00" text-anchor="end" fill="#222">20%</text>
<line x1="504.50" y1="267.23" x2="506.70" y2="267.23" stroke="#666" stroke-width="0.8"/>
<text x="502.40" y="270.03" font-size="8.00" text-anchor="end" fill="#222">40%</text>
<line x1="504.50" y1="242.95" x2="506.70" y2="242.95" stroke="#666" stroke-width="0.8"/>
<text x="502.40" y="245.75" font-size="8.00" text-anchor="end" fill="#222">60%</text>
<line x1="504.50" y1="218.68" x2="506.70" y2="218.68" stroke="#666" stroke-width="0.8"/>
<text x="502.40" y="221.48" font-size="8.00" text-anchor="end" fill="#222">80%</text>
<line x1="504.50" y1="194.40" x2="506.70" y2="194.40" stroke="#666" stroke-width="0.8"/>
<text x="502.40" y="197.20" font-size="8.00" text-anchor="end" fill="#222">100%</text>
<line x1="504.50" y1="279.36" x2="505.80" y2="279.36" stroke="#666" stroke-width="0.7"/>
<line x1="504.50" y1="255.09" x2="505.80" y2="255.09" stroke="#666" stroke-width="0.7"/>
<line x1="504.50" y1="230.81" x2="505.80" y2="230.81" stroke="#666" stroke-width="0.7"/>
<line x1="504.50" y1="206.54" x2="505.80" y2="206.54" stroke="#666" stroke-width="0.7"/>
<text transform="translate(481.00 232.00) rotate(-90)" font-size="11.00" text-anchor="middle" fill="#111">Area ratio</text>
<rect x="520.0" y="194.40" width="13.0" height="4.61" fill="#56b0a2"/>
<rect x="520.0" y="199.01" width="13.0" height="92.49" fill="url(#obar)"/>
<rect x="541.2" y="194.40" width="13.0" height="4.13" fill="#56b0a2"/>
<rect x="541.2" y="198.53" width="13.0" height="92.97" fill="url(#obar)"/>
<rect x="562.1" y="194.40" width="13.0" height="5.83" fill="#56b0a2"/>
<rect x="562.1" y="200.23" width="13.0" height="91.27" fill="url(#obar)"/>
<rect x="584.0" y="194.40" width="13.0" height="36.41" fill="#56b0a2"/>
<rect x="584.0" y="230.81" width="13.0" height="60.69" fill="url(#obar)"/>
<rect x="605.0" y="194.40" width="13.0" height="65.79" fill="#56b0a2"/>
<rect x="605.0" y="260.19" width="13.0" height="31.31" fill="url(#obar)"/>
<rect x="626.1" y="194.40" width="13.0" height="47.58" fill="#56b0a2"/>
<rect x="626.1" y="241.98" width="13.0" height="49.52" fill="url(#obar)"/>
<line x1="526.50" y1="291.50" x2="526.50" y2="289.70" stroke="#555" stroke-width="0.8"/>
<line x1="537.10" y1="291.50" x2="537.10" y2="290.00" stroke="#777" stroke-width="0.7"/>
<line x1="547.70" y1="291.50" x2="547.70" y2="289.70" stroke="#555" stroke-width="0.8"/>
<line x1="558.30" y1="291.50" x2="558.30" y2="290.00" stroke="#777" stroke-width="0.7"/>
<line x1="568.60" y1="291.50" x2="568.60" y2="289.70" stroke="#555" stroke-width="0.8"/>
<line x1="579.20" y1="291.50" x2="579.20" y2="290.00" stroke="#777" stroke-width="0.7"/>
<line x1="590.50" y1="291.50" x2="590.50" y2="289.70" stroke="#555" stroke-width="0.8"/>
<line x1="601.10" y1="291.50" x2="601.10" y2="290.00" stroke="#777" stroke-width="0.7"/>
<line x1="611.50" y1="291.50" x2="611.50" y2="289.70" stroke="#555" stroke-width="0.8"/>
<line x1="622.10" y1="291.50" x2="622.10" y2="290.00" stroke="#777" stroke-width="0.7"/>
<line x1="632.60" y1="291.50" x2="632.60" y2="289.70" stroke="#555" stroke-width="0.8"/>
<line x1="643.20" y1="291.50" x2="643.20" y2="290.00" stroke="#777" stroke-width="0.7"/>
<line x1="515.60" y1="291.50" x2="515.60" y2="290.00" stroke="#777" stroke-width="0.7"/>
<text transform="translate(532.3 298.6) rotate(-45)" font-size="8.3" text-anchor="end" fill="#222">n=2</text>
<text transform="translate(553.5 298.6) rotate(-45)" font-size="8.3" text-anchor="end" fill="#222">n=3</text>
<text transform="translate(574.4 298.6) rotate(-45)" font-size="8.3" text-anchor="end" fill="#222">n=6</text>
<text transform="translate(596.3 298.6) rotate(-45)" font-size="8.3" text-anchor="end" fill="#222">n=11</text>
<text transform="translate(617.3 298.6) rotate(-45)" font-size="8.3" text-anchor="end" fill="#222">n=16</text>
<text transform="translate(638.4 298.6) rotate(-45)" font-size="8.3" text-anchor="end" fill="#222">HZO</text>
<rect x="520.6" y="175.4" width="18.4" height="9.2" fill="url(#obar)"/>
<rect x="583.2" y="175.9" width="17.7" height="8.7" fill="#56b0a2"/>
<text x="543.4" y="183.2" font-size="7.9" font-weight="bold"><tspan font-style="italic">o</tspan>-phase</text>
<text x="605.8" y="183.2" font-size="7.9" font-weight="bold"><tspan font-style="italic">m</tspan>-phase</text>
<text x="9.50" y="331.60" font-size="14.00" font-weight="bold">e</text>
<defs>
<clipPath id="ecl"><circle cx="89.3" cy="409.5" r="58.8"/></clipPath>
<filter id="eb1" x="-50%" y="-50%" width="200%" height="200%"><feGaussianBlur stdDeviation="1.6"/></filter>
<filter id="eb2" x="-50%" y="-50%" width="200%" height="200%"><feGaussianBlur stdDeviation="3"/></filter>
<filter id="eb3" x="-50%" y="-50%" width="200%" height="200%"><feGaussianBlur stdDeviation="0.8"/></filter>
<linearGradient id="jet" x1="0" y1="1" x2="0" y2="0">
<stop offset="0" stop-color="#0000ff"/><stop offset="0.13" stop-color="#0080ff"/><stop offset="0.25" stop-color="#00ffff"/>
<stop offset="0.37" stop-color="#00ff80"/><stop offset="0.5" stop-color="#00ff00"/><stop offset="0.62" stop-color="#80ff00"/>
<stop offset="0.73" stop-color="#ffff00"/><stop offset="0.84" stop-color="#ff8c00"/><stop offset="0.93" stop-color="#ff2000"/><stop offset="1" stop-color="#ff0000"/></linearGradient>
</defs>
<g clip-path="url(#ecl)">
<circle cx="89.3" cy="409.5" r="58.8" fill="#0610fc"/>
<g fill="#1a5cff" opacity="0.25" filter="url(#eb1)"><circle cx="54.0" cy="445.8" r="3.1"/><circle cx="71.4" cy="362.2" r="3.3"/><circle cx="96.6" cy="370.0" r="3.4"/><circle cx="44.4" cy="442.6" r="1.7"/><circle cx="94.9" cy="438.1" r="2.6"/><circle cx="86.3" cy="415.5" r="1.9"/><circle cx="144.6" cy="419.9" r="3.0"/><circle cx="133.6" cy="381.3" r="1.8"/><circle cx="75.2" cy="425.0" r="1.5"/><circle cx="69.8" cy="390.9" r="1.9"/><circle cx="83.2" cy="354.9" r="2.1"/><circle cx="79.0" cy="367.6" r="2.9"/><circle cx="144.1" cy="393.5" r="2.9"/><circle cx="77.7" cy="355.1" r="2.1"/><circle cx="107.6" cy="424.9" r="1.8"/><circle cx="102.1" cy="379.9" r="2.7"/><circle cx="90.3" cy="361.1" r="2.2"/><circle cx="138.8" cy="429.1" r="2.5"/><circle cx="126.7" cy="425.9" r="2.9"/><circle cx="109.7" cy="355.1" r="1.5"/><circle cx="35.3" cy="409.6" r="1.5"/><circle cx="54.7" cy="401.1" r="2.7"/><circle cx="90.0" cy="396.8" r="1.9"/><circle cx="82.1" cy="384.5" r="3.0"/><circle cx="64.9" cy="357.9" r="2.2"/><circle cx="123.0" cy="435.6" r="3.1"/><circle cx="121.2" cy="369.9" r="3.1"/><circle cx="80.6" cy="402.3" r="3.4"/><circle cx="107.9" cy="380.7" r="2.7"/><circle cx="72.4" cy="379.7" r="3.3"/><circle cx="80.1" cy="441.1" r="2.1"/><circle cx="104.1" cy="402.3" r="1.8"/><circle cx="34.8" cy="431.4" r="1.8"/><circle cx="106.8" cy="353.8" r="2.6"/><circle cx="105.3" cy="433.3" r="2.7"/><circle cx="54.1" cy="391.2" r="2.3"/><circle cx="108.6" cy="356.6" r="1.6"/><circle cx="91.5" cy="463.3" r="1.8"/><circle cx="32.4" cy="416.1" r="2.8"/><circle cx="70.6" cy="405.0" r="2.4"/><circle cx="132.9" cy="377.5" r="2.1"/><circle cx="106.4" cy="465.8" r="3.2"/><circle cx="83.4" cy="370.4" r="2.5"/><circle cx="48.9" cy="414.7" r="2.1"/><circle cx="102.1" cy="428.0" r="2.3"/><circle cx="85.1" cy="352.0" r="2.8"/><circle cx="89.4" cy="443.7" r="1.7"/><circle cx="140.8" cy="416.8" r="3.2"/><circle cx="129.2" cy="443.1" r="3.0"/><circle cx="44.3" cy="425.8" r="3.0"/><circle cx="126.6" cy="441.8" r="2.1"/><circle cx="93.9" cy="460.9" r="2.9"/><circle cx="144.3" cy="425.1" r="2.8"/><circle cx="86.2" cy="415.0" r="2.6"/><circle cx="137.5" cy="409.7" r="2.4"/><circle cx="46.1" cy="390.3" r="3.1"/><circle cx="127.8" cy="436.7" r="3.0"/><circle cx="58.6" cy="393.1" r="3.2"/><circle cx="53.7" cy="376.1" r="3.5"/><circle cx="77.9" cy="368.7" r="2.6"/><circle cx="135.8" cy="382.5" r="3.4"/><circle cx="96.3" cy="457.9" r="2.9"/><circle cx="65.1" cy="412.5" r="3.1"/><circle cx="66.0" cy="451.4" r="2.3"/><circle cx="53.0" cy="446.4" r="2.8"/><circle cx="79.7" cy="411.3" r="1.8"/><circle cx="106.5" cy="453.7" r="1.9"/><circle cx="46.3" cy="427.8" r="1.6"/><circle cx="94.3" cy="437.0" r="1.6"/><circle cx="113.9" cy="387.4" r="1.9"/></g>
<ellipse cx="89.5" cy="409" rx="29" ry="24" fill="#1860ff" filter="url(#eb2)"/>
<ellipse cx="89.5" cy="409.3" rx="21" ry="15.5" fill="#2a9cff" filter="url(#eb1)"/>
<g fill="#30c8ff" opacity="0.75" filter="url(#eb3)"><ellipse cx="95.1" cy="420.7" rx="1.9" ry="1.7"/><ellipse cx="74.0" cy="399.3" rx="1.5" ry="2.5"/><ellipse cx="108.4" cy="409.4" rx="1.6" ry="1.8"/><ellipse cx="106.2" cy="420.5" rx="1.7" ry="1.3"/><ellipse cx="77.0" cy="401.1" rx="2.0" ry="1.7"/><ellipse cx="69.2" cy="400.7" rx="2.3" ry="1.8"/><ellipse cx="97.5" cy="394.7" rx="1.7" ry="1.4"/><ellipse cx="72.9" cy="400.6" rx="2.5" ry="2.6"/><ellipse cx="75.2" cy="400.4" rx="2.5" ry="1.2"/><ellipse cx="105.2" cy="418.9" rx="2.1" ry="1.4"/><ellipse cx="73.9" cy="396.7" rx="1.7" ry="1.8"/><ellipse cx="92.2" cy="422.9" rx="2.6" ry="1.7"/><ellipse cx="111.7" cy="405.1" rx="2.0" ry="1.6"/><ellipse cx="109.0" cy="407.5" rx="1.8" ry="1.6"/><ellipse cx="109.0" cy="407.8" rx="1.6" ry="1.9"/><ellipse cx="104.3" cy="420.2" rx="1.8" ry="1.6"/><ellipse cx="93.9" cy="392.7" rx="1.2" ry="1.9"/><ellipse cx="86.1" cy="426.6" rx="2.3" ry="1.5"/><ellipse cx="87.6" cy="422.1" rx="2.6" ry="1.6"/><ellipse cx="74.4" cy="400.0" rx="2.1" ry="2.0"/><ellipse cx="88.8" cy="396.6" rx="2.3" ry="1.6"/><ellipse cx="71.5" cy="406.4" rx="1.6" ry="1.9"/><ellipse cx="71.4" cy="412.4" rx="2.2" ry="2.0"/><ellipse cx="106.7" cy="412.4" rx="1.8" ry="2.5"/><ellipse cx="104.7" cy="399.4" rx="1.2" ry="2.3"/><ellipse cx="71.3" cy="416.1" rx="2.2" ry="2.1"/><ellipse cx="66.8" cy="411.3" rx="1.7" ry="1.7"/><ellipse cx="99.8" cy="398.7" rx="1.6" ry="2.4"/><ellipse cx="109.9" cy="416.1" rx="2.2" ry="1.8"/><ellipse cx="84.6" cy="425.5" rx="2.5" ry="1.4"/><ellipse cx="69.7" cy="411.4" rx="1.9" ry="1.7"/><ellipse cx="101.1" cy="422.0" rx="2.3" ry="1.3"/><ellipse cx="92.3" cy="426.0" rx="2.3" ry="2.1"/><ellipse cx="110.6" cy="411.9" rx="2.6" ry="2.6"/><ellipse cx="84.6" cy="397.6" rx="2.4" ry="1.5"/><ellipse cx="75.4" cy="395.3" rx="2.2" ry="1.4"/><ellipse cx="83.5" cy="426.1" rx="1.4" ry="2.1"/><ellipse cx="74.9" cy="416.0" rx="2.1" ry="1.3"/><ellipse cx="104.0" cy="418.3" rx="1.3" ry="1.3"/><ellipse cx="70.3" cy="401.8" rx="2.4" ry="1.4"/><ellipse cx="73.0" cy="415.1" rx="2.0" ry="1.9"/><ellipse cx="106.8" cy="403.9" rx="1.3" ry="2.2"/><ellipse cx="101.5" cy="422.1" rx="1.9" ry="2.5"/><ellipse cx="70.1" cy="404.0" rx="1.6" ry="2.0"/><ellipse cx="88.9" cy="425.7" rx="1.9" ry="1.4"/><ellipse cx="91.3" cy="423.4" rx="2.2" ry="1.5"/><ellipse cx="84.7" cy="393.8" rx="1.3" ry="2.1"/><ellipse cx="103.6" cy="416.2" rx="2.0" ry="1.5"/><ellipse cx="103.4" cy="398.9" rx="1.7" ry="2.3"/><ellipse cx="110.5" cy="412.3" rx="1.3" ry="1.4"/><ellipse cx="109.6" cy="404.5" rx="1.5" ry="1.4"/><ellipse cx="110.1" cy="406.6" rx="2.3" ry="1.4"/><ellipse cx="76.4" cy="399.3" rx="1.5" ry="1.7"/><ellipse cx="75.6" cy="400.1" rx="1.7" ry="1.4"/><ellipse cx="99.6" cy="395.5" rx="2.3" ry="1.8"/><ellipse cx="101.3" cy="397.2" rx="2.0" ry="2.0"/><ellipse cx="88.3" cy="395.0" rx="1.3" ry="1.2"/><ellipse cx="94.2" cy="421.0" rx="2.4" ry="1.9"/><ellipse cx="90.5" cy="397.3" rx="1.9" ry="2.4"/><ellipse cx="75.5" cy="399.4" rx="1.9" ry="1.3"/></g>
<ellipse cx="89.5" cy="409.4" rx="19" ry="11" fill="#18d4ff" filter="url(#eb1)"/>
<ellipse cx="89.5" cy="409.4" rx="16" ry="8.5" fill="#20e8d0" filter="url(#eb1)"/>
<ellipse cx="89.8" cy="409.5" rx="13" ry="5.2" fill="#30f040" filter="url(#eb1)"/>
<ellipse cx="89.2" cy="409.5" rx="6.5" ry="4.4" fill="#70f020" filter="url(#eb3)"/>
<ellipse cx="88.8" cy="409.5" rx="3.8" ry="4.2" fill="#ff2400"/>
<circle cx="72.5" cy="357.7" r="4.4" fill="#1a80ff" filter="url(#eb1)"/>
<circle cx="72.5" cy="357.7" r="2.8" fill="#30e8ff" filter="url(#eb3)"/>
<circle cx="101.6" cy="356.4" r="4.4" fill="#1a80ff" filter="url(#eb1)"/>
<circle cx="101.6" cy="356.4" r="2.8" fill="#30e8ff" filter="url(#eb3)"/>
<circle cx="125.1" cy="368.4" r="4.4" fill="#1a80ff" filter="url(#eb1)"/>
<circle cx="125.1" cy="368.4" r="2.8" fill="#40f0a0" filter="url(#eb3)"/>
<circle cx="141.7" cy="394.5" r="4.4" fill="#1a80ff" filter="url(#eb1)"/>
<circle cx="141.7" cy="394.5" r="2.8" fill="#40f0c0" filter="url(#eb3)"/>
<circle cx="142.6" cy="420.8" r="4.4" fill="#1a80ff" filter="url(#eb1)"/>
<circle cx="142.6" cy="420.8" r="2.8" fill="#40f060" filter="url(#eb3)"/>
<circle cx="131.0" cy="444.5" r="4.4" fill="#1a80ff" filter="url(#eb1)"/>
<circle cx="131.0" cy="444.5" r="2.8" fill="#30e8ff" filter="url(#eb3)"/>
<circle cx="106.1" cy="461.3" r="4.4" fill="#1a80ff" filter="url(#eb1)"/>
<circle cx="106.1" cy="461.3" r="2.8" fill="#30e8ff" filter="url(#eb3)"/>
<circle cx="78.9" cy="463.0" r="4.4" fill="#1a80ff" filter="url(#eb1)"/>
<circle cx="78.9" cy="463.0" r="2.8" fill="#30e0ff" filter="url(#eb3)"/>
<circle cx="53.5" cy="450.6" r="4.4" fill="#1a80ff" filter="url(#eb1)"/>
<circle cx="53.5" cy="450.6" r="2.8" fill="#30e8ff" filter="url(#eb3)"/>
<circle cx="37.2" cy="425.4" r="4.4" fill="#1a80ff" filter="url(#eb1)"/>
<circle cx="37.2" cy="425.4" r="2.8" fill="#30f080" filter="url(#eb3)"/>
<circle cx="35.8" cy="399.1" r="4.4" fill="#1a80ff" filter="url(#eb1)"/>
<circle cx="35.8" cy="399.1" r="2.8" fill="#30f060" filter="url(#eb3)"/>
<circle cx="48.2" cy="373.7" r="4.4" fill="#1a80ff" filter="url(#eb1)"/>
<circle cx="48.2" cy="373.7" r="2.8" fill="#30f070" filter="url(#eb3)"/>
<circle cx="89.3" cy="357.5" r="2.6" fill="#2a70ff" opacity="0.7" filter="url(#eb1)"/>
<circle cx="113.7" cy="363.6" r="2.6" fill="#2a70ff" opacity="0.7" filter="url(#eb1)"/>
<circle cx="132.9" cy="381.2" r="2.6" fill="#2a70ff" opacity="0.7" filter="url(#eb1)"/>
<circle cx="141.3" cy="407.7" r="2.6" fill="#2a70ff" opacity="0.7" filter="url(#eb1)"/>
<circle cx="136.0" cy="432.3" r="2.6" fill="#2a70ff" opacity="0.7" filter="url(#eb1)"/>
<circle cx="118.4" cy="452.6" r="2.6" fill="#2a70ff" opacity="0.7" filter="url(#eb1)"/>
<circle cx="92.9" cy="461.4" r="2.6" fill="#2a70ff" opacity="0.7" filter="url(#eb1)"/>
<circle cx="66.5" cy="456.2" r="2.6" fill="#2a70ff" opacity="0.7" filter="url(#eb1)"/>
<circle cx="46.2" cy="438.6" r="2.6" fill="#2a70ff" opacity="0.7" filter="url(#eb1)"/>
<circle cx="37.4" cy="413.1" r="2.6" fill="#2a70ff" opacity="0.7" filter="url(#eb1)"/>
<circle cx="42.6" cy="386.7" r="2.6" fill="#2a70ff" opacity="0.7" filter="url(#eb1)"/>
<circle cx="60.2" cy="366.4" r="2.6" fill="#2a70ff" opacity="0.7" filter="url(#eb1)"/>
</g>
<path d="M101.6,356.4 L131.0,444.5 L37.2,425.4 Z" fill="none" stroke="#dc7028" stroke-width="1.35" stroke-dasharray="3 1.5"/>
<path d="M125.1,368.4 L106.1,461.3 L35.8,399.1 Z" fill="none" stroke="#dc7028" stroke-width="1.35" stroke-dasharray="3 1.5"/>
<path d="M72.5,357.7 L142.6,420.8 L53.5,450.6 Z" fill="none" stroke="#f4b888" stroke-width="1.35" stroke-dasharray="3 1.5"/>
<path d="M141.7,394.5 L78.9,463.0 L48.2,373.7 Z" fill="none" stroke="#ffffff" stroke-width="1.4" stroke-dasharray="3 1.5"/>
<text x="98.2" y="381.2" font-size="7.9" font-weight="bold" fill="#fff">χ = 71°</text>
<text x="89.00" y="346.80" font-size="6.80" text-anchor="middle" fill="#222">0</text>
<text x="123.50" y="355.10" font-size="6.80" text-anchor="middle" fill="#222">30</text>
<text x="146.00" y="378.00" font-size="6.80" text-anchor="middle" fill="#222">60</text>
<text x="154.50" y="412.10" font-size="6.80" text-anchor="middle" fill="#222">90</text>
<text x="146.80" y="446.50" font-size="6.80" text-anchor="middle" fill="#222">120</text>
<text x="125.30" y="469.00" font-size="6.80" text-anchor="middle" fill="#222">150</text>
<text x="89.30" y="477.30" font-size="6.80" text-anchor="middle" fill="#222">180</text>
<text x="52.40" y="469.00" font-size="6.80" text-anchor="middle" fill="#222">210</text>
<text x="29.40" y="446.50" font-size="6.80" text-anchor="middle" fill="#222">240</text>
<text x="20.80" y="412.10" font-size="6.80" text-anchor="middle" fill="#222">270</text>
<text x="29.90" y="377.40" font-size="6.80" text-anchor="middle" fill="#222">300</text>
<text x="52.70" y="354.60" font-size="6.80" text-anchor="middle" fill="#222">330</text>
<rect x="162.2" y="350.2" width="16" height="118.2" fill="url(#jet)"/>
<line x1="178.20" y1="352.40" x2="180.60" y2="352.40" stroke="#444" stroke-width="0.7"/>
<text x="183.00" y="354.70" font-size="6.30" fill="#222">44.00</text>
<line x1="178.20" y1="366.66" x2="180.60" y2="366.66" stroke="#444" stroke-width="0.7"/>
<text x="183.00" y="368.96" font-size="6.30" fill="#222">38.85</text>
<line x1="178.20" y1="380.92" x2="180.60" y2="380.92" stroke="#444" stroke-width="0.7"/>
<text x="183.00" y="383.22" font-size="6.30" fill="#222">33.70</text>
<line x1="178.20" y1="395.19" x2="180.60" y2="395.19" stroke="#444" stroke-width="0.7"/>
<text x="183.00" y="397.49" font-size="6.30" fill="#222">28.55</text>
<line x1="178.20" y1="409.45" x2="180.60" y2="409.45" stroke="#444" stroke-width="0.7"/>
<text x="183.00" y="411.75" font-size="6.30" fill="#222">23.40</text>
<line x1="178.20" y1="423.71" x2="180.60" y2="423.71" stroke="#444" stroke-width="0.7"/>
<text x="183.00" y="426.01" font-size="6.30" fill="#222">18.25</text>
<line x1="178.20" y1="437.98" x2="180.60" y2="437.98" stroke="#444" stroke-width="0.7"/>
<text x="183.00" y="440.28" font-size="6.30" fill="#222">13.10</text>
<line x1="178.20" y1="452.24" x2="180.60" y2="452.24" stroke="#444" stroke-width="0.7"/>
<text x="183.00" y="454.54" font-size="6.30" fill="#222">7.950</text>
<line x1="178.20" y1="466.50" x2="180.60" y2="466.50" stroke="#444" stroke-width="0.7"/>
<text x="183.00" y="468.80" font-size="6.30" fill="#222">2.800</text>
<text x="170.00" y="347.00" font-size="7.60" text-anchor="middle" fill="#222">Intensity</text>
<text x="201.80" y="333.70" font-size="14.00" font-weight="bold">f</text>
<rect x="243.60" y="338.40" width="42.60" height="126.90" fill="#eff3fa"/>
<rect x="286.20" y="338.40" width="24.10" height="126.90" fill="#e8edf7"/>
<rect x="310.30" y="338.40" width="43.30" height="126.90" fill="#e3e9f5"/>
<rect x="353.60" y="338.40" width="64.20" height="126.90" fill="#dce4f3"/>
<rect x="243.6" y="338.4" width="174.2" height="126.9" fill="none" stroke="#8a8a8a" stroke-width="0.9"/>
<line x1="243.80" y1="465.30" x2="243.80" y2="463.10" stroke="#666" stroke-width="0.8"/>
<line x1="261.20" y1="465.30" x2="261.20" y2="463.80" stroke="#666" stroke-width="0.8"/>
<line x1="278.60" y1="465.30" x2="278.60" y2="463.10" stroke="#666" stroke-width="0.8"/>
<line x1="296.00" y1="465.30" x2="296.00" y2="463.80" stroke="#666" stroke-width="0.8"/>
<line x1="313.40" y1="465.30" x2="313.40" y2="463.10" stroke="#666" stroke-width="0.8"/>
<line x1="330.80" y1="465.30" x2="330.80" y2="463.80" stroke="#666" stroke-width="0.8"/>
<line x1="348.20" y1="465.30" x2="348.20" y2="463.10" stroke="#666" stroke-width="0.8"/>
<line x1="365.60" y1="465.30" x2="365.60" y2="463.80" stroke="#666" stroke-width="0.8"/>
<line x1="383.00" y1="465.30" x2="383.00" y2="463.10" stroke="#666" stroke-width="0.8"/>
<line x1="400.40" y1="465.30" x2="400.40" y2="463.80" stroke="#666" stroke-width="0.8"/>
<line x1="417.80" y1="465.30" x2="417.80" y2="463.10" stroke="#666" stroke-width="0.8"/>
<text x="243.80" y="474.70" font-size="8.60" text-anchor="middle" fill="#222">525</text>
<text x="278.60" y="474.70" font-size="8.60" text-anchor="middle" fill="#222">530</text>
<text x="313.40" y="474.70" font-size="8.60" text-anchor="middle" fill="#222">535</text>
<text x="348.20" y="474.70" font-size="8.60" text-anchor="middle" fill="#222">540</text>
<text x="383.00" y="474.70" font-size="8.60" text-anchor="middle" fill="#222">545</text>
<text x="417.80" y="474.70" font-size="8.60" text-anchor="middle" fill="#222">550</text>
<text x="330.70" y="485.60" font-size="9.90" text-anchor="middle" fill="#222">Photon energy (eV)</text>
<text transform="translate(236.50 403.30) rotate(-90)" font-size="9.90" text-anchor="middle" fill="#222">Normalized intensity (a.u.)</text>
<line x1="417.80" y1="457.00" x2="415.60" y2="457.00" stroke="#666" stroke-width="0.8"/>
<text x="420.60" y="460.00" font-size="8.60" fill="#222">0</text>
<line x1="417.80" y1="441.50" x2="416.40" y2="441.50" stroke="#666" stroke-width="0.8"/>
<line x1="417.80" y1="426.00" x2="415.60" y2="426.00" stroke="#666" stroke-width="0.8"/>
<text x="420.60" y="429.00" font-size="8.60" fill="#222">10</text>
<line x1="417.80" y1="410.50" x2="416.40" y2="410.50" stroke="#666" stroke-width="0.8"/>
<line x1="417.80" y1="395.00" x2="415.60" y2="395.00" stroke="#666" stroke-width="0.8"/>
<text x="420.60" y="398.00" font-size="8.60" fill="#222">20</text>
<line x1="417.80" y1="379.50" x2="416.40" y2="379.50" stroke="#666" stroke-width="0.8"/>
<line x1="417.80" y1="364.00" x2="415.60" y2="364.00" stroke="#666" stroke-width="0.8"/>
<text x="420.60" y="367.00" font-size="8.60" fill="#222">30</text>
<line x1="417.80" y1="348.50" x2="416.40" y2="348.50" stroke="#666" stroke-width="0.8"/>
<text transform="translate(442.40 403.30) rotate(-90)" font-size="9.90" text-anchor="middle" fill="#222">Linear dichroism (%)</text>
<line x1="351.90" y1="342.20" x2="351.90" y2="465.30" stroke="#7434aa" stroke-width="2" stroke-dasharray="6.2 3.8"/>
<polyline points="243.8,457.5 244.3,457.5 244.8,457.5 245.3,457.5 245.8,457.6 246.3,457.6 246.8,457.6 247.3,457.6 247.8,457.6 248.3,457.6 248.8,457.7 249.3,457.7 249.8,457.7 250.3,457.7 250.8,457.7 251.3,457.7 251.8,457.7 252.3,457.8 252.8,457.8 253.3,457.8 253.8,457.8 254.3,457.8 254.8,457.8 255.3,457.9 255.8,457.9 256.3,457.9 256.8,457.9 257.3,457.9 257.8,457.9 258.3,457.9 258.8,458.0 259.3,458.0 259.8,458.0 260.3,458.0 260.8,458.0 261.3,458.1 261.8,458.1 262.3,458.1 262.8,458.1 263.3,458.1 263.8,458.2 264.3,458.2 264.8,458.2 265.3,458.2 265.8,458.2 266.3,458.3 266.8,458.3 267.3,458.3 267.8,458.3 268.3,458.3 268.8,458.4 269.3,458.4 269.8,458.4 270.3,458.4 270.8,458.4 271.3,458.5 271.8,458.5 272.3,458.5 272.8,458.5 273.3,458.5 273.8,458.6 274.3,458.6 274.8,458.6 275.3,458.6 275.8,458.6 276.3,458.7 276.8,458.7 277.3,458.7 277.8,458.7 278.3,458.7 278.8,458.8 279.3,458.8 279.8,458.7 280.3,458.7 280.8,458.5 281.3,458.4 281.8,458.2 282.3,458.1 282.8,457.9 283.3,457.7 283.8,457.4 284.3,456.9 284.8,456.3 285.3,455.5 285.8,454.8 286.3,454.0 286.8,453.2 287.3,452.3 287.8,451.4 288.3,450.4 288.8,449.4 289.3,448.4 289.8,447.4 290.3,446.4 290.8,445.4 291.3,444.4 291.8,443.4 292.3,442.6 292.8,442.0 293.3,441.6 293.8,441.3 294.3,441.1 294.8,441.1 295.3,441.3 295.8,441.7 296.3,442.3 296.8,442.8 297.3,443.3 297.8,443.7 298.3,444.1 298.8,444.3 299.3,444.6 299.8,444.8 300.3,445.0 300.8,445.2 301.3,445.4 301.8,445.6 302.3,445.7 302.8,445.9 303.3,446.1 303.8,446.2 304.3,446.3 304.8,446.5 305.3,446.8 305.8,447.1 306.3,447.4 306.8,447.7 307.3,448.1 307.8,448.4 308.3,448.6 308.8,448.9 309.3,449.2 309.8,449.5 310.3,449.9 310.8,450.3 311.3,450.8 311.8,451.3 312.3,451.8 312.8,452.3 313.3,452.9 313.8,453.5 314.3,454.1 314.8,454.8 315.3,455.4 315.8,456.0 316.3,456.6 316.8,457.3 317.3,457.9 317.8,458.6 318.3,459.2 318.8,459.9 319.3,460.5 319.8,461.1 320.3,461.6 320.8,462.1 321.3,462.4 321.8,462.8 322.3,463.1 322.8,463.4 323.3,463.6 323.8,463.8 324.3,463.9 324.8,464.0 325.3,464.1 325.8,464.1 326.3,464.1 326.8,464.0 327.3,463.9 327.8,463.8 328.3,463.7 328.8,463.5 329.3,463.3 329.8,463.1 330.3,462.9 330.8,462.6 331.3,462.3 331.8,462.1 332.3,461.9 332.8,461.6 333.3,461.4 333.8,461.1 334.3,460.9 334.8,460.7 335.3,460.5 335.8,460.2 336.3,460.0 336.8,459.8 337.3,459.6 337.8,459.5 338.3,459.3 338.8,459.2 339.3,459.0 339.8,458.9 340.3,458.8 340.8,458.8 341.3,458.7 341.8,458.7 342.3,458.7 342.8,458.6 343.3,458.6 343.8,458.6 344.3,458.5 344.8,458.5 345.3,458.5 345.8,458.4 346.3,458.4 346.8,458.3 347.3,458.3 347.8,458.2 348.3,458.2 348.8,458.1 349.3,458.1 349.8,458.0 350.3,458.0 350.8,458.0 351.3,457.9 351.8,457.9 352.3,457.9 352.8,457.8 353.3,457.6 353.8,457.4 354.3,457.3 354.8,457.1 355.3,456.9 355.8,456.7 356.3,456.5 356.8,456.3 357.3,456.1 357.8,455.9 358.3,455.8 358.8,455.9 359.3,456.0 359.8,456.3 360.3,456.6 360.8,456.8 361.3,457.0 361.8,457.1 362.3,457.2 362.8,457.2 363.3,457.3 363.8,457.4 364.3,457.4 364.8,457.4 365.3,457.5 365.8,457.4 366.3,457.4 366.8,457.4 367.3,457.3 367.8,457.3 368.3,457.3 368.8,457.2 369.3,457.2 369.8,457.2 370.3,457.1 370.8,457.1 371.3,457.0 371.8,457.0 372.3,457.0 372.8,456.9 373.3,456.8 373.8,456.8 374.3,456.7 374.8,456.6 375.3,456.6 375.8,456.5 376.3,456.5 376.8,456.4 377.3,456.3 377.8,456.3 378.3,456.2 378.8,456.1 379.3,456.1 379.8,456.0 380.3,456.0 380.8,455.9 381.3,455.8 381.8,455.7 382.3,455.7 382.8,455.6 383.3,455.5 383.8,455.4 384.3,455.4 384.8,455.3 385.3,455.2 385.8,455.1 386.3,455.1 386.8,455.0 387.3,454.9 387.8,454.8 388.3,454.8 388.8,454.7 389.3,454.6 389.8,454.5 390.3,454.5 390.8,454.4 391.3,454.3 391.8,454.3 392.3,454.2 392.8,454.1 393.3,454.1 393.8,454.0 394.3,453.9 394.8,453.9 395.3,453.8 395.8,453.7 396.3,453.7 396.8,453.6 397.3,453.6 397.8,453.5 398.3,453.4 398.8,453.4 399.3,453.3 399.8,453.2 400.3,453.2 400.8,453.2 401.3,453.2 401.8,453.2 402.3,453.2 402.8,453.2 403.3,453.2 403.8,453.2 404.3,453.2 404.8,453.2 405.3,453.1 405.8,453.1 406.3,453.1 406.8,453.1 407.3,453.1 407.8,453.1 408.3,453.1 408.8,453.1 409.3,453.1 409.8,453.1 410.3,453.2 410.8,453.2 411.3,453.3 411.8,453.3 412.3,453.4 412.8,453.5 413.3,453.5 413.8,453.6 414.3,453.7 414.8,453.7 415.3,453.8 415.8,453.8 416.3,453.9 416.8,454.0 417.3,454.0 417.8,454.1" fill="none" stroke="#f4c01e" stroke-width="1.3" stroke-linejoin="round"/>
<polyline points="243.8,440.9 244.3,440.9 244.8,440.9 245.3,440.9 245.8,441.0 246.3,441.0 246.8,441.0 247.3,441.0 247.8,441.0 248.3,441.0 248.8,441.1 249.3,441.1 249.8,441.1 250.3,441.1 250.8,441.1 251.3,441.1 251.8,441.1 252.3,441.2 252.8,441.2 253.3,441.2 253.8,441.2 254.3,441.2 254.8,441.2 255.3,441.3 255.8,441.3 256.3,441.3 256.8,441.3 257.3,441.3 257.8,441.3 258.3,441.3 258.8,441.4 259.3,441.4 259.8,441.4 260.3,441.4 260.8,441.5 261.3,441.5 261.8,441.5 262.3,441.6 262.8,441.6 263.3,441.7 263.8,441.7 264.3,441.7 264.8,441.8 265.3,441.8 265.8,441.9 266.3,441.9 266.8,441.9 267.3,442.0 267.8,442.0 268.3,442.0 268.8,442.1 269.3,442.1 269.8,442.2 270.3,442.2 270.8,442.2 271.3,442.3 271.8,442.3 272.3,442.4 272.8,442.4 273.3,442.4 273.8,442.5 274.3,442.5 274.8,442.6 275.3,442.6 275.8,442.6 276.3,442.7 276.8,442.7 277.3,442.8 277.8,442.9 278.3,443.0 278.8,443.2 279.3,443.5 279.8,443.7 280.3,444.0 280.8,444.2 281.3,444.5 281.8,444.7 282.3,445.0 282.8,445.3 283.3,445.5 283.8,445.8 284.3,446.1 284.8,446.2 285.3,446.1 285.8,446.0 286.3,445.7 286.8,445.3 287.3,444.6 287.8,443.6 288.3,442.5 288.8,441.4 289.3,440.3 289.8,438.9 290.3,436.9 290.8,434.0 291.3,430.5 291.8,426.1 292.3,420.5 292.8,413.5 293.3,405.6 293.8,397.6 294.3,390.2 294.8,383.3 295.3,377.0 295.8,371.6 296.3,367.0 296.8,363.4 297.3,360.9 297.8,359.1 298.3,358.1 298.8,357.5 299.3,357.2 299.8,357.2 300.3,357.5 300.8,358.1 301.3,359.1 301.8,360.5 302.3,362.2 302.8,364.1 303.3,366.1 303.8,368.0 304.3,370.0 304.8,372.0 305.3,374.0 305.8,376.1 306.3,378.2 306.8,380.0 307.3,381.3 307.8,382.2 308.3,382.7 308.8,383.1 309.3,383.2 309.8,383.1 310.3,382.8 310.8,382.4 311.3,381.9 311.8,381.1 312.3,380.0 312.8,378.9 313.3,377.6 313.8,376.3 314.3,374.7 314.8,373.0 315.3,371.2 315.8,369.4 316.3,367.6 316.8,365.9 317.3,364.4 317.8,363.0 318.3,361.8 318.8,360.5 319.3,359.3 319.8,358.2 320.3,357.3 320.8,356.6 321.3,355.9 321.8,355.4 322.3,354.9 322.8,354.6 323.3,354.4 323.8,354.3 324.3,354.3 324.8,354.4 325.3,354.6 325.8,354.8 326.3,355.1 326.8,355.5 327.3,356.1 327.8,356.7 328.3,357.4 328.8,358.2 329.3,359.0 329.8,359.9 330.3,360.9 330.8,362.0 331.3,363.2 331.8,364.5 332.3,365.8 332.8,367.0 333.3,368.3 333.8,369.6 334.3,371.0 334.8,372.5 335.3,374.1 335.8,375.6 336.3,377.2 336.8,378.8 337.3,380.3 337.8,381.8 338.3,383.3 338.8,384.8 339.3,386.2 339.8,387.7 340.3,389.1 340.8,390.6 341.3,392.0 341.8,393.4 342.3,394.8 342.8,396.1 343.3,397.5 343.8,398.8 344.3,400.1 344.8,401.4 345.3,402.7 345.8,403.9 346.3,405.0 346.8,406.2 347.3,407.3 347.8,408.4 348.3,409.3 348.8,410.2 349.3,410.9 349.8,411.7 350.3,412.4 350.8,413.1 351.3,413.6 351.8,413.9 352.3,413.9 352.8,413.5 353.3,412.8 353.8,411.8 354.3,410.7 354.8,409.4 355.3,407.9 355.8,406.3 356.3,404.8 356.8,403.4 357.3,402.3 357.8,401.3 358.3,400.5 358.8,399.8 359.3,399.1 359.8,398.5 360.3,398.0 360.8,397.7 361.3,397.5 361.8,397.4 362.3,397.2 362.8,397.0 363.3,396.8 363.8,396.7 364.3,396.7 364.8,396.9 365.3,397.2 365.8,397.5 366.3,397.9 366.8,398.2 367.3,398.5 367.8,398.9 368.3,399.2 368.8,399.5 369.3,399.8 369.8,400.1 370.3,400.4 370.8,400.7 371.3,401.0 371.8,401.3 372.3,401.5 372.8,401.8 373.3,401.9 373.8,401.8 374.3,401.6 374.8,401.3 375.3,401.0 375.8,400.7 376.3,400.4 376.8,400.1 377.3,399.8 377.8,399.5 378.3,399.2 378.8,398.9 379.3,398.6 379.8,398.3 380.3,398.0 380.8,397.7 381.3,397.5 381.8,397.2 382.3,397.1 382.8,397.1 383.3,397.2 383.8,397.5 384.3,397.7 384.8,397.9 385.3,398.2 385.8,398.4 386.3,398.7 386.8,399.0 387.3,399.3 387.8,399.6 388.3,399.9 388.8,400.3 389.3,400.6 389.8,400.8 390.3,401.0 390.8,401.2 391.3,401.4 391.8,401.5 392.3,401.7 392.8,401.8 393.3,402.0 393.8,402.1 394.3,402.3 394.8,402.4 395.3,402.6 395.8,402.7 396.3,402.9 396.8,403.0 397.3,403.0 397.8,403.0 398.3,403.1 398.8,403.1 399.3,403.1 399.8,403.1 400.3,403.1 400.8,403.2 401.3,403.2 401.8,403.2 402.3,403.1 402.8,403.1 403.3,403.0 403.8,403.0 404.3,402.9 404.8,402.8 405.3,402.8 405.8,402.7 406.3,402.7 406.8,402.6 407.3,402.5 407.8,402.5 408.3,402.4 408.8,402.3 409.3,402.3 409.8,402.3 410.3,402.3 410.8,402.5 411.3,402.6 411.8,402.8 412.3,402.9 412.8,403.1 413.3,403.2 413.8,403.4 414.3,403.5 414.8,403.7 415.3,403.8 415.8,404.0 416.3,404.1 416.8,404.3 417.3,404.4 417.8,404.5" fill="none" stroke="#e8333b" stroke-width="1.3" stroke-linejoin="round"/>
<polyline points="243.8,440.7 244.3,440.7 244.8,440.7 245.3,440.7 245.8,440.8 246.3,440.8 246.8,440.8 247.3,440.8 247.8,440.8 248.3,440.8 248.8,440.9 249.3,440.9 249.8,440.9 250.3,440.9 250.8,440.9 251.3,440.9 251.8,440.9 252.3,441.0 252.8,441.0 253.3,441.0 253.8,441.0 254.3,441.0 254.8,441.0 255.3,441.1 255.8,441.1 256.3,441.1 256.8,441.1 257.3,441.1 257.8,441.1 258.3,441.1 258.8,441.2 259.3,441.2 259.8,441.2 260.3,441.2 260.8,441.3 261.3,441.3 261.8,441.3 262.3,441.4 262.8,441.4 263.3,441.5 263.8,441.5 264.3,441.5 264.8,441.6 265.3,441.6 265.8,441.7 266.3,441.7 266.8,441.7 267.3,441.8 267.8,441.8 268.3,441.8 268.8,441.9 269.3,441.9 269.8,442.0 270.3,442.0 270.8,442.0 271.3,442.1 271.8,442.1 272.3,442.2 272.8,442.2 273.3,442.2 273.8,442.3 274.3,442.3 274.8,442.4 275.3,442.4 275.8,442.4 276.3,442.5 276.8,442.5 277.3,442.6 277.8,442.6 278.3,442.8 278.8,443.0 279.3,443.2 279.8,443.5 280.3,443.7 280.8,443.9 281.3,444.2 281.8,444.4 282.3,444.7 282.8,444.9 283.3,445.2 283.8,445.5 284.3,445.7 284.8,445.8 285.3,445.7 285.8,445.5 286.3,445.3 286.8,444.8 287.3,444.2 287.8,443.3 288.3,442.2 288.8,441.2 289.3,440.1 289.8,438.8 290.3,437.0 290.8,434.3 291.3,431.1 291.8,427.0 292.3,421.8 292.8,415.2 293.3,407.9 293.8,400.5 294.3,393.5 294.8,386.9 295.3,380.9 295.8,375.6 296.3,371.0 296.8,367.3 297.3,364.5 297.8,362.5 298.3,361.2 298.8,360.4 299.3,360.0 299.8,360.0 300.3,360.1 300.8,360.7 301.3,361.6 301.8,362.9 302.3,364.5 302.8,366.3 303.3,368.0 303.8,369.8 304.3,371.6 304.8,373.4 305.3,375.3 305.8,377.2 306.3,379.2 306.8,381.0 307.3,382.4 307.8,383.3 308.3,383.9 308.8,384.3 309.3,384.5 309.8,384.3 310.3,384.0 310.8,383.5 311.3,382.9 311.8,381.9 312.3,380.7 312.8,379.4 313.3,377.9 313.8,376.4 314.3,374.7 314.8,372.8 315.3,370.8 315.8,368.8 316.3,366.8 316.8,365.0 317.3,363.4 317.8,361.9 318.3,360.5 318.8,359.2 319.3,357.9 319.8,356.8 320.3,355.8 320.8,355.1 321.3,354.4 321.8,353.9 322.3,353.4 322.8,353.1 323.3,352.9 323.8,352.9 324.3,352.9 324.8,353.1 325.3,353.4 325.8,353.7 326.3,354.1 326.8,354.5 327.3,355.1 327.8,355.7 328.3,356.5 328.8,357.2 329.3,358.0 329.8,358.9 330.3,359.9 330.8,361.0 331.3,362.2 331.8,363.5 332.3,364.7 332.8,366.0 333.3,367.3 333.8,368.6 334.3,370.1 334.8,371.6 335.3,373.2 335.8,374.9 336.3,376.5 336.8,378.1 337.3,379.7 337.8,381.3 338.3,382.9 338.8,384.4 339.3,385.9 339.8,387.4 340.3,388.9 340.8,390.4 341.3,391.9 341.8,393.3 342.3,394.8 342.8,396.1 343.3,397.5 343.8,398.8 344.3,400.1 344.8,401.4 345.3,402.7 345.8,403.9 346.3,405.0 346.8,406.2 347.3,407.3 347.8,408.4 348.3,409.3 348.8,410.2 349.3,410.9 349.8,411.7 350.3,412.4 350.8,413.1 351.3,413.6 351.8,414.0 352.3,414.1 352.8,413.8 353.3,413.1 353.8,412.2 354.3,411.1 354.8,409.9 355.3,408.4 355.8,406.8 356.3,405.3 356.8,403.9 357.3,402.8 357.8,401.8 358.3,401.0 358.8,400.3 359.3,399.6 359.8,399.0 360.3,398.5 360.8,398.2 361.3,398.0 361.8,397.8 362.3,397.6 362.8,397.5 363.3,397.3 363.8,397.1 364.3,397.1 364.8,397.3 365.3,397.6 365.8,398.0 366.3,398.3 366.8,398.7 367.3,399.0 367.8,399.3 368.3,399.7 368.8,400.0 369.3,400.2 369.8,400.5 370.3,400.8 370.8,401.1 371.3,401.4 371.8,401.7 372.3,402.0 372.8,402.2 373.3,402.3 373.8,402.3 374.3,402.1 374.8,401.8 375.3,401.5 375.8,401.2 376.3,400.9 376.8,400.6 377.3,400.3 377.8,400.0 378.3,399.7 378.8,399.4 379.3,399.1 379.8,398.8 380.3,398.5 380.8,398.2 381.3,398.0 381.8,397.7 382.3,397.6 382.8,397.6 383.3,397.7 383.8,398.0 384.3,398.2 384.8,398.4 385.3,398.7 385.8,398.9 386.3,399.2 386.8,399.5 387.3,399.8 387.8,400.1 388.3,400.4 388.8,400.7 389.3,401.1 389.8,401.3 390.3,401.6 390.8,401.7 391.3,401.9 391.8,402.1 392.3,402.2 392.8,402.4 393.3,402.5 393.8,402.7 394.3,402.8 394.8,403.0 395.3,403.2 395.8,403.3 396.3,403.5 396.8,403.6 397.3,403.7 397.8,403.7 398.3,403.8 398.8,403.8 399.3,403.9 399.8,404.0 400.3,404.0 400.8,404.1 401.3,404.1 401.8,404.1 402.3,404.1 402.8,404.1 403.3,404.0 403.8,404.0 404.3,403.9 404.8,403.8 405.3,403.8 405.8,403.7 406.3,403.7 406.8,403.6 407.3,403.5 407.8,403.5 408.3,403.4 408.8,403.3 409.3,403.3 409.8,403.3 410.3,403.3 410.8,403.5 411.3,403.6 411.8,403.8 412.3,403.9 412.8,404.1 413.3,404.2 413.8,404.4 414.3,404.5 414.8,404.7 415.3,404.8 415.8,405.0 416.3,405.1 416.8,405.3 417.3,405.4 417.8,405.5" fill="none" stroke="#5a8ed8" stroke-width="1.3" stroke-linejoin="round"/>
<text x="463.60" y="328.80" font-size="14.00" font-weight="bold">g</text>
<rect x="484.60" y="338.60" width="42.60" height="126.70" fill="#fcfcf0"/>
<rect x="527.20" y="338.60" width="28.00" height="126.70" fill="#f3f8e4"/>
<rect x="555.20" y="338.60" width="37.20" height="126.70" fill="#e6f3df"/>
<rect x="592.40" y="338.60" width="66.60" height="126.70" fill="#e2f1f0"/>
<rect x="484.6" y="338.6" width="174.4" height="126.7" fill="none" stroke="#8a8a8a" stroke-width="0.9"/>
<line x1="484.50" y1="465.30" x2="484.50" y2="463.10" stroke="#666" stroke-width="0.8"/>
<line x1="501.95" y1="465.30" x2="501.95" y2="463.80" stroke="#666" stroke-width="0.8"/>
<line x1="519.40" y1="465.30" x2="519.40" y2="463.10" stroke="#666" stroke-width="0.8"/>
<line x1="536.85" y1="465.30" x2="536.85" y2="463.80" stroke="#666" stroke-width="0.8"/>
<line x1="554.30" y1="465.30" x2="554.30" y2="463.10" stroke="#666" stroke-width="0.8"/>
<line x1="571.75" y1="465.30" x2="571.75" y2="463.80" stroke="#666" stroke-width="0.8"/>
<line x1="589.20" y1="465.30" x2="589.20" y2="463.10" stroke="#666" stroke-width="0.8"/>
<line x1="606.65" y1="465.30" x2="606.65" y2="463.80" stroke="#666" stroke-width="0.8"/>
<line x1="624.10" y1="465.30" x2="624.10" y2="463.10" stroke="#666" stroke-width="0.8"/>
<line x1="641.55" y1="465.30" x2="641.55" y2="463.80" stroke="#666" stroke-width="0.8"/>
<line x1="659.00" y1="465.30" x2="659.00" y2="463.10" stroke="#666" stroke-width="0.8"/>
<text x="484.50" y="474.70" font-size="8.60" text-anchor="middle" fill="#222">525</text>
<text x="519.40" y="474.70" font-size="8.60" text-anchor="middle" fill="#222">530</text>
<text x="554.30" y="474.70" font-size="8.60" text-anchor="middle" fill="#222">535</text>
<text x="589.20" y="474.70" font-size="8.60" text-anchor="middle" fill="#222">540</text>
<text x="624.10" y="474.70" font-size="8.60" text-anchor="middle" fill="#222">545</text>
<text x="659.00" y="474.70" font-size="8.60" text-anchor="middle" fill="#222">550</text>
<text x="571.80" y="485.60" font-size="9.90" text-anchor="middle" fill="#222">Photon energy (eV)</text>
<text transform="translate(477.00 403.30) rotate(-90)" font-size="9.90" text-anchor="middle" fill="#222">Normalized intensity (a.u.)</text>
<line x1="659.00" y1="457.25" x2="657.60" y2="457.25" stroke="#666" stroke-width="0.8"/>
<line x1="659.00" y1="443.60" x2="656.80" y2="443.60" stroke="#666" stroke-width="0.8"/>
<text x="661.60" y="446.60" font-size="8.60" fill="#222">0</text>
<line x1="659.00" y1="429.95" x2="657.60" y2="429.95" stroke="#666" stroke-width="0.8"/>
<line x1="659.00" y1="416.30" x2="656.80" y2="416.30" stroke="#666" stroke-width="0.8"/>
<text x="661.60" y="419.30" font-size="8.60" fill="#222">10</text>
<line x1="659.00" y1="402.65" x2="657.60" y2="402.65" stroke="#666" stroke-width="0.8"/>
<line x1="659.00" y1="389.00" x2="656.80" y2="389.00" stroke="#666" stroke-width="0.8"/>
<text x="661.60" y="392.00" font-size="8.60" fill="#222">20</text>
<line x1="659.00" y1="375.35" x2="657.60" y2="375.35" stroke="#666" stroke-width="0.8"/>
<line x1="659.00" y1="361.70" x2="656.80" y2="361.70" stroke="#666" stroke-width="0.8"/>
<text x="661.60" y="364.70" font-size="8.60" fill="#222">30</text>
<line x1="659.00" y1="348.05" x2="657.60" y2="348.05" stroke="#666" stroke-width="0.8"/>
<text transform="translate(682.60 403.30) rotate(-90)" font-size="9.90" text-anchor="middle" fill="#222">Linear dichroism (%)</text>
<line x1="592.90" y1="342.20" x2="592.90" y2="465.30" stroke="#7434aa" stroke-width="2" stroke-dasharray="6.2 3.8"/>
<polyline points="484.6,443.6 485.1,443.6 485.6,443.6 486.1,443.6 486.6,443.7 487.1,443.7 487.6,443.7 488.1,443.7 488.6,443.7 489.1,443.7 489.6,443.7 490.1,443.7 490.6,443.8 491.1,443.8 491.6,443.8 492.1,443.8 492.6,443.8 493.1,443.8 493.6,443.8 494.1,443.8 494.6,443.9 495.1,443.9 495.6,443.9 496.1,443.9 496.6,443.9 497.1,443.9 497.6,443.9 498.1,444.0 498.6,444.0 499.1,444.0 499.6,444.0 500.1,444.0 500.6,444.0 501.1,444.0 501.6,444.0 502.1,444.1 502.6,444.1 503.1,444.1 503.6,444.1 504.1,444.1 504.6,444.1 505.1,444.1 505.6,444.1 506.1,444.2 506.6,444.2 507.1,444.2 507.6,444.2 508.1,444.2 508.6,444.2 509.1,444.2 509.6,444.2 510.1,444.3 510.6,444.3 511.1,444.3 511.6,444.3 512.1,444.3 512.6,444.3 513.1,444.3 513.6,444.3 514.1,444.4 514.6,444.4 515.1,444.4 515.6,444.4 516.1,444.4 516.6,444.4 517.1,444.4 517.6,444.4 518.1,444.5 518.6,444.5 519.1,444.5 519.6,444.5 520.1,444.5 520.6,444.5 521.1,444.5 521.6,444.6 522.1,444.6 522.6,444.6 523.1,444.6 523.6,444.6 524.1,444.6 524.6,444.7 525.1,444.7 525.6,444.7 526.1,444.7 526.6,444.7 527.1,444.8 527.6,444.8 528.1,444.8 528.6,444.8 529.1,444.8 529.6,444.8 530.1,444.9 530.6,444.9 531.1,445.0 531.6,445.2 532.1,445.5 532.6,445.9 533.1,446.5 533.6,447.3 534.1,448.2 534.6,449.4 535.1,450.8 535.6,452.5 536.1,454.4 536.6,456.4 537.1,458.5 537.6,460.3 538.1,461.5 538.6,461.6 539.1,460.5 539.6,458.5 540.1,455.8 540.6,452.9 541.1,450.1 541.6,447.7 542.1,445.8 542.6,444.2 543.1,442.9 543.6,442.1 544.1,441.5 544.6,441.2 545.1,440.9 545.6,440.7 546.1,440.4 546.6,440.2 547.1,439.9 547.6,439.6 548.1,439.3 548.6,439.0 549.1,438.7 549.6,438.4 550.1,438.1 550.6,437.8 551.1,437.5 551.6,437.2 552.1,437.0 552.6,436.7 553.1,436.4 553.6,436.2 554.1,436.0 554.6,435.7 555.1,435.5 555.6,435.3 556.1,435.1 556.6,434.9 557.1,434.7 557.6,434.5 558.1,434.3 558.6,434.1 559.1,433.9 559.6,433.6 560.1,433.4 560.6,433.2 561.1,432.9 561.6,432.7 562.1,432.4 562.6,432.1 563.1,431.8 563.6,431.4 564.1,431.1 564.6,430.8 565.1,430.6 565.6,430.4 566.1,430.2 566.6,430.1 567.1,430.0 567.6,430.0 568.1,430.0 568.6,430.0 569.1,430.1 569.6,430.1 570.1,430.2 570.6,430.3 571.1,430.5 571.6,430.8 572.1,431.1 572.6,431.4 573.1,431.8 573.6,432.1 574.1,432.4 574.6,432.8 575.1,433.2 575.6,433.7 576.1,434.2 576.6,434.8 577.1,435.4 577.6,435.9 578.1,436.5 578.6,437.0 579.1,437.6 579.6,438.1 580.1,438.6 580.6,439.2 581.1,439.7 581.6,440.2 582.1,440.7 582.6,441.1 583.1,441.5 583.6,442.0 584.1,442.4 584.6,442.8 585.1,443.2 585.6,443.7 586.1,444.2 586.6,444.8 587.1,445.5 587.6,446.1 588.1,446.8 588.6,447.5 589.1,448.1 589.6,448.7 590.1,449.3 590.6,449.9 591.1,450.4 591.6,450.6 592.1,450.5 592.6,450.0 593.1,449.5 593.6,448.9 594.1,448.4 594.6,447.9 595.1,447.4 595.6,446.9 596.1,446.4 596.6,445.9 597.1,445.4 597.6,444.9 598.1,444.4 598.6,444.0 599.1,443.6 599.6,443.3 600.1,443.0 600.6,442.8 601.1,442.6 601.6,442.5 602.1,442.5 602.6,442.7 603.1,443.0 603.6,443.4 604.1,443.8 604.6,444.2 605.1,444.5 605.6,444.9 606.1,445.2 606.6,445.5 607.1,445.8 607.6,446.1 608.1,446.3 608.6,446.4 609.1,446.4 609.6,446.1 610.1,445.7 610.6,445.2 611.1,444.8 611.6,444.4 612.1,444.0 612.6,443.7 613.1,443.4 613.6,443.1 614.1,442.8 614.6,442.5 615.1,442.2 615.6,442.0 616.1,442.0 616.6,442.1 617.1,442.4 617.6,442.7 618.1,443.0 618.6,443.3 619.1,443.5 619.6,443.8 620.1,444.0 620.6,444.3 621.1,444.5 621.6,444.8 622.1,445.0 622.6,445.2 623.1,445.3 623.6,445.3 624.1,445.2 624.6,445.0 625.1,444.9 625.6,444.7 626.1,444.6 626.6,444.4 627.1,444.3 627.6,444.1 628.1,443.9 628.6,443.8 629.1,443.6 629.6,443.4 630.1,443.2 630.6,443.0 631.1,442.8 631.6,442.6 632.1,442.4 632.6,442.2 633.1,442.0 633.6,441.9 634.1,441.8 634.6,441.7 635.1,441.6 635.6,441.5 636.1,441.4 636.6,441.3 637.1,441.2 637.6,441.1 638.1,441.1 638.6,441.1 639.1,441.0 639.6,441.0 640.1,441.0 640.6,441.0 641.1,441.0 641.6,440.9 642.1,440.9 642.6,440.9 643.1,440.9 643.6,440.9 644.1,440.8 644.6,440.8 645.1,440.8 645.6,440.8 646.1,440.8 646.6,440.7 647.1,440.7 647.6,440.7 648.1,440.7 648.6,440.7 649.1,440.7 649.6,440.6 650.1,440.6 650.6,440.6 651.1,440.6 651.6,440.6 652.1,440.5 652.6,440.5 653.1,440.5 653.6,440.5 654.1,440.5 654.6,440.5 655.1,440.4 655.6,440.4 656.1,440.4 656.6,440.4 657.1,440.4 657.6,440.4 658.1,440.3 658.6,440.3" fill="none" stroke="#f6c224" stroke-width="1.3" stroke-linejoin="round"/>
<polyline points="484.6,438.6 485.1,438.6 485.6,438.6 486.1,438.6 486.6,438.7 487.1,438.7 487.6,438.7 488.1,438.7 488.6,438.7 489.1,438.7 489.6,438.7 490.1,438.7 490.6,438.8 491.1,438.8 491.6,438.8 492.1,438.8 492.6,438.8 493.1,438.8 493.6,438.8 494.1,438.8 494.6,438.9 495.1,438.9 495.6,438.9 496.1,438.9 496.6,438.9 497.1,438.9 497.6,438.9 498.1,439.0 498.6,439.0 499.1,439.0 499.6,439.0 500.1,439.0 500.6,439.0 501.1,439.1 501.6,439.1 502.1,439.1 502.6,439.2 503.1,439.2 503.6,439.2 504.1,439.3 504.6,439.3 505.1,439.3 505.6,439.3 506.1,439.4 506.6,439.4 507.1,439.4 507.6,439.5 508.1,439.5 508.6,439.5 509.1,439.6 509.6,439.6 510.1,439.6 510.6,439.7 511.1,439.7 511.6,439.7 512.1,439.8 512.6,439.8 513.1,439.8 513.6,439.8 514.1,439.9 514.6,439.9 515.1,439.9 515.6,440.0 516.1,440.1 516.6,440.2 517.1,440.3 517.6,440.4 518.1,440.5 518.6,440.6 519.1,440.7 519.6,440.9 520.1,441.0 520.6,441.1 521.1,441.3 521.6,441.4 522.1,441.6 522.6,441.8 523.1,441.9 523.6,442.1 524.1,442.3 524.6,442.5 525.1,442.6 525.6,442.6 526.1,442.6 526.6,442.4 527.1,442.3 527.6,441.9 528.1,441.3 528.6,440.3 529.1,439.0 529.6,437.6 530.1,435.9 530.6,434.0 531.1,431.9 531.6,429.6 532.1,427.0 532.6,423.8 533.1,419.7 533.6,415.0 534.1,410.0 534.6,405.0 535.1,400.0 535.6,395.0 536.1,390.1 536.6,385.6 537.1,381.4 537.6,377.5 538.1,373.9 538.6,370.8 539.1,368.3 539.6,366.3 540.1,365.0 540.6,364.0 541.1,363.4 541.6,363.0 542.1,362.6 542.6,362.3 543.1,362.1 543.6,362.0 544.1,362.0 544.6,362.2 545.1,362.4 545.6,362.8 546.1,363.4 546.6,364.0 547.1,364.8 547.6,365.7 548.1,366.5 548.6,367.3 549.1,368.1 549.6,368.9 550.1,369.6 550.6,370.3 551.1,371.1 551.6,371.8 552.1,372.5 552.6,373.2 553.1,373.7 553.6,374.0 554.1,374.0 554.6,373.8 555.1,373.5 555.6,373.1 556.1,372.4 556.6,371.5 557.1,370.4 557.6,369.3 558.1,368.1 558.6,366.9 559.1,365.7 559.6,364.4 560.1,363.1 560.6,361.7 561.1,360.4 561.6,359.2 562.1,358.1 562.6,357.2 563.1,356.3 563.6,355.6 564.1,354.9 564.6,354.2 565.1,353.6 565.6,353.2 566.1,352.9 566.6,352.6 567.1,352.3 567.6,352.2 568.1,352.3 568.6,352.4 569.1,352.6 569.6,352.9 570.1,353.3 570.6,353.8 571.1,354.5 571.6,355.1 572.1,355.8 572.6,356.5 573.1,357.4 573.6,358.4 574.1,359.5 574.6,360.6 575.1,361.7 575.6,362.9 576.1,364.0 576.6,365.1 577.1,366.4 577.6,367.7 578.1,369.0 578.6,370.4 579.1,371.8 579.6,373.2 580.1,374.5 580.6,375.9 581.1,377.3 581.6,378.8 582.1,380.3 582.6,381.8 583.1,383.3 583.6,384.8 584.1,386.3 584.6,387.7 585.1,389.1 585.6,390.3 586.1,391.5 586.6,392.6 587.1,393.7 587.6,394.8 588.1,396.0 588.6,397.0 589.1,397.9 589.6,398.7 590.1,399.4 590.6,400.0 591.1,400.6 591.6,401.3 592.1,401.9 592.6,402.5 593.1,402.8 593.6,402.8 594.1,402.5 594.6,402.1 595.1,401.7 595.6,401.3 596.1,400.7 596.6,400.1 597.1,399.3 597.6,398.6 598.1,397.8 598.6,397.1 599.1,396.4 599.6,395.7 600.1,395.1 600.6,394.7 601.1,394.4 601.6,394.1 602.1,393.9 602.6,393.6 603.1,393.4 603.6,393.3 604.1,393.4 604.6,393.7 605.1,394.1 605.6,394.4 606.1,394.8 606.6,395.2 607.1,395.5 607.6,395.8 608.1,396.0 608.6,396.3 609.1,396.5 609.6,396.8 610.1,397.0 610.6,397.2 611.1,397.3 611.6,397.3 612.1,397.1 612.6,396.9 613.1,396.7 613.6,396.5 614.1,396.3 614.6,396.2 615.1,396.0 615.6,395.9 616.1,395.9 616.6,395.8 617.1,395.8 617.6,395.7 618.1,395.6 618.6,395.6 619.1,395.6 619.6,395.7 620.1,395.8 620.6,396.0 621.1,396.3 621.6,396.5 622.1,396.7 622.6,396.9 623.1,397.2 623.6,397.4 624.1,397.6 624.6,397.8 625.1,398.1 625.6,398.3 626.1,398.5 626.6,398.8 627.1,399.1 627.6,399.3 628.1,399.6 628.6,399.8 629.1,400.0 629.6,400.3 630.1,400.6 630.6,400.8 631.1,401.0 631.6,401.3 632.1,401.4 632.6,401.6 633.1,401.7 633.6,401.7 634.1,401.8 634.6,401.9 635.1,401.9 635.6,402.0 636.1,402.1 636.6,402.2 637.1,402.2 637.6,402.3 638.1,402.4 638.6,402.5 639.1,402.5 639.6,402.6 640.1,402.7 640.6,402.7 641.1,402.8 641.6,402.9 642.1,402.9 642.6,402.9 643.1,402.9 643.6,402.8 644.1,402.8 644.6,402.7 645.1,402.6 645.6,402.6 646.1,402.5 646.6,402.4 647.1,402.4 647.6,402.3 648.1,402.2 648.6,402.2 649.1,402.1 649.6,402.1 650.1,402.0 650.6,401.9 651.1,401.9 651.6,401.8 652.1,401.8 652.6,401.7 653.1,401.7 653.6,401.6 654.1,401.5 654.6,401.5 655.1,401.4 655.6,401.4 656.1,401.3 656.6,401.3 657.1,401.2 657.6,401.2 658.1,401.1 658.6,401.1" fill="none" stroke="#e25a3e" stroke-width="1.3" stroke-linejoin="round"/>
<polyline points="484.6,438.4 485.1,438.4 485.6,438.4 486.1,438.4 486.6,438.5 487.1,438.5 487.6,438.5 488.1,438.5 488.6,438.5 489.1,438.5 489.6,438.5 490.1,438.5 490.6,438.6 491.1,438.6 491.6,438.6 492.1,438.6 492.6,438.6 493.1,438.6 493.6,438.6 494.1,438.6 494.6,438.7 495.1,438.7 495.6,438.7 496.1,438.7 496.6,438.7 497.1,438.7 497.6,438.7 498.1,438.8 498.6,438.8 499.1,438.8 499.6,438.8 500.1,438.8 500.6,438.8 501.1,438.9 501.6,438.9 502.1,438.9 502.6,439.0 503.1,439.0 503.6,439.0 504.1,439.1 504.6,439.1 505.1,439.1 505.6,439.1 506.1,439.2 506.6,439.2 507.1,439.2 507.6,439.3 508.1,439.3 508.6,439.3 509.1,439.4 509.6,439.4 510.1,439.4 510.6,439.5 511.1,439.5 511.6,439.5 512.1,439.6 512.6,439.6 513.1,439.6 513.6,439.6 514.1,439.7 514.6,439.7 515.1,439.7 515.6,439.8 516.1,439.9 516.6,440.0 517.1,440.1 517.6,440.2 518.1,440.3 518.6,440.4 519.1,440.5 519.6,440.7 520.1,440.8 520.6,440.9 521.1,441.1 521.6,441.2 522.1,441.4 522.6,441.6 523.1,441.7 523.6,441.9 524.1,442.1 524.6,442.3 525.1,442.4 525.6,442.4 526.1,442.3 526.6,442.1 527.1,441.9 527.6,441.5 528.1,440.7 528.6,439.6 529.1,438.2 529.6,436.6 530.1,434.8 530.6,432.4 531.1,429.8 531.6,426.9 532.1,423.8 532.6,420.0 533.1,415.1 533.6,409.2 534.1,402.7 534.6,396.0 535.1,389.4 535.6,383.2 536.1,377.4 536.6,372.1 537.1,367.3 537.6,363.3 538.1,360.3 538.6,358.7 539.1,358.1 539.6,358.2 540.1,358.6 540.6,359.4 541.1,360.2 541.6,361.1 542.1,361.8 542.6,362.2 543.1,362.6 543.6,362.8 544.1,363.2 544.6,363.6 545.1,364.1 545.6,364.7 546.1,365.4 546.6,366.2 547.1,367.2 547.6,368.2 548.1,369.2 548.6,370.2 549.1,371.1 549.6,372.0 550.1,372.8 550.6,373.7 551.1,374.5 551.6,375.2 552.1,375.9 552.6,376.4 553.1,376.8 553.6,377.1 554.1,377.3 554.6,377.4 555.1,377.2 555.6,376.9 556.1,376.6 556.6,376.1 557.1,375.5 557.6,374.7 558.1,373.8 558.6,372.8 559.1,371.8 559.6,370.8 560.1,369.8 560.6,368.8 561.1,367.8 561.6,366.8 562.1,365.8 562.6,364.9 563.1,364.0 563.6,363.2 564.1,362.5 564.6,361.9 565.1,361.2 565.6,360.6 566.1,360.2 566.6,359.9 567.1,359.7 567.6,359.6 568.1,359.6 568.6,359.6 569.1,359.8 569.6,360.0 570.1,360.2 570.6,360.4 571.1,360.8 571.6,361.2 572.1,361.8 572.6,362.4 573.1,363.0 573.6,363.6 574.1,364.4 574.6,365.2 575.1,366.2 575.6,367.2 576.1,368.2 576.6,369.3 577.1,370.4 577.6,371.6 578.1,372.9 578.6,374.3 579.1,375.6 579.6,376.9 580.1,378.1 580.6,379.3 581.1,380.5 581.6,381.6 582.1,382.7 582.6,383.8 583.1,385.0 583.6,386.1 584.1,387.2 584.6,388.2 585.1,389.2 585.6,390.2 586.1,391.2 586.6,392.2 587.1,393.2 587.6,394.2 588.1,395.1 588.6,395.9 589.1,396.7 589.6,397.4 590.1,398.1 590.6,398.8 591.1,399.4 591.6,399.9 592.1,400.3 592.6,400.6 593.1,400.7 593.6,400.6 594.1,400.3 594.6,399.8 595.1,399.3 595.6,398.7 596.1,398.0 596.6,397.2 597.1,396.5 597.6,395.7 598.1,395.1 598.6,394.6 599.1,394.3 599.6,393.9 600.1,393.6 600.6,393.3 601.1,393.1 601.6,393.0 602.1,392.9 602.6,392.9 603.1,392.9 603.6,392.9 604.1,393.1 604.6,393.3 605.1,393.5 605.6,393.8 606.1,394.0 606.6,394.3 607.1,394.5 607.6,394.8 608.1,395.0 608.6,395.3 609.1,395.5 609.6,395.8 610.1,396.0 610.6,396.2 611.1,396.3 611.6,396.3 612.1,396.2 612.6,396.1 613.1,396.0 613.6,395.9 614.1,395.7 614.6,395.6 615.1,395.5 615.6,395.5 616.1,395.4 616.6,395.4 617.1,395.4 617.6,395.3 618.1,395.3 618.6,395.3 619.1,395.3 619.6,395.3 620.1,395.5 620.6,395.7 621.1,395.9 621.6,396.1 622.1,396.3 622.6,396.5 623.1,396.6 623.6,396.9 624.1,397.1 624.6,397.3 625.1,397.5 625.6,397.8 626.1,398.1 626.6,398.3 627.1,398.5 627.6,398.8 628.1,399.1 628.6,399.3 629.1,399.5 629.6,399.8 630.1,400.0 630.6,400.2 631.1,400.4 631.6,400.5 632.1,400.7 632.6,400.9 633.1,401.0 633.6,401.2 634.1,401.4 634.6,401.5 635.1,401.7 635.6,401.8 636.1,402.0 636.6,402.0 637.1,402.1 637.6,402.1 638.1,402.2 638.6,402.2 639.1,402.3 639.6,402.3 640.1,402.4 640.6,402.4 641.1,402.5 641.6,402.5 642.1,402.5 642.6,402.5 643.1,402.5 643.6,402.5 644.1,402.4 644.6,402.4 645.1,402.3 645.6,402.3 646.1,402.2 646.6,402.2 647.1,402.1 647.6,402.1 648.1,402.0 648.6,401.9 649.1,401.9 649.6,401.8 650.1,401.8 650.6,401.8 651.1,401.7 651.6,401.7 652.1,401.6 652.6,401.6 653.1,401.6 653.6,401.5 654.1,401.5 654.6,401.4 655.1,401.4 655.6,401.4 656.1,401.3 656.6,401.3 657.1,401.2 657.6,401.2 658.1,401.2 658.6,401.1" fill="none" stroke="#2d6ec4" stroke-width="1.3" stroke-linejoin="round"/>
<text x="294.4" y="351.6" font-size="11.6" font-weight="bold">e<tspan font-size="8.8" font-style="italic" dy="2.4">g</tspan></text>
<text x="318.6" y="349.6" font-size="11.6" font-weight="bold" font-style="italic">t<tspan font-size="8.0" dy="2.4">2g</tspan></text>
<text x="535.5" y="352.0" font-size="11.6" font-weight="bold">e<tspan font-size="8.8" font-style="italic" dy="2.4">g</tspan></text>
<text x="559.6" y="349.3" font-size="11.6" font-weight="bold" font-style="italic">t<tspan font-size="8.0" dy="2.4">2g</tspan></text>
<text x="264" y="355.9" font-size="9.6" font-weight="bold" text-anchor="middle"><tspan font-style="italic">n</tspan> = 3</text>
<text x="264.00" y="368.80" font-size="9.80" font-weight="bold" text-anchor="middle">20 nm</text>
<text x="503.60" y="355.90" font-size="9.80" font-weight="bold" text-anchor="middle">HZO</text>
<text x="504.80" y="369.20" font-size="9.80" font-weight="bold" text-anchor="middle">20 nm</text>
<polygon points="267.0,381.4 274.0,376.8 274.0,379.2 289.9,379.2 289.9,383.6 274.0,383.6 274.0,386.0" fill="#4a80d6"/>
<polygon points="506.0,381.6 513.0,377.0 513.0,379.4 529.0,379.4 529.0,383.8 513.0,383.8 513.0,386.2" fill="#1f5ea8"/>
<polygon points="416.3,446.1 408.8,441.6 408.8,443.8 392.9,443.8 392.9,448.4 408.8,448.4 408.8,450.6" fill="#ffc000"/>
<polygon points="657.6,446.4 650.1,441.9 650.1,444.1 635.1,444.1 635.1,448.7 650.1,448.7 650.1,450.9" fill="#ffc000"/>
<line x1="296.00" y1="415.40" x2="347.60" y2="415.40" stroke="#7030a0" stroke-width="1.3"/>
<polygon points="292.0,415.4 298.0,412.2 298.0,418.6" fill="#7030a0"/>
<polygon points="351.6,415.4 345.6,412.2 345.6,418.6" fill="#7030a0"/>
<line x1="357.60" y1="415.40" x2="413.20" y2="415.40" stroke="#7030a0" stroke-width="1.3"/>
<polygon points="353.6,415.4 359.6,412.2 359.6,418.6" fill="#7030a0"/>
<polygon points="417.2,415.4 411.2,412.2 411.2,418.6" fill="#7030a0"/>
<line x1="537.40" y1="416.00" x2="588.40" y2="416.00" stroke="#7030a0" stroke-width="1.3"/>
<polygon points="533.4,416.0 539.4,412.8 539.4,419.2" fill="#7030a0"/>
<polygon points="592.4,416.0 586.4,412.8 586.4,419.2" fill="#7030a0"/>
<line x1="598.20" y1="416.00" x2="654.40" y2="416.00" stroke="#7030a0" stroke-width="1.3"/>
<polygon points="594.2,416.0 600.2,412.8 600.2,419.2" fill="#7030a0"/>
<polygon points="658.4,416.0 652.4,412.8 652.4,419.2" fill="#7030a0"/>
<text x="323.3" y="413.3" font-size="8.6" font-weight="bold" text-anchor="middle">Hf 5<tspan font-style="italic">d</tspan></text>
<text x="323.3" y="424.6" font-size="8.6" font-weight="bold" text-anchor="middle">Zr 4<tspan font-style="italic">d</tspan></text>
<text x="385.0" y="413.6" font-size="8.6" font-weight="bold" text-anchor="middle">Hf 6<tspan font-style="italic">sp</tspan></text>
<text x="385.0" y="424.9" font-size="8.6" font-weight="bold" text-anchor="middle">Zr 5<tspan font-style="italic">sp</tspan></text>
<text x="564.6" y="413.6" font-size="8.6" font-weight="bold" text-anchor="middle">Hf 5<tspan font-style="italic">d</tspan></text>
<text x="564.6" y="424.9" font-size="8.6" font-weight="bold" text-anchor="middle">Zr 4<tspan font-style="italic">d</tspan></text>
<text x="626.2" y="413.6" font-size="8.6" font-weight="bold" text-anchor="middle">Hf 6<tspan font-style="italic">sp</tspan></text>
<text x="626.2" y="424.9" font-size="8.6" font-weight="bold" text-anchor="middle">Zr 5<tspan font-style="italic">sp</tspan></text>
<line x1="368.30" y1="347.30" x2="386.30" y2="347.30" stroke="#e8333b" stroke-width="1.5"/>
<text x="389.00" y="350.30" font-size="8.60" font-weight="bold">E//c</text>
<line x1="368.30" y1="357.80" x2="386.30" y2="357.80" stroke="#5a8ed8" stroke-width="1.5"/>
<text x="389.00" y="360.80" font-size="8.60" font-weight="bold">E//ab</text>
<line x1="368.30" y1="367.90" x2="386.30" y2="367.90" stroke="#f4c01e" stroke-width="1.5"/>
<text x="389.00" y="370.90" font-size="8.60" font-weight="bold">XLD</text>
<line x1="609.20" y1="347.60" x2="627.20" y2="347.60" stroke="#e25a3e" stroke-width="1.5"/>
<text x="629.90" y="350.60" font-size="8.60" font-weight="bold">E//c</text>
<line x1="609.20" y1="357.80" x2="627.20" y2="357.80" stroke="#2d6ec4" stroke-width="1.5"/>
<text x="629.90" y="360.80" font-size="8.60" font-weight="bold">E//ab</text>
<line x1="609.20" y1="368.30" x2="627.20" y2="368.30" stroke="#f6c224" stroke-width="1.5"/>
<text x="629.90" y="371.30" font-size="8.60" font-weight="bold">XLD</text>
</svg>
</body></html>
